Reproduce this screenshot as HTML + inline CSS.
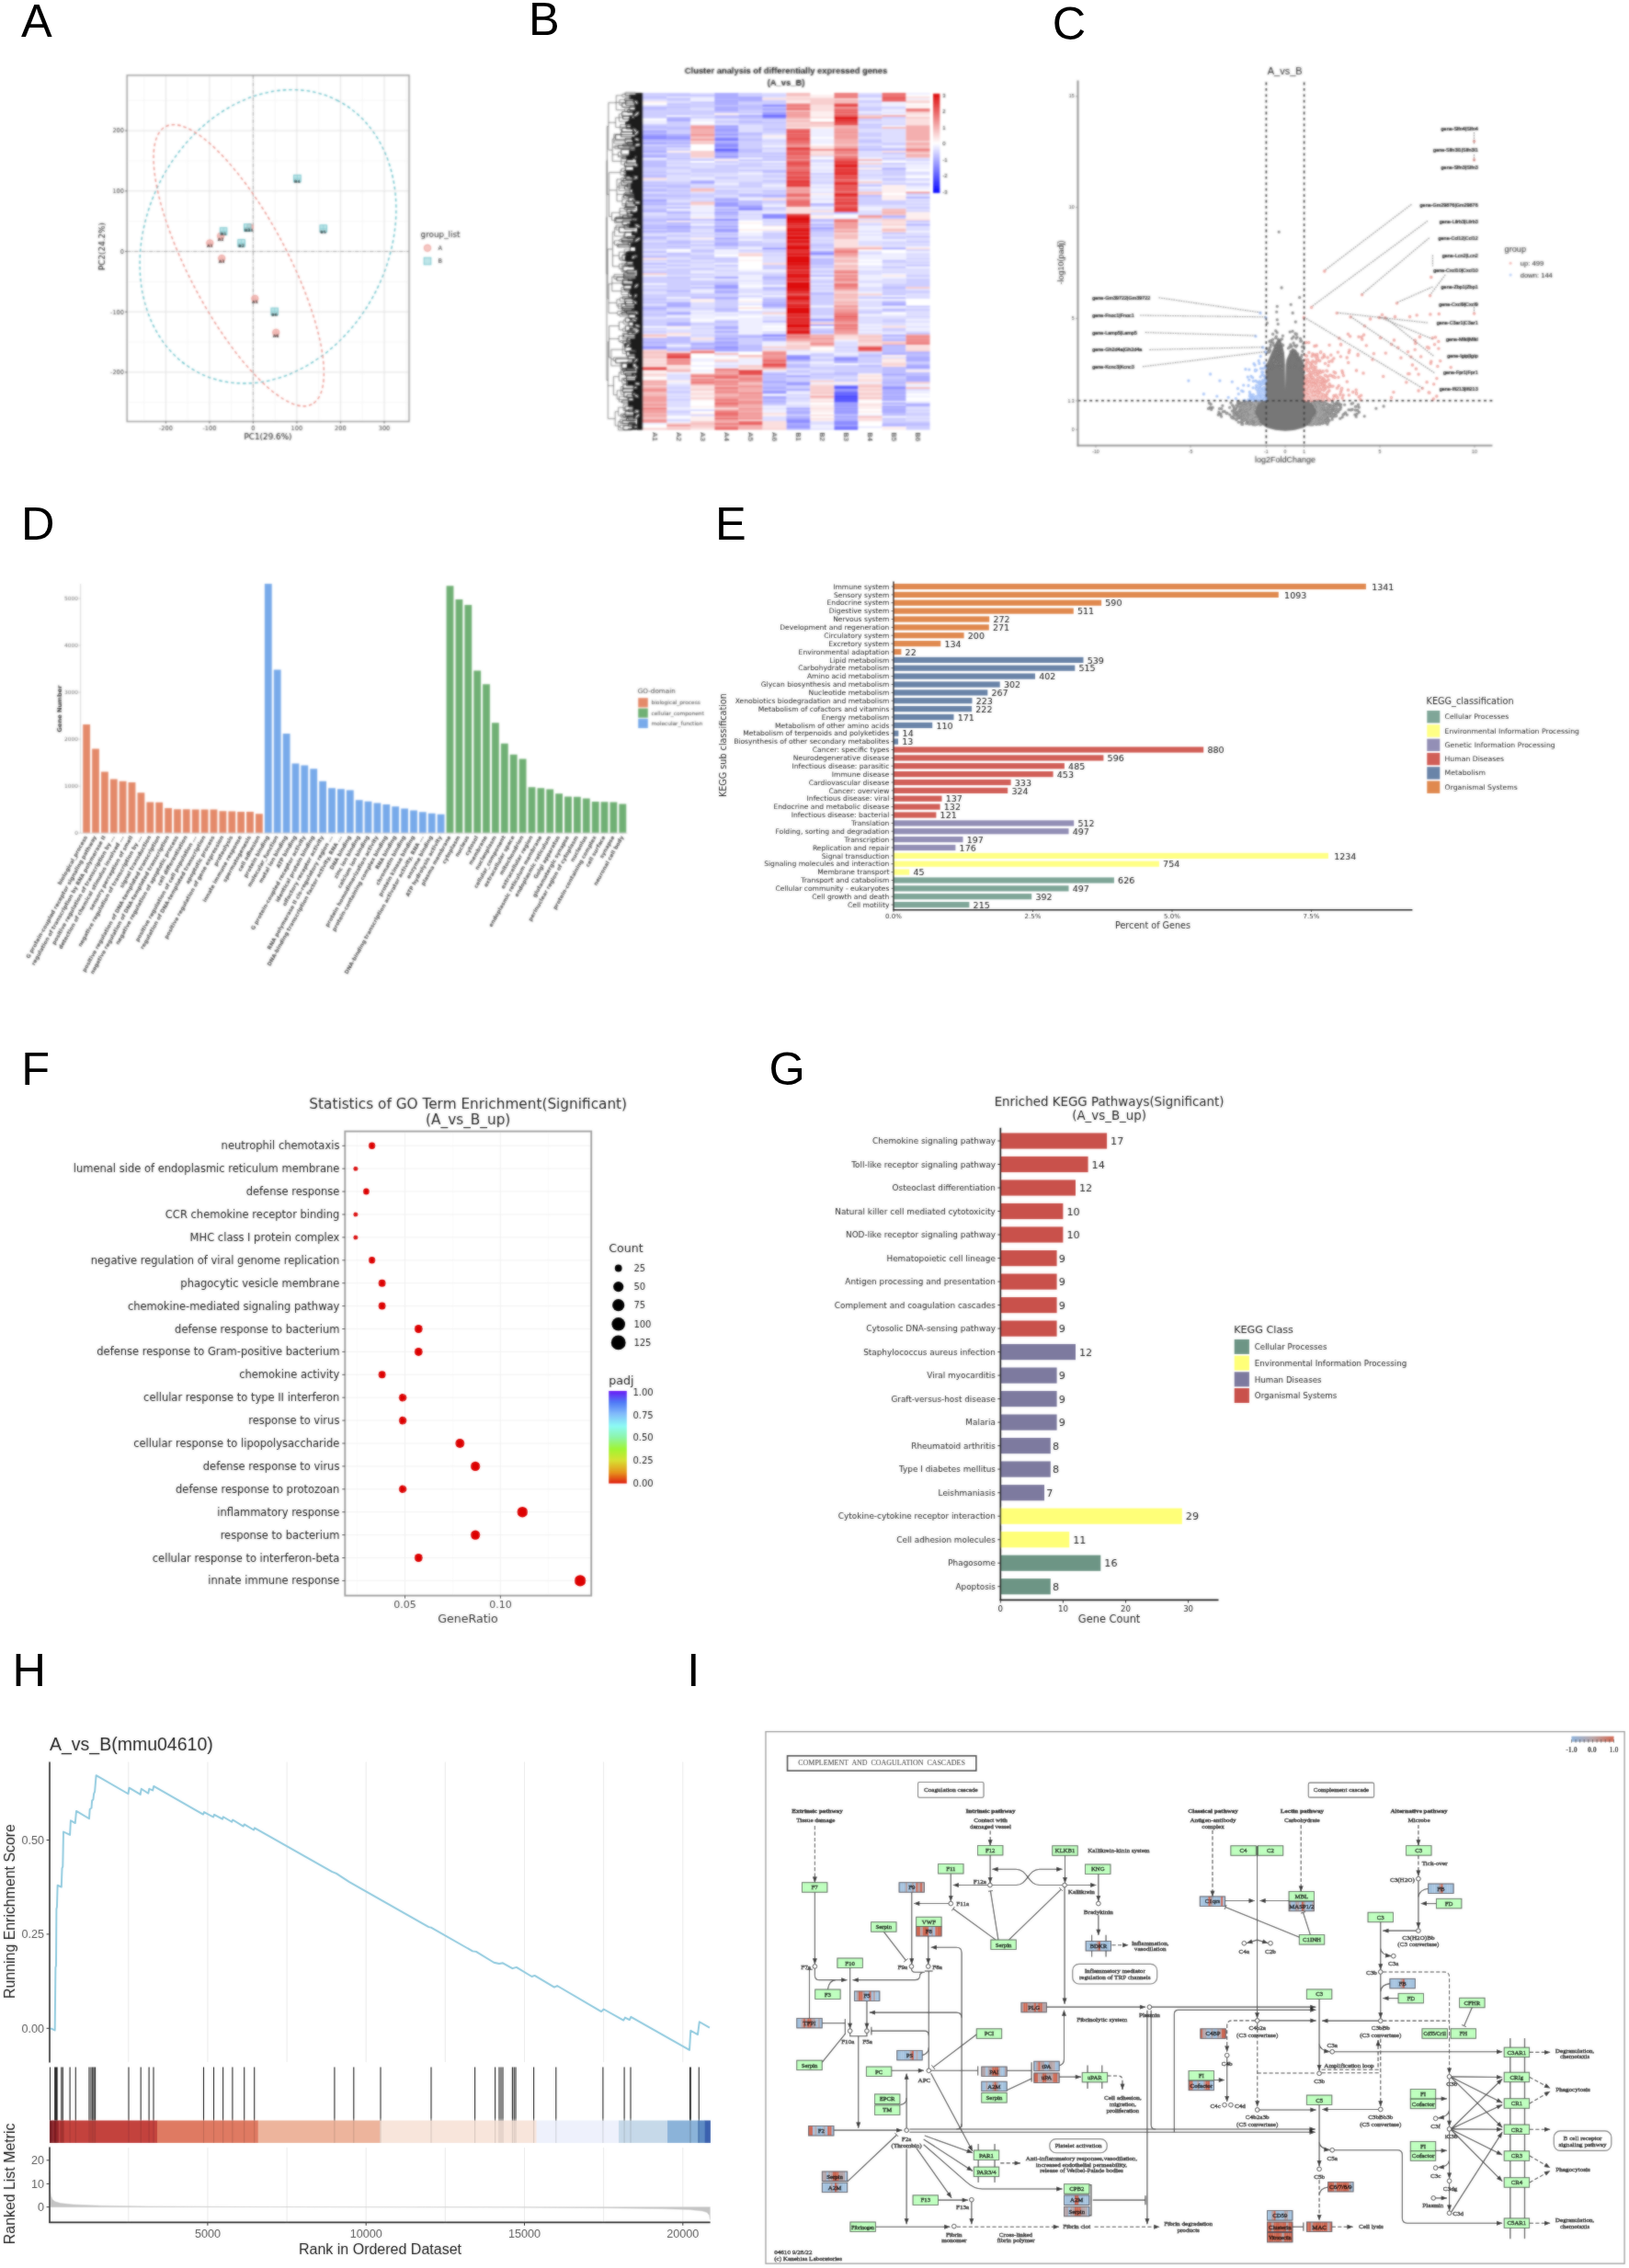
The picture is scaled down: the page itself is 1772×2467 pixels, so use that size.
<!DOCTYPE html><html><head><meta charset="utf-8"><title>Figure</title>
<style>html,body{margin:0;padding:0;background:#fff}svg{display:block}text{white-space:pre}</style></head><body>
<svg width="1772" height="2467" viewBox="0 0 1772 2467">
<defs><filter id="bla" x="-5%" y="-5%" width="110%" height="110%"><feGaussianBlur stdDeviation="0.85" result="b"/><feComposite in="SourceGraphic" in2="b" operator="arithmetic" k1="0" k2="0.20" k3="0.80" k4="0"/></filter><filter id="blb" x="-5%" y="-5%" width="110%" height="110%"><feGaussianBlur stdDeviation="0.85" result="b"/><feComposite in="SourceGraphic" in2="b" operator="arithmetic" k1="0" k2="0.15" k3="0.85" k4="0"/></filter><filter id="blc" x="-5%" y="-5%" width="110%" height="110%"><feGaussianBlur stdDeviation="0.85" result="b"/><feComposite in="SourceGraphic" in2="b" operator="arithmetic" k1="0" k2="0.20" k3="0.80" k4="0"/></filter><filter id="bld" x="-5%" y="-5%" width="110%" height="110%"><feGaussianBlur stdDeviation="0.85" result="b"/><feComposite in="SourceGraphic" in2="b" operator="arithmetic" k1="0" k2="0.25" k3="0.75" k4="0"/></filter><filter id="ble" x="-5%" y="-5%" width="110%" height="110%"><feGaussianBlur stdDeviation="0.85" result="b"/><feComposite in="SourceGraphic" in2="b" operator="arithmetic" k1="0" k2="0.45" k3="0.55" k4="0"/></filter><filter id="blf" x="-5%" y="-5%" width="110%" height="110%"><feGaussianBlur stdDeviation="0.85" result="b"/><feComposite in="SourceGraphic" in2="b" operator="arithmetic" k1="0" k2="0.50" k3="0.50" k4="0"/></filter><filter id="blg" x="-5%" y="-5%" width="110%" height="110%"><feGaussianBlur stdDeviation="0.85" result="b"/><feComposite in="SourceGraphic" in2="b" operator="arithmetic" k1="0" k2="0.50" k3="0.50" k4="0"/></filter><filter id="blh" x="-5%" y="-5%" width="110%" height="110%"><feGaussianBlur stdDeviation="0.85" result="b"/><feComposite in="SourceGraphic" in2="b" operator="arithmetic" k1="0" k2="0.70" k3="0.30" k4="0"/></filter><filter id="bli" x="-5%" y="-5%" width="110%" height="110%"><feGaussianBlur stdDeviation="0.85" result="b"/><feComposite in="SourceGraphic" in2="b" operator="arithmetic" k1="0" k2="0.55" k3="0.45" k4="0"/></filter></defs>
<rect width="1772" height="2467" fill="#fff"/>
<text x="22.9" y="39.8" font-size="50.5" font-family='"Liberation Sans", sans-serif'>A</text>
<text x="575" y="38.1" font-size="50.5" font-family='"Liberation Sans", sans-serif'>B</text>
<text x="1144.7" y="42.9" font-size="50.5" font-family='"Liberation Sans", sans-serif'>C</text>
<text x="23.1" y="587" font-size="50.5" font-family='"Liberation Sans", sans-serif'>D</text>
<text x="778.1" y="587" font-size="50.5" font-family='"Liberation Sans", sans-serif'>E</text>
<text x="23.3" y="1179.9" font-size="50.5" font-family='"Liberation Sans", sans-serif'>F</text>
<text x="836.4" y="1179.9" font-size="50.5" font-family='"Liberation Sans", sans-serif'>G</text>
<text x="13.5" y="1834.3" font-size="50.5" font-family='"Liberation Sans", sans-serif'>H</text>
<text x="747.2" y="1834.3" font-size="50.5" font-family='"Liberation Sans", sans-serif'>I</text>
<g filter="url(#bla)"><g font-family='"DejaVu Sans", "Liberation Sans", sans-serif'>
<line x1="156.6" y1="81.9" x2="156.6" y2="458.5" stroke="#f0f0f0" stroke-width="0.6"/>
<line x1="204.1" y1="81.9" x2="204.1" y2="458.5" stroke="#f0f0f0" stroke-width="0.6"/>
<line x1="251.6" y1="81.9" x2="251.6" y2="458.5" stroke="#f0f0f0" stroke-width="0.6"/>
<line x1="299.2" y1="81.9" x2="299.2" y2="458.5" stroke="#f0f0f0" stroke-width="0.6"/>
<line x1="346.7" y1="81.9" x2="346.7" y2="458.5" stroke="#f0f0f0" stroke-width="0.6"/>
<line x1="394.2" y1="81.9" x2="394.2" y2="458.5" stroke="#f0f0f0" stroke-width="0.6"/>
<line x1="441.7" y1="81.9" x2="441.7" y2="458.5" stroke="#f0f0f0" stroke-width="0.6"/>
<line x1="138.2" y1="437.8" x2="445" y2="437.8" stroke="#f0f0f0" stroke-width="0.6"/>
<line x1="138.2" y1="372.1" x2="445" y2="372.1" stroke="#f0f0f0" stroke-width="0.6"/>
<line x1="138.2" y1="306.4" x2="445" y2="306.4" stroke="#f0f0f0" stroke-width="0.6"/>
<line x1="138.2" y1="240.7" x2="445" y2="240.7" stroke="#f0f0f0" stroke-width="0.6"/>
<line x1="138.2" y1="174.9" x2="445" y2="174.9" stroke="#f0f0f0" stroke-width="0.6"/>
<line x1="138.2" y1="109.2" x2="445" y2="109.2" stroke="#f0f0f0" stroke-width="0.6"/>
<line x1="180.4" y1="81.9" x2="180.4" y2="458.5" stroke="#e2e2e2" stroke-width="1"/>
<line x1="227.9" y1="81.9" x2="227.9" y2="458.5" stroke="#e2e2e2" stroke-width="1"/>
<line x1="275.4" y1="81.9" x2="275.4" y2="458.5" stroke="#e2e2e2" stroke-width="1"/>
<line x1="322.9" y1="81.9" x2="322.9" y2="458.5" stroke="#e2e2e2" stroke-width="1"/>
<line x1="370.4" y1="81.9" x2="370.4" y2="458.5" stroke="#e2e2e2" stroke-width="1"/>
<line x1="418" y1="81.9" x2="418" y2="458.5" stroke="#e2e2e2" stroke-width="1"/>
<line x1="138.2" y1="404.9" x2="445" y2="404.9" stroke="#e2e2e2" stroke-width="1"/>
<line x1="138.2" y1="339.2" x2="445" y2="339.2" stroke="#e2e2e2" stroke-width="1"/>
<line x1="138.2" y1="273.5" x2="445" y2="273.5" stroke="#e2e2e2" stroke-width="1"/>
<line x1="138.2" y1="207.8" x2="445" y2="207.8" stroke="#e2e2e2" stroke-width="1"/>
<line x1="138.2" y1="142.1" x2="445" y2="142.1" stroke="#e2e2e2" stroke-width="1"/>
<line x1="275.4" y1="81.9" x2="275.4" y2="458.5" stroke="#9a9a9a" stroke-width="0.9" stroke-dasharray="4 1.5 1 1.5"/>
<line x1="138.2" y1="273.5" x2="445" y2="273.5" stroke="#9a9a9a" stroke-width="0.9" stroke-dasharray="4 1.5 1 1.5"/>
<ellipse cx="291.5" cy="257.3" rx="166.2" ry="131.6" transform="rotate(-63.1 291.5 257.3)" fill="none" stroke="#5fbec7" stroke-width="1.35" stroke-dasharray="3.6 2.9"/>
<ellipse cx="259.7" cy="288.7" rx="170.7" ry="53.6" transform="rotate(62.2 259.7 288.7)" fill="none" stroke="#ea8d84" stroke-width="1.35" stroke-dasharray="3.6 2.9"/>
<rect x="138.2" y="81.9" width="306.8" height="376.6" fill="none" stroke="#9a9a9a" stroke-width="1.4"/>
<circle cx="228.3" cy="264.4" r="3.7" fill="#f3b6b0" fill-opacity=".75" stroke="#e8968f" stroke-width=".8"/>
<path d="M224.6 264.4h7.4M228.3 260.7v7.4" stroke="#e8968f" stroke-width=".6" opacity=".8"/>
<text x="228.3" y="269.3" font-size="4.6" text-anchor="middle" font-weight="bold" fill="#111">A1</text>
<circle cx="240.1" cy="256.7" r="3.7" fill="#f3b6b0" fill-opacity=".75" stroke="#e8968f" stroke-width=".8"/>
<path d="M236.4 256.7h7.4M240.1 253v7.4" stroke="#e8968f" stroke-width=".6" opacity=".8"/>
<text x="240.1" y="261.6" font-size="4.6" text-anchor="middle" font-weight="bold" fill="#111">A2</text>
<circle cx="241.2" cy="281" r="3.7" fill="#f3b6b0" fill-opacity=".75" stroke="#e8968f" stroke-width=".8"/>
<path d="M237.5 281h7.4M241.2 277.3v7.4" stroke="#e8968f" stroke-width=".6" opacity=".8"/>
<text x="241.2" y="285.9" font-size="4.6" text-anchor="middle" font-weight="bold" fill="#111">A3</text>
<circle cx="271.9" cy="247.2" r="3.7" fill="#f3b6b0" fill-opacity=".75" stroke="#e8968f" stroke-width=".8"/>
<path d="M268.2 247.2h7.4M271.9 243.5v7.4" stroke="#e8968f" stroke-width=".6" opacity=".8"/>
<text x="271.9" y="252.1" font-size="4.6" text-anchor="middle" font-weight="bold" fill="#111">A4</text>
<circle cx="277.3" cy="324.8" r="3.7" fill="#f3b6b0" fill-opacity=".75" stroke="#e8968f" stroke-width=".8"/>
<path d="M273.6 324.8h7.4M277.3 321.1v7.4" stroke="#e8968f" stroke-width=".6" opacity=".8"/>
<text x="277.3" y="329.7" font-size="4.6" text-anchor="middle" font-weight="bold" fill="#111">A5</text>
<circle cx="300.2" cy="361.7" r="3.7" fill="#f3b6b0" fill-opacity=".75" stroke="#e8968f" stroke-width=".8"/>
<path d="M296.5 361.7h7.4M300.2 358v7.4" stroke="#e8968f" stroke-width=".6" opacity=".8"/>
<text x="300.2" y="366.6" font-size="4.6" text-anchor="middle" font-weight="bold" fill="#111">A6</text>
<rect x="239.3" y="247.7" width="7.6" height="7.6" fill="#a8dde1" fill-opacity=".75" stroke="#62bdc6" stroke-width=".8"/>
<path d="M239.3 251.5h7.6M243.1 247.7v7.6" stroke="#62bdc6" stroke-width=".6" opacity=".8"/>
<text x="243.1" y="256.4" font-size="4.6" text-anchor="middle" font-weight="bold" fill="#111">B1</text>
<rect x="258.8" y="260.6" width="7.6" height="7.6" fill="#a8dde1" fill-opacity=".75" stroke="#62bdc6" stroke-width=".8"/>
<path d="M258.8 264.4h7.6M262.6 260.6v7.6" stroke="#62bdc6" stroke-width=".6" opacity=".8"/>
<text x="262.6" y="269.3" font-size="4.6" text-anchor="middle" font-weight="bold" fill="#111">B2</text>
<rect x="265.4" y="243.7" width="7.6" height="7.6" fill="#a8dde1" fill-opacity=".75" stroke="#62bdc6" stroke-width=".8"/>
<path d="M265.4 247.5h7.6M269.2 243.7v7.6" stroke="#62bdc6" stroke-width=".6" opacity=".8"/>
<text x="269.2" y="252.4" font-size="4.6" text-anchor="middle" font-weight="bold" fill="#111">B3</text>
<rect x="319.6" y="190.3" width="7.6" height="7.6" fill="#a8dde1" fill-opacity=".75" stroke="#62bdc6" stroke-width=".8"/>
<path d="M319.6 194.1h7.6M323.4 190.3v7.6" stroke="#62bdc6" stroke-width=".6" opacity=".8"/>
<text x="323.4" y="199" font-size="4.6" text-anchor="middle" font-weight="bold" fill="#111">B4</text>
<rect x="347.9" y="244.8" width="7.6" height="7.6" fill="#a8dde1" fill-opacity=".75" stroke="#62bdc6" stroke-width=".8"/>
<path d="M347.9 248.6h7.6M351.7 244.8v7.6" stroke="#62bdc6" stroke-width=".6" opacity=".8"/>
<text x="351.7" y="253.5" font-size="4.6" text-anchor="middle" font-weight="bold" fill="#111">B5</text>
<rect x="294.9" y="335" width="7.6" height="7.6" fill="#a8dde1" fill-opacity=".75" stroke="#62bdc6" stroke-width=".8"/>
<path d="M294.9 338.8h7.6M298.7 335v7.6" stroke="#62bdc6" stroke-width=".6" opacity=".8"/>
<text x="298.7" y="343.7" font-size="4.6" text-anchor="middle" font-weight="bold" fill="#111">B6</text>
<line x1="180.4" y1="458.5" x2="180.4" y2="460.5" stroke="#333" stroke-width="0.9"/>
<text x="180.4" y="467.9" font-size="6.6" text-anchor="middle" fill="#333">-200</text>
<line x1="227.9" y1="458.5" x2="227.9" y2="460.5" stroke="#333" stroke-width="0.9"/>
<text x="227.9" y="467.9" font-size="6.6" text-anchor="middle" fill="#333">-100</text>
<line x1="275.4" y1="458.5" x2="275.4" y2="460.5" stroke="#333" stroke-width="0.9"/>
<text x="275.4" y="467.9" font-size="6.6" text-anchor="middle" fill="#333">0</text>
<line x1="322.9" y1="458.5" x2="322.9" y2="460.5" stroke="#333" stroke-width="0.9"/>
<text x="322.9" y="467.9" font-size="6.6" text-anchor="middle" fill="#333">100</text>
<line x1="370.4" y1="458.5" x2="370.4" y2="460.5" stroke="#333" stroke-width="0.9"/>
<text x="370.4" y="467.9" font-size="6.6" text-anchor="middle" fill="#333">200</text>
<line x1="418" y1="458.5" x2="418" y2="460.5" stroke="#333" stroke-width="0.9"/>
<text x="418" y="467.9" font-size="6.6" text-anchor="middle" fill="#333">300</text>
<line x1="136.2" y1="404.9" x2="138.2" y2="404.9" stroke="#333" stroke-width="0.9"/>
<text x="135" y="407.2" font-size="6.6" text-anchor="end" fill="#333">-200</text>
<line x1="136.2" y1="339.2" x2="138.2" y2="339.2" stroke="#333" stroke-width="0.9"/>
<text x="135" y="341.5" font-size="6.6" text-anchor="end" fill="#333">-100</text>
<line x1="136.2" y1="273.5" x2="138.2" y2="273.5" stroke="#333" stroke-width="0.9"/>
<text x="135" y="275.8" font-size="6.6" text-anchor="end" fill="#333">0</text>
<line x1="136.2" y1="207.8" x2="138.2" y2="207.8" stroke="#333" stroke-width="0.9"/>
<text x="135" y="210.1" font-size="6.6" text-anchor="end" fill="#333">100</text>
<line x1="136.2" y1="142.1" x2="138.2" y2="142.1" stroke="#333" stroke-width="0.9"/>
<text x="135" y="144.4" font-size="6.6" text-anchor="end" fill="#333">200</text>
<text x="291.5" y="478" font-size="8.8" text-anchor="middle" fill="#111">PC1(29.6%)</text>
<text x="114" y="268" font-size="8.8" text-anchor="middle" fill="#111" transform="rotate(-90 114 268)">PC2(24.2%)</text>
<text x="457.6" y="258" font-size="8.8" fill="#222">group_list</text>
<circle cx="465" cy="269.8" r="3.7" fill="#f3b6b0" fill-opacity=".75" stroke="#e8968f" stroke-width=".8"/>
<rect x="461.2" y="280.2" width="7.6" height="7.6" fill="#a8dde1" stroke="#62bdc6" stroke-width="0.8" fill-opacity=".75"/>
<text x="476.5" y="272.2" font-size="6.6" fill="#222">A</text>
<text x="476.5" y="286.4" font-size="6.6" fill="#222">B</text>
</g></g>
<g filter="url(#blb)"><g font-family='"Liberation Sans", sans-serif'>
<text x="855" y="79.6" font-size="9.4" text-anchor="middle" font-weight="bold" fill="#111">Cluster analysis of differentially expressed genes</text>
<text x="855" y="93" font-size="9.4" text-anchor="middle" font-weight="bold" fill="#111">(A_vs_B)</text>
<path fill="#ceceff" d="M699.2 101.1h26.1v1.9h-26.1zM699.2 102.9h26.1v1.9h-26.1zM699.2 106.6h26.1v1.9h-26.1zM699.2 119.6h26.1v1.9h-26.1zM699.2 121.4h26.1v1.9h-26.1zM699.2 123.3h26.1v1.9h-26.1zM699.2 125.1h26.1v1.9h-26.1zM699.2 127h26.1v1.9h-26.1zM699.2 134.4h26.1v1.9h-26.1zM699.2 139.9h26.1v1.9h-26.1zM699.2 156.6h26.1v1.9h-26.1zM699.2 165.8h26.1v1.9h-26.1zM699.2 173.2h26.1v1.9h-26.1zM699.2 182.5h26.1v1.9h-26.1zM699.2 184.3h26.1v1.9h-26.1zM699.2 188h26.1v1.9h-26.1zM699.2 199.1h26.1v1.9h-26.1zM699.2 202.8h26.1v1.9h-26.1zM699.2 213.9h26.1v1.9h-26.1zM699.2 223.2h26.1v1.9h-26.1zM699.2 225h26.1v1.9h-26.1zM699.2 234.3h26.1v1.9h-26.1zM699.2 236.1h26.1v1.9h-26.1zM699.2 241.7h26.1v1.9h-26.1zM699.2 249.1h26.1v1.9h-26.1zM699.2 252.8h26.1v1.9h-26.1zM699.2 260.2h26.1v1.9h-26.1zM699.2 265.8h26.1v1.9h-26.1zM699.2 267.6h26.1v1.9h-26.1zM699.2 269.4h26.1v1.9h-26.1zM699.2 276.9h26.1v1.9h-26.1zM699.2 282.4h26.1v1.9h-26.1zM699.2 293.5h26.1v1.9h-26.1zM699.2 300.9h26.1v1.9h-26.1zM699.2 302.8h26.1v1.9h-26.1zM699.2 304.6h26.1v1.9h-26.1zM699.2 306.4h26.1v1.9h-26.1zM699.2 310.1h26.1v1.9h-26.1zM699.2 313.8h26.1v1.9h-26.1zM699.2 315.7h26.1v1.9h-26.1zM699.2 319.4h26.1v1.9h-26.1zM699.2 321.2h26.1v1.9h-26.1zM699.2 323.1h26.1v1.9h-26.1zM699.2 326.8h26.1v1.9h-26.1zM699.2 337.9h26.1v1.9h-26.1zM699.2 339.8h26.1v1.9h-26.1zM699.2 343.4h26.1v1.9h-26.1zM699.2 347.1h26.1v1.9h-26.1zM699.2 349h26.1v1.9h-26.1zM699.2 350.8h26.1v1.9h-26.1zM699.2 356.4h26.1v1.9h-26.1zM699.2 360.1h26.1v1.9h-26.1zM725.2 101.1h26.1v1.9h-26.1zM725.2 108.5h26.1v1.9h-26.1zM725.2 114h26.1v1.9h-26.1zM725.2 117.8h26.1v1.9h-26.1zM725.2 119.6h26.1v1.9h-26.1zM725.2 121.4h26.1v1.9h-26.1zM725.2 132.5h26.1v1.9h-26.1zM725.2 134.4h26.1v1.9h-26.1zM725.2 136.2h26.1v1.9h-26.1zM725.2 141.8h26.1v1.9h-26.1zM725.2 143.6h26.1v1.9h-26.1zM725.2 156.6h26.1v1.9h-26.1zM725.2 162.1h26.1v1.9h-26.1zM725.2 165.8h26.1v1.9h-26.1zM725.2 167.7h26.1v1.9h-26.1zM725.2 169.5h26.1v1.9h-26.1zM725.2 173.2h26.1v1.9h-26.1zM725.2 176.9h26.1v1.9h-26.1zM725.2 180.6h26.1v1.9h-26.1zM725.2 182.5h26.1v1.9h-26.1zM725.2 188h26.1v1.9h-26.1zM725.2 197.3h26.1v1.9h-26.1zM725.2 199.1h26.1v1.9h-26.1zM725.2 204.7h26.1v1.9h-26.1zM725.2 208.4h26.1v1.9h-26.1zM725.2 210.2h26.1v1.9h-26.1zM725.2 213.9h26.1v1.9h-26.1zM725.2 215.8h26.1v1.9h-26.1zM725.2 219.5h26.1v1.9h-26.1zM725.2 228.8h26.1v1.9h-26.1zM725.2 232.4h26.1v1.9h-26.1zM725.2 234.3h26.1v1.9h-26.1zM725.2 236.1h26.1v1.9h-26.1zM725.2 254.6h26.1v1.9h-26.1zM725.2 256.5h26.1v1.9h-26.1zM725.2 260.2h26.1v1.9h-26.1zM725.2 265.8h26.1v1.9h-26.1zM725.2 269.4h26.1v1.9h-26.1zM725.2 276.9h26.1v1.9h-26.1zM725.2 278.7h26.1v1.9h-26.1zM725.2 284.2h26.1v1.9h-26.1zM725.2 291.6h26.1v1.9h-26.1zM725.2 293.5h26.1v1.9h-26.1zM725.2 295.4h26.1v1.9h-26.1zM725.2 297.2h26.1v1.9h-26.1zM725.2 302.8h26.1v1.9h-26.1zM725.2 304.6h26.1v1.9h-26.1zM725.2 306.4h26.1v1.9h-26.1zM725.2 308.3h26.1v1.9h-26.1zM725.2 310.1h26.1v1.9h-26.1zM725.2 312h26.1v1.9h-26.1zM725.2 313.8h26.1v1.9h-26.1zM725.2 317.5h26.1v1.9h-26.1zM725.2 319.4h26.1v1.9h-26.1zM725.2 321.2h26.1v1.9h-26.1zM725.2 324.9h26.1v1.9h-26.1zM725.2 334.2h26.1v1.9h-26.1zM725.2 337.9h26.1v1.9h-26.1zM725.2 341.6h26.1v1.9h-26.1zM725.2 345.3h26.1v1.9h-26.1zM725.2 347.1h26.1v1.9h-26.1zM725.2 349h26.1v1.9h-26.1zM725.2 373h26.1v1.9h-26.1zM725.2 376.8h26.1v1.9h-26.1zM725.2 421.1h26.1v1.9h-26.1zM725.2 424.9h26.1v1.9h-26.1zM725.2 426.7h26.1v1.9h-26.1zM725.2 430.4h26.1v1.9h-26.1zM725.2 434.1h26.1v1.9h-26.1zM725.2 447h26.1v1.9h-26.1zM725.2 456.3h26.1v1.9h-26.1zM751.2 112.2h26.1v1.9h-26.1zM751.2 114h26.1v1.9h-26.1zM751.2 115.9h26.1v1.9h-26.1zM751.2 119.6h26.1v1.9h-26.1zM751.2 121.4h26.1v1.9h-26.1zM751.2 123.3h26.1v1.9h-26.1zM751.2 127h26.1v1.9h-26.1zM751.2 176.9h26.1v1.9h-26.1zM751.2 182.5h26.1v1.9h-26.1zM751.2 184.3h26.1v1.9h-26.1zM751.2 186.2h26.1v1.9h-26.1zM751.2 189.9h26.1v1.9h-26.1zM751.2 199.1h26.1v1.9h-26.1zM751.2 202.8h26.1v1.9h-26.1zM751.2 210.2h26.1v1.9h-26.1zM751.2 212.1h26.1v1.9h-26.1zM751.2 213.9h26.1v1.9h-26.1zM751.2 217.6h26.1v1.9h-26.1zM751.2 241.7h26.1v1.9h-26.1zM751.2 247.2h26.1v1.9h-26.1zM751.2 252.8h26.1v1.9h-26.1zM751.2 256.5h26.1v1.9h-26.1zM751.2 262h26.1v1.9h-26.1zM751.2 273.1h26.1v1.9h-26.1zM751.2 276.9h26.1v1.9h-26.1zM751.2 278.7h26.1v1.9h-26.1zM751.2 284.2h26.1v1.9h-26.1zM751.2 297.2h26.1v1.9h-26.1zM751.2 300.9h26.1v1.9h-26.1zM751.2 304.6h26.1v1.9h-26.1zM751.2 306.4h26.1v1.9h-26.1zM751.2 321.2h26.1v1.9h-26.1zM751.2 334.2h26.1v1.9h-26.1zM751.2 350.8h26.1v1.9h-26.1zM751.2 352.7h26.1v1.9h-26.1zM751.2 356.4h26.1v1.9h-26.1zM751.2 363.8h26.1v1.9h-26.1zM751.2 371.2h26.1v1.9h-26.1zM751.2 445.2h26.1v1.9h-26.1zM751.2 450.8h26.1v1.9h-26.1zM777.2 130.7h26.1v1.9h-26.1zM777.2 132.5h26.1v1.9h-26.1zM777.2 175.1h26.1v1.9h-26.1zM777.2 178.8h26.1v1.9h-26.1zM777.2 180.6h26.1v1.9h-26.1zM777.2 182.5h26.1v1.9h-26.1zM777.2 184.3h26.1v1.9h-26.1zM777.2 186.2h26.1v1.9h-26.1zM777.2 191.8h26.1v1.9h-26.1zM777.2 193.6h26.1v1.9h-26.1zM777.2 202.8h26.1v1.9h-26.1zM777.2 208.4h26.1v1.9h-26.1zM777.2 210.2h26.1v1.9h-26.1zM777.2 213.9h26.1v1.9h-26.1zM777.2 225h26.1v1.9h-26.1zM777.2 236.1h26.1v1.9h-26.1zM777.2 252.8h26.1v1.9h-26.1zM777.2 256.5h26.1v1.9h-26.1zM777.2 267.6h26.1v1.9h-26.1zM777.2 282.4h26.1v1.9h-26.1zM777.2 284.2h26.1v1.9h-26.1zM777.2 293.5h26.1v1.9h-26.1zM777.2 304.6h26.1v1.9h-26.1zM777.2 319.4h26.1v1.9h-26.1zM777.2 321.2h26.1v1.9h-26.1zM777.2 326.8h26.1v1.9h-26.1zM777.2 328.6h26.1v1.9h-26.1zM777.2 330.5h26.1v1.9h-26.1zM777.2 332.3h26.1v1.9h-26.1zM777.2 350.8h26.1v1.9h-26.1zM777.2 352.7h26.1v1.9h-26.1zM777.2 358.2h26.1v1.9h-26.1zM777.2 361.9h26.1v1.9h-26.1zM803.3 101.1h26.1v1.9h-26.1zM803.3 102.9h26.1v1.9h-26.1zM803.3 110.3h26.1v1.9h-26.1zM803.3 112.2h26.1v1.9h-26.1zM803.3 119.6h26.1v1.9h-26.1zM803.3 128.8h26.1v1.9h-26.1zM803.3 134.4h26.1v1.9h-26.1zM803.3 147.3h26.1v1.9h-26.1zM803.3 149.2h26.1v1.9h-26.1zM803.3 152.9h26.1v1.9h-26.1zM803.3 154.8h26.1v1.9h-26.1zM803.3 156.6h26.1v1.9h-26.1zM803.3 158.4h26.1v1.9h-26.1zM803.3 160.3h26.1v1.9h-26.1zM803.3 165.8h26.1v1.9h-26.1zM803.3 167.7h26.1v1.9h-26.1zM803.3 176.9h26.1v1.9h-26.1zM803.3 178.8h26.1v1.9h-26.1zM803.3 180.6h26.1v1.9h-26.1zM803.3 197.3h26.1v1.9h-26.1zM803.3 199.1h26.1v1.9h-26.1zM803.3 201h26.1v1.9h-26.1zM803.3 202.8h26.1v1.9h-26.1zM803.3 206.5h26.1v1.9h-26.1zM803.3 232.4h26.1v1.9h-26.1zM803.3 262h26.1v1.9h-26.1zM803.3 263.9h26.1v1.9h-26.1zM803.3 271.3h26.1v1.9h-26.1zM803.3 321.2h26.1v1.9h-26.1zM803.3 367.5h26.1v1.9h-26.1zM803.3 369.4h26.1v1.9h-26.1zM803.3 371.2h26.1v1.9h-26.1zM803.3 373h26.1v1.9h-26.1zM829.3 102.9h26.1v1.9h-26.1zM829.3 108.5h26.1v1.9h-26.1zM829.3 110.3h26.1v1.9h-26.1zM829.3 128.8h26.1v1.9h-26.1zM829.3 130.7h26.1v1.9h-26.1zM829.3 134.4h26.1v1.9h-26.1zM829.3 136.2h26.1v1.9h-26.1zM829.3 138.1h26.1v1.9h-26.1zM829.3 141.8h26.1v1.9h-26.1zM829.3 143.6h26.1v1.9h-26.1zM829.3 152.9h26.1v1.9h-26.1zM829.3 160.3h26.1v1.9h-26.1zM829.3 167.7h26.1v1.9h-26.1zM829.3 171.4h26.1v1.9h-26.1zM829.3 176.9h26.1v1.9h-26.1zM829.3 180.6h26.1v1.9h-26.1zM829.3 189.9h26.1v1.9h-26.1zM829.3 191.8h26.1v1.9h-26.1zM829.3 197.3h26.1v1.9h-26.1zM829.3 208.4h26.1v1.9h-26.1zM829.3 210.2h26.1v1.9h-26.1zM829.3 213.9h26.1v1.9h-26.1zM829.3 217.6h26.1v1.9h-26.1zM829.3 219.5h26.1v1.9h-26.1zM829.3 225h26.1v1.9h-26.1zM829.3 226.9h26.1v1.9h-26.1zM829.3 239.8h26.1v1.9h-26.1zM829.3 243.5h26.1v1.9h-26.1zM829.3 252.8h26.1v1.9h-26.1zM829.3 254.6h26.1v1.9h-26.1zM829.3 256.5h26.1v1.9h-26.1zM829.3 258.4h26.1v1.9h-26.1zM829.3 263.9h26.1v1.9h-26.1zM829.3 265.8h26.1v1.9h-26.1zM829.3 267.6h26.1v1.9h-26.1zM829.3 271.3h26.1v1.9h-26.1zM829.3 273.1h26.1v1.9h-26.1zM829.3 276.9h26.1v1.9h-26.1zM829.3 287.9h26.1v1.9h-26.1zM829.3 289.8h26.1v1.9h-26.1zM829.3 291.6h26.1v1.9h-26.1zM829.3 297.2h26.1v1.9h-26.1zM829.3 299h26.1v1.9h-26.1zM829.3 304.6h26.1v1.9h-26.1zM829.3 306.4h26.1v1.9h-26.1zM829.3 308.3h26.1v1.9h-26.1zM829.3 315.7h26.1v1.9h-26.1zM829.3 319.4h26.1v1.9h-26.1zM829.3 323.1h26.1v1.9h-26.1zM829.3 334.2h26.1v1.9h-26.1zM829.3 439.6h26.1v1.9h-26.1zM855.3 404.5h26.1v1.9h-26.1zM855.3 410h26.1v1.9h-26.1zM855.3 411.9h26.1v1.9h-26.1zM855.3 413.8h26.1v1.9h-26.1zM855.3 419.3h26.1v1.9h-26.1zM855.3 421.1h26.1v1.9h-26.1zM855.3 428.5h26.1v1.9h-26.1zM855.3 432.2h26.1v1.9h-26.1zM855.3 450.8h26.1v1.9h-26.1zM881.3 173.2h26.1v1.9h-26.1zM881.3 188h26.1v1.9h-26.1zM881.3 191.8h26.1v1.9h-26.1zM881.3 197.3h26.1v1.9h-26.1zM881.3 223.2h26.1v1.9h-26.1zM881.3 245.4h26.1v1.9h-26.1zM881.3 252.8h26.1v1.9h-26.1zM881.3 254.6h26.1v1.9h-26.1zM881.3 256.5h26.1v1.9h-26.1zM881.3 260.2h26.1v1.9h-26.1zM881.3 263.9h26.1v1.9h-26.1zM881.3 267.6h26.1v1.9h-26.1zM881.3 269.4h26.1v1.9h-26.1zM881.3 287.9h26.1v1.9h-26.1zM881.3 293.5h26.1v1.9h-26.1zM881.3 295.4h26.1v1.9h-26.1zM881.3 304.6h26.1v1.9h-26.1zM881.3 306.4h26.1v1.9h-26.1zM881.3 310.1h26.1v1.9h-26.1zM881.3 313.8h26.1v1.9h-26.1zM881.3 321.2h26.1v1.9h-26.1zM881.3 323.1h26.1v1.9h-26.1zM881.3 324.9h26.1v1.9h-26.1zM881.3 326.8h26.1v1.9h-26.1zM881.3 328.6h26.1v1.9h-26.1zM881.3 330.5h26.1v1.9h-26.1zM881.3 334.2h26.1v1.9h-26.1zM881.3 336h26.1v1.9h-26.1zM881.3 337.9h26.1v1.9h-26.1zM881.3 339.8h26.1v1.9h-26.1zM881.3 341.6h26.1v1.9h-26.1zM881.3 345.3h26.1v1.9h-26.1zM881.3 349h26.1v1.9h-26.1zM881.3 356.4h26.1v1.9h-26.1zM881.3 358.2h26.1v1.9h-26.1zM881.3 361.9h26.1v1.9h-26.1zM881.3 384.1h26.1v1.9h-26.1zM881.3 386h26.1v1.9h-26.1zM881.3 389.7h26.1v1.9h-26.1zM881.3 391.5h26.1v1.9h-26.1zM881.3 398.9h26.1v1.9h-26.1zM881.3 400.8h26.1v1.9h-26.1zM881.3 404.5h26.1v1.9h-26.1zM881.3 408.2h26.1v1.9h-26.1zM881.3 410h26.1v1.9h-26.1zM907.3 376.8h26.1v1.9h-26.1zM907.3 380.4h26.1v1.9h-26.1zM907.3 397.1h26.1v1.9h-26.1zM907.3 398.9h26.1v1.9h-26.1zM907.3 400.8h26.1v1.9h-26.1zM907.3 402.6h26.1v1.9h-26.1zM907.3 408.2h26.1v1.9h-26.1zM907.3 411.9h26.1v1.9h-26.1zM907.3 413.8h26.1v1.9h-26.1zM933.4 102.9h26.1v1.9h-26.1zM933.4 104.8h26.1v1.9h-26.1zM933.4 108.5h26.1v1.9h-26.1zM933.4 110.3h26.1v1.9h-26.1zM933.4 115.9h26.1v1.9h-26.1zM933.4 117.8h26.1v1.9h-26.1zM933.4 119.6h26.1v1.9h-26.1zM933.4 123.3h26.1v1.9h-26.1zM933.4 128.8h26.1v1.9h-26.1zM933.4 130.7h26.1v1.9h-26.1zM933.4 136.2h26.1v1.9h-26.1zM933.4 138.1h26.1v1.9h-26.1zM933.4 143.6h26.1v1.9h-26.1zM933.4 145.5h26.1v1.9h-26.1zM933.4 147.3h26.1v1.9h-26.1zM933.4 151h26.1v1.9h-26.1zM933.4 154.8h26.1v1.9h-26.1zM933.4 160.3h26.1v1.9h-26.1zM933.4 180.6h26.1v1.9h-26.1zM933.4 184.3h26.1v1.9h-26.1zM933.4 189.9h26.1v1.9h-26.1zM933.4 213.9h26.1v1.9h-26.1zM933.4 215.8h26.1v1.9h-26.1zM933.4 217.6h26.1v1.9h-26.1zM933.4 219.5h26.1v1.9h-26.1zM933.4 221.3h26.1v1.9h-26.1zM933.4 232.4h26.1v1.9h-26.1zM933.4 243.5h26.1v1.9h-26.1zM933.4 323.1h26.1v1.9h-26.1zM933.4 337.9h26.1v1.9h-26.1zM933.4 339.8h26.1v1.9h-26.1zM933.4 384.1h26.1v1.9h-26.1zM933.4 387.9h26.1v1.9h-26.1zM933.4 389.7h26.1v1.9h-26.1zM933.4 391.5h26.1v1.9h-26.1zM933.4 393.4h26.1v1.9h-26.1zM933.4 398.9h26.1v1.9h-26.1zM933.4 400.8h26.1v1.9h-26.1zM933.4 402.6h26.1v1.9h-26.1zM933.4 404.5h26.1v1.9h-26.1zM959.4 115.9h26.1v1.9h-26.1zM959.4 127h26.1v1.9h-26.1zM959.4 134.4h26.1v1.9h-26.1zM959.4 154.8h26.1v1.9h-26.1zM959.4 156.6h26.1v1.9h-26.1zM959.4 160.3h26.1v1.9h-26.1zM959.4 184.3h26.1v1.9h-26.1zM959.4 186.2h26.1v1.9h-26.1zM959.4 188h26.1v1.9h-26.1zM959.4 189.9h26.1v1.9h-26.1zM959.4 195.4h26.1v1.9h-26.1zM959.4 199.1h26.1v1.9h-26.1zM959.4 217.6h26.1v1.9h-26.1zM959.4 219.5h26.1v1.9h-26.1zM959.4 221.3h26.1v1.9h-26.1zM959.4 236.1h26.1v1.9h-26.1zM959.4 256.5h26.1v1.9h-26.1zM959.4 258.4h26.1v1.9h-26.1zM959.4 263.9h26.1v1.9h-26.1zM959.4 284.2h26.1v1.9h-26.1zM959.4 295.4h26.1v1.9h-26.1zM959.4 308.3h26.1v1.9h-26.1zM959.4 310.1h26.1v1.9h-26.1zM959.4 313.8h26.1v1.9h-26.1zM959.4 315.7h26.1v1.9h-26.1zM959.4 317.5h26.1v1.9h-26.1zM959.4 326.8h26.1v1.9h-26.1zM959.4 337.9h26.1v1.9h-26.1zM959.4 347.1h26.1v1.9h-26.1zM959.4 349h26.1v1.9h-26.1zM959.4 356.4h26.1v1.9h-26.1zM959.4 358.2h26.1v1.9h-26.1zM959.4 365.6h26.1v1.9h-26.1zM959.4 410h26.1v1.9h-26.1zM959.4 439.6h26.1v1.9h-26.1zM959.4 456.3h26.1v1.9h-26.1zM959.4 458.1h26.1v1.9h-26.1zM985.4 173.2h26.1v1.9h-26.1zM985.4 193.6h26.1v1.9h-26.1zM985.4 199.1h26.1v1.9h-26.1zM985.4 210.2h26.1v1.9h-26.1zM985.4 217.6h26.1v1.9h-26.1zM985.4 221.3h26.1v1.9h-26.1zM985.4 225h26.1v1.9h-26.1zM985.4 228.8h26.1v1.9h-26.1zM985.4 262h26.1v1.9h-26.1zM985.4 265.8h26.1v1.9h-26.1zM985.4 271.3h26.1v1.9h-26.1zM985.4 280.5h26.1v1.9h-26.1zM985.4 284.2h26.1v1.9h-26.1zM985.4 299h26.1v1.9h-26.1zM985.4 302.8h26.1v1.9h-26.1zM985.4 304.6h26.1v1.9h-26.1zM985.4 306.4h26.1v1.9h-26.1zM985.4 308.3h26.1v1.9h-26.1zM985.4 310.1h26.1v1.9h-26.1zM985.4 315.7h26.1v1.9h-26.1zM985.4 317.5h26.1v1.9h-26.1zM985.4 336h26.1v1.9h-26.1zM985.4 343.4h26.1v1.9h-26.1zM985.4 393.4h26.1v1.9h-26.1zM985.4 400.8h26.1v1.9h-26.1zM985.4 437.8h26.1v1.9h-26.1zM985.4 441.5h26.1v1.9h-26.1zM985.4 445.2h26.1v1.9h-26.1zM985.4 448.9h26.1v1.9h-26.1zM985.4 450.8h26.1v1.9h-26.1zM985.4 454.4h26.1v1.9h-26.1zM985.4 458.1h26.1v1.9h-26.1zM985.4 463.7h26.1v1.9h-26.1zM985.4 465.5h26.1v1.9h-26.1z"/>
<path fill="#bebeff" d="M699.2 104.8h26.1v1.9h-26.1zM699.2 115.9h26.1v1.9h-26.1zM699.2 117.8h26.1v1.9h-26.1zM699.2 136.2h26.1v1.9h-26.1zM699.2 138.1h26.1v1.9h-26.1zM699.2 152.9h26.1v1.9h-26.1zM699.2 158.4h26.1v1.9h-26.1zM699.2 160.3h26.1v1.9h-26.1zM699.2 162.1h26.1v1.9h-26.1zM699.2 175.1h26.1v1.9h-26.1zM699.2 176.9h26.1v1.9h-26.1zM699.2 178.8h26.1v1.9h-26.1zM699.2 180.6h26.1v1.9h-26.1zM699.2 186.2h26.1v1.9h-26.1zM699.2 189.9h26.1v1.9h-26.1zM699.2 191.8h26.1v1.9h-26.1zM699.2 197.3h26.1v1.9h-26.1zM699.2 201h26.1v1.9h-26.1zM699.2 204.7h26.1v1.9h-26.1zM699.2 210.2h26.1v1.9h-26.1zM699.2 212.1h26.1v1.9h-26.1zM699.2 215.8h26.1v1.9h-26.1zM699.2 219.5h26.1v1.9h-26.1zM699.2 226.9h26.1v1.9h-26.1zM699.2 238h26.1v1.9h-26.1zM699.2 239.8h26.1v1.9h-26.1zM699.2 243.5h26.1v1.9h-26.1zM699.2 245.4h26.1v1.9h-26.1zM699.2 256.5h26.1v1.9h-26.1zM699.2 258.4h26.1v1.9h-26.1zM699.2 263.9h26.1v1.9h-26.1zM699.2 273.1h26.1v1.9h-26.1zM699.2 286.1h26.1v1.9h-26.1zM699.2 289.8h26.1v1.9h-26.1zM699.2 295.4h26.1v1.9h-26.1zM699.2 324.9h26.1v1.9h-26.1zM699.2 328.6h26.1v1.9h-26.1zM699.2 332.3h26.1v1.9h-26.1zM699.2 336h26.1v1.9h-26.1zM699.2 341.6h26.1v1.9h-26.1zM699.2 352.7h26.1v1.9h-26.1zM699.2 369.4h26.1v1.9h-26.1zM699.2 373h26.1v1.9h-26.1zM699.2 374.9h26.1v1.9h-26.1zM725.2 102.9h26.1v1.9h-26.1zM725.2 106.6h26.1v1.9h-26.1zM725.2 112.2h26.1v1.9h-26.1zM725.2 115.9h26.1v1.9h-26.1zM725.2 123.3h26.1v1.9h-26.1zM725.2 127h26.1v1.9h-26.1zM725.2 138.1h26.1v1.9h-26.1zM725.2 139.9h26.1v1.9h-26.1zM725.2 152.9h26.1v1.9h-26.1zM725.2 171.4h26.1v1.9h-26.1zM725.2 201h26.1v1.9h-26.1zM725.2 202.8h26.1v1.9h-26.1zM725.2 206.5h26.1v1.9h-26.1zM725.2 212.1h26.1v1.9h-26.1zM725.2 221.3h26.1v1.9h-26.1zM725.2 225h26.1v1.9h-26.1zM725.2 243.5h26.1v1.9h-26.1zM725.2 249.1h26.1v1.9h-26.1zM725.2 262h26.1v1.9h-26.1zM725.2 263.9h26.1v1.9h-26.1zM725.2 267.6h26.1v1.9h-26.1zM725.2 275h26.1v1.9h-26.1zM725.2 282.4h26.1v1.9h-26.1zM725.2 287.9h26.1v1.9h-26.1zM725.2 300.9h26.1v1.9h-26.1zM725.2 365.6h26.1v1.9h-26.1zM725.2 367.5h26.1v1.9h-26.1zM725.2 369.4h26.1v1.9h-26.1zM725.2 371.2h26.1v1.9h-26.1zM725.2 378.6h26.1v1.9h-26.1zM725.2 380.4h26.1v1.9h-26.1zM751.2 102.9h26.1v1.9h-26.1zM751.2 110.3h26.1v1.9h-26.1zM751.2 173.2h26.1v1.9h-26.1zM751.2 195.4h26.1v1.9h-26.1zM751.2 238h26.1v1.9h-26.1zM751.2 245.4h26.1v1.9h-26.1zM751.2 265.8h26.1v1.9h-26.1zM751.2 271.3h26.1v1.9h-26.1zM751.2 280.5h26.1v1.9h-26.1zM751.2 291.6h26.1v1.9h-26.1zM751.2 308.3h26.1v1.9h-26.1zM751.2 312h26.1v1.9h-26.1zM751.2 319.4h26.1v1.9h-26.1zM751.2 323.1h26.1v1.9h-26.1zM751.2 374.9h26.1v1.9h-26.1zM751.2 376.8h26.1v1.9h-26.1zM777.2 114h26.1v1.9h-26.1zM777.2 121.4h26.1v1.9h-26.1zM777.2 125.1h26.1v1.9h-26.1zM777.2 127h26.1v1.9h-26.1zM777.2 147.3h26.1v1.9h-26.1zM777.2 171.4h26.1v1.9h-26.1zM777.2 206.5h26.1v1.9h-26.1zM777.2 228.8h26.1v1.9h-26.1zM777.2 234.3h26.1v1.9h-26.1zM777.2 239.8h26.1v1.9h-26.1zM777.2 243.5h26.1v1.9h-26.1zM777.2 247.2h26.1v1.9h-26.1zM777.2 254.6h26.1v1.9h-26.1zM777.2 260.2h26.1v1.9h-26.1zM777.2 262h26.1v1.9h-26.1zM777.2 269.4h26.1v1.9h-26.1zM777.2 280.5h26.1v1.9h-26.1zM777.2 287.9h26.1v1.9h-26.1zM777.2 306.4h26.1v1.9h-26.1zM777.2 308.3h26.1v1.9h-26.1zM777.2 313.8h26.1v1.9h-26.1zM777.2 324.9h26.1v1.9h-26.1zM777.2 334.2h26.1v1.9h-26.1zM777.2 336h26.1v1.9h-26.1zM777.2 337.9h26.1v1.9h-26.1zM777.2 349h26.1v1.9h-26.1zM777.2 363.8h26.1v1.9h-26.1zM777.2 365.6h26.1v1.9h-26.1zM777.2 369.4h26.1v1.9h-26.1zM803.3 114h26.1v1.9h-26.1zM803.3 115.9h26.1v1.9h-26.1zM803.3 117.8h26.1v1.9h-26.1zM803.3 121.4h26.1v1.9h-26.1zM803.3 127h26.1v1.9h-26.1zM803.3 130.7h26.1v1.9h-26.1zM803.3 132.5h26.1v1.9h-26.1zM803.3 143.6h26.1v1.9h-26.1zM803.3 145.5h26.1v1.9h-26.1zM803.3 151h26.1v1.9h-26.1zM803.3 162.1h26.1v1.9h-26.1zM803.3 164h26.1v1.9h-26.1zM803.3 169.5h26.1v1.9h-26.1zM803.3 173.2h26.1v1.9h-26.1zM803.3 184.3h26.1v1.9h-26.1zM803.3 210.2h26.1v1.9h-26.1zM803.3 212.1h26.1v1.9h-26.1zM803.3 217.6h26.1v1.9h-26.1zM803.3 219.5h26.1v1.9h-26.1zM803.3 221.3h26.1v1.9h-26.1zM803.3 265.8h26.1v1.9h-26.1zM803.3 363.8h26.1v1.9h-26.1zM803.3 374.9h26.1v1.9h-26.1zM803.3 376.8h26.1v1.9h-26.1zM803.3 378.6h26.1v1.9h-26.1zM829.3 112.2h26.1v1.9h-26.1zM829.3 115.9h26.1v1.9h-26.1zM829.3 119.6h26.1v1.9h-26.1zM829.3 132.5h26.1v1.9h-26.1zM829.3 139.9h26.1v1.9h-26.1zM829.3 165.8h26.1v1.9h-26.1zM829.3 169.5h26.1v1.9h-26.1zM829.3 173.2h26.1v1.9h-26.1zM829.3 184.3h26.1v1.9h-26.1zM829.3 186.2h26.1v1.9h-26.1zM829.3 195.4h26.1v1.9h-26.1zM829.3 206.5h26.1v1.9h-26.1zM829.3 302.8h26.1v1.9h-26.1zM829.3 312h26.1v1.9h-26.1zM829.3 313.8h26.1v1.9h-26.1zM829.3 324.9h26.1v1.9h-26.1zM829.3 326.8h26.1v1.9h-26.1zM829.3 349h26.1v1.9h-26.1zM829.3 365.6h26.1v1.9h-26.1zM829.3 404.5h26.1v1.9h-26.1zM829.3 408.2h26.1v1.9h-26.1zM829.3 410h26.1v1.9h-26.1zM829.3 411.9h26.1v1.9h-26.1zM829.3 417.4h26.1v1.9h-26.1zM829.3 419.3h26.1v1.9h-26.1zM829.3 423h26.1v1.9h-26.1zM829.3 434.1h26.1v1.9h-26.1zM829.3 437.8h26.1v1.9h-26.1zM855.3 395.2h26.1v1.9h-26.1zM855.3 397.1h26.1v1.9h-26.1zM855.3 398.9h26.1v1.9h-26.1zM855.3 402.6h26.1v1.9h-26.1zM855.3 445.2h26.1v1.9h-26.1zM881.3 238h26.1v1.9h-26.1zM881.3 239.8h26.1v1.9h-26.1zM881.3 249.1h26.1v1.9h-26.1zM881.3 250.9h26.1v1.9h-26.1zM881.3 265.8h26.1v1.9h-26.1zM881.3 276.9h26.1v1.9h-26.1zM881.3 280.5h26.1v1.9h-26.1zM881.3 282.4h26.1v1.9h-26.1zM881.3 284.2h26.1v1.9h-26.1zM881.3 286.1h26.1v1.9h-26.1zM881.3 289.8h26.1v1.9h-26.1zM881.3 299h26.1v1.9h-26.1zM881.3 317.5h26.1v1.9h-26.1zM881.3 319.4h26.1v1.9h-26.1zM881.3 360.1h26.1v1.9h-26.1zM881.3 406.4h26.1v1.9h-26.1zM907.3 404.5h26.1v1.9h-26.1zM907.3 406.4h26.1v1.9h-26.1zM907.3 450.8h26.1v1.9h-26.1zM933.4 134.4h26.1v1.9h-26.1zM933.4 152.9h26.1v1.9h-26.1zM933.4 158.4h26.1v1.9h-26.1zM933.4 162.1h26.1v1.9h-26.1zM933.4 201h26.1v1.9h-26.1zM933.4 212.1h26.1v1.9h-26.1zM933.4 386h26.1v1.9h-26.1zM933.4 397.1h26.1v1.9h-26.1zM959.4 162.1h26.1v1.9h-26.1zM959.4 165.8h26.1v1.9h-26.1zM959.4 171.4h26.1v1.9h-26.1zM959.4 176.9h26.1v1.9h-26.1zM959.4 193.6h26.1v1.9h-26.1zM959.4 252.8h26.1v1.9h-26.1zM959.4 282.4h26.1v1.9h-26.1zM959.4 289.8h26.1v1.9h-26.1zM959.4 312h26.1v1.9h-26.1zM959.4 319.4h26.1v1.9h-26.1zM959.4 323.1h26.1v1.9h-26.1zM959.4 336h26.1v1.9h-26.1zM959.4 367.5h26.1v1.9h-26.1zM959.4 376.8h26.1v1.9h-26.1zM959.4 378.6h26.1v1.9h-26.1zM959.4 380.4h26.1v1.9h-26.1zM959.4 382.3h26.1v1.9h-26.1zM959.4 398.9h26.1v1.9h-26.1zM959.4 400.8h26.1v1.9h-26.1zM959.4 402.6h26.1v1.9h-26.1zM959.4 404.5h26.1v1.9h-26.1zM959.4 408.2h26.1v1.9h-26.1zM959.4 411.9h26.1v1.9h-26.1zM959.4 413.8h26.1v1.9h-26.1zM959.4 417.4h26.1v1.9h-26.1zM959.4 448.9h26.1v1.9h-26.1zM959.4 450.8h26.1v1.9h-26.1zM959.4 454.4h26.1v1.9h-26.1zM959.4 460h26.1v1.9h-26.1zM985.4 239.8h26.1v1.9h-26.1zM985.4 256.5h26.1v1.9h-26.1zM985.4 287.9h26.1v1.9h-26.1zM985.4 332.3h26.1v1.9h-26.1zM985.4 361.9h26.1v1.9h-26.1zM985.4 384.1h26.1v1.9h-26.1zM985.4 386h26.1v1.9h-26.1zM985.4 395.2h26.1v1.9h-26.1zM985.4 404.5h26.1v1.9h-26.1zM985.4 406.4h26.1v1.9h-26.1zM985.4 460h26.1v1.9h-26.1zM985.4 461.9h26.1v1.9h-26.1z"/>
<path fill="#dedeff" d="M699.2 108.5h26.1v1.9h-26.1zM699.2 114h26.1v1.9h-26.1zM699.2 195.4h26.1v1.9h-26.1zM699.2 208.4h26.1v1.9h-26.1zM699.2 230.6h26.1v1.9h-26.1zM699.2 232.4h26.1v1.9h-26.1zM699.2 254.6h26.1v1.9h-26.1zM699.2 262h26.1v1.9h-26.1zM699.2 271.3h26.1v1.9h-26.1zM699.2 275h26.1v1.9h-26.1zM699.2 284.2h26.1v1.9h-26.1zM699.2 287.9h26.1v1.9h-26.1zM699.2 291.6h26.1v1.9h-26.1zM699.2 312h26.1v1.9h-26.1zM699.2 317.5h26.1v1.9h-26.1zM699.2 330.5h26.1v1.9h-26.1zM699.2 345.3h26.1v1.9h-26.1zM699.2 358.2h26.1v1.9h-26.1zM699.2 361.9h26.1v1.9h-26.1zM725.2 104.8h26.1v1.9h-26.1zM725.2 110.3h26.1v1.9h-26.1zM725.2 160.3h26.1v1.9h-26.1zM725.2 175.1h26.1v1.9h-26.1zM725.2 178.8h26.1v1.9h-26.1zM725.2 184.3h26.1v1.9h-26.1zM725.2 186.2h26.1v1.9h-26.1zM725.2 189.9h26.1v1.9h-26.1zM725.2 191.8h26.1v1.9h-26.1zM725.2 193.6h26.1v1.9h-26.1zM725.2 195.4h26.1v1.9h-26.1zM725.2 217.6h26.1v1.9h-26.1zM725.2 223.2h26.1v1.9h-26.1zM725.2 252.8h26.1v1.9h-26.1zM725.2 258.4h26.1v1.9h-26.1zM725.2 280.5h26.1v1.9h-26.1zM725.2 286.1h26.1v1.9h-26.1zM725.2 289.8h26.1v1.9h-26.1zM725.2 299h26.1v1.9h-26.1zM725.2 326.8h26.1v1.9h-26.1zM725.2 336h26.1v1.9h-26.1zM725.2 358.2h26.1v1.9h-26.1zM725.2 360.1h26.1v1.9h-26.1zM725.2 406.4h26.1v1.9h-26.1zM725.2 408.2h26.1v1.9h-26.1zM725.2 410h26.1v1.9h-26.1zM725.2 411.9h26.1v1.9h-26.1zM725.2 417.4h26.1v1.9h-26.1zM725.2 419.3h26.1v1.9h-26.1zM725.2 423h26.1v1.9h-26.1zM725.2 428.5h26.1v1.9h-26.1zM725.2 432.2h26.1v1.9h-26.1zM725.2 435.9h26.1v1.9h-26.1zM725.2 437.8h26.1v1.9h-26.1zM725.2 439.6h26.1v1.9h-26.1zM725.2 441.5h26.1v1.9h-26.1zM725.2 445.2h26.1v1.9h-26.1zM725.2 448.9h26.1v1.9h-26.1zM725.2 450.8h26.1v1.9h-26.1zM751.2 101.1h26.1v1.9h-26.1zM751.2 104.8h26.1v1.9h-26.1zM751.2 117.8h26.1v1.9h-26.1zM751.2 125.1h26.1v1.9h-26.1zM751.2 171.4h26.1v1.9h-26.1zM751.2 178.8h26.1v1.9h-26.1zM751.2 180.6h26.1v1.9h-26.1zM751.2 188h26.1v1.9h-26.1zM751.2 191.8h26.1v1.9h-26.1zM751.2 201h26.1v1.9h-26.1zM751.2 208.4h26.1v1.9h-26.1zM751.2 215.8h26.1v1.9h-26.1zM751.2 230.6h26.1v1.9h-26.1zM751.2 239.8h26.1v1.9h-26.1zM751.2 249.1h26.1v1.9h-26.1zM751.2 250.9h26.1v1.9h-26.1zM751.2 254.6h26.1v1.9h-26.1zM751.2 260.2h26.1v1.9h-26.1zM751.2 263.9h26.1v1.9h-26.1zM751.2 267.6h26.1v1.9h-26.1zM751.2 269.4h26.1v1.9h-26.1zM751.2 275h26.1v1.9h-26.1zM751.2 282.4h26.1v1.9h-26.1zM751.2 286.1h26.1v1.9h-26.1zM751.2 287.9h26.1v1.9h-26.1zM751.2 289.8h26.1v1.9h-26.1zM751.2 293.5h26.1v1.9h-26.1zM751.2 299h26.1v1.9h-26.1zM751.2 310.1h26.1v1.9h-26.1zM751.2 313.8h26.1v1.9h-26.1zM751.2 317.5h26.1v1.9h-26.1zM751.2 328.6h26.1v1.9h-26.1zM751.2 330.5h26.1v1.9h-26.1zM751.2 332.3h26.1v1.9h-26.1zM751.2 336h26.1v1.9h-26.1zM751.2 339.8h26.1v1.9h-26.1zM751.2 354.5h26.1v1.9h-26.1zM751.2 358.2h26.1v1.9h-26.1zM751.2 360.1h26.1v1.9h-26.1zM751.2 361.9h26.1v1.9h-26.1zM751.2 365.6h26.1v1.9h-26.1zM751.2 369.4h26.1v1.9h-26.1zM777.2 128.8h26.1v1.9h-26.1zM777.2 134.4h26.1v1.9h-26.1zM777.2 176.9h26.1v1.9h-26.1zM777.2 188h26.1v1.9h-26.1zM777.2 189.9h26.1v1.9h-26.1zM777.2 195.4h26.1v1.9h-26.1zM777.2 197.3h26.1v1.9h-26.1zM777.2 201h26.1v1.9h-26.1zM777.2 204.7h26.1v1.9h-26.1zM777.2 212.1h26.1v1.9h-26.1zM777.2 278.7h26.1v1.9h-26.1zM777.2 289.8h26.1v1.9h-26.1zM777.2 291.6h26.1v1.9h-26.1zM777.2 295.4h26.1v1.9h-26.1zM777.2 297.2h26.1v1.9h-26.1zM777.2 299h26.1v1.9h-26.1zM777.2 302.8h26.1v1.9h-26.1zM777.2 341.6h26.1v1.9h-26.1zM777.2 347.1h26.1v1.9h-26.1zM777.2 393.4h26.1v1.9h-26.1zM777.2 397.1h26.1v1.9h-26.1zM803.3 123.3h26.1v1.9h-26.1zM803.3 136.2h26.1v1.9h-26.1zM803.3 138.1h26.1v1.9h-26.1zM803.3 139.9h26.1v1.9h-26.1zM803.3 141.8h26.1v1.9h-26.1zM803.3 175.1h26.1v1.9h-26.1zM803.3 182.5h26.1v1.9h-26.1zM803.3 186.2h26.1v1.9h-26.1zM803.3 189.9h26.1v1.9h-26.1zM803.3 191.8h26.1v1.9h-26.1zM803.3 193.6h26.1v1.9h-26.1zM803.3 195.4h26.1v1.9h-26.1zM803.3 204.7h26.1v1.9h-26.1zM803.3 208.4h26.1v1.9h-26.1zM803.3 213.9h26.1v1.9h-26.1zM803.3 228.8h26.1v1.9h-26.1zM803.3 230.6h26.1v1.9h-26.1zM803.3 234.3h26.1v1.9h-26.1zM803.3 236.1h26.1v1.9h-26.1zM803.3 238h26.1v1.9h-26.1zM803.3 256.5h26.1v1.9h-26.1zM803.3 258.4h26.1v1.9h-26.1zM803.3 267.6h26.1v1.9h-26.1zM803.3 273.1h26.1v1.9h-26.1zM803.3 295.4h26.1v1.9h-26.1zM803.3 297.2h26.1v1.9h-26.1zM803.3 304.6h26.1v1.9h-26.1zM803.3 313.8h26.1v1.9h-26.1zM803.3 315.7h26.1v1.9h-26.1zM803.3 317.5h26.1v1.9h-26.1zM803.3 330.5h26.1v1.9h-26.1zM803.3 337.9h26.1v1.9h-26.1zM803.3 339.8h26.1v1.9h-26.1zM829.3 101.1h26.1v1.9h-26.1zM829.3 104.8h26.1v1.9h-26.1zM829.3 145.5h26.1v1.9h-26.1zM829.3 151h26.1v1.9h-26.1zM829.3 154.8h26.1v1.9h-26.1zM829.3 156.6h26.1v1.9h-26.1zM829.3 162.1h26.1v1.9h-26.1zM829.3 164h26.1v1.9h-26.1zM829.3 178.8h26.1v1.9h-26.1zM829.3 182.5h26.1v1.9h-26.1zM829.3 188h26.1v1.9h-26.1zM829.3 193.6h26.1v1.9h-26.1zM829.3 199.1h26.1v1.9h-26.1zM829.3 202.8h26.1v1.9h-26.1zM829.3 204.7h26.1v1.9h-26.1zM829.3 221.3h26.1v1.9h-26.1zM829.3 228.8h26.1v1.9h-26.1zM829.3 238h26.1v1.9h-26.1zM829.3 241.7h26.1v1.9h-26.1zM829.3 250.9h26.1v1.9h-26.1zM829.3 260.2h26.1v1.9h-26.1zM829.3 262h26.1v1.9h-26.1zM829.3 275h26.1v1.9h-26.1zM829.3 278.7h26.1v1.9h-26.1zM829.3 280.5h26.1v1.9h-26.1zM829.3 282.4h26.1v1.9h-26.1zM829.3 284.2h26.1v1.9h-26.1zM829.3 295.4h26.1v1.9h-26.1zM829.3 317.5h26.1v1.9h-26.1zM829.3 337.9h26.1v1.9h-26.1zM829.3 343.4h26.1v1.9h-26.1zM829.3 345.3h26.1v1.9h-26.1zM829.3 347.1h26.1v1.9h-26.1zM829.3 360.1h26.1v1.9h-26.1zM829.3 361.9h26.1v1.9h-26.1zM829.3 378.6h26.1v1.9h-26.1zM829.3 443.4h26.1v1.9h-26.1zM829.3 452.6h26.1v1.9h-26.1zM829.3 454.4h26.1v1.9h-26.1zM829.3 456.3h26.1v1.9h-26.1zM855.3 380.4h26.1v1.9h-26.1zM855.3 393.4h26.1v1.9h-26.1zM855.3 400.8h26.1v1.9h-26.1zM855.3 406.4h26.1v1.9h-26.1zM855.3 424.9h26.1v1.9h-26.1zM855.3 430.4h26.1v1.9h-26.1zM855.3 434.1h26.1v1.9h-26.1zM855.3 435.9h26.1v1.9h-26.1zM855.3 439.6h26.1v1.9h-26.1zM855.3 441.5h26.1v1.9h-26.1zM881.3 169.5h26.1v1.9h-26.1zM881.3 175.1h26.1v1.9h-26.1zM881.3 178.8h26.1v1.9h-26.1zM881.3 184.3h26.1v1.9h-26.1zM881.3 189.9h26.1v1.9h-26.1zM881.3 193.6h26.1v1.9h-26.1zM881.3 195.4h26.1v1.9h-26.1zM881.3 199.1h26.1v1.9h-26.1zM881.3 202.8h26.1v1.9h-26.1zM881.3 208.4h26.1v1.9h-26.1zM881.3 215.8h26.1v1.9h-26.1zM881.3 226.9h26.1v1.9h-26.1zM881.3 230.6h26.1v1.9h-26.1zM881.3 232.4h26.1v1.9h-26.1zM881.3 241.7h26.1v1.9h-26.1zM881.3 258.4h26.1v1.9h-26.1zM881.3 262h26.1v1.9h-26.1zM881.3 271.3h26.1v1.9h-26.1zM881.3 278.7h26.1v1.9h-26.1zM881.3 291.6h26.1v1.9h-26.1zM881.3 297.2h26.1v1.9h-26.1zM881.3 302.8h26.1v1.9h-26.1zM881.3 308.3h26.1v1.9h-26.1zM881.3 312h26.1v1.9h-26.1zM881.3 315.7h26.1v1.9h-26.1zM881.3 343.4h26.1v1.9h-26.1zM881.3 387.9h26.1v1.9h-26.1zM881.3 395.2h26.1v1.9h-26.1zM881.3 397.1h26.1v1.9h-26.1zM881.3 402.6h26.1v1.9h-26.1zM881.3 411.9h26.1v1.9h-26.1zM881.3 458.1h26.1v1.9h-26.1zM881.3 460h26.1v1.9h-26.1zM881.3 465.5h26.1v1.9h-26.1zM907.3 371.2h26.1v1.9h-26.1zM907.3 373h26.1v1.9h-26.1zM907.3 374.9h26.1v1.9h-26.1zM907.3 378.6h26.1v1.9h-26.1zM907.3 382.3h26.1v1.9h-26.1zM907.3 386h26.1v1.9h-26.1zM907.3 410h26.1v1.9h-26.1zM907.3 417.4h26.1v1.9h-26.1zM933.4 101.1h26.1v1.9h-26.1zM933.4 112.2h26.1v1.9h-26.1zM933.4 114h26.1v1.9h-26.1zM933.4 132.5h26.1v1.9h-26.1zM933.4 139.9h26.1v1.9h-26.1zM933.4 141.8h26.1v1.9h-26.1zM933.4 149.2h26.1v1.9h-26.1zM933.4 156.6h26.1v1.9h-26.1zM933.4 164h26.1v1.9h-26.1zM933.4 165.8h26.1v1.9h-26.1zM933.4 167.7h26.1v1.9h-26.1zM933.4 169.5h26.1v1.9h-26.1zM933.4 178.8h26.1v1.9h-26.1zM933.4 186.2h26.1v1.9h-26.1zM933.4 188h26.1v1.9h-26.1zM933.4 191.8h26.1v1.9h-26.1zM933.4 193.6h26.1v1.9h-26.1zM933.4 199.1h26.1v1.9h-26.1zM933.4 204.7h26.1v1.9h-26.1zM933.4 206.5h26.1v1.9h-26.1zM933.4 223.2h26.1v1.9h-26.1zM933.4 228.8h26.1v1.9h-26.1zM933.4 230.6h26.1v1.9h-26.1zM933.4 238h26.1v1.9h-26.1zM933.4 241.7h26.1v1.9h-26.1zM933.4 250.9h26.1v1.9h-26.1zM933.4 254.6h26.1v1.9h-26.1zM933.4 262h26.1v1.9h-26.1zM933.4 263.9h26.1v1.9h-26.1zM933.4 265.8h26.1v1.9h-26.1zM933.4 273.1h26.1v1.9h-26.1zM933.4 275h26.1v1.9h-26.1zM933.4 289.8h26.1v1.9h-26.1zM933.4 293.5h26.1v1.9h-26.1zM933.4 295.4h26.1v1.9h-26.1zM933.4 297.2h26.1v1.9h-26.1zM933.4 304.6h26.1v1.9h-26.1zM933.4 306.4h26.1v1.9h-26.1zM933.4 312h26.1v1.9h-26.1zM933.4 313.8h26.1v1.9h-26.1zM933.4 315.7h26.1v1.9h-26.1zM933.4 321.2h26.1v1.9h-26.1zM933.4 326.8h26.1v1.9h-26.1zM933.4 328.6h26.1v1.9h-26.1zM933.4 330.5h26.1v1.9h-26.1zM933.4 332.3h26.1v1.9h-26.1zM933.4 336h26.1v1.9h-26.1zM933.4 343.4h26.1v1.9h-26.1zM933.4 345.3h26.1v1.9h-26.1zM933.4 347.1h26.1v1.9h-26.1zM933.4 349h26.1v1.9h-26.1zM933.4 350.8h26.1v1.9h-26.1zM933.4 354.5h26.1v1.9h-26.1zM933.4 358.2h26.1v1.9h-26.1zM933.4 361.9h26.1v1.9h-26.1zM933.4 382.3h26.1v1.9h-26.1zM933.4 395.2h26.1v1.9h-26.1zM933.4 463.7h26.1v1.9h-26.1zM959.4 117.8h26.1v1.9h-26.1zM959.4 121.4h26.1v1.9h-26.1zM959.4 128.8h26.1v1.9h-26.1zM959.4 130.7h26.1v1.9h-26.1zM959.4 132.5h26.1v1.9h-26.1zM959.4 139.9h26.1v1.9h-26.1zM959.4 141.8h26.1v1.9h-26.1zM959.4 143.6h26.1v1.9h-26.1zM959.4 145.5h26.1v1.9h-26.1zM959.4 147.3h26.1v1.9h-26.1zM959.4 149.2h26.1v1.9h-26.1zM959.4 151h26.1v1.9h-26.1zM959.4 152.9h26.1v1.9h-26.1zM959.4 167.7h26.1v1.9h-26.1zM959.4 169.5h26.1v1.9h-26.1zM959.4 173.2h26.1v1.9h-26.1zM959.4 178.8h26.1v1.9h-26.1zM959.4 180.6h26.1v1.9h-26.1zM959.4 191.8h26.1v1.9h-26.1zM959.4 197.3h26.1v1.9h-26.1zM959.4 223.2h26.1v1.9h-26.1zM959.4 225h26.1v1.9h-26.1zM959.4 254.6h26.1v1.9h-26.1zM959.4 262h26.1v1.9h-26.1zM959.4 265.8h26.1v1.9h-26.1zM959.4 267.6h26.1v1.9h-26.1zM959.4 286.1h26.1v1.9h-26.1zM959.4 287.9h26.1v1.9h-26.1zM959.4 291.6h26.1v1.9h-26.1zM959.4 293.5h26.1v1.9h-26.1zM959.4 302.8h26.1v1.9h-26.1zM959.4 304.6h26.1v1.9h-26.1zM959.4 306.4h26.1v1.9h-26.1zM959.4 334.2h26.1v1.9h-26.1zM959.4 343.4h26.1v1.9h-26.1zM959.4 345.3h26.1v1.9h-26.1zM959.4 350.8h26.1v1.9h-26.1zM959.4 352.7h26.1v1.9h-26.1zM959.4 360.1h26.1v1.9h-26.1zM959.4 387.9h26.1v1.9h-26.1zM959.4 435.9h26.1v1.9h-26.1zM985.4 171.4h26.1v1.9h-26.1zM985.4 176.9h26.1v1.9h-26.1zM985.4 186.2h26.1v1.9h-26.1zM985.4 188h26.1v1.9h-26.1zM985.4 195.4h26.1v1.9h-26.1zM985.4 201h26.1v1.9h-26.1zM985.4 212.1h26.1v1.9h-26.1zM985.4 215.8h26.1v1.9h-26.1zM985.4 219.5h26.1v1.9h-26.1zM985.4 223.2h26.1v1.9h-26.1zM985.4 226.9h26.1v1.9h-26.1zM985.4 241.7h26.1v1.9h-26.1zM985.4 245.4h26.1v1.9h-26.1zM985.4 247.2h26.1v1.9h-26.1zM985.4 249.1h26.1v1.9h-26.1zM985.4 252.8h26.1v1.9h-26.1zM985.4 254.6h26.1v1.9h-26.1zM985.4 258.4h26.1v1.9h-26.1zM985.4 260.2h26.1v1.9h-26.1zM985.4 263.9h26.1v1.9h-26.1zM985.4 275h26.1v1.9h-26.1zM985.4 276.9h26.1v1.9h-26.1zM985.4 278.7h26.1v1.9h-26.1zM985.4 282.4h26.1v1.9h-26.1zM985.4 286.1h26.1v1.9h-26.1zM985.4 291.6h26.1v1.9h-26.1zM985.4 293.5h26.1v1.9h-26.1zM985.4 295.4h26.1v1.9h-26.1zM985.4 297.2h26.1v1.9h-26.1zM985.4 300.9h26.1v1.9h-26.1zM985.4 313.8h26.1v1.9h-26.1zM985.4 319.4h26.1v1.9h-26.1zM985.4 321.2h26.1v1.9h-26.1zM985.4 323.1h26.1v1.9h-26.1zM985.4 334.2h26.1v1.9h-26.1zM985.4 337.9h26.1v1.9h-26.1zM985.4 339.8h26.1v1.9h-26.1zM985.4 341.6h26.1v1.9h-26.1zM985.4 345.3h26.1v1.9h-26.1zM985.4 349h26.1v1.9h-26.1zM985.4 354.5h26.1v1.9h-26.1zM985.4 360.1h26.1v1.9h-26.1zM985.4 423h26.1v1.9h-26.1zM985.4 443.4h26.1v1.9h-26.1zM985.4 447h26.1v1.9h-26.1zM985.4 452.6h26.1v1.9h-26.1zM985.4 456.3h26.1v1.9h-26.1z"/>
<path fill="#fdefef" d="M699.2 110.3h26.1v1.9h-26.1zM699.2 402.6h26.1v1.9h-26.1zM699.2 404.5h26.1v1.9h-26.1zM699.2 411.9h26.1v1.9h-26.1zM725.2 164h26.1v1.9h-26.1zM725.2 239.8h26.1v1.9h-26.1zM725.2 354.5h26.1v1.9h-26.1zM725.2 363.8h26.1v1.9h-26.1zM725.2 413.8h26.1v1.9h-26.1zM751.2 236.1h26.1v1.9h-26.1zM751.2 258.4h26.1v1.9h-26.1zM751.2 324.9h26.1v1.9h-26.1zM751.2 326.8h26.1v1.9h-26.1zM751.2 424.9h26.1v1.9h-26.1zM751.2 430.4h26.1v1.9h-26.1zM751.2 434.1h26.1v1.9h-26.1zM751.2 441.5h26.1v1.9h-26.1zM751.2 448.9h26.1v1.9h-26.1zM751.2 452.6h26.1v1.9h-26.1zM751.2 454.4h26.1v1.9h-26.1zM751.2 456.3h26.1v1.9h-26.1zM777.2 123.3h26.1v1.9h-26.1zM777.2 173.2h26.1v1.9h-26.1zM777.2 389.7h26.1v1.9h-26.1zM803.3 241.7h26.1v1.9h-26.1zM803.3 249.1h26.1v1.9h-26.1zM803.3 282.4h26.1v1.9h-26.1zM803.3 326.8h26.1v1.9h-26.1zM829.3 147.3h26.1v1.9h-26.1zM829.3 245.4h26.1v1.9h-26.1zM829.3 249.1h26.1v1.9h-26.1zM829.3 450.8h26.1v1.9h-26.1zM855.3 110.3h26.1v1.9h-26.1zM881.3 102.9h26.1v1.9h-26.1zM881.3 104.8h26.1v1.9h-26.1zM881.3 121.4h26.1v1.9h-26.1zM881.3 123.3h26.1v1.9h-26.1zM881.3 125.1h26.1v1.9h-26.1zM881.3 138.1h26.1v1.9h-26.1zM881.3 210.2h26.1v1.9h-26.1zM881.3 234.3h26.1v1.9h-26.1zM881.3 236.1h26.1v1.9h-26.1zM881.3 376.8h26.1v1.9h-26.1zM881.3 380.4h26.1v1.9h-26.1zM881.3 434.1h26.1v1.9h-26.1zM881.3 439.6h26.1v1.9h-26.1zM881.3 441.5h26.1v1.9h-26.1zM881.3 445.2h26.1v1.9h-26.1zM881.3 447h26.1v1.9h-26.1zM881.3 456.3h26.1v1.9h-26.1zM907.3 415.6h26.1v1.9h-26.1zM933.4 182.5h26.1v1.9h-26.1zM933.4 406.4h26.1v1.9h-26.1zM933.4 410h26.1v1.9h-26.1zM933.4 434.1h26.1v1.9h-26.1zM933.4 437.8h26.1v1.9h-26.1zM933.4 441.5h26.1v1.9h-26.1zM933.4 443.4h26.1v1.9h-26.1zM933.4 447h26.1v1.9h-26.1zM959.4 201h26.1v1.9h-26.1zM959.4 202.8h26.1v1.9h-26.1zM959.4 204.7h26.1v1.9h-26.1zM959.4 206.5h26.1v1.9h-26.1zM959.4 208.4h26.1v1.9h-26.1zM959.4 212.1h26.1v1.9h-26.1zM959.4 213.9h26.1v1.9h-26.1zM959.4 215.8h26.1v1.9h-26.1zM959.4 245.4h26.1v1.9h-26.1zM959.4 299h26.1v1.9h-26.1zM959.4 386h26.1v1.9h-26.1zM959.4 391.5h26.1v1.9h-26.1zM959.4 463.7h26.1v1.9h-26.1zM959.4 465.5h26.1v1.9h-26.1zM985.4 114h26.1v1.9h-26.1zM985.4 125.1h26.1v1.9h-26.1zM985.4 230.6h26.1v1.9h-26.1zM985.4 232.4h26.1v1.9h-26.1zM985.4 234.3h26.1v1.9h-26.1zM985.4 236.1h26.1v1.9h-26.1zM985.4 402.6h26.1v1.9h-26.1z"/>
<path fill="#ffffff" d="M699.2 112.2h26.1v1.9h-26.1zM699.2 128.8h26.1v1.9h-26.1zM699.2 410h26.1v1.9h-26.1zM699.2 461.9h26.1v1.9h-26.1zM699.2 463.7h26.1v1.9h-26.1zM725.2 271.3h26.1v1.9h-26.1zM725.2 452.6h26.1v1.9h-26.1zM751.2 132.5h26.1v1.9h-26.1zM751.2 156.6h26.1v1.9h-26.1zM751.2 158.4h26.1v1.9h-26.1zM751.2 160.3h26.1v1.9h-26.1zM751.2 162.1h26.1v1.9h-26.1zM751.2 175.1h26.1v1.9h-26.1zM751.2 347.1h26.1v1.9h-26.1zM751.2 384.1h26.1v1.9h-26.1zM751.2 386h26.1v1.9h-26.1zM751.2 387.9h26.1v1.9h-26.1zM751.2 393.4h26.1v1.9h-26.1zM751.2 395.2h26.1v1.9h-26.1zM751.2 398.9h26.1v1.9h-26.1zM751.2 400.8h26.1v1.9h-26.1zM751.2 404.5h26.1v1.9h-26.1zM751.2 435.9h26.1v1.9h-26.1zM751.2 437.8h26.1v1.9h-26.1zM751.2 439.6h26.1v1.9h-26.1zM751.2 443.4h26.1v1.9h-26.1zM751.2 447h26.1v1.9h-26.1zM777.2 276.9h26.1v1.9h-26.1zM777.2 345.3h26.1v1.9h-26.1zM777.2 387.9h26.1v1.9h-26.1zM803.3 239.8h26.1v1.9h-26.1zM803.3 243.5h26.1v1.9h-26.1zM803.3 245.4h26.1v1.9h-26.1zM803.3 247.2h26.1v1.9h-26.1zM803.3 250.9h26.1v1.9h-26.1zM803.3 278.7h26.1v1.9h-26.1zM803.3 280.5h26.1v1.9h-26.1zM803.3 284.2h26.1v1.9h-26.1zM803.3 286.1h26.1v1.9h-26.1zM803.3 287.9h26.1v1.9h-26.1zM803.3 289.8h26.1v1.9h-26.1zM803.3 291.6h26.1v1.9h-26.1zM803.3 310.1h26.1v1.9h-26.1zM803.3 324.9h26.1v1.9h-26.1zM803.3 332.3h26.1v1.9h-26.1zM803.3 336h26.1v1.9h-26.1zM803.3 343.4h26.1v1.9h-26.1zM803.3 382.3h26.1v1.9h-26.1zM803.3 384.1h26.1v1.9h-26.1zM829.3 247.2h26.1v1.9h-26.1zM829.3 354.5h26.1v1.9h-26.1zM829.3 358.2h26.1v1.9h-26.1zM829.3 428.5h26.1v1.9h-26.1zM881.3 101.1h26.1v1.9h-26.1zM881.3 128.8h26.1v1.9h-26.1zM881.3 130.7h26.1v1.9h-26.1zM881.3 149.2h26.1v1.9h-26.1zM881.3 156.6h26.1v1.9h-26.1zM881.3 171.4h26.1v1.9h-26.1zM881.3 354.5h26.1v1.9h-26.1zM881.3 378.6h26.1v1.9h-26.1zM881.3 437.8h26.1v1.9h-26.1zM881.3 448.9h26.1v1.9h-26.1zM881.3 452.6h26.1v1.9h-26.1zM907.3 234.3h26.1v1.9h-26.1zM907.3 395.2h26.1v1.9h-26.1zM933.4 271.3h26.1v1.9h-26.1zM933.4 282.4h26.1v1.9h-26.1zM933.4 286.1h26.1v1.9h-26.1zM933.4 435.9h26.1v1.9h-26.1zM933.4 445.2h26.1v1.9h-26.1zM933.4 448.9h26.1v1.9h-26.1zM933.4 458.1h26.1v1.9h-26.1zM933.4 460h26.1v1.9h-26.1zM933.4 461.9h26.1v1.9h-26.1zM933.4 465.5h26.1v1.9h-26.1zM959.4 175.1h26.1v1.9h-26.1zM959.4 210.2h26.1v1.9h-26.1zM959.4 271.3h26.1v1.9h-26.1zM959.4 273.1h26.1v1.9h-26.1zM959.4 339.8h26.1v1.9h-26.1zM985.4 102.9h26.1v1.9h-26.1zM985.4 112.2h26.1v1.9h-26.1zM985.4 115.9h26.1v1.9h-26.1zM985.4 184.3h26.1v1.9h-26.1zM985.4 191.8h26.1v1.9h-26.1zM985.4 206.5h26.1v1.9h-26.1zM985.4 324.9h26.1v1.9h-26.1zM985.4 326.8h26.1v1.9h-26.1zM985.4 328.6h26.1v1.9h-26.1zM985.4 330.5h26.1v1.9h-26.1zM985.4 428.5h26.1v1.9h-26.1zM985.4 432.2h26.1v1.9h-26.1zM985.4 434.1h26.1v1.9h-26.1z"/>
<path fill="#efefff" d="M699.2 130.7h26.1v1.9h-26.1zM699.2 132.5h26.1v1.9h-26.1zM699.2 171.4h26.1v1.9h-26.1zM699.2 299h26.1v1.9h-26.1zM699.2 308.3h26.1v1.9h-26.1zM699.2 354.5h26.1v1.9h-26.1zM699.2 460h26.1v1.9h-26.1zM725.2 125.1h26.1v1.9h-26.1zM725.2 226.9h26.1v1.9h-26.1zM725.2 273.1h26.1v1.9h-26.1zM725.2 323.1h26.1v1.9h-26.1zM725.2 343.4h26.1v1.9h-26.1zM725.2 356.4h26.1v1.9h-26.1zM725.2 374.9h26.1v1.9h-26.1zM725.2 404.5h26.1v1.9h-26.1zM725.2 415.6h26.1v1.9h-26.1zM725.2 443.4h26.1v1.9h-26.1zM725.2 454.4h26.1v1.9h-26.1zM725.2 458.1h26.1v1.9h-26.1zM751.2 106.6h26.1v1.9h-26.1zM751.2 108.5h26.1v1.9h-26.1zM751.2 128.8h26.1v1.9h-26.1zM751.2 130.7h26.1v1.9h-26.1zM751.2 134.4h26.1v1.9h-26.1zM751.2 193.6h26.1v1.9h-26.1zM751.2 223.2h26.1v1.9h-26.1zM751.2 225h26.1v1.9h-26.1zM751.2 226.9h26.1v1.9h-26.1zM751.2 228.8h26.1v1.9h-26.1zM751.2 232.4h26.1v1.9h-26.1zM751.2 234.3h26.1v1.9h-26.1zM751.2 243.5h26.1v1.9h-26.1zM751.2 295.4h26.1v1.9h-26.1zM751.2 302.8h26.1v1.9h-26.1zM751.2 315.7h26.1v1.9h-26.1zM751.2 337.9h26.1v1.9h-26.1zM751.2 341.6h26.1v1.9h-26.1zM751.2 343.4h26.1v1.9h-26.1zM751.2 345.3h26.1v1.9h-26.1zM751.2 349h26.1v1.9h-26.1zM751.2 389.7h26.1v1.9h-26.1zM751.2 391.5h26.1v1.9h-26.1zM751.2 397.1h26.1v1.9h-26.1zM751.2 402.6h26.1v1.9h-26.1zM777.2 199.1h26.1v1.9h-26.1zM777.2 271.3h26.1v1.9h-26.1zM777.2 273.1h26.1v1.9h-26.1zM777.2 275h26.1v1.9h-26.1zM777.2 286.1h26.1v1.9h-26.1zM777.2 339.8h26.1v1.9h-26.1zM777.2 343.4h26.1v1.9h-26.1zM777.2 382.3h26.1v1.9h-26.1zM777.2 386h26.1v1.9h-26.1zM777.2 395.2h26.1v1.9h-26.1zM777.2 398.9h26.1v1.9h-26.1zM803.3 171.4h26.1v1.9h-26.1zM803.3 188h26.1v1.9h-26.1zM803.3 215.8h26.1v1.9h-26.1zM803.3 252.8h26.1v1.9h-26.1zM803.3 254.6h26.1v1.9h-26.1zM803.3 260.2h26.1v1.9h-26.1zM803.3 269.4h26.1v1.9h-26.1zM803.3 293.5h26.1v1.9h-26.1zM803.3 299h26.1v1.9h-26.1zM803.3 300.9h26.1v1.9h-26.1zM803.3 302.8h26.1v1.9h-26.1zM803.3 306.4h26.1v1.9h-26.1zM803.3 308.3h26.1v1.9h-26.1zM803.3 312h26.1v1.9h-26.1zM803.3 319.4h26.1v1.9h-26.1zM803.3 323.1h26.1v1.9h-26.1zM803.3 328.6h26.1v1.9h-26.1zM803.3 341.6h26.1v1.9h-26.1zM803.3 345.3h26.1v1.9h-26.1zM803.3 347.1h26.1v1.9h-26.1zM803.3 349h26.1v1.9h-26.1zM803.3 350.8h26.1v1.9h-26.1zM803.3 352.7h26.1v1.9h-26.1zM803.3 354.5h26.1v1.9h-26.1zM803.3 356.4h26.1v1.9h-26.1zM803.3 358.2h26.1v1.9h-26.1zM803.3 360.1h26.1v1.9h-26.1zM803.3 361.9h26.1v1.9h-26.1zM803.3 389.7h26.1v1.9h-26.1zM803.3 391.5h26.1v1.9h-26.1zM803.3 393.4h26.1v1.9h-26.1zM803.3 395.2h26.1v1.9h-26.1zM829.3 149.2h26.1v1.9h-26.1zM829.3 158.4h26.1v1.9h-26.1zM829.3 175.1h26.1v1.9h-26.1zM829.3 201h26.1v1.9h-26.1zM829.3 223.2h26.1v1.9h-26.1zM829.3 230.6h26.1v1.9h-26.1zM829.3 293.5h26.1v1.9h-26.1zM829.3 310.1h26.1v1.9h-26.1zM829.3 321.2h26.1v1.9h-26.1zM829.3 336h26.1v1.9h-26.1zM829.3 341.6h26.1v1.9h-26.1zM829.3 350.8h26.1v1.9h-26.1zM829.3 352.7h26.1v1.9h-26.1zM829.3 356.4h26.1v1.9h-26.1zM829.3 371.2h26.1v1.9h-26.1zM829.3 373h26.1v1.9h-26.1zM829.3 374.9h26.1v1.9h-26.1zM829.3 402.6h26.1v1.9h-26.1zM829.3 441.5h26.1v1.9h-26.1zM829.3 445.2h26.1v1.9h-26.1zM829.3 447h26.1v1.9h-26.1zM855.3 382.3h26.1v1.9h-26.1zM855.3 384.1h26.1v1.9h-26.1zM855.3 426.7h26.1v1.9h-26.1zM855.3 437.8h26.1v1.9h-26.1zM881.3 139.9h26.1v1.9h-26.1zM881.3 141.8h26.1v1.9h-26.1zM881.3 143.6h26.1v1.9h-26.1zM881.3 145.5h26.1v1.9h-26.1zM881.3 147.3h26.1v1.9h-26.1zM881.3 151h26.1v1.9h-26.1zM881.3 152.9h26.1v1.9h-26.1zM881.3 154.8h26.1v1.9h-26.1zM881.3 176.9h26.1v1.9h-26.1zM881.3 180.6h26.1v1.9h-26.1zM881.3 182.5h26.1v1.9h-26.1zM881.3 186.2h26.1v1.9h-26.1zM881.3 201h26.1v1.9h-26.1zM881.3 204.7h26.1v1.9h-26.1zM881.3 206.5h26.1v1.9h-26.1zM881.3 212.1h26.1v1.9h-26.1zM881.3 213.9h26.1v1.9h-26.1zM881.3 217.6h26.1v1.9h-26.1zM881.3 219.5h26.1v1.9h-26.1zM881.3 225h26.1v1.9h-26.1zM881.3 300.9h26.1v1.9h-26.1zM881.3 332.3h26.1v1.9h-26.1zM881.3 382.3h26.1v1.9h-26.1zM881.3 393.4h26.1v1.9h-26.1zM881.3 415.6h26.1v1.9h-26.1zM881.3 461.9h26.1v1.9h-26.1zM881.3 463.7h26.1v1.9h-26.1zM907.3 232.4h26.1v1.9h-26.1zM907.3 236.1h26.1v1.9h-26.1zM907.3 369.4h26.1v1.9h-26.1zM907.3 384.1h26.1v1.9h-26.1zM933.4 106.6h26.1v1.9h-26.1zM933.4 121.4h26.1v1.9h-26.1zM933.4 171.4h26.1v1.9h-26.1zM933.4 175.1h26.1v1.9h-26.1zM933.4 195.4h26.1v1.9h-26.1zM933.4 202.8h26.1v1.9h-26.1zM933.4 225h26.1v1.9h-26.1zM933.4 226.9h26.1v1.9h-26.1zM933.4 245.4h26.1v1.9h-26.1zM933.4 247.2h26.1v1.9h-26.1zM933.4 249.1h26.1v1.9h-26.1zM933.4 252.8h26.1v1.9h-26.1zM933.4 256.5h26.1v1.9h-26.1zM933.4 258.4h26.1v1.9h-26.1zM933.4 260.2h26.1v1.9h-26.1zM933.4 276.9h26.1v1.9h-26.1zM933.4 278.7h26.1v1.9h-26.1zM933.4 280.5h26.1v1.9h-26.1zM933.4 284.2h26.1v1.9h-26.1zM933.4 287.9h26.1v1.9h-26.1zM933.4 291.6h26.1v1.9h-26.1zM933.4 299h26.1v1.9h-26.1zM933.4 300.9h26.1v1.9h-26.1zM933.4 302.8h26.1v1.9h-26.1zM933.4 308.3h26.1v1.9h-26.1zM933.4 310.1h26.1v1.9h-26.1zM933.4 317.5h26.1v1.9h-26.1zM933.4 324.9h26.1v1.9h-26.1zM933.4 334.2h26.1v1.9h-26.1zM933.4 341.6h26.1v1.9h-26.1zM933.4 352.7h26.1v1.9h-26.1zM933.4 356.4h26.1v1.9h-26.1zM933.4 360.1h26.1v1.9h-26.1zM933.4 415.6h26.1v1.9h-26.1zM933.4 450.8h26.1v1.9h-26.1zM959.4 110.3h26.1v1.9h-26.1zM959.4 112.2h26.1v1.9h-26.1zM959.4 114h26.1v1.9h-26.1zM959.4 119.6h26.1v1.9h-26.1zM959.4 123.3h26.1v1.9h-26.1zM959.4 136.2h26.1v1.9h-26.1zM959.4 158.4h26.1v1.9h-26.1zM959.4 260.2h26.1v1.9h-26.1zM959.4 275h26.1v1.9h-26.1zM959.4 276.9h26.1v1.9h-26.1zM959.4 278.7h26.1v1.9h-26.1zM959.4 280.5h26.1v1.9h-26.1zM959.4 297.2h26.1v1.9h-26.1zM959.4 300.9h26.1v1.9h-26.1zM959.4 321.2h26.1v1.9h-26.1zM959.4 324.9h26.1v1.9h-26.1zM959.4 332.3h26.1v1.9h-26.1zM959.4 341.6h26.1v1.9h-26.1zM959.4 361.9h26.1v1.9h-26.1zM959.4 452.6h26.1v1.9h-26.1zM985.4 101.1h26.1v1.9h-26.1zM985.4 106.6h26.1v1.9h-26.1zM985.4 175.1h26.1v1.9h-26.1zM985.4 178.8h26.1v1.9h-26.1zM985.4 180.6h26.1v1.9h-26.1zM985.4 182.5h26.1v1.9h-26.1zM985.4 189.9h26.1v1.9h-26.1zM985.4 197.3h26.1v1.9h-26.1zM985.4 202.8h26.1v1.9h-26.1zM985.4 204.7h26.1v1.9h-26.1zM985.4 250.9h26.1v1.9h-26.1zM985.4 267.6h26.1v1.9h-26.1zM985.4 273.1h26.1v1.9h-26.1zM985.4 289.8h26.1v1.9h-26.1zM985.4 347.1h26.1v1.9h-26.1zM985.4 350.8h26.1v1.9h-26.1zM985.4 352.7h26.1v1.9h-26.1zM985.4 356.4h26.1v1.9h-26.1zM985.4 358.2h26.1v1.9h-26.1zM985.4 417.4h26.1v1.9h-26.1zM985.4 419.3h26.1v1.9h-26.1zM985.4 424.9h26.1v1.9h-26.1zM985.4 426.7h26.1v1.9h-26.1zM985.4 430.4h26.1v1.9h-26.1zM985.4 435.9h26.1v1.9h-26.1z"/>
<path fill="#9d9dff" d="M699.2 141.8h26.1v1.9h-26.1zM699.2 145.5h26.1v1.9h-26.1zM699.2 154.8h26.1v1.9h-26.1zM699.2 169.5h26.1v1.9h-26.1zM699.2 217.6h26.1v1.9h-26.1zM725.2 147.3h26.1v1.9h-26.1zM725.2 245.4h26.1v1.9h-26.1zM725.2 339.8h26.1v1.9h-26.1zM725.2 352.7h26.1v1.9h-26.1zM751.2 197.3h26.1v1.9h-26.1zM751.2 378.6h26.1v1.9h-26.1zM777.2 108.5h26.1v1.9h-26.1zM777.2 136.2h26.1v1.9h-26.1zM777.2 139.9h26.1v1.9h-26.1zM777.2 141.8h26.1v1.9h-26.1zM777.2 154.8h26.1v1.9h-26.1zM777.2 160.3h26.1v1.9h-26.1zM777.2 215.8h26.1v1.9h-26.1zM777.2 219.5h26.1v1.9h-26.1zM777.2 221.3h26.1v1.9h-26.1zM777.2 223.2h26.1v1.9h-26.1zM777.2 230.6h26.1v1.9h-26.1zM777.2 245.4h26.1v1.9h-26.1zM777.2 249.1h26.1v1.9h-26.1zM777.2 250.9h26.1v1.9h-26.1zM777.2 258.4h26.1v1.9h-26.1zM777.2 300.9h26.1v1.9h-26.1zM777.2 310.1h26.1v1.9h-26.1zM777.2 312h26.1v1.9h-26.1zM777.2 367.5h26.1v1.9h-26.1zM777.2 371.2h26.1v1.9h-26.1zM777.2 378.6h26.1v1.9h-26.1zM803.3 223.2h26.1v1.9h-26.1zM803.3 225h26.1v1.9h-26.1zM829.3 117.8h26.1v1.9h-26.1zM829.3 121.4h26.1v1.9h-26.1zM829.3 123.3h26.1v1.9h-26.1zM829.3 330.5h26.1v1.9h-26.1zM829.3 367.5h26.1v1.9h-26.1zM829.3 424.9h26.1v1.9h-26.1zM829.3 426.7h26.1v1.9h-26.1zM855.3 386h26.1v1.9h-26.1zM855.3 408.2h26.1v1.9h-26.1zM855.3 415.6h26.1v1.9h-26.1zM855.3 417.4h26.1v1.9h-26.1zM855.3 443.4h26.1v1.9h-26.1zM855.3 454.4h26.1v1.9h-26.1zM855.3 461.9h26.1v1.9h-26.1zM881.3 247.2h26.1v1.9h-26.1zM881.3 347.1h26.1v1.9h-26.1zM907.3 387.9h26.1v1.9h-26.1zM907.3 391.5h26.1v1.9h-26.1zM907.3 423h26.1v1.9h-26.1zM907.3 437.8h26.1v1.9h-26.1zM907.3 439.6h26.1v1.9h-26.1zM907.3 441.5h26.1v1.9h-26.1zM907.3 445.2h26.1v1.9h-26.1zM907.3 447h26.1v1.9h-26.1zM907.3 448.9h26.1v1.9h-26.1zM907.3 452.6h26.1v1.9h-26.1zM907.3 461.9h26.1v1.9h-26.1zM959.4 269.4h26.1v1.9h-26.1zM959.4 330.5h26.1v1.9h-26.1zM959.4 406.4h26.1v1.9h-26.1zM959.4 426.7h26.1v1.9h-26.1zM959.4 430.4h26.1v1.9h-26.1zM959.4 441.5h26.1v1.9h-26.1zM985.4 398.9h26.1v1.9h-26.1zM985.4 439.6h26.1v1.9h-26.1z"/>
<path fill="#adadff" d="M699.2 143.6h26.1v1.9h-26.1zM699.2 151h26.1v1.9h-26.1zM699.2 164h26.1v1.9h-26.1zM699.2 167.7h26.1v1.9h-26.1zM699.2 206.5h26.1v1.9h-26.1zM699.2 221.3h26.1v1.9h-26.1zM699.2 228.8h26.1v1.9h-26.1zM699.2 247.2h26.1v1.9h-26.1zM699.2 250.9h26.1v1.9h-26.1zM699.2 278.7h26.1v1.9h-26.1zM699.2 334.2h26.1v1.9h-26.1zM699.2 367.5h26.1v1.9h-26.1zM699.2 371.2h26.1v1.9h-26.1zM699.2 378.6h26.1v1.9h-26.1zM725.2 128.8h26.1v1.9h-26.1zM725.2 130.7h26.1v1.9h-26.1zM725.2 145.5h26.1v1.9h-26.1zM725.2 151h26.1v1.9h-26.1zM725.2 154.8h26.1v1.9h-26.1zM725.2 158.4h26.1v1.9h-26.1zM725.2 230.6h26.1v1.9h-26.1zM725.2 238h26.1v1.9h-26.1zM725.2 241.7h26.1v1.9h-26.1zM725.2 247.2h26.1v1.9h-26.1zM725.2 250.9h26.1v1.9h-26.1zM725.2 315.7h26.1v1.9h-26.1zM725.2 328.6h26.1v1.9h-26.1zM725.2 330.5h26.1v1.9h-26.1zM725.2 332.3h26.1v1.9h-26.1zM725.2 350.8h26.1v1.9h-26.1zM751.2 373h26.1v1.9h-26.1zM777.2 101.1h26.1v1.9h-26.1zM777.2 102.9h26.1v1.9h-26.1zM777.2 104.8h26.1v1.9h-26.1zM777.2 106.6h26.1v1.9h-26.1zM777.2 110.3h26.1v1.9h-26.1zM777.2 112.2h26.1v1.9h-26.1zM777.2 115.9h26.1v1.9h-26.1zM777.2 117.8h26.1v1.9h-26.1zM777.2 119.6h26.1v1.9h-26.1zM777.2 138.1h26.1v1.9h-26.1zM777.2 143.6h26.1v1.9h-26.1zM777.2 152.9h26.1v1.9h-26.1zM777.2 165.8h26.1v1.9h-26.1zM777.2 167.7h26.1v1.9h-26.1zM777.2 217.6h26.1v1.9h-26.1zM777.2 226.9h26.1v1.9h-26.1zM777.2 232.4h26.1v1.9h-26.1zM777.2 241.7h26.1v1.9h-26.1zM777.2 263.9h26.1v1.9h-26.1zM777.2 265.8h26.1v1.9h-26.1zM777.2 315.7h26.1v1.9h-26.1zM777.2 317.5h26.1v1.9h-26.1zM777.2 323.1h26.1v1.9h-26.1zM777.2 354.5h26.1v1.9h-26.1zM777.2 356.4h26.1v1.9h-26.1zM777.2 360.1h26.1v1.9h-26.1zM777.2 373h26.1v1.9h-26.1zM777.2 374.9h26.1v1.9h-26.1zM803.3 104.8h26.1v1.9h-26.1zM803.3 106.6h26.1v1.9h-26.1zM803.3 108.5h26.1v1.9h-26.1zM803.3 125.1h26.1v1.9h-26.1zM803.3 365.6h26.1v1.9h-26.1zM803.3 380.4h26.1v1.9h-26.1zM829.3 212.1h26.1v1.9h-26.1zM829.3 300.9h26.1v1.9h-26.1zM829.3 328.6h26.1v1.9h-26.1zM829.3 332.3h26.1v1.9h-26.1zM829.3 369.4h26.1v1.9h-26.1zM829.3 406.4h26.1v1.9h-26.1zM829.3 413.8h26.1v1.9h-26.1zM829.3 415.6h26.1v1.9h-26.1zM829.3 421.1h26.1v1.9h-26.1zM829.3 430.4h26.1v1.9h-26.1zM829.3 432.2h26.1v1.9h-26.1zM829.3 435.9h26.1v1.9h-26.1zM855.3 391.5h26.1v1.9h-26.1zM855.3 423h26.1v1.9h-26.1zM855.3 447h26.1v1.9h-26.1zM855.3 448.9h26.1v1.9h-26.1zM855.3 452.6h26.1v1.9h-26.1zM855.3 460h26.1v1.9h-26.1zM855.3 465.5h26.1v1.9h-26.1zM881.3 221.3h26.1v1.9h-26.1zM881.3 243.5h26.1v1.9h-26.1zM881.3 273.1h26.1v1.9h-26.1zM907.3 230.6h26.1v1.9h-26.1zM907.3 393.4h26.1v1.9h-26.1zM907.3 454.4h26.1v1.9h-26.1zM907.3 456.3h26.1v1.9h-26.1zM959.4 182.5h26.1v1.9h-26.1zM959.4 234.3h26.1v1.9h-26.1zM959.4 328.6h26.1v1.9h-26.1zM959.4 363.8h26.1v1.9h-26.1zM959.4 369.4h26.1v1.9h-26.1zM959.4 374.9h26.1v1.9h-26.1zM959.4 384.1h26.1v1.9h-26.1zM959.4 415.6h26.1v1.9h-26.1zM959.4 419.3h26.1v1.9h-26.1zM959.4 423h26.1v1.9h-26.1zM959.4 424.9h26.1v1.9h-26.1zM959.4 428.5h26.1v1.9h-26.1zM959.4 432.2h26.1v1.9h-26.1zM959.4 434.1h26.1v1.9h-26.1zM959.4 437.8h26.1v1.9h-26.1zM959.4 443.4h26.1v1.9h-26.1zM959.4 445.2h26.1v1.9h-26.1zM959.4 447h26.1v1.9h-26.1zM959.4 461.9h26.1v1.9h-26.1zM985.4 213.9h26.1v1.9h-26.1zM985.4 243.5h26.1v1.9h-26.1zM985.4 382.3h26.1v1.9h-26.1zM985.4 387.9h26.1v1.9h-26.1zM985.4 389.7h26.1v1.9h-26.1zM985.4 391.5h26.1v1.9h-26.1zM985.4 397.1h26.1v1.9h-26.1zM985.4 408.2h26.1v1.9h-26.1zM985.4 410h26.1v1.9h-26.1zM985.4 411.9h26.1v1.9h-26.1zM985.4 413.8h26.1v1.9h-26.1z"/>
<path fill="#8d8dff" d="M699.2 147.3h26.1v1.9h-26.1zM699.2 376.8h26.1v1.9h-26.1zM725.2 149.2h26.1v1.9h-26.1zM777.2 145.5h26.1v1.9h-26.1zM777.2 149.2h26.1v1.9h-26.1zM777.2 156.6h26.1v1.9h-26.1zM777.2 158.4h26.1v1.9h-26.1zM777.2 164h26.1v1.9h-26.1zM777.2 169.5h26.1v1.9h-26.1zM777.2 238h26.1v1.9h-26.1zM777.2 376.8h26.1v1.9h-26.1zM777.2 380.4h26.1v1.9h-26.1zM829.3 114h26.1v1.9h-26.1zM829.3 127h26.1v1.9h-26.1zM829.3 232.4h26.1v1.9h-26.1zM829.3 234.3h26.1v1.9h-26.1zM829.3 236.1h26.1v1.9h-26.1zM829.3 269.4h26.1v1.9h-26.1zM855.3 387.9h26.1v1.9h-26.1zM855.3 389.7h26.1v1.9h-26.1zM855.3 456.3h26.1v1.9h-26.1zM855.3 458.1h26.1v1.9h-26.1zM855.3 463.7h26.1v1.9h-26.1zM881.3 275h26.1v1.9h-26.1zM881.3 352.7h26.1v1.9h-26.1zM907.3 443.4h26.1v1.9h-26.1zM907.3 458.1h26.1v1.9h-26.1zM907.3 460h26.1v1.9h-26.1zM959.4 421.1h26.1v1.9h-26.1z"/>
<path fill="#7c7cff" d="M699.2 149.2h26.1v1.9h-26.1zM777.2 151h26.1v1.9h-26.1zM803.3 226.9h26.1v1.9h-26.1zM829.3 363.8h26.1v1.9h-26.1zM907.3 389.7h26.1v1.9h-26.1zM907.3 424.9h26.1v1.9h-26.1z"/>
<path fill="#fbdfdf" d="M699.2 193.6h26.1v1.9h-26.1zM699.2 280.5h26.1v1.9h-26.1zM699.2 365.6h26.1v1.9h-26.1zM699.2 389.7h26.1v1.9h-26.1zM699.2 393.4h26.1v1.9h-26.1zM699.2 397.1h26.1v1.9h-26.1zM699.2 408.2h26.1v1.9h-26.1zM725.2 361.9h26.1v1.9h-26.1zM725.2 397.1h26.1v1.9h-26.1zM725.2 398.9h26.1v1.9h-26.1zM751.2 367.5h26.1v1.9h-26.1zM751.2 419.3h26.1v1.9h-26.1zM751.2 421.1h26.1v1.9h-26.1zM751.2 426.7h26.1v1.9h-26.1zM751.2 428.5h26.1v1.9h-26.1zM751.2 465.5h26.1v1.9h-26.1zM777.2 443.4h26.1v1.9h-26.1zM803.3 275h26.1v1.9h-26.1zM803.3 334.2h26.1v1.9h-26.1zM803.3 387.9h26.1v1.9h-26.1zM803.3 400.8h26.1v1.9h-26.1zM829.3 106.6h26.1v1.9h-26.1zM829.3 215.8h26.1v1.9h-26.1zM829.3 286.1h26.1v1.9h-26.1zM829.3 448.9h26.1v1.9h-26.1zM829.3 458.1h26.1v1.9h-26.1zM829.3 460h26.1v1.9h-26.1zM829.3 461.9h26.1v1.9h-26.1zM829.3 463.7h26.1v1.9h-26.1zM855.3 104.8h26.1v1.9h-26.1zM855.3 108.5h26.1v1.9h-26.1zM855.3 138.1h26.1v1.9h-26.1zM855.3 225h26.1v1.9h-26.1zM855.3 226.9h26.1v1.9h-26.1zM855.3 228.8h26.1v1.9h-26.1zM855.3 230.6h26.1v1.9h-26.1zM855.3 373h26.1v1.9h-26.1zM881.3 114h26.1v1.9h-26.1zM881.3 115.9h26.1v1.9h-26.1zM881.3 117.8h26.1v1.9h-26.1zM881.3 119.6h26.1v1.9h-26.1zM881.3 127h26.1v1.9h-26.1zM881.3 158.4h26.1v1.9h-26.1zM881.3 160.3h26.1v1.9h-26.1zM881.3 164h26.1v1.9h-26.1zM881.3 165.8h26.1v1.9h-26.1zM881.3 228.8h26.1v1.9h-26.1zM881.3 417.4h26.1v1.9h-26.1zM881.3 428.5h26.1v1.9h-26.1zM881.3 435.9h26.1v1.9h-26.1zM881.3 443.4h26.1v1.9h-26.1zM881.3 450.8h26.1v1.9h-26.1zM881.3 454.4h26.1v1.9h-26.1zM907.3 260.2h26.1v1.9h-26.1zM907.3 262h26.1v1.9h-26.1zM907.3 263.9h26.1v1.9h-26.1zM907.3 265.8h26.1v1.9h-26.1zM907.3 267.6h26.1v1.9h-26.1zM907.3 286.1h26.1v1.9h-26.1zM907.3 365.6h26.1v1.9h-26.1zM907.3 367.5h26.1v1.9h-26.1zM933.4 239.8h26.1v1.9h-26.1zM933.4 267.6h26.1v1.9h-26.1zM933.4 373h26.1v1.9h-26.1zM933.4 408.2h26.1v1.9h-26.1zM933.4 411.9h26.1v1.9h-26.1zM933.4 413.8h26.1v1.9h-26.1zM933.4 421.1h26.1v1.9h-26.1zM933.4 424.9h26.1v1.9h-26.1zM933.4 430.4h26.1v1.9h-26.1zM933.4 439.6h26.1v1.9h-26.1zM933.4 454.4h26.1v1.9h-26.1zM933.4 456.3h26.1v1.9h-26.1zM959.4 164h26.1v1.9h-26.1zM959.4 239.8h26.1v1.9h-26.1zM959.4 241.7h26.1v1.9h-26.1zM959.4 247.2h26.1v1.9h-26.1zM959.4 354.5h26.1v1.9h-26.1zM959.4 389.7h26.1v1.9h-26.1zM959.4 393.4h26.1v1.9h-26.1zM959.4 397.1h26.1v1.9h-26.1zM985.4 104.8h26.1v1.9h-26.1zM985.4 108.5h26.1v1.9h-26.1zM985.4 123.3h26.1v1.9h-26.1zM985.4 128.8h26.1v1.9h-26.1zM985.4 130.7h26.1v1.9h-26.1zM985.4 132.5h26.1v1.9h-26.1zM985.4 134.4h26.1v1.9h-26.1zM985.4 238h26.1v1.9h-26.1zM985.4 269.4h26.1v1.9h-26.1zM985.4 374.9h26.1v1.9h-26.1zM985.4 376.8h26.1v1.9h-26.1zM985.4 378.6h26.1v1.9h-26.1z"/>
<path fill="#f8cfcf" d="M699.2 297.2h26.1v1.9h-26.1zM699.2 380.4h26.1v1.9h-26.1zM699.2 384.1h26.1v1.9h-26.1zM699.2 386h26.1v1.9h-26.1zM699.2 391.5h26.1v1.9h-26.1zM699.2 395.2h26.1v1.9h-26.1zM699.2 406.4h26.1v1.9h-26.1zM699.2 419.3h26.1v1.9h-26.1zM699.2 465.5h26.1v1.9h-26.1zM725.2 382.3h26.1v1.9h-26.1zM725.2 400.8h26.1v1.9h-26.1zM725.2 460h26.1v1.9h-26.1zM725.2 463.7h26.1v1.9h-26.1zM751.2 152.9h26.1v1.9h-26.1zM751.2 164h26.1v1.9h-26.1zM751.2 165.8h26.1v1.9h-26.1zM751.2 167.7h26.1v1.9h-26.1zM751.2 169.5h26.1v1.9h-26.1zM751.2 221.3h26.1v1.9h-26.1zM751.2 423h26.1v1.9h-26.1zM751.2 432.2h26.1v1.9h-26.1zM751.2 458.1h26.1v1.9h-26.1zM751.2 461.9h26.1v1.9h-26.1zM751.2 463.7h26.1v1.9h-26.1zM777.2 391.5h26.1v1.9h-26.1zM803.3 276.9h26.1v1.9h-26.1zM803.3 397.1h26.1v1.9h-26.1zM803.3 398.9h26.1v1.9h-26.1zM803.3 456.3h26.1v1.9h-26.1zM829.3 339.8h26.1v1.9h-26.1zM829.3 376.8h26.1v1.9h-26.1zM829.3 380.4h26.1v1.9h-26.1zM829.3 400.8h26.1v1.9h-26.1zM829.3 465.5h26.1v1.9h-26.1zM855.3 106.6h26.1v1.9h-26.1zM855.3 128.8h26.1v1.9h-26.1zM855.3 132.5h26.1v1.9h-26.1zM855.3 134.4h26.1v1.9h-26.1zM855.3 371.2h26.1v1.9h-26.1zM855.3 374.9h26.1v1.9h-26.1zM855.3 376.8h26.1v1.9h-26.1zM855.3 378.6h26.1v1.9h-26.1zM881.3 106.6h26.1v1.9h-26.1zM881.3 108.5h26.1v1.9h-26.1zM881.3 110.3h26.1v1.9h-26.1zM881.3 112.2h26.1v1.9h-26.1zM881.3 134.4h26.1v1.9h-26.1zM881.3 136.2h26.1v1.9h-26.1zM881.3 167.7h26.1v1.9h-26.1zM881.3 350.8h26.1v1.9h-26.1zM881.3 413.8h26.1v1.9h-26.1zM881.3 419.3h26.1v1.9h-26.1zM881.3 421.1h26.1v1.9h-26.1zM881.3 423h26.1v1.9h-26.1zM881.3 424.9h26.1v1.9h-26.1zM881.3 432.2h26.1v1.9h-26.1zM907.3 106.6h26.1v1.9h-26.1zM907.3 252.8h26.1v1.9h-26.1zM907.3 280.5h26.1v1.9h-26.1zM907.3 291.6h26.1v1.9h-26.1zM907.3 317.5h26.1v1.9h-26.1zM907.3 324.9h26.1v1.9h-26.1zM907.3 363.8h26.1v1.9h-26.1zM933.4 125.1h26.1v1.9h-26.1zM933.4 176.9h26.1v1.9h-26.1zM933.4 197.3h26.1v1.9h-26.1zM933.4 210.2h26.1v1.9h-26.1zM933.4 319.4h26.1v1.9h-26.1zM933.4 363.8h26.1v1.9h-26.1zM933.4 367.5h26.1v1.9h-26.1zM933.4 371.2h26.1v1.9h-26.1zM933.4 374.9h26.1v1.9h-26.1zM933.4 417.4h26.1v1.9h-26.1zM933.4 423h26.1v1.9h-26.1zM933.4 426.7h26.1v1.9h-26.1zM933.4 428.5h26.1v1.9h-26.1zM959.4 238h26.1v1.9h-26.1zM959.4 243.5h26.1v1.9h-26.1zM959.4 250.9h26.1v1.9h-26.1zM959.4 371.2h26.1v1.9h-26.1zM959.4 395.2h26.1v1.9h-26.1zM985.4 110.3h26.1v1.9h-26.1zM985.4 121.4h26.1v1.9h-26.1zM985.4 127h26.1v1.9h-26.1zM985.4 152.9h26.1v1.9h-26.1zM985.4 165.8h26.1v1.9h-26.1zM985.4 312h26.1v1.9h-26.1zM985.4 380.4h26.1v1.9h-26.1zM985.4 415.6h26.1v1.9h-26.1z"/>
<path fill="#f6bfbf" d="M699.2 363.8h26.1v1.9h-26.1zM699.2 382.3h26.1v1.9h-26.1zM699.2 387.9h26.1v1.9h-26.1zM699.2 426.7h26.1v1.9h-26.1zM699.2 454.4h26.1v1.9h-26.1zM725.2 465.5h26.1v1.9h-26.1zM751.2 149.2h26.1v1.9h-26.1zM751.2 154.8h26.1v1.9h-26.1zM751.2 204.7h26.1v1.9h-26.1zM751.2 206.5h26.1v1.9h-26.1zM751.2 219.5h26.1v1.9h-26.1zM751.2 460h26.1v1.9h-26.1zM777.2 384.1h26.1v1.9h-26.1zM803.3 386h26.1v1.9h-26.1zM803.3 415.6h26.1v1.9h-26.1zM855.3 101.1h26.1v1.9h-26.1zM855.3 102.9h26.1v1.9h-26.1zM855.3 119.6h26.1v1.9h-26.1zM855.3 136.2h26.1v1.9h-26.1zM881.3 426.7h26.1v1.9h-26.1zM907.3 110.3h26.1v1.9h-26.1zM907.3 156.6h26.1v1.9h-26.1zM907.3 249.1h26.1v1.9h-26.1zM907.3 254.6h26.1v1.9h-26.1zM907.3 256.5h26.1v1.9h-26.1zM907.3 258.4h26.1v1.9h-26.1zM907.3 284.2h26.1v1.9h-26.1zM907.3 287.9h26.1v1.9h-26.1zM907.3 289.8h26.1v1.9h-26.1zM907.3 315.7h26.1v1.9h-26.1zM907.3 321.2h26.1v1.9h-26.1zM907.3 323.1h26.1v1.9h-26.1zM907.3 326.8h26.1v1.9h-26.1zM907.3 330.5h26.1v1.9h-26.1zM933.4 208.4h26.1v1.9h-26.1zM933.4 236.1h26.1v1.9h-26.1zM933.4 365.6h26.1v1.9h-26.1zM933.4 369.4h26.1v1.9h-26.1zM933.4 419.3h26.1v1.9h-26.1zM933.4 432.2h26.1v1.9h-26.1zM933.4 452.6h26.1v1.9h-26.1zM959.4 138.1h26.1v1.9h-26.1zM959.4 226.9h26.1v1.9h-26.1zM959.4 228.8h26.1v1.9h-26.1zM959.4 232.4h26.1v1.9h-26.1zM959.4 249.1h26.1v1.9h-26.1zM959.4 373h26.1v1.9h-26.1zM985.4 158.4h26.1v1.9h-26.1zM985.4 421.1h26.1v1.9h-26.1z"/>
<path fill="#e74e4e" d="M699.2 398.9h26.1v1.9h-26.1zM751.2 382.3h26.1v1.9h-26.1zM777.2 454.4h26.1v1.9h-26.1zM777.2 465.5h26.1v1.9h-26.1zM803.3 404.5h26.1v1.9h-26.1zM803.3 406.4h26.1v1.9h-26.1zM829.3 391.5h26.1v1.9h-26.1zM855.3 139.9h26.1v1.9h-26.1zM855.3 145.5h26.1v1.9h-26.1zM855.3 149.2h26.1v1.9h-26.1zM855.3 178.8h26.1v1.9h-26.1zM855.3 193.6h26.1v1.9h-26.1zM855.3 199.1h26.1v1.9h-26.1zM855.3 319.4h26.1v1.9h-26.1zM907.3 121.4h26.1v1.9h-26.1zM907.3 189.9h26.1v1.9h-26.1zM907.3 193.6h26.1v1.9h-26.1zM907.3 202.8h26.1v1.9h-26.1zM907.3 206.5h26.1v1.9h-26.1zM907.3 217.6h26.1v1.9h-26.1zM907.3 225h26.1v1.9h-26.1zM907.3 343.4h26.1v1.9h-26.1zM933.4 376.8h26.1v1.9h-26.1zM933.4 380.4h26.1v1.9h-26.1z"/>
<path fill="#e53e3e" d="M699.2 400.8h26.1v1.9h-26.1zM829.3 395.2h26.1v1.9h-26.1zM855.3 176.9h26.1v1.9h-26.1zM855.3 186.2h26.1v1.9h-26.1zM855.3 191.8h26.1v1.9h-26.1zM855.3 195.4h26.1v1.9h-26.1zM855.3 197.3h26.1v1.9h-26.1zM855.3 273.1h26.1v1.9h-26.1zM855.3 328.6h26.1v1.9h-26.1zM907.3 114h26.1v1.9h-26.1zM907.3 132.5h26.1v1.9h-26.1zM907.3 175.1h26.1v1.9h-26.1zM907.3 176.9h26.1v1.9h-26.1zM907.3 182.5h26.1v1.9h-26.1zM907.3 184.3h26.1v1.9h-26.1zM907.3 186.2h26.1v1.9h-26.1zM907.3 191.8h26.1v1.9h-26.1zM907.3 197.3h26.1v1.9h-26.1zM907.3 204.7h26.1v1.9h-26.1zM907.3 212.1h26.1v1.9h-26.1zM907.3 215.8h26.1v1.9h-26.1zM907.3 221.3h26.1v1.9h-26.1zM907.3 226.9h26.1v1.9h-26.1zM907.3 228.8h26.1v1.9h-26.1zM933.4 378.6h26.1v1.9h-26.1zM959.4 108.5h26.1v1.9h-26.1z"/>
<path fill="#f29f9f" d="M699.2 413.8h26.1v1.9h-26.1zM699.2 417.4h26.1v1.9h-26.1zM699.2 424.9h26.1v1.9h-26.1zM699.2 430.4h26.1v1.9h-26.1zM699.2 432.2h26.1v1.9h-26.1zM699.2 434.1h26.1v1.9h-26.1zM699.2 435.9h26.1v1.9h-26.1zM699.2 445.2h26.1v1.9h-26.1zM699.2 447h26.1v1.9h-26.1zM699.2 450.8h26.1v1.9h-26.1zM699.2 458.1h26.1v1.9h-26.1zM751.2 136.2h26.1v1.9h-26.1zM751.2 138.1h26.1v1.9h-26.1zM751.2 151h26.1v1.9h-26.1zM751.2 406.4h26.1v1.9h-26.1zM777.2 402.6h26.1v1.9h-26.1zM777.2 404.5h26.1v1.9h-26.1zM777.2 423h26.1v1.9h-26.1zM777.2 430.4h26.1v1.9h-26.1zM777.2 432.2h26.1v1.9h-26.1zM777.2 445.2h26.1v1.9h-26.1zM777.2 456.3h26.1v1.9h-26.1zM777.2 461.9h26.1v1.9h-26.1zM803.3 408.2h26.1v1.9h-26.1zM803.3 428.5h26.1v1.9h-26.1zM803.3 430.4h26.1v1.9h-26.1zM803.3 432.2h26.1v1.9h-26.1zM803.3 445.2h26.1v1.9h-26.1zM803.3 450.8h26.1v1.9h-26.1zM803.3 452.6h26.1v1.9h-26.1zM803.3 461.9h26.1v1.9h-26.1zM829.3 386h26.1v1.9h-26.1zM855.3 123.3h26.1v1.9h-26.1zM855.3 125.1h26.1v1.9h-26.1zM855.3 204.7h26.1v1.9h-26.1zM855.3 208.4h26.1v1.9h-26.1zM855.3 213.9h26.1v1.9h-26.1zM855.3 369.4h26.1v1.9h-26.1zM881.3 430.4h26.1v1.9h-26.1zM907.3 139.9h26.1v1.9h-26.1zM907.3 141.8h26.1v1.9h-26.1zM907.3 145.5h26.1v1.9h-26.1zM907.3 147.3h26.1v1.9h-26.1zM907.3 149.2h26.1v1.9h-26.1zM907.3 158.4h26.1v1.9h-26.1zM907.3 167.7h26.1v1.9h-26.1zM907.3 241.7h26.1v1.9h-26.1zM907.3 243.5h26.1v1.9h-26.1zM907.3 245.4h26.1v1.9h-26.1zM907.3 247.2h26.1v1.9h-26.1zM907.3 250.9h26.1v1.9h-26.1zM907.3 269.4h26.1v1.9h-26.1zM907.3 275h26.1v1.9h-26.1zM907.3 276.9h26.1v1.9h-26.1zM907.3 300.9h26.1v1.9h-26.1zM907.3 313.8h26.1v1.9h-26.1zM907.3 336h26.1v1.9h-26.1zM907.3 350.8h26.1v1.9h-26.1zM907.3 360.1h26.1v1.9h-26.1zM907.3 361.9h26.1v1.9h-26.1zM933.4 269.4h26.1v1.9h-26.1zM985.4 167.7h26.1v1.9h-26.1zM985.4 363.8h26.1v1.9h-26.1z"/>
<path fill="#f4afaf" d="M699.2 415.6h26.1v1.9h-26.1zM699.2 421.1h26.1v1.9h-26.1zM699.2 428.5h26.1v1.9h-26.1zM699.2 437.8h26.1v1.9h-26.1zM699.2 441.5h26.1v1.9h-26.1zM699.2 448.9h26.1v1.9h-26.1zM699.2 452.6h26.1v1.9h-26.1zM725.2 402.6h26.1v1.9h-26.1zM751.2 139.9h26.1v1.9h-26.1zM751.2 141.8h26.1v1.9h-26.1zM751.2 143.6h26.1v1.9h-26.1zM751.2 147.3h26.1v1.9h-26.1zM751.2 380.4h26.1v1.9h-26.1zM751.2 410h26.1v1.9h-26.1zM751.2 417.4h26.1v1.9h-26.1zM777.2 411.9h26.1v1.9h-26.1zM777.2 419.3h26.1v1.9h-26.1zM777.2 428.5h26.1v1.9h-26.1zM777.2 458.1h26.1v1.9h-26.1zM803.3 417.4h26.1v1.9h-26.1zM803.3 421.1h26.1v1.9h-26.1zM803.3 423h26.1v1.9h-26.1zM803.3 424.9h26.1v1.9h-26.1zM803.3 434.1h26.1v1.9h-26.1zM803.3 439.6h26.1v1.9h-26.1zM803.3 441.5h26.1v1.9h-26.1zM803.3 447h26.1v1.9h-26.1zM803.3 463.7h26.1v1.9h-26.1zM803.3 465.5h26.1v1.9h-26.1zM855.3 127h26.1v1.9h-26.1zM855.3 130.7h26.1v1.9h-26.1zM881.3 132.5h26.1v1.9h-26.1zM881.3 363.8h26.1v1.9h-26.1zM881.3 365.6h26.1v1.9h-26.1zM881.3 369.4h26.1v1.9h-26.1zM881.3 371.2h26.1v1.9h-26.1zM881.3 374.9h26.1v1.9h-26.1zM907.3 108.5h26.1v1.9h-26.1zM907.3 136.2h26.1v1.9h-26.1zM907.3 138.1h26.1v1.9h-26.1zM907.3 151h26.1v1.9h-26.1zM907.3 152.9h26.1v1.9h-26.1zM907.3 154.8h26.1v1.9h-26.1zM907.3 278.7h26.1v1.9h-26.1zM907.3 282.4h26.1v1.9h-26.1zM907.3 297.2h26.1v1.9h-26.1zM907.3 306.4h26.1v1.9h-26.1zM907.3 319.4h26.1v1.9h-26.1zM907.3 328.6h26.1v1.9h-26.1zM907.3 334.2h26.1v1.9h-26.1zM933.4 127h26.1v1.9h-26.1zM933.4 173.2h26.1v1.9h-26.1zM959.4 125.1h26.1v1.9h-26.1zM959.4 230.6h26.1v1.9h-26.1zM985.4 136.2h26.1v1.9h-26.1zM985.4 138.1h26.1v1.9h-26.1zM985.4 139.9h26.1v1.9h-26.1zM985.4 141.8h26.1v1.9h-26.1zM985.4 143.6h26.1v1.9h-26.1zM985.4 145.5h26.1v1.9h-26.1zM985.4 147.3h26.1v1.9h-26.1zM985.4 149.2h26.1v1.9h-26.1zM985.4 151h26.1v1.9h-26.1zM985.4 154.8h26.1v1.9h-26.1zM985.4 156.6h26.1v1.9h-26.1zM985.4 160.3h26.1v1.9h-26.1zM985.4 164h26.1v1.9h-26.1zM985.4 169.5h26.1v1.9h-26.1z"/>
<path fill="#f08f8f" d="M699.2 423h26.1v1.9h-26.1zM699.2 439.6h26.1v1.9h-26.1zM699.2 456.3h26.1v1.9h-26.1zM725.2 389.7h26.1v1.9h-26.1zM725.2 393.4h26.1v1.9h-26.1zM725.2 395.2h26.1v1.9h-26.1zM725.2 461.9h26.1v1.9h-26.1zM751.2 145.5h26.1v1.9h-26.1zM751.2 413.8h26.1v1.9h-26.1zM777.2 406.4h26.1v1.9h-26.1zM777.2 415.6h26.1v1.9h-26.1zM777.2 424.9h26.1v1.9h-26.1zM777.2 426.7h26.1v1.9h-26.1zM777.2 435.9h26.1v1.9h-26.1zM777.2 441.5h26.1v1.9h-26.1zM777.2 452.6h26.1v1.9h-26.1zM803.3 410h26.1v1.9h-26.1zM803.3 413.8h26.1v1.9h-26.1zM803.3 419.3h26.1v1.9h-26.1zM803.3 435.9h26.1v1.9h-26.1zM803.3 437.8h26.1v1.9h-26.1zM803.3 443.4h26.1v1.9h-26.1zM803.3 448.9h26.1v1.9h-26.1zM829.3 382.3h26.1v1.9h-26.1zM829.3 384.1h26.1v1.9h-26.1zM829.3 387.9h26.1v1.9h-26.1zM829.3 398.9h26.1v1.9h-26.1zM855.3 112.2h26.1v1.9h-26.1zM855.3 115.9h26.1v1.9h-26.1zM855.3 121.4h26.1v1.9h-26.1zM855.3 158.4h26.1v1.9h-26.1zM855.3 202.8h26.1v1.9h-26.1zM855.3 206.5h26.1v1.9h-26.1zM855.3 215.8h26.1v1.9h-26.1zM855.3 363.8h26.1v1.9h-26.1zM855.3 367.5h26.1v1.9h-26.1zM881.3 162.1h26.1v1.9h-26.1zM881.3 367.5h26.1v1.9h-26.1zM881.3 373h26.1v1.9h-26.1zM907.3 115.9h26.1v1.9h-26.1zM907.3 143.6h26.1v1.9h-26.1zM907.3 160.3h26.1v1.9h-26.1zM907.3 164h26.1v1.9h-26.1zM907.3 238h26.1v1.9h-26.1zM907.3 271.3h26.1v1.9h-26.1zM907.3 293.5h26.1v1.9h-26.1zM907.3 299h26.1v1.9h-26.1zM907.3 304.6h26.1v1.9h-26.1zM907.3 312h26.1v1.9h-26.1zM907.3 332.3h26.1v1.9h-26.1zM907.3 337.9h26.1v1.9h-26.1zM907.3 349h26.1v1.9h-26.1zM907.3 358.2h26.1v1.9h-26.1zM933.4 234.3h26.1v1.9h-26.1zM985.4 208.4h26.1v1.9h-26.1zM985.4 367.5h26.1v1.9h-26.1zM985.4 369.4h26.1v1.9h-26.1zM985.4 371.2h26.1v1.9h-26.1z"/>
<path fill="#eb6e6e" d="M699.2 443.4h26.1v1.9h-26.1zM751.2 408.2h26.1v1.9h-26.1zM751.2 415.6h26.1v1.9h-26.1zM777.2 400.8h26.1v1.9h-26.1zM777.2 408.2h26.1v1.9h-26.1zM777.2 410h26.1v1.9h-26.1zM777.2 448.9h26.1v1.9h-26.1zM777.2 450.8h26.1v1.9h-26.1zM777.2 463.7h26.1v1.9h-26.1zM803.3 458.1h26.1v1.9h-26.1zM855.3 152.9h26.1v1.9h-26.1zM855.3 154.8h26.1v1.9h-26.1zM855.3 164h26.1v1.9h-26.1zM855.3 169.5h26.1v1.9h-26.1zM855.3 171.4h26.1v1.9h-26.1zM855.3 182.5h26.1v1.9h-26.1zM855.3 184.3h26.1v1.9h-26.1zM855.3 210.2h26.1v1.9h-26.1zM855.3 212.1h26.1v1.9h-26.1zM855.3 217.6h26.1v1.9h-26.1zM855.3 219.5h26.1v1.9h-26.1zM855.3 221.3h26.1v1.9h-26.1zM855.3 365.6h26.1v1.9h-26.1zM907.3 104.8h26.1v1.9h-26.1zM907.3 117.8h26.1v1.9h-26.1zM907.3 123.3h26.1v1.9h-26.1zM907.3 169.5h26.1v1.9h-26.1zM907.3 239.8h26.1v1.9h-26.1zM907.3 295.4h26.1v1.9h-26.1zM907.3 308.3h26.1v1.9h-26.1zM907.3 341.6h26.1v1.9h-26.1zM907.3 345.3h26.1v1.9h-26.1zM907.3 356.4h26.1v1.9h-26.1zM959.4 101.1h26.1v1.9h-26.1zM959.4 102.9h26.1v1.9h-26.1z"/>
<path fill="#e95e5e" d="M725.2 384.1h26.1v1.9h-26.1zM725.2 386h26.1v1.9h-26.1zM777.2 437.8h26.1v1.9h-26.1zM803.3 460h26.1v1.9h-26.1zM829.3 397.1h26.1v1.9h-26.1zM855.3 117.8h26.1v1.9h-26.1zM855.3 141.8h26.1v1.9h-26.1zM855.3 143.6h26.1v1.9h-26.1zM855.3 147.3h26.1v1.9h-26.1zM855.3 151h26.1v1.9h-26.1zM855.3 162.1h26.1v1.9h-26.1zM855.3 165.8h26.1v1.9h-26.1zM855.3 167.7h26.1v1.9h-26.1zM855.3 175.1h26.1v1.9h-26.1zM855.3 180.6h26.1v1.9h-26.1zM855.3 188h26.1v1.9h-26.1zM855.3 189.9h26.1v1.9h-26.1zM855.3 223.2h26.1v1.9h-26.1zM907.3 112.2h26.1v1.9h-26.1zM907.3 119.6h26.1v1.9h-26.1zM907.3 125.1h26.1v1.9h-26.1zM907.3 162.1h26.1v1.9h-26.1zM907.3 171.4h26.1v1.9h-26.1zM907.3 173.2h26.1v1.9h-26.1zM907.3 195.4h26.1v1.9h-26.1zM907.3 201h26.1v1.9h-26.1zM907.3 208.4h26.1v1.9h-26.1zM907.3 213.9h26.1v1.9h-26.1zM907.3 223.2h26.1v1.9h-26.1zM907.3 352.7h26.1v1.9h-26.1zM959.4 104.8h26.1v1.9h-26.1zM959.4 106.6h26.1v1.9h-26.1z"/>
<path fill="#e01e1e" d="M725.2 387.9h26.1v1.9h-26.1zM855.3 232.4h26.1v1.9h-26.1zM855.3 239.8h26.1v1.9h-26.1zM855.3 241.7h26.1v1.9h-26.1zM855.3 247.2h26.1v1.9h-26.1zM855.3 249.1h26.1v1.9h-26.1zM855.3 252.8h26.1v1.9h-26.1zM855.3 254.6h26.1v1.9h-26.1zM855.3 260.2h26.1v1.9h-26.1zM855.3 262h26.1v1.9h-26.1zM855.3 265.8h26.1v1.9h-26.1zM855.3 271.3h26.1v1.9h-26.1zM855.3 275h26.1v1.9h-26.1zM855.3 276.9h26.1v1.9h-26.1zM855.3 286.1h26.1v1.9h-26.1zM855.3 289.8h26.1v1.9h-26.1zM855.3 299h26.1v1.9h-26.1zM855.3 313.8h26.1v1.9h-26.1zM855.3 315.7h26.1v1.9h-26.1zM855.3 321.2h26.1v1.9h-26.1zM855.3 323.1h26.1v1.9h-26.1zM855.3 332.3h26.1v1.9h-26.1zM855.3 345.3h26.1v1.9h-26.1zM855.3 350.8h26.1v1.9h-26.1zM855.3 356.4h26.1v1.9h-26.1zM855.3 360.1h26.1v1.9h-26.1zM907.3 180.6h26.1v1.9h-26.1z"/>
<path fill="#ed7e7e" d="M725.2 391.5h26.1v1.9h-26.1zM751.2 411.9h26.1v1.9h-26.1zM777.2 413.8h26.1v1.9h-26.1zM777.2 417.4h26.1v1.9h-26.1zM777.2 421.1h26.1v1.9h-26.1zM777.2 434.1h26.1v1.9h-26.1zM777.2 439.6h26.1v1.9h-26.1zM777.2 447h26.1v1.9h-26.1zM777.2 460h26.1v1.9h-26.1zM803.3 411.9h26.1v1.9h-26.1zM803.3 426.7h26.1v1.9h-26.1zM803.3 454.4h26.1v1.9h-26.1zM829.3 389.7h26.1v1.9h-26.1zM829.3 393.4h26.1v1.9h-26.1zM855.3 114h26.1v1.9h-26.1zM855.3 156.6h26.1v1.9h-26.1zM855.3 173.2h26.1v1.9h-26.1zM907.3 101.1h26.1v1.9h-26.1zM907.3 102.9h26.1v1.9h-26.1zM907.3 165.8h26.1v1.9h-26.1zM907.3 273.1h26.1v1.9h-26.1zM907.3 302.8h26.1v1.9h-26.1zM907.3 310.1h26.1v1.9h-26.1zM907.3 339.8h26.1v1.9h-26.1zM907.3 347.1h26.1v1.9h-26.1zM907.3 354.5h26.1v1.9h-26.1zM985.4 117.8h26.1v1.9h-26.1zM985.4 119.6h26.1v1.9h-26.1zM985.4 162.1h26.1v1.9h-26.1zM985.4 365.6h26.1v1.9h-26.1zM985.4 373h26.1v1.9h-26.1z"/>
<path fill="#5c5cff" d="M777.2 162.1h26.1v1.9h-26.1zM907.3 421.1h26.1v1.9h-26.1zM907.3 428.5h26.1v1.9h-26.1zM907.3 434.1h26.1v1.9h-26.1zM907.3 435.9h26.1v1.9h-26.1zM907.3 465.5h26.1v1.9h-26.1z"/>
<path fill="#de0e0e" d="M803.3 402.6h26.1v1.9h-26.1zM855.3 236.1h26.1v1.9h-26.1zM855.3 238h26.1v1.9h-26.1zM855.3 243.5h26.1v1.9h-26.1zM855.3 250.9h26.1v1.9h-26.1zM855.3 256.5h26.1v1.9h-26.1zM855.3 258.4h26.1v1.9h-26.1zM855.3 267.6h26.1v1.9h-26.1zM855.3 269.4h26.1v1.9h-26.1zM855.3 278.7h26.1v1.9h-26.1zM855.3 280.5h26.1v1.9h-26.1zM855.3 282.4h26.1v1.9h-26.1zM855.3 284.2h26.1v1.9h-26.1zM855.3 287.9h26.1v1.9h-26.1zM855.3 291.6h26.1v1.9h-26.1zM855.3 297.2h26.1v1.9h-26.1zM855.3 300.9h26.1v1.9h-26.1zM855.3 306.4h26.1v1.9h-26.1zM855.3 308.3h26.1v1.9h-26.1zM855.3 310.1h26.1v1.9h-26.1zM855.3 312h26.1v1.9h-26.1zM855.3 317.5h26.1v1.9h-26.1zM855.3 324.9h26.1v1.9h-26.1zM855.3 330.5h26.1v1.9h-26.1zM855.3 334.2h26.1v1.9h-26.1zM855.3 336h26.1v1.9h-26.1zM855.3 337.9h26.1v1.9h-26.1zM855.3 339.8h26.1v1.9h-26.1zM855.3 352.7h26.1v1.9h-26.1zM855.3 354.5h26.1v1.9h-26.1zM855.3 361.9h26.1v1.9h-26.1zM907.3 127h26.1v1.9h-26.1zM907.3 130.7h26.1v1.9h-26.1zM907.3 178.8h26.1v1.9h-26.1zM907.3 210.2h26.1v1.9h-26.1z"/>
<path fill="#6c6cff" d="M829.3 125.1h26.1v1.9h-26.1zM907.3 419.3h26.1v1.9h-26.1zM907.3 463.7h26.1v1.9h-26.1z"/>
<path fill="#e22e2e" d="M855.3 160.3h26.1v1.9h-26.1zM855.3 201h26.1v1.9h-26.1zM855.3 234.3h26.1v1.9h-26.1zM855.3 245.4h26.1v1.9h-26.1zM855.3 263.9h26.1v1.9h-26.1zM855.3 293.5h26.1v1.9h-26.1zM855.3 295.4h26.1v1.9h-26.1zM855.3 302.8h26.1v1.9h-26.1zM855.3 304.6h26.1v1.9h-26.1zM855.3 326.8h26.1v1.9h-26.1zM855.3 341.6h26.1v1.9h-26.1zM855.3 343.4h26.1v1.9h-26.1zM855.3 347.1h26.1v1.9h-26.1zM855.3 349h26.1v1.9h-26.1zM855.3 358.2h26.1v1.9h-26.1zM907.3 128.8h26.1v1.9h-26.1zM907.3 134.4h26.1v1.9h-26.1zM907.3 188h26.1v1.9h-26.1zM907.3 199.1h26.1v1.9h-26.1zM907.3 219.5h26.1v1.9h-26.1z"/>
<path fill="#4b4bff" d="M907.3 426.7h26.1v1.9h-26.1zM907.3 432.2h26.1v1.9h-26.1z"/>
<path fill="#3b3bff" d="M907.3 430.4h26.1v1.9h-26.1z"/>
<rect x="693" y="101.1" width="6.2" height="366.3" fill="#1a1a1a"/>
<path d="M699.2 101.1H691.3V103.5H685.4V107.5H688.8V111.6H689.9V114.3H690.6V120.8H688.2V125.4H684.6V131H683.1V132.8H680.2V135.4H685.8V140.8H688V146.7H690.2V148.8H686.9V152.8H688.1V155.3H688.4V158.6H690.5V163.5H684.3V169.8H682V174.3H691.8V179.9H688.7V185.6H680.8V191.6H685.2V193.3H687.6V199.2H686.1V204.6H686.3V206.3H687.8V210.8H689.6V216.8H687.5V218.9H688.9V222.1H690.6V223.9H693.2V229.3H685.6V233.1H688.3V235H686.9V238H687.2V240.1H685.3V244.4H684.2V247.8H693.1V251.6H687.1V256.3H690.7V259.1H688.8V264.3H685.9V268.2H690.9V273.7H681.1V278.5H679.7V284.2H688.4V288.5H689.6V293.7H692.6V300H691.2V303.2H682.8V306.1H687.9V310.7H686.5V314.5H685.3V320.8H687.2V325.9H688.3V330.2H689.9V335.8H686.9V338.3H689.7V340H690.9V346H685.3V348.5H688.4V351.5H688.6V356.4H684.6V358.8H692.6V360.7H687V362.5H690.5V368.3H685.5V373.2H679.8V377.4H686.6V380.8H684.6V385.5H690.6V390.9H687.8V394.3H686.7V396H681.9V400.2H692.4V405.5H687.3V409.2H691V413.7H682.5V418.9H688.8V425.3H687.4V431H688.7V436.3H683.3V441.8H688.4V447.7H689V450.8H689V455.6H693.1V461.5H687.5V466.6H685.7V467.4H699.2Z" fill="#1c1c1c"/>
<path d="M691 109.9l1.7 2.1M691.4 125.2l2.6 -2.4M688.4 127.3l3 -2.2M689.4 139.8l2.1 3M690.7 146.7l2.7 -3.3M690.9 151.2l3.2 0.9M691.5 158l3.8 -0.9M689.5 173.8l2 -3M690.8 180.8l1.7 -1.1M689.2 191.3l3.1 1.6M689.1 195.1l3.1 -1.6M688.9 218.2l1.9 0.3M691.4 220.1l3.6 0.4M688.1 230.3l3.6 -1.3M688.3 238.6l3.6 0.2M691.2 244.7l3.9 1.8M690.3 252.6l1.6 -0.5M690.8 262.4l4.4 -2.9M689.3 278.1l2.7 0.8M688.3 280.3l2.7 -2.5M685 303.7l3.5 -2.1M691 312.1l2.3 -2.2M689.6 324.4l2.2 -3.4M689.6 327.5l1.9 2M688.6 337.9l4.3 2.7M688.4 347.2l3.9 -1.1M689.7 348.7l1.7 0.1M691.6 353.9l3.5 1.1M689.2 358l3.7 0.2M691.1 362l3 -2.4M681.5 377.2l3.9 -3.4M686.3 381.8l4.5 0.4M690.1 393.7l2.6 -2.6M689 394.7l1.8 3M689.6 397.8l3.4 1.9M689.9 407.2l1.6 2.3M691.7 417.1l3.2 0.5M690.2 422l1.7 -0.9M689.6 428.7l3.6 2.6M691.4 446.7l2.3 1.3M690.5 448.4l3.6 -1.2M691.6 454.1l2.7 -2.6M688.7 463.4l3.4 1M689.4 468.4l2.2 2" stroke="#fff" stroke-width="1.3" stroke-linecap="round" fill="none" opacity=".92"/>
<path d="M691.5 101.1H680.1V103.7H691.5M691.5 103.2H684.8V107.5H691.5M691.5 107.1H679.8V109.8H691.5M691.5 109.1H680.7V114.4H691.5M691.5 112.1H676.8V116.5H691.5M691.5 115.9H684.9V120.4H691.5M691.5 119.5H682.7V122.4H691.5M691.5 121.6H676.7V126.3H691.5M691.5 126.2H677.5V129.4H691.5M691.5 129.3H684.5V134.8H691.5M691.5 132.6H681.1V138.5H691.5M691.5 136.4H681.6V140.2H691.5M691.5 139.4H676.5V143.6H691.5M691.5 143.4H675.6V148.8H691.5M691.5 146.5H669.6V151.9H691.5M691.5 150.8H680.1V155.5H691.5M691.5 154.5H682.2V157.2H691.5M691.5 157.2H677.5V159.1H691.5M691.5 158.3H672.3V161.1H691.5M691.5 159.8H685.1V164.1H691.5M691.5 162.6H675.7V168.1H691.5M691.5 168.1H684.7V171H691.5M691.5 169.6H681.4V172H691.5M691.5 171H676.8V172.7H691.5M691.5 172.6H681.7V178.2H691.5M691.5 176.8H679.5V181.2H691.5M691.5 180.4H680.4V186.1H691.5M691.5 185.3H678.9V187.9H691.5M691.5 187.3H685.4V191.2H691.5M691.5 190.4H679.3V192H691.5M691.5 191.3H680.8V195.6H691.5M691.5 194.2H678.1V198.9H691.5M691.5 196.7H675.9V201.2H691.5M691.5 200H682.3V204.1H691.5M691.5 202.7H679.5V205.9H691.5M691.5 204.9H685.2V209.9H691.5M691.5 209.2H680V212.1H691.5M691.5 211H681.1V213.3H691.5M691.5 212.3H678.4V215.2H691.5M691.5 214.4H683.8V219.8H691.5M691.5 218.8H681V224.3H691.5M691.5 221.9H680.4V225.8H691.5M691.5 225.5H679.2V227.8H691.5M691.5 227.4H682V232.5H691.5M691.5 230.7H682.8V235.8H691.5M691.5 234.3H677.4V237.7H691.5M691.5 236.2H669.9V237.8H691.5M691.5 237.7H669.8V241.2H691.5M691.5 239.9H677.1V244.7H691.5M691.5 243.5H682.1V246.3H691.5M691.5 245H679.1V249.2H691.5M691.5 247.2H673.4V252.8H691.5M691.5 252.5H679.7V258H691.5M691.5 257.3H682.5V259.6H691.5M691.5 259.1H676.1V262.4H691.5M691.5 261.3H676.9V264H691.5M691.5 263.7H683.5V266.8H691.5M691.5 266.5H672V268.7H691.5M691.5 268.5H685.4V273.7H691.5M691.5 273.4H682.8V275.1H691.5M691.5 274.7H680.8V278.1H691.5M691.5 276.4H684.2V278.1H691.5M691.5 277.3H677V283.2H691.5M691.5 281.7H682.4V284.7H691.5M691.5 284.1H681.9V288.3H691.5M691.5 286.9H679.9V289H691.5M691.5 288.3H683.7V290.2H691.5M691.5 289.8H677.8V294.8H691.5M691.5 293.9H681.8V297.3H691.5M691.5 296.8H678.6V300.2H691.5M691.5 298.9H678.5V302.8H691.5M691.5 301.7H670.8V305.1H691.5M691.5 304.1H677.6V309.6H691.5M691.5 308.1H677.4V310.2H691.5M691.5 310.1H678.8V315.1H691.5M691.5 314H679.6V316H691.5M691.5 315.1H685.1V320.1H691.5M691.5 317.9H683.7V323.3H691.5M691.5 322.9H677.1V325H691.5M691.5 324.8H679.7V330.6H691.5M691.5 327.8H680.4V332.7H691.5M691.5 330.5H676.2V335.4H691.5M691.5 333.8H677.2V337.8H691.5M691.5 336.1H679.3V338.8H691.5M691.5 338H681.5V341.1H691.5M691.5 340.2H676.1V342.1H691.5M691.5 341.5H683.9V346.4H691.5M691.5 345.8H680.3V350.3H691.5M691.5 349.5H684V355.1H691.5M691.5 354.4H680.3V360H691.5M691.5 359.2H682.8V361.5H691.5M691.5 361H683.2V364H691.5M691.5 363.9H678.4V366.7H691.5M691.5 366.5H682.8V370.6H691.5M691.5 368.6H681.7V372.3H691.5M691.5 371.1H677.8V374.1H691.5M691.5 374.1H679.5V377.7H691.5M691.5 377.4H679.9V382.6H691.5M691.5 381.9H681.5V387.2H691.5M691.5 387.1H683.2V390.7H691.5M691.5 390.2H669.7V394.8H691.5M691.5 393H682.9V395.4H691.5M691.5 395.1H676.5V400.4H691.5M691.5 400.1H681.3V403H691.5M691.5 401.6H677.2V403.5H691.5M691.5 402.9H678.7V407H691.5M691.5 405.7H680.6V409.1H691.5M691.5 408.4H681.6V414.2H691.5M691.5 411.7H678.8V414.4H691.5M691.5 414.2H681.7V419.8H691.5M691.5 418.1H677.9V423.1H691.5M691.5 422.3H677.4V426.7H691.5M691.5 426.2H678.8V432H691.5M691.5 429.4H682V433.1H691.5M691.5 432.5H683.7V436.6H691.5M691.5 435.8H676.6V438.1H691.5M691.5 437.1H684.1V442.8H691.5M691.5 442H680V446.2H691.5M691.5 445.1H683.7V448H691.5M691.5 447.6H680.1V452.5H691.5M691.5 450.9H677.7V453.6H691.5M691.5 452.3H683V456.1H691.5M691.5 454.8H681.5V457.8H691.5M691.5 457.5H677V460.6H691.5M691.5 459.5H684.4V461.4H691.5M691.5 461.1H683.6V463.5H691.5M691.5 463.2H678V467.4H691.5M691.5 466.1H683.6V467.4H691.5" fill="none" stroke="#222" stroke-width=".8"/>
<path d="M680.1 102.4H676.9M684.8 105.3H676.9M676.9 102.4V105.3M679.8 108.5H673.9M680.7 111.7H673.9M676.8 114.3H673.9M673.9 108.5V114.3M684.9 118.2H679.6M682.7 120.9H679.6M679.6 118.2V120.9M676.7 124H673.5M677.5 127.8H673.5M684.5 132.1H673.5M673.5 124V132.1M681.1 135.6H674.7M681.6 138.3H674.7M676.5 141.5H674.7M674.7 135.6V141.5M675.6 146.1H667.8M669.6 149.2H667.8M680.1 153.1H667.8M682.2 155.9H667.8M667.8 146.1V155.9M677.5 158.2H668.9M672.3 159.7H668.9M685.1 161.9H668.9M668.9 158.2V161.9M675.7 165.4H672.5M684.7 169.5H672.5M681.4 170.8H672.5M672.5 165.4V170.8M676.8 171.8H675.7M681.7 175.4H675.7M679.5 179H675.7M675.7 171.8V179M680.4 183.3H676.1M678.9 186.6H676.1M676.1 183.3V186.6M685.4 189.3H678.1M679.3 191.2H678.1M678.1 189.3V191.2M680.8 193.4H675.9M678.1 196.5H675.9M675.9 193.4V196.5M675.9 198.9H673.3M682.3 202.1H673.3M679.5 204.3H673.3M685.2 207.4H673.3M673.3 198.9V207.4M680 210.6H678.5M681.1 212.2H678.5M678.5 210.6V212.2M678.4 213.8H676.9M683.8 217.1H676.9M681 221.6H676.9M680.4 223.8H676.9M676.9 213.8V223.8M679.2 226.6H674.1M682 229.9H674.1M682.8 233.2H674.1M677.4 236H674.1M674.1 226.6V236M669.9 237H668.5M669.8 239.5H668.5M677.1 242.3H668.5M668.5 237V242.3M682.1 244.9H670M679.1 247.1H670M673.4 250H670M670 244.9V250M679.7 255.3H678.4M682.5 258.5H678.4M678.4 255.3V258.5M676.1 260.7H673.6M676.9 262.6H673.6M673.6 260.7V262.6M683.5 265.2H671M672 267.6H671M671 265.2V267.6M685.4 271.1H679.2M682.8 274.2H679.2M680.8 276.4H679.2M684.2 277.3H679.2M679.2 271.1V277.3M677 280.3H674.7M682.4 283.2H674.7M674.7 280.3V283.2M681.9 286.2H676.6M679.9 287.9H676.6M676.6 286.2V287.9M683.7 289.2H676M677.8 292.3H676M681.8 295.6H676M676 289.2V295.6M678.6 298.5H668M678.5 300.9H668M670.8 303.4H668M668 298.5V303.4M677.6 306.8H676.2M677.4 309.1H676.2M676.2 306.8V309.1M678.8 312.6H675.9M679.6 315H675.9M685.1 317.6H675.9M683.7 320.6H675.9M675.9 312.6V320.6M677.1 323.9H674.3M679.7 327.7H674.3M674.3 323.9V327.7M680.4 330.3H672.7M676.2 333H672.7M677.2 335.8H672.7M672.7 330.3V335.8M679.3 337.4H676M681.5 339.5H676M676 337.4V339.5M676.1 341.1H674M683.9 344H674M674 341.1V344M680.3 348.1H678.1M684 352.3H678.1M678.1 348.1V352.3M680.3 357.2H677.4M682.8 360.4H677.4M677.4 357.2V360.4M683.2 362.5H677.3M678.4 365.3H677.3M682.8 368.6H677.3M677.3 362.5V368.6M681.7 370.5H675M677.8 372.6H675M675 370.5V372.6M679.5 375.9H677.3M679.9 380H677.3M681.5 384.6H677.3M677.3 375.9V384.6M683.2 388.9H667.3M669.7 392.5H667.3M667.3 388.9V392.5M682.9 394.2H675M676.5 397.7H675M681.3 401.5H675M675 394.2V401.5M677.2 402.6H675.4M678.7 405H675.4M680.6 407.4H675.4M675.4 402.6V407.4M681.6 411.3H676.7M678.8 413H676.7M681.7 417H676.7M676.7 411.3V417M677.9 420.6H675.3M677.4 424.5H675.3M678.8 429.1H675.3M675.3 420.6V429.1M682 431.3H673.4M683.7 434.5H673.4M676.6 437H673.4M673.4 431.3V437M684.1 440H678M680 444.1H678M683.7 446.5H678M678 440V446.5M680.1 450H675.6M677.7 452.2H675.6M683 454.2H675.6M675.6 450V454.2M681.5 456.3H674.5M677 459H674.5M684.4 460.4H674.5M674.5 456.3V460.4M683.6 462.3H674.6M678 465.8H674.6M674.6 462.3V465.8M676.9 103.9H670.3M673.9 111.4H670.3M679.6 119.6H670.3M670.3 103.9V119.6M673.5 128H669.7M674.7 138.5H669.7M669.7 128V138.5M667.8 151H666.2M668.9 160.1H666.2M672.5 168.1H666.2M675.7 175.4H666.2M666.2 151V175.4M676.1 184.9H675M678.1 190.2H675M675 184.9V190.2M675.9 195H671M673.3 203.2H671M678.5 211.4H671M676.9 218.8H671M671 195V218.8M674.1 231.3H665.4M668.5 239.6H665.4M665.4 231.3V239.6M670 247.5H668.6M678.4 256.9H668.6M668.6 247.5V256.9M673.6 261.7H668.5M671 266.4H668.5M668.5 261.7V266.4M679.2 274.2H673.5M674.7 281.7H673.5M673.5 274.2V281.7M676.6 287.1H673.6M676 292.4H673.6M673.6 287.1V292.4M668 301H665.7M676.2 308H665.7M675.9 316.6H665.7M665.7 301V316.6M674.3 325.8H670.9M672.7 333H670.9M670.9 325.8V333M676 338.5H671.7M674 342.5H671.7M671.7 338.5V342.5M678.1 350.2H673.4M677.4 358.8H673.4M673.4 350.2V358.8M677.3 365.5H673.2M675 371.5H673.2M673.2 365.5V371.5M677.3 380.2H664.8M667.3 390.7H664.8M675 397.9H664.8M664.8 380.2V397.9M675.4 405H673.3M676.7 414.2H673.3M673.3 405V414.2M675.3 424.8H671.2M673.4 434.1H671.2M671.2 424.8V434.1M678 443.2H672.7M675.6 452.1H672.7M672.7 443.2V452.1M674.5 458.4H672.6M674.6 464H672.6M683.6 467.8H672.6M672.6 458.4V467.8M670.3 111.7H661.9M669.7 133.3H661.9M666.2 163.2H661.9M661.9 111.7V163.2M675 187.6H662.4M671 206.9H662.4M665.4 235.5H662.4M662.4 187.6V235.5M668.6 252.2H666.4M668.5 264H666.4M673.5 278H666.4M673.6 289.8H666.4M666.4 252.2V289.8M665.7 308.8H662.1M670.9 329.4H662.1M671.7 340.5H662.1M662.1 308.8V340.5M673.4 354.5H662.5M673.2 368.5H662.5M664.8 389H662.5M662.5 354.5V389M673.3 409.6H667.4M671.2 429.5H667.4M667.4 409.6V429.5M672.7 447.7H669.2M672.6 463.1H669.2M669.2 447.7V463.1M661.9 137.5H660.4M662.4 211.5H660.4M660.4 137.5V211.5M666.4 271H661M662.1 324.7H661M661 271V324.7M662.5 371.8H661.3M667.4 419.5H661.3M669.2 455.4H661.3M661.3 371.8V455.4M660.4 174.5H660M661 297.8H660M660 174.5V297.8M660 236.1H660M661.3 413.6H660M660 236.1V413.6" fill="none" stroke="#333" stroke-width=".55"/>
<text x="710.2" y="470.2" font-size="8" fill="#111" transform="rotate(90 710.2 470.2)">A1</text>
<text x="736.2" y="470.2" font-size="8" fill="#111" transform="rotate(90 736.2 470.2)">A2</text>
<text x="762.2" y="470.2" font-size="8" fill="#111" transform="rotate(90 762.2 470.2)">A3</text>
<text x="788.3" y="470.2" font-size="8" fill="#111" transform="rotate(90 788.3 470.2)">A4</text>
<text x="814.3" y="470.2" font-size="8" fill="#111" transform="rotate(90 814.3 470.2)">A5</text>
<text x="840.3" y="470.2" font-size="8" fill="#111" transform="rotate(90 840.3 470.2)">A6</text>
<text x="866.3" y="470.2" font-size="8" fill="#111" transform="rotate(90 866.3 470.2)">B1</text>
<text x="892.3" y="470.2" font-size="8" fill="#111" transform="rotate(90 892.3 470.2)">B2</text>
<text x="918.3" y="470.2" font-size="8" fill="#111" transform="rotate(90 918.3 470.2)">B3</text>
<text x="944.4" y="470.2" font-size="8" fill="#111" transform="rotate(90 944.4 470.2)">B4</text>
<text x="970.4" y="470.2" font-size="8" fill="#111" transform="rotate(90 970.4 470.2)">B5</text>
<text x="996.4" y="470.2" font-size="8" fill="#111" transform="rotate(90 996.4 470.2)">B6</text>
<defs><linearGradient id="hb" x1="0" y1="0" x2="0" y2="1"><stop offset="0" stop-color="#de0e0e"/><stop offset=".5" stop-color="#fff"/><stop offset="1" stop-color="#0a0aff"/></linearGradient></defs>
<rect x="1015" y="101.9" width="7.4" height="108" fill="url(#hb)"/>
<text x="1025.3" y="105.7" font-size="6" fill="#111">3</text>
<text x="1025.3" y="123.2" font-size="6" fill="#111">2</text>
<text x="1025.3" y="140.6" font-size="6" fill="#111">1</text>
<text x="1025.3" y="158.1" font-size="6" fill="#111">0</text>
<text x="1025.3" y="175.6" font-size="6" fill="#111">-1</text>
<text x="1025.3" y="193" font-size="6" fill="#111">-2</text>
<text x="1025.3" y="210.5" font-size="6" fill="#111">-3</text>
</g></g>
<g filter="url(#blc)"><g font-family='"Liberation Sans", sans-serif'>
<path d="M1398 467.8L1387.7 466.8L1378.4 464.4L1372.2 460L1368.1 454L1366.1 446.8L1369.2 440.7L1373.3 437.1L1377.4 435.9L1377.8 400.8L1379.5 394.8L1382.5 387.5L1386.1 379.1L1389.3 371.8L1391.8 370.1L1393.9 375.5L1395.9 383.9L1396.6 392.4L1396.9 419L1397.4 445.5L1398 456.4L1398.6 445.5L1399.1 419L1399.6 397.2L1400.5 391.2L1403.2 385.1L1406.2 379.8L1409.3 381.5L1412.4 387.5L1416.1 394.8L1418.2 400.8L1418.6 435.9L1422.7 437.1L1427.9 440.7L1431 446.8L1428.9 454L1424.8 460L1417.6 464.4L1408.3 466.8Z" fill="#777" stroke="#777" stroke-width="2" stroke-linejoin="round"/>
<path d="M1451 450.5h0M1432.5 457.2h0M1356.5 446h0M1366.3 459.7h0M1448 446.9h0M1360.6 446.4h0M1357.5 446.2h0M1366.7 455.8h0M1449.6 442.2h0M1438.7 448.8h0M1356.7 449.3h0M1367.5 436.7h0M1431.1 444h0M1359 461.2h0M1450.6 451.8h0M1349 440.5h0M1361.1 451.9h0M1362.9 447.6h0M1433.2 459.8h0M1423.5 461.6h0M1363.6 455.7h0M1425.2 461.7h0M1438.2 447.8h0M1355.6 449.1h0M1361.7 452h0M1425.3 462h0M1370.2 457.2h0M1370.4 460.9h0M1437.9 442.4h0M1433 440.9h0M1362.1 447.2h0M1431.9 461.6h0M1435.6 437.6h0M1362.7 440.9h0M1365.3 458.1h0M1366.2 441.2h0M1357.9 446h0M1442.1 444.5h0M1356.3 451.3h0M1425.9 459.2h0M1444.5 455.5h0M1340.5 454.5h0M1438.3 458.8h0M1359.8 447.8h0M1345.1 456.8h0M1427.8 460.2h0M1427 457.5h0M1359.9 448.5h0M1433.1 450.6h0M1343.2 445.3h0M1443.9 449.9h0M1349.6 444.2h0M1432.4 449.7h0M1355.5 453.9h0M1359.6 443.3h0M1439.4 441.9h0M1441.3 439.1h0M1359.5 438h0M1442.8 446.1h0M1363.7 452.4h0M1434.3 445.8h0M1441.9 439.7h0M1443.6 447.2h0M1352.5 450.2h0M1366.8 454.1h0M1360.4 449.8h0M1430.8 442.2h0M1364.9 455.5h0M1359.5 446.5h0M1436.2 442.9h0M1438 439.4h0M1432.9 451.7h0M1355.7 441.5h0M1432.6 439.6h0M1344.8 456.7h0M1358.9 449.4h0M1341.9 455h0M1425.9 459.1h0M1437 451.5h0M1440 444.9h0M1349.6 454.9h0M1439.6 444.8h0M1362.7 441.9h0M1433.8 445.7h0M1366.7 440.9h0M1361.1 442.2h0M1425.2 459.2h0M1365.4 437.7h0M1358.1 457.4h0M1362.4 442.8h0M1359.7 453.2h0M1344.6 452h0M1352.1 443.6h0M1348.7 450.5h0M1446.3 452.4h0M1347.6 450.2h0M1353.7 441.7h0M1434.9 448.4h0M1366.3 455.3h0M1433.4 450.8h0M1436.4 442.5h0M1431.8 440h0M1350.1 441.7h0M1430.8 438.7h0M1437.7 458.2h0M1364.8 437.9h0M1438.9 442.7h0M1364.4 443.5h0M1435 448.7h0M1357.4 440.5h0M1354.9 454.3h0M1361.7 447.4h0M1351.4 451.5h0M1372.3 461.3h0M1463.6 448.9h0M1361.8 458.9h0M1354 444.4h0M1432.5 438.6h0M1437.3 455.2h0M1427.9 439.1h0M1359.5 448.7h0M1354.2 438.5h0M1359.1 444.2h0M1424.6 461.7h0M1428.3 453.8h0M1352.2 449.3h0M1431.8 440.4h0M1350.9 439.7h0M1435.8 452.4h0M1351 448.3h0M1363 448.5h0M1348.7 441.4h0M1433.5 454h0M1362 442.2h0M1363.7 439.5h0M1428.2 459.7h0M1441.5 459.5h0M1365.2 456.9h0M1440.5 459.1h0M1361.2 449.2h0M1435.7 461.4h0M1365.6 458.3h0M1430 458h0M1363.6 438.5h0M1362.3 444.7h0M1438.8 442.6h0M1360.1 453h0M1361.8 446.7h0M1428.4 456.9h0M1436 450.5h0M1366.3 457.8h0M1362.5 453.8h0M1444.9 440.1h0M1332.2 447.5h0M1429.8 441.6h0M1368.1 454.9h0M1448.4 441.3h0M1437.7 458.6h0M1354.6 442.5h0M1357.6 451.7h0M1361.5 450.1h0M1365.3 439.4h0M1458.1 445.1h0M1438.9 456.5h0M1434.8 452.1h0M1362.3 445.7h0M1442.5 443.2h0M1434.2 442.7h0M1423.3 461.7h0M1455.9 448h0M1356.2 437.4h0M1356.1 460h0M1344.6 452.2h0M1348.1 440.3h0M1441.6 451.1h0M1438.6 446.8h0M1439.1 448.5h0M1439.3 454.8h0M1358.8 461.3h0M1437.4 451.6h0M1423.8 460.6h0M1429.8 436.9h0M1360.2 460.1h0M1364.1 437.3h0M1355.6 460.8h0M1359 450.1h0M1352.9 446.7h0M1367.6 459h0M1359 452.9h0M1439.6 445h0M1444.3 446.7h0M1353.1 441.3h0M1368.9 437.8h0M1433.2 439.3h0M1356.2 455h0M1356.1 457.2h0M1363.1 449.2h0M1426.1 460.4h0M1365.3 455.4h0M1361.2 448.2h0M1351.1 442.8h0M1433.6 452.5h0M1438.7 453h0M1352 440.7h0M1434.7 441.6h0M1351.8 442.5h0M1434.7 450.7h0M1429.4 458.1h0M1358.9 454.6h0M1429.2 459.5h0M1358.5 460h0M1434.8 441.3h0M1361.6 454.4h0M1361.3 445.2h0M1433.3 444.3h0M1351.5 454.8h0M1430.1 456.4h0M1434.6 444h0M1437.3 450.9h0M1367.4 437.4h0M1441.1 459.8h0M1361.7 447.1h0M1434 443.2h0M1354 440.8h0M1432.4 457.5h0M1366.4 461.4h0M1447.2 448.2h0M1363.6 441.6h0M1432.8 447.2h0M1367.2 459.9h0M1352.2 439.2h0M1427.1 459.5h0M1344.6 455.8h0M1429.8 453.4h0M1432.5 452h0M1434.6 458.5h0M1358.4 448.3h0M1453.4 451.6h0M1440.1 440.3h0M1348.8 437.7h0M1361.3 448.7h0M1355.5 451.3h0M1358.3 455.7h0M1369.9 457.7h0M1432.4 452.1h0M1342.6 450h0M1367.3 454.3h0M1431 460.4h0M1425.9 461.5h0M1369.7 459.2h0M1357.3 452.9h0M1438.1 449.1h0M1446.1 457.3h0M1441.3 438.2h0M1447.3 440.3h0M1351.6 453.3h0M1359.4 449.7h0M1429.7 458.6h0M1427.3 437.2h0M1365.1 438.5h0M1436 439.8h0M1364.1 451.3h0M1444.4 451.4h0M1347.6 441.4h0M1435.2 445.8h0M1364.1 447.5h0M1370.9 461.9h0M1364.7 455.1h0M1444 439.4h0M1440.5 448.2h0M1350.8 461.5h0M1437 459.7h0M1432.7 456.7h0M1429.6 440.9h0M1436.3 454h0M1361.5 450.1h0M1358.7 452.9h0M1359.1 450.3h0M1353.1 445.4h0M1443.6 449.9h0M1434.5 447.7h0M1345.6 440.6h0M1365.8 439.1h0M1441.7 448.3h0M1431.2 437.8h0M1427.5 457.2h0M1433.3 443.4h0M1438.5 450.1h0M1434.9 450.6h0M1368.2 459.6h0M1438 457.4h0M1362.7 444.1h0M1357.6 456.2h0M1430.4 442.4h0M1432.7 438.6h0M1367.2 456.8h0M1454.1 441.1h0M1434.4 446.2h0M1451.7 446.4h0M1362.6 445.2h0M1360.1 455.4h0M1438.3 459.3h0M1431.1 456.8h0M1343.6 446.5h0M1436.9 455.5h0M1362.3 449.3h0M1350.8 447.4h0M1364.6 443.8h0M1359.2 447.6h0M1366.4 459.9h0M1433.5 449.9h0M1436.6 438.4h0M1351.5 455.2h0M1364 455.9h0M1440.6 447.8h0M1443.9 439.2h0M1363.1 446.7h0M1431.1 444.6h0M1430.1 455.9h0M1358.4 448.1h0M1444 450.5h0M1338.9 438.1h0M1439.8 454.2h0M1355.7 442.6h0M1439.6 456.9h0M1427.6 459h0M1369.1 457.6h0M1353.4 453.6h0M1354.9 443.7h0M1432.1 459.4h0M1429.3 451.5h0M1439.1 436.7h0M1344.9 441h0M1440.8 448.6h0M1365.1 451.3h0M1433.5 443.6h0M1430.1 443.4h0M1354.4 446.9h0M1427.8 455.8h0M1449.4 437.3h0M1349.5 444.3h0M1364.5 438.1h0M1433.9 436.6h0M1358.3 441.5h0M1453.6 445.5h0M1361.5 459.5h0M1433.3 458.8h0M1427.5 454.4h0M1442 457.6h0M1441.7 451.9h0M1362.7 444.4h0M1428.3 439.2h0M1339.6 453.8h0M1353.3 450h0M1362.7 456.8h0M1448.7 453h0M1364.6 461.6h0M1367.5 437.9h0M1432.7 445.5h0M1437.2 439.1h0M1351.2 443.9h0M1453.8 442.2h0M1368.1 460h0M1435 444.4h0M1360.8 457.4h0M1368.8 455h0M1340.3 447h0M1366.8 457.4h0M1364.5 455h0M1367.7 438.7h0M1350 448.5h0M1431.7 448.3h0M1349.8 441.6h0M1359.4 454.9h0M1347.6 436.9h0M1455.5 446.2h0M1371.7 460.5h0M1436.9 447.9h0M1435.2 461.2h0M1349.3 449.2h0M1435.5 459.1h0M1434.9 456h0M1363.2 443.8h0M1359.8 455.4h0M1356.8 455.4h0M1343.4 446.8h0M1360.2 457.4h0M1436.5 446.5h0M1353.3 443.6h0M1359 460.1h0M1360.9 441.9h0M1363.1 446.2h0M1430.8 454h0M1447.4 442.6h0M1436.7 457.6h0M1434.5 455.7h0M1346.9 442h0M1432.9 454h0M1363.6 437.4h0M1363.4 458.7h0M1356.3 443.1h0M1427.9 461.9h0M1432.9 452h0M1349.1 450h0M1362.7 443.8h0M1360.6 454.5h0M1363.4 450.3h0M1452.7 452.7h0M1361.2 456.4h0M1365.8 451.8h0M1354.1 438.8h0M1437.1 450.2h0M1364.2 452.4h0M1426.7 456.5h0M1449 441.6h0M1354 456.8h0M1440.7 450h0M1364.9 436.8h0M1361.4 452.3h0M1429.6 460.8h0M1365.8 461.5h0M1444.8 443.2h0M1363 456.5h0M1364.9 452.8h0M1351.5 458.5h0M1356 443.6h0M1366 452.2h0M1437 440.3h0M1347.9 448.8h0M1361.2 454.3h0M1364.8 448.9h0M1434.4 461.2h0M1437.5 444.4h0M1430.9 454h0M1431.6 456.8h0M1440.3 448.4h0M1361.7 440h0M1429 459.4h0M1365.9 460.9h0M1448.7 443h0M1434.7 437.2h0M1358 445.2h0M1361.5 444.5h0M1428.2 437.7h0M1440.3 459.7h0M1435.2 458.9h0M1432 453.7h0M1359.3 444.1h0M1356.2 449.9h0M1349.2 453.1h0M1366.2 439h0M1434.5 449.8h0M1351.8 444.2h0M1365.9 439.1h0M1363.9 451.7h0M1438.5 452.4h0M1367.3 455.6h0M1434.9 461.1h0M1359.9 455.3h0M1452.5 445.7h0M1348.9 452.8h0M1358.1 442.4h0M1437.3 451.4h0M1432.1 460.2h0M1361 438.9h0M1432.8 441.6h0M1359.7 437.2h0M1434.2 446.6h0M1352.5 456h0M1441.4 438.5h0M1367.4 440.4h0M1432.1 446.1h0M1367.4 461.5h0M1344.8 444.3h0M1430.1 457.9h0M1435.3 441.6h0M1436.6 443h0M1358 456h0M1355.3 438.7h0M1358.4 439.7h0M1449.1 454.1h0M1446 449h0M1433.1 451.5h0M1438.7 460.6h0M1441.8 444.4h0M1441.8 443.8h0M1357.6 457.3h0M1356.9 440.6h0M1435.3 444h0M1362.2 441.6h0M1353.6 454.6h0M1449.5 437.3h0M1355.8 437.4h0M1441 455.2h0M1359.3 451.9h0M1367.1 460.7h0M1362.3 452.9h0M1355.9 451.7h0M1351.1 457.6h0M1430.6 454.1h0M1349 451.6h0M1429.9 437.1h0M1361.7 454.8h0M1343.7 450.8h0M1436.1 439.6h0M1431.5 458.9h0M1437.5 447.5h0M1433.7 446.1h0M1430.2 456.9h0M1342.6 447.8h0M1358.9 454.1h0M1430.1 456.9h0M1438.9 449.7h0M1353 447.8h0M1435.8 448h0M1454.4 440h0M1363.3 447.5h0M1368.1 457.7h0M1442.9 444.9h0M1442.3 454.1h0M1362.9 461.7h0M1433.7 442.5h0M1445.3 441.4h0M1355.3 441h0M1441.4 438.2h0M1359 455.6h0M1371.3 461.7h0M1439.7 452.6h0M1437.5 441.4h0M1359.5 454.1h0M1434.8 439h0M1364.8 456.6h0M1353.4 456.6h0M1365.4 457.5h0M1432.4 458h0M1363.1 461.7h0M1449.7 451.7h0M1359.8 442.7h0M1441.6 439.6h0M1437.8 447.3h0M1346.8 451.1h0M1427.8 439.5h0M1433.5 460.2h0M1429 457.3h0M1355.5 448.7h0M1354.4 452.4h0M1443.2 456.6h0M1350 446h0M1436.5 458.9h0M1362.6 440.8h0M1364.5 452.5h0M1431.9 446.1h0M1347 454.8h0M1440 458.1h0M1428.7 453.7h0M1439.7 443.3h0M1371.8 460.7h0M1347.2 459.2h0M1357.9 440.7h0M1448.5 449h0M1370 460.3h0M1437.2 441.5h0M1364.9 456.7h0M1363.2 454.9h0M1427.1 460.1h0M1439.4 455.8h0M1365.9 440.3h0M1361.3 452.7h0M1435.7 453.5h0M1429.5 454.7h0M1442.5 457.4h0M1433.3 450.2h0M1362.2 460.2h0M1367.4 437.7h0M1446.4 447.8h0M1444.9 444.2h0M1362.5 445.3h0M1431.7 458.7h0M1443.7 460.9h0M1449.8 446.5h0M1351 454.2h0M1430.5 443.3h0M1429.3 439.9h0M1431.1 455.2h0M1429.8 441.2h0M1365.2 458.8h0M1429.6 453.2h0M1442.1 454.8h0M1363.7 437.8h0M1438.2 438.3h0M1435.9 456.9h0M1431.3 460.4h0M1432.9 453.5h0M1357.4 445.2h0M1354.2 444.9h0M1432.9 446.9h0M1440.2 452.1h0M1350.1 440.4h0M1357.4 448.1h0M1364.6 441.9h0M1449.4 452.5h0M1366.8 439.8h0M1436.5 450.1h0M1354 449.8h0M1358.2 437.4h0M1366.9 441h0M1353.4 436.7h0M1366.8 441.9h0M1343.9 448.8h0M1364.9 448.9h0M1337.6 443.2h0M1431.2 444.3h0M1432 445.1h0M1360.3 450.1h0M1451.2 452.6h0M1431.6 461.4h0M1366 451.5h0M1365 436.6h0M1368.6 460.3h0M1434.2 449h0M1367.5 453h0M1360.5 460.6h0M1352.4 447h0M1363.3 440.4h0M1358.1 441.4h0M1358.9 457.6h0M1364.1 451.5h0M1444.7 459.2h0M1359.7 458h0M1361.3 438.8h0M1436.6 452.1h0M1428.8 459.1h0M1438.2 453.6h0M1330.3 447.8h0M1357 447.6h0M1435.8 443.2h0M1358.1 456.4h0M1433.9 452.9h0M1347.5 453.5h0M1430.5 460.4h0M1438.3 448.1h0M1350.3 443.9h0M1440.8 454h0M1360.9 448.6h0M1352.2 452.5h0M1427.3 437.6h0M1430.7 437.5h0M1359.9 442.6h0M1441.8 454h0M1354.9 453.2h0M1435.8 456.6h0M1456.7 445.6h0M1433.6 451.8h0M1364.8 451.9h0M1434.8 440.9h0M1426.6 458h0M1351.5 445.7h0M1367.1 452h0M1432.8 448h0M1367.2 438.3h0M1358.5 447.3h0M1356.4 453.5h0M1352.8 457.6h0M1435.6 452.4h0M1342.4 444.8h0M1357.7 443.5h0M1433.8 437.7h0M1359 459.1h0M1360.2 451.9h0M1363.1 451.5h0M1362.5 440.7h0M1436.6 451.6h0M1357.1 438.4h0M1453.5 449.5h0M1445.4 449h0M1437 457.8h0M1433.3 456.9h0M1443.4 452.4h0M1439.2 450.5h0M1441.9 449.8h0M1428.8 453.7h0M1357.2 443.4h0M1366.3 455.5h0M1361.1 455.8h0M1337.8 451h0M1438.6 438.9h0M1365 452.2h0M1443.4 459.4h0M1348.4 449.3h0M1435.3 447.6h0M1339.6 453.5h0M1438.2 452.9h0M1370 459.5h0M1438.4 448.4h0M1350.1 458.9h0M1439.2 438.5h0M1445.1 452.7h0M1356.3 437.1h0M1358.1 455.7h0M1452 445h0M1368.9 455.6h0M1427.9 461.2h0M1364.5 438h0M1363.1 440.2h0M1347.9 446.5h0M1430.8 438.7h0M1437.5 454.2h0M1362.6 442h0M1434.7 449.8h0M1437.9 445.7h0M1434.9 447.6h0M1361.8 448h0M1356.7 454.3h0M1433.5 458.9h0M1352.8 454.1h0M1365.7 460.3h0M1349.7 451.5h0M1366 440.3h0M1351.5 450.9h0M1355.2 446.4h0M1356.9 439.7h0M1430.7 460h0M1366.2 461.2h0M1435.2 453.5h0M1352.4 438.2h0M1443.9 461.5h0M1433.5 441.8h0M1363.3 448.8h0M1444 459.2h0M1351.8 461.4h0M1365.6 458.2h0M1351.6 447.3h0M1365.3 462h0M1365 451.9h0M1431.3 451.6h0M1357.4 439.2h0M1437 455.3h0M1432.5 444.9h0M1434.1 445.4h0M1432.6 455.6h0M1433.1 456.4h0M1447.5 446.5h0M1361.1 447.4h0M1435.1 454.3h0M1356.9 443.2h0M1347.1 448.3h0M1362.1 444.6h0M1363.4 447.8h0M1432.6 452.6h0M1365.7 440.8h0M1356.2 451.3h0M1445.7 452.4h0M1343.9 447.7h0M1426.4 461.6h0M1366.6 461.1h0M1369 460.3h0M1358.8 439.7h0M1364.6 438.4h0M1435.9 441.6h0M1368.5 458.5h0M1440 439.6h0M1355.3 438.5h0M1351 438.2h0M1363.3 444.8h0M1360.5 454.2h0M1435.3 448.7h0M1434 442.6h0M1368.1 456.3h0M1363.4 438.6h0M1440.1 447.6h0M1453.3 449.7h0M1334.1 449.6h0M1428.4 457.1h0M1429.9 442.6h0M1434.8 448.2h0M1360.1 443.3h0M1365.6 437.6h0M1345.6 449.3h0M1362.3 450.2h0M1432.1 437.3h0M1430.2 455.4h0M1358.2 443.1h0M1442 452.9h0M1433.3 455.5h0M1355.2 456.1h0M1365.9 438.6h0M1428.4 438.3h0M1440.3 458h0M1368.1 454.8h0M1365.1 449.8h0M1437 449.4h0M1444.4 451.8h0M1440.9 447.4h0M1361.1 445.8h0M1362.3 445.7h0M1359.7 459.8h0M1429.1 456h0M1360.2 439.1h0M1354.2 451.2h0M1434.6 449.7h0M1442.4 454h0M1437.9 444.5h0M1359 441.6h0M1448.9 443.9h0M1357.5 441.6h0M1357 443.9h0M1352.8 438.6h0M1434.6 450h0M1362.4 438.3h0M1427.9 455.4h0M1428.3 439.9h0M1444.9 442.3h0M1369.7 437h0M1446.4 450.9h0M1341.9 442.5h0M1442.8 445.8h0M1449.2 456.3h0M1359.8 449.3h0M1364.9 456.1h0M1440.6 454h0M1355 444.4h0M1440.7 438.1h0M1360.1 453.6h0M1431.7 437.8h0M1364.9 437.6h0M1438.8 448.7h0M1362.9 460.3h0M1355.2 450h0M1427.9 454.7h0M1361.9 460.2h0M1453.9 437.7h0M1436 445.8h0M1363.5 456.5h0M1430.6 451h0M1445.7 445.7h0M1445.7 447.1h0M1369.9 457.2h0M1355.7 446.4h0M1433.1 443.7h0M1365.6 455.2h0M1354.5 451h0M1346.5 437.8h0M1365.5 460.6h0M1427.2 461.9h0M1436.3 458.7h0M1352.1 449.3h0M1440.2 444.7h0M1371.9 460.8h0M1443.8 451.8h0M1426 460.1h0M1354.3 456.7h0M1451.2 440.4h0M1367 438.5h0M1363.8 453.5h0M1452.9 449.1h0M1365.2 443.2h0M1450.4 444h0M1429.5 456.7h0M1358.2 456.6h0M1432.7 451.5h0M1433.4 443.3h0M1434.5 445.3h0M1366.7 456.2h0M1445.3 443.6h0M1363.1 456.2h0M1441.5 448.3h0M1432.8 440.7h0M1438.8 442.5h0M1434 440.1h0M1369.7 436.8h0M1353.5 449.3h0M1457.2 441.1h0M1443 443.9h0M1430 443h0M1346.9 447.7h0M1369.5 436.9h0M1352.1 441.4h0M1440.2 455h0M1427.9 457.7h0M1455.7 445.1h0M1348.7 444.8h0M1446 446.6h0M1363.1 450.8h0M1430.1 437.8h0M1371.3 461.8h0M1358.7 444.5h0M1361.4 452.9h0M1434.6 448.3h0M1363 454.1h0M1366.4 456.7h0M1363.7 441.8h0M1441 455.3h0M1436.3 445.1h0M1458.5 443h0M1462.7 440.2h0M1316.6 443h0M1329.9 441.2h0M1471.6 438.5h0M1326.4 444.5h0M1456.5 438.9h0M1477.5 440.1h0M1317.2 439.6h0M1328.8 444.5h0M1458.7 440.1h0M1328.6 453.1h0M1475.2 453.3h0M1319.2 443.3h0M1341.3 453.3h0M1476.7 446.3h0M1453.6 452.4h0M1314.5 444.4h0M1453 451.6h0M1453.3 441.8h0M1325.9 448.4h0M1451.7 439.5h0M1460.2 453.8h0M1465.3 451.3h0M1340.7 440.7h0M1473.9 451h0M1474.4 446.1h0M1478.5 448.3h0M1467 445.7h0M1335 449.4h0M1452.6 441.5h0M1461 451h0M1474.4 442.3h0M1454.5 446.1h0M1315.4 438.4h0M1342 450.1h0M1469.5 445.9h0M1452.8 449.5h0M1484.2 452.8h0M1344 451.7h0M1475.1 442.2h0M1470.1 439.2h0M1471.1 445.4h0M1325.2 451.3h0M1476.1 450.2h0M1404 382.3h0M1418 374h0M1395.7 375.6h0M1385 392.9h0M1406.1 360.3h0M1378.2 402.3h0M1381.2 378.3h0M1394.9 401.3h0M1381.6 381.3h0M1379.9 382.7h0M1414.7 371.2h0M1390.1 393.2h0M1379 406.9h0M1407 366.2h0M1407.1 373h0M1409 362.7h0M1385.2 391.5h0M1383.7 401h0M1383.3 389.3h0M1378.2 383.5h0M1417 396.2h0M1394.9 383.6h0M1402.3 391.6h0M1395.4 365.2h0M1410.2 386.3h0M1392.2 399.4h0M1387.8 380.5h0M1394.5 368.8h0M1393.6 386.4h0M1380.6 382.9h0M1382.1 377.3h0M1389.6 394.8h0M1403 399.2h0M1391.6 374.1h0M1394.4 400.3h0M1411 366.8h0M1385.2 393.1h0M1392.5 395.7h0M1394.6 382.1h0M1392.9 379.8h0M1407.5 383.9h0M1388.9 379.8h0M1378 408.5h0M1417 392.2h0M1405.3 387.1h0M1393 369.7h0M1416.8 404.2h0M1391.2 387.2h0M1382.3 374.7h0M1384.6 369.2h0M1413.9 401h0M1382.5 371.4h0M1410.8 375.8h0M1418.2 377.3h0M1417.5 403.5h0M1409.1 396.7h0M1388.1 376.6h0M1390.1 374.1h0M1391.1 372.8h0M1391.2 384.6h0M1386.1 390.9h0M1410.2 388.2h0M1393.9 374.9h0M1411.7 384.8h0M1394.8 374.8h0M1381.4 399.1h0M1415.6 370.9h0M1404.9 376.9h0M1390.3 369.1h0M1409.8 377.1h0M1393.7 378.2h0M1388.3 366.1h0M1385.6 375.6h0M1389.2 361.7h0M1387.6 367.6h0M1410 368.1h0M1417.1 406.5h0M1387.3 395.9h0M1380.5 400.8h0M1402.4 377.9h0M1416.7 393.8h0M1416.1 386.2h0M1380.3 381h0M1405.3 368.3h0M1408.6 399.2h0M1415.5 388.4h0M1386.7 398.2h0M1389.4 383.4h0M1378 379h0M1401.4 378.8h0M1414.6 390.8h0M1416.9 382.1h0M1401.5 397.6h0M1409.7 363.7h0M1387.9 377.2h0M1385 372.7h0M1411.8 391.1h0M1416.2 399.4h0M1395.9 397.1h0M1393.5 395.9h0M1385.7 395.5h0M1408.1 375.8h0M1390.8 396.5h0M1388.2 395.9h0M1378.3 396.5h0M1416.4 377.3h0M1380.9 371.3h0M1387.4 388h0M1403.8 374.9h0M1388.3 392.6h0M1394.1 312.9h0M1413.7 323.5h0M1404.2 331.2h0M1389.3 333.2h0M1388.7 339.2h0M1406.2 340.4h0M1389.3 347.7h0M1409.3 350.1h0M1378.4 351.3h0M1390.2 352.5h0M1391.2 252.2h0M1384.6 363.4h0M1387.7 359.7h0M1403.2 361h0M1410.4 363.4h0M1414.5 368.2h0M1382.5 370.6h0M1505.1 441.9h0M1496.9 444.3h0M1478.3 443.1h0M1461.9 450.4h0M1457.7 455.2h0M1317.7 445.5h0M1328 450.4h0" stroke="#6a6a6a" stroke-width="3.1" stroke-linecap="round" fill="none" opacity=".85"/>
<path d="M1451 450.5h0M1432.5 457.2h0M1356.5 446h0M1366.3 459.7h0M1448 446.9h0M1360.6 446.4h0M1357.5 446.2h0M1366.7 455.8h0M1449.6 442.2h0M1438.7 448.8h0M1356.7 449.3h0M1367.5 436.7h0M1431.1 444h0M1359 461.2h0M1450.6 451.8h0M1349 440.5h0M1361.1 451.9h0M1362.9 447.6h0M1433.2 459.8h0M1423.5 461.6h0M1363.6 455.7h0M1425.2 461.7h0M1438.2 447.8h0M1355.6 449.1h0M1361.7 452h0M1425.3 462h0M1370.2 457.2h0M1370.4 460.9h0M1437.9 442.4h0M1433 440.9h0M1362.1 447.2h0M1431.9 461.6h0M1435.6 437.6h0M1362.7 440.9h0M1365.3 458.1h0M1366.2 441.2h0M1357.9 446h0M1442.1 444.5h0M1356.3 451.3h0M1425.9 459.2h0M1444.5 455.5h0M1340.5 454.5h0M1438.3 458.8h0M1359.8 447.8h0M1345.1 456.8h0M1427.8 460.2h0M1427 457.5h0M1359.9 448.5h0M1433.1 450.6h0M1343.2 445.3h0M1443.9 449.9h0M1349.6 444.2h0M1432.4 449.7h0M1355.5 453.9h0M1359.6 443.3h0M1439.4 441.9h0M1441.3 439.1h0M1359.5 438h0M1442.8 446.1h0M1363.7 452.4h0M1434.3 445.8h0M1441.9 439.7h0M1443.6 447.2h0M1352.5 450.2h0M1366.8 454.1h0M1360.4 449.8h0M1430.8 442.2h0M1364.9 455.5h0M1359.5 446.5h0M1436.2 442.9h0M1438 439.4h0M1432.9 451.7h0M1355.7 441.5h0M1432.6 439.6h0M1344.8 456.7h0M1358.9 449.4h0M1341.9 455h0M1425.9 459.1h0M1437 451.5h0M1440 444.9h0M1349.6 454.9h0M1439.6 444.8h0M1362.7 441.9h0M1433.8 445.7h0M1366.7 440.9h0M1361.1 442.2h0M1425.2 459.2h0M1365.4 437.7h0M1358.1 457.4h0M1362.4 442.8h0M1359.7 453.2h0M1344.6 452h0M1352.1 443.6h0M1348.7 450.5h0M1446.3 452.4h0M1347.6 450.2h0M1353.7 441.7h0M1434.9 448.4h0M1366.3 455.3h0M1433.4 450.8h0M1436.4 442.5h0M1431.8 440h0M1350.1 441.7h0M1430.8 438.7h0M1437.7 458.2h0M1364.8 437.9h0M1438.9 442.7h0M1364.4 443.5h0M1435 448.7h0M1357.4 440.5h0M1354.9 454.3h0M1361.7 447.4h0M1351.4 451.5h0M1372.3 461.3h0M1463.6 448.9h0M1361.8 458.9h0M1354 444.4h0M1432.5 438.6h0M1437.3 455.2h0M1427.9 439.1h0M1359.5 448.7h0M1354.2 438.5h0M1359.1 444.2h0M1424.6 461.7h0M1428.3 453.8h0M1352.2 449.3h0M1431.8 440.4h0M1350.9 439.7h0M1435.8 452.4h0M1351 448.3h0M1363 448.5h0M1348.7 441.4h0M1433.5 454h0M1362 442.2h0M1363.7 439.5h0M1428.2 459.7h0M1441.5 459.5h0M1365.2 456.9h0M1440.5 459.1h0M1361.2 449.2h0M1435.7 461.4h0M1365.6 458.3h0M1430 458h0M1363.6 438.5h0M1362.3 444.7h0M1438.8 442.6h0M1360.1 453h0M1361.8 446.7h0M1428.4 456.9h0M1436 450.5h0M1366.3 457.8h0M1362.5 453.8h0M1444.9 440.1h0M1332.2 447.5h0M1429.8 441.6h0M1368.1 454.9h0M1448.4 441.3h0M1437.7 458.6h0M1354.6 442.5h0M1357.6 451.7h0M1361.5 450.1h0M1365.3 439.4h0M1458.1 445.1h0M1438.9 456.5h0M1434.8 452.1h0M1362.3 445.7h0M1442.5 443.2h0M1434.2 442.7h0M1423.3 461.7h0M1455.9 448h0M1356.2 437.4h0M1356.1 460h0M1344.6 452.2h0M1348.1 440.3h0M1441.6 451.1h0M1438.6 446.8h0M1439.1 448.5h0M1439.3 454.8h0M1358.8 461.3h0M1437.4 451.6h0M1423.8 460.6h0M1429.8 436.9h0M1360.2 460.1h0M1364.1 437.3h0M1355.6 460.8h0M1359 450.1h0M1352.9 446.7h0M1367.6 459h0M1359 452.9h0M1439.6 445h0M1444.3 446.7h0M1353.1 441.3h0M1368.9 437.8h0M1433.2 439.3h0M1356.2 455h0M1356.1 457.2h0M1363.1 449.2h0M1426.1 460.4h0M1365.3 455.4h0M1361.2 448.2h0M1351.1 442.8h0M1433.6 452.5h0M1438.7 453h0M1352 440.7h0M1434.7 441.6h0M1351.8 442.5h0M1434.7 450.7h0M1429.4 458.1h0M1358.9 454.6h0M1429.2 459.5h0M1358.5 460h0M1434.8 441.3h0M1361.6 454.4h0M1361.3 445.2h0M1433.3 444.3h0M1351.5 454.8h0M1430.1 456.4h0M1434.6 444h0M1437.3 450.9h0M1367.4 437.4h0M1441.1 459.8h0M1361.7 447.1h0M1434 443.2h0M1354 440.8h0M1432.4 457.5h0M1366.4 461.4h0M1447.2 448.2h0M1363.6 441.6h0M1432.8 447.2h0M1367.2 459.9h0M1352.2 439.2h0M1427.1 459.5h0M1344.6 455.8h0M1429.8 453.4h0M1432.5 452h0M1434.6 458.5h0M1358.4 448.3h0M1453.4 451.6h0M1440.1 440.3h0M1348.8 437.7h0M1361.3 448.7h0M1355.5 451.3h0M1358.3 455.7h0M1369.9 457.7h0M1432.4 452.1h0M1342.6 450h0M1367.3 454.3h0M1431 460.4h0M1425.9 461.5h0M1369.7 459.2h0M1357.3 452.9h0M1438.1 449.1h0M1446.1 457.3h0M1441.3 438.2h0M1447.3 440.3h0M1351.6 453.3h0M1359.4 449.7h0M1429.7 458.6h0M1427.3 437.2h0M1365.1 438.5h0M1436 439.8h0M1364.1 451.3h0M1444.4 451.4h0M1347.6 441.4h0M1435.2 445.8h0M1364.1 447.5h0M1370.9 461.9h0M1364.7 455.1h0M1444 439.4h0M1440.5 448.2h0M1350.8 461.5h0M1437 459.7h0M1432.7 456.7h0M1429.6 440.9h0M1436.3 454h0M1361.5 450.1h0M1358.7 452.9h0M1359.1 450.3h0M1353.1 445.4h0M1443.6 449.9h0M1434.5 447.7h0M1345.6 440.6h0M1365.8 439.1h0M1441.7 448.3h0M1431.2 437.8h0M1427.5 457.2h0M1433.3 443.4h0M1438.5 450.1h0M1434.9 450.6h0M1368.2 459.6h0M1438 457.4h0M1362.7 444.1h0M1357.6 456.2h0M1430.4 442.4h0M1432.7 438.6h0M1367.2 456.8h0M1454.1 441.1h0M1434.4 446.2h0M1451.7 446.4h0M1362.6 445.2h0M1360.1 455.4h0M1438.3 459.3h0M1431.1 456.8h0M1343.6 446.5h0M1436.9 455.5h0M1362.3 449.3h0M1350.8 447.4h0M1364.6 443.8h0M1359.2 447.6h0M1366.4 459.9h0M1433.5 449.9h0M1436.6 438.4h0M1351.5 455.2h0M1364 455.9h0M1440.6 447.8h0M1443.9 439.2h0M1363.1 446.7h0M1431.1 444.6h0M1430.1 455.9h0M1358.4 448.1h0M1444 450.5h0M1338.9 438.1h0M1439.8 454.2h0M1355.7 442.6h0M1439.6 456.9h0M1427.6 459h0M1369.1 457.6h0M1353.4 453.6h0M1354.9 443.7h0M1432.1 459.4h0M1429.3 451.5h0M1439.1 436.7h0M1344.9 441h0M1440.8 448.6h0M1365.1 451.3h0M1433.5 443.6h0M1430.1 443.4h0M1354.4 446.9h0M1427.8 455.8h0M1449.4 437.3h0M1349.5 444.3h0M1364.5 438.1h0M1433.9 436.6h0M1358.3 441.5h0M1453.6 445.5h0M1361.5 459.5h0M1433.3 458.8h0M1427.5 454.4h0M1442 457.6h0M1441.7 451.9h0M1362.7 444.4h0M1428.3 439.2h0M1339.6 453.8h0M1353.3 450h0M1362.7 456.8h0M1448.7 453h0M1364.6 461.6h0M1367.5 437.9h0M1432.7 445.5h0M1437.2 439.1h0M1351.2 443.9h0M1453.8 442.2h0M1368.1 460h0M1435 444.4h0M1360.8 457.4h0M1368.8 455h0M1340.3 447h0M1366.8 457.4h0M1364.5 455h0M1367.7 438.7h0M1350 448.5h0M1431.7 448.3h0M1349.8 441.6h0M1359.4 454.9h0M1347.6 436.9h0M1455.5 446.2h0M1371.7 460.5h0M1436.9 447.9h0M1435.2 461.2h0M1349.3 449.2h0M1435.5 459.1h0M1434.9 456h0M1363.2 443.8h0M1359.8 455.4h0M1356.8 455.4h0M1343.4 446.8h0M1360.2 457.4h0M1436.5 446.5h0M1353.3 443.6h0M1359 460.1h0M1360.9 441.9h0M1363.1 446.2h0M1430.8 454h0M1447.4 442.6h0M1436.7 457.6h0M1434.5 455.7h0M1346.9 442h0M1432.9 454h0M1363.6 437.4h0M1363.4 458.7h0M1356.3 443.1h0M1427.9 461.9h0M1432.9 452h0M1349.1 450h0M1362.7 443.8h0M1360.6 454.5h0M1363.4 450.3h0M1452.7 452.7h0M1361.2 456.4h0M1365.8 451.8h0M1354.1 438.8h0M1437.1 450.2h0M1364.2 452.4h0M1426.7 456.5h0M1449 441.6h0M1354 456.8h0M1440.7 450h0M1364.9 436.8h0M1361.4 452.3h0M1429.6 460.8h0M1365.8 461.5h0M1444.8 443.2h0M1363 456.5h0M1364.9 452.8h0M1351.5 458.5h0M1356 443.6h0M1366 452.2h0M1437 440.3h0M1347.9 448.8h0M1361.2 454.3h0M1364.8 448.9h0M1434.4 461.2h0M1437.5 444.4h0M1430.9 454h0M1431.6 456.8h0M1440.3 448.4h0M1361.7 440h0M1429 459.4h0M1365.9 460.9h0M1448.7 443h0M1434.7 437.2h0M1358 445.2h0M1361.5 444.5h0M1428.2 437.7h0M1440.3 459.7h0M1435.2 458.9h0M1432 453.7h0M1359.3 444.1h0M1356.2 449.9h0M1349.2 453.1h0M1366.2 439h0M1434.5 449.8h0M1351.8 444.2h0M1365.9 439.1h0M1363.9 451.7h0M1438.5 452.4h0M1367.3 455.6h0M1434.9 461.1h0M1359.9 455.3h0M1452.5 445.7h0M1348.9 452.8h0M1358.1 442.4h0M1437.3 451.4h0M1432.1 460.2h0M1361 438.9h0M1432.8 441.6h0M1359.7 437.2h0M1434.2 446.6h0M1352.5 456h0M1441.4 438.5h0M1367.4 440.4h0M1432.1 446.1h0M1367.4 461.5h0M1344.8 444.3h0M1430.1 457.9h0M1435.3 441.6h0M1436.6 443h0M1358 456h0M1355.3 438.7h0M1358.4 439.7h0M1449.1 454.1h0M1446 449h0M1433.1 451.5h0M1438.7 460.6h0M1441.8 444.4h0M1441.8 443.8h0M1357.6 457.3h0M1356.9 440.6h0M1435.3 444h0M1362.2 441.6h0M1353.6 454.6h0M1449.5 437.3h0M1355.8 437.4h0M1441 455.2h0M1359.3 451.9h0M1367.1 460.7h0M1362.3 452.9h0M1355.9 451.7h0M1351.1 457.6h0M1430.6 454.1h0M1349 451.6h0M1429.9 437.1h0M1361.7 454.8h0M1343.7 450.8h0M1436.1 439.6h0M1431.5 458.9h0M1437.5 447.5h0M1433.7 446.1h0M1430.2 456.9h0M1342.6 447.8h0M1358.9 454.1h0M1430.1 456.9h0M1438.9 449.7h0M1353 447.8h0M1435.8 448h0M1454.4 440h0M1363.3 447.5h0M1368.1 457.7h0M1442.9 444.9h0M1442.3 454.1h0M1362.9 461.7h0M1433.7 442.5h0M1445.3 441.4h0M1355.3 441h0M1441.4 438.2h0M1359 455.6h0M1371.3 461.7h0M1439.7 452.6h0M1437.5 441.4h0M1359.5 454.1h0M1434.8 439h0M1364.8 456.6h0M1353.4 456.6h0M1365.4 457.5h0M1432.4 458h0M1363.1 461.7h0M1449.7 451.7h0M1359.8 442.7h0M1441.6 439.6h0M1437.8 447.3h0M1346.8 451.1h0M1427.8 439.5h0M1433.5 460.2h0M1429 457.3h0M1355.5 448.7h0M1354.4 452.4h0M1443.2 456.6h0M1350 446h0M1436.5 458.9h0M1362.6 440.8h0M1364.5 452.5h0M1431.9 446.1h0M1347 454.8h0M1440 458.1h0M1428.7 453.7h0M1439.7 443.3h0M1371.8 460.7h0M1347.2 459.2h0M1357.9 440.7h0M1448.5 449h0M1370 460.3h0M1437.2 441.5h0M1364.9 456.7h0M1363.2 454.9h0M1427.1 460.1h0M1439.4 455.8h0M1365.9 440.3h0M1361.3 452.7h0M1435.7 453.5h0M1429.5 454.7h0M1442.5 457.4h0M1433.3 450.2h0M1362.2 460.2h0M1367.4 437.7h0M1446.4 447.8h0M1444.9 444.2h0M1362.5 445.3h0M1431.7 458.7h0M1443.7 460.9h0M1449.8 446.5h0M1351 454.2h0M1430.5 443.3h0M1429.3 439.9h0M1431.1 455.2h0M1429.8 441.2h0M1365.2 458.8h0M1429.6 453.2h0M1442.1 454.8h0M1363.7 437.8h0M1438.2 438.3h0M1435.9 456.9h0M1431.3 460.4h0M1432.9 453.5h0M1357.4 445.2h0M1354.2 444.9h0M1432.9 446.9h0M1440.2 452.1h0M1350.1 440.4h0M1357.4 448.1h0M1364.6 441.9h0M1449.4 452.5h0M1366.8 439.8h0M1436.5 450.1h0M1354 449.8h0M1358.2 437.4h0M1366.9 441h0M1353.4 436.7h0M1366.8 441.9h0M1343.9 448.8h0M1364.9 448.9h0M1337.6 443.2h0M1431.2 444.3h0M1432 445.1h0M1360.3 450.1h0M1451.2 452.6h0M1431.6 461.4h0M1366 451.5h0M1365 436.6h0M1368.6 460.3h0M1434.2 449h0M1367.5 453h0M1360.5 460.6h0M1352.4 447h0M1363.3 440.4h0M1358.1 441.4h0M1358.9 457.6h0M1364.1 451.5h0M1444.7 459.2h0M1359.7 458h0M1361.3 438.8h0M1436.6 452.1h0M1428.8 459.1h0M1438.2 453.6h0M1330.3 447.8h0M1357 447.6h0M1435.8 443.2h0M1358.1 456.4h0M1433.9 452.9h0M1347.5 453.5h0M1430.5 460.4h0M1438.3 448.1h0M1350.3 443.9h0M1440.8 454h0M1360.9 448.6h0M1352.2 452.5h0M1427.3 437.6h0M1430.7 437.5h0M1359.9 442.6h0M1441.8 454h0M1354.9 453.2h0M1435.8 456.6h0M1456.7 445.6h0M1433.6 451.8h0M1364.8 451.9h0M1434.8 440.9h0M1426.6 458h0M1351.5 445.7h0M1367.1 452h0M1432.8 448h0M1367.2 438.3h0M1358.5 447.3h0M1356.4 453.5h0M1352.8 457.6h0M1435.6 452.4h0M1342.4 444.8h0M1357.7 443.5h0M1433.8 437.7h0M1359 459.1h0M1360.2 451.9h0M1363.1 451.5h0M1362.5 440.7h0M1436.6 451.6h0M1357.1 438.4h0M1453.5 449.5h0M1445.4 449h0M1437 457.8h0M1433.3 456.9h0M1443.4 452.4h0M1439.2 450.5h0M1441.9 449.8h0M1428.8 453.7h0M1357.2 443.4h0M1366.3 455.5h0M1361.1 455.8h0M1337.8 451h0M1438.6 438.9h0M1365 452.2h0M1443.4 459.4h0M1348.4 449.3h0M1435.3 447.6h0M1339.6 453.5h0M1438.2 452.9h0M1370 459.5h0M1438.4 448.4h0M1350.1 458.9h0M1439.2 438.5h0M1445.1 452.7h0M1356.3 437.1h0M1358.1 455.7h0M1452 445h0M1368.9 455.6h0M1427.9 461.2h0M1364.5 438h0M1363.1 440.2h0M1347.9 446.5h0M1430.8 438.7h0M1437.5 454.2h0M1362.6 442h0M1434.7 449.8h0M1437.9 445.7h0M1434.9 447.6h0M1361.8 448h0M1356.7 454.3h0M1433.5 458.9h0M1352.8 454.1h0M1365.7 460.3h0M1349.7 451.5h0M1366 440.3h0M1351.5 450.9h0M1355.2 446.4h0M1356.9 439.7h0M1430.7 460h0M1366.2 461.2h0M1435.2 453.5h0M1352.4 438.2h0M1443.9 461.5h0M1433.5 441.8h0M1363.3 448.8h0M1444 459.2h0M1351.8 461.4h0M1365.6 458.2h0M1351.6 447.3h0M1365.3 462h0M1365 451.9h0M1431.3 451.6h0M1357.4 439.2h0M1437 455.3h0M1432.5 444.9h0M1434.1 445.4h0M1432.6 455.6h0M1433.1 456.4h0M1447.5 446.5h0M1361.1 447.4h0M1435.1 454.3h0M1356.9 443.2h0M1347.1 448.3h0M1362.1 444.6h0M1363.4 447.8h0M1432.6 452.6h0M1365.7 440.8h0M1356.2 451.3h0M1445.7 452.4h0M1343.9 447.7h0M1426.4 461.6h0M1366.6 461.1h0M1369 460.3h0M1358.8 439.7h0M1364.6 438.4h0M1435.9 441.6h0M1368.5 458.5h0M1440 439.6h0M1355.3 438.5h0M1351 438.2h0M1363.3 444.8h0M1360.5 454.2h0M1435.3 448.7h0M1434 442.6h0M1368.1 456.3h0M1363.4 438.6h0M1440.1 447.6h0M1453.3 449.7h0M1334.1 449.6h0M1428.4 457.1h0M1429.9 442.6h0M1434.8 448.2h0M1360.1 443.3h0M1365.6 437.6h0M1345.6 449.3h0M1362.3 450.2h0M1432.1 437.3h0M1430.2 455.4h0M1358.2 443.1h0M1442 452.9h0M1433.3 455.5h0M1355.2 456.1h0M1365.9 438.6h0M1428.4 438.3h0M1440.3 458h0M1368.1 454.8h0M1365.1 449.8h0M1437 449.4h0M1444.4 451.8h0M1440.9 447.4h0M1361.1 445.8h0M1362.3 445.7h0M1359.7 459.8h0M1429.1 456h0M1360.2 439.1h0M1354.2 451.2h0M1434.6 449.7h0M1442.4 454h0M1437.9 444.5h0M1359 441.6h0M1448.9 443.9h0M1357.5 441.6h0M1357 443.9h0M1352.8 438.6h0M1434.6 450h0M1362.4 438.3h0M1427.9 455.4h0M1428.3 439.9h0M1444.9 442.3h0M1369.7 437h0M1446.4 450.9h0M1341.9 442.5h0M1442.8 445.8h0M1449.2 456.3h0M1359.8 449.3h0M1364.9 456.1h0M1440.6 454h0M1355 444.4h0M1440.7 438.1h0M1360.1 453.6h0M1431.7 437.8h0M1364.9 437.6h0M1438.8 448.7h0M1362.9 460.3h0M1355.2 450h0M1427.9 454.7h0M1361.9 460.2h0M1453.9 437.7h0M1436 445.8h0M1363.5 456.5h0M1430.6 451h0M1445.7 445.7h0M1445.7 447.1h0M1369.9 457.2h0M1355.7 446.4h0M1433.1 443.7h0M1365.6 455.2h0M1354.5 451h0M1346.5 437.8h0M1365.5 460.6h0M1427.2 461.9h0M1436.3 458.7h0M1352.1 449.3h0M1440.2 444.7h0M1371.9 460.8h0M1443.8 451.8h0M1426 460.1h0M1354.3 456.7h0M1451.2 440.4h0M1367 438.5h0M1363.8 453.5h0M1452.9 449.1h0M1365.2 443.2h0M1450.4 444h0M1429.5 456.7h0M1358.2 456.6h0M1432.7 451.5h0M1433.4 443.3h0M1434.5 445.3h0M1366.7 456.2h0M1445.3 443.6h0M1363.1 456.2h0M1441.5 448.3h0M1432.8 440.7h0M1438.8 442.5h0M1434 440.1h0M1369.7 436.8h0M1353.5 449.3h0M1457.2 441.1h0M1443 443.9h0M1430 443h0M1346.9 447.7h0M1369.5 436.9h0M1352.1 441.4h0M1440.2 455h0M1427.9 457.7h0M1455.7 445.1h0M1348.7 444.8h0M1446 446.6h0M1363.1 450.8h0M1430.1 437.8h0M1371.3 461.8h0M1358.7 444.5h0M1361.4 452.9h0M1434.6 448.3h0M1363 454.1h0M1366.4 456.7h0M1363.7 441.8h0M1441 455.3h0M1436.3 445.1h0M1458.5 443h0M1462.7 440.2h0M1316.6 443h0M1329.9 441.2h0M1471.6 438.5h0M1326.4 444.5h0M1456.5 438.9h0M1477.5 440.1h0M1317.2 439.6h0M1328.8 444.5h0M1458.7 440.1h0M1328.6 453.1h0M1475.2 453.3h0M1319.2 443.3h0M1341.3 453.3h0M1476.7 446.3h0M1453.6 452.4h0M1314.5 444.4h0M1453 451.6h0M1453.3 441.8h0M1325.9 448.4h0M1451.7 439.5h0M1460.2 453.8h0M1465.3 451.3h0M1340.7 440.7h0M1473.9 451h0M1474.4 446.1h0M1478.5 448.3h0M1467 445.7h0M1335 449.4h0M1452.6 441.5h0M1461 451h0M1474.4 442.3h0M1454.5 446.1h0M1315.4 438.4h0M1342 450.1h0M1469.5 445.9h0M1452.8 449.5h0M1484.2 452.8h0M1344 451.7h0M1475.1 442.2h0M1470.1 439.2h0M1471.1 445.4h0M1325.2 451.3h0M1476.1 450.2h0M1404 382.3h0M1418 374h0M1395.7 375.6h0M1385 392.9h0M1406.1 360.3h0M1378.2 402.3h0M1381.2 378.3h0M1394.9 401.3h0M1381.6 381.3h0M1379.9 382.7h0M1414.7 371.2h0M1390.1 393.2h0M1379 406.9h0M1407 366.2h0M1407.1 373h0M1409 362.7h0M1385.2 391.5h0M1383.7 401h0M1383.3 389.3h0M1378.2 383.5h0M1417 396.2h0M1394.9 383.6h0M1402.3 391.6h0M1395.4 365.2h0M1410.2 386.3h0M1392.2 399.4h0M1387.8 380.5h0M1394.5 368.8h0M1393.6 386.4h0M1380.6 382.9h0M1382.1 377.3h0M1389.6 394.8h0M1403 399.2h0M1391.6 374.1h0M1394.4 400.3h0M1411 366.8h0M1385.2 393.1h0M1392.5 395.7h0M1394.6 382.1h0M1392.9 379.8h0M1407.5 383.9h0M1388.9 379.8h0M1378 408.5h0M1417 392.2h0M1405.3 387.1h0M1393 369.7h0M1416.8 404.2h0M1391.2 387.2h0M1382.3 374.7h0M1384.6 369.2h0M1413.9 401h0M1382.5 371.4h0M1410.8 375.8h0M1418.2 377.3h0M1417.5 403.5h0M1409.1 396.7h0M1388.1 376.6h0M1390.1 374.1h0M1391.1 372.8h0M1391.2 384.6h0M1386.1 390.9h0M1410.2 388.2h0M1393.9 374.9h0M1411.7 384.8h0M1394.8 374.8h0M1381.4 399.1h0M1415.6 370.9h0M1404.9 376.9h0M1390.3 369.1h0M1409.8 377.1h0M1393.7 378.2h0M1388.3 366.1h0M1385.6 375.6h0M1389.2 361.7h0M1387.6 367.6h0M1410 368.1h0M1417.1 406.5h0M1387.3 395.9h0M1380.5 400.8h0M1402.4 377.9h0M1416.7 393.8h0M1416.1 386.2h0M1380.3 381h0M1405.3 368.3h0M1408.6 399.2h0M1415.5 388.4h0M1386.7 398.2h0M1389.4 383.4h0M1378 379h0M1401.4 378.8h0M1414.6 390.8h0M1416.9 382.1h0M1401.5 397.6h0M1409.7 363.7h0M1387.9 377.2h0M1385 372.7h0M1411.8 391.1h0M1416.2 399.4h0M1395.9 397.1h0M1393.5 395.9h0M1385.7 395.5h0M1408.1 375.8h0M1390.8 396.5h0M1388.2 395.9h0M1378.3 396.5h0M1416.4 377.3h0M1380.9 371.3h0M1387.4 388h0M1403.8 374.9h0M1388.3 392.6h0M1394.1 312.9h0M1413.7 323.5h0M1404.2 331.2h0M1389.3 333.2h0M1388.7 339.2h0M1406.2 340.4h0M1389.3 347.7h0M1409.3 350.1h0M1378.4 351.3h0M1390.2 352.5h0M1391.2 252.2h0M1384.6 363.4h0M1387.7 359.7h0M1403.2 361h0M1410.4 363.4h0M1414.5 368.2h0M1382.5 370.6h0M1505.1 441.9h0M1496.9 444.3h0M1478.3 443.1h0M1461.9 450.4h0M1457.7 455.2h0M1317.7 445.5h0M1328 450.4h0" stroke="#fff" stroke-width="1.1" stroke-linecap="round" fill="none" opacity=".35"/>
<path d="M1428 434.3h0M1421.5 387.1h0M1423.5 401.7h0M1429 421.1h0M1427.5 397.7h0M1434.8 429.9h0M1432.7 385.3h0M1445.6 434.2h0M1420.3 425.5h0M1430 423.3h0M1428.4 418.5h0M1423.9 433.7h0M1459.9 403.3h0M1423.9 407.8h0M1422.6 391.5h0M1460.2 433h0M1437.6 429.7h0M1423.1 432.4h0M1420.9 426.6h0M1435.8 417.1h0M1431.6 408.2h0M1432.3 433.6h0M1430.1 406.2h0M1452.7 405.7h0M1429.1 420.1h0M1420.3 423h0M1424.4 410.4h0M1422 430.4h0M1432 422.2h0M1420 430h0M1437 414.5h0M1436.3 427.8h0M1428.7 422.7h0M1438.4 418h0M1424.1 429.1h0M1430.4 424.4h0M1427.6 433.1h0M1428.5 398.2h0M1420 418.4h0M1450.5 409.1h0M1429.2 399.5h0M1441.3 408.1h0M1424.8 419.9h0M1426 418.3h0M1426.8 423.1h0M1432.3 392.8h0M1431.4 415.5h0M1436.5 431.8h0M1427.9 434.6h0M1431.9 424h0M1434.8 421.3h0M1429.9 376.5h0M1431.1 423.7h0M1435.9 424.9h0M1431.1 419.4h0M1431.5 427.1h0M1424.5 435.3h0M1422.4 392.1h0M1425.2 421.4h0M1423.5 422.6h0M1445 397.6h0M1421.8 421.9h0M1427.1 387.6h0M1436.4 430.8h0M1432.5 433.8h0M1438.6 434.3h0M1436.1 417.9h0M1424.4 424.8h0M1431.4 431.7h0M1428.3 426.8h0M1422.5 433.7h0M1435.5 433.7h0M1423.7 372.6h0M1430.5 427.8h0M1423.9 433.6h0M1435.3 430.8h0M1449.1 393h0M1430.1 433.7h0M1425.8 405.3h0M1428.3 405.6h0M1450.4 433.9h0M1432.2 426h0M1426.7 425h0M1421 429.7h0M1431.6 388.4h0M1430.2 434.6h0M1431 406.5h0M1420.3 409.7h0M1420.3 430.5h0M1439 434.9h0M1432.6 421.5h0M1432.2 402.8h0M1426.3 433.5h0M1420.8 372.6h0M1433.7 407.3h0M1430.7 394.1h0M1454.5 422.2h0M1443.7 403.7h0M1432.3 420.6h0M1425.4 435.3h0M1423.6 394.1h0M1439 433.2h0M1434.2 404.3h0M1433.8 426.8h0M1446.7 408.2h0M1432.9 387.1h0M1427.9 413.5h0M1429.5 432h0M1423 426.7h0M1421.7 420.8h0M1426.2 431.8h0M1437 432.8h0M1420.7 435h0M1430.4 413.1h0M1433.3 391.1h0M1425.3 429.1h0M1439.8 432.9h0M1455.4 383.1h0M1421.2 433.5h0M1445.4 421h0M1433.7 429.5h0M1425.8 427.6h0M1422.8 409.3h0M1437.4 410.8h0M1432.8 430h0M1430.3 433.2h0M1440.8 413.5h0M1426.5 414.7h0M1430.1 385.9h0M1432.8 422.4h0M1424.4 434.5h0M1430.2 431.4h0M1445.9 425h0M1444 426.8h0M1421.4 426h0M1428.4 404.1h0M1432 432.3h0M1443.6 432.7h0M1432.7 404.3h0M1436.9 415.3h0M1439 431.9h0M1421.8 416.9h0M1423.7 424h0M1420.5 434h0M1426.3 408.2h0M1433.8 418.7h0M1426.4 434.2h0M1431.1 428.3h0M1428.8 434.8h0M1419.9 431.1h0M1434.5 420.8h0M1436.4 434.3h0M1421.2 397.6h0M1424 410.7h0M1433.9 427.4h0M1428.7 417.8h0M1430.1 428.3h0M1424.8 425.6h0M1434.5 418.3h0M1443.7 427.4h0M1447.7 408.3h0M1424.4 427.7h0M1432.4 433.6h0M1439.1 403.7h0M1423.5 424.9h0M1427.6 424.9h0M1419.3 433.6h0M1422.2 424.4h0M1442.3 420.4h0M1452.2 410.6h0M1430.4 418.8h0M1427.1 423.5h0M1423 412.2h0M1428.8 403.8h0M1433.3 411.4h0M1440 423h0M1421.5 435.3h0M1425.9 412.4h0M1432.7 433h0M1434 414.3h0M1444.5 433.8h0M1428.3 433.5h0M1435.7 392.5h0M1420.3 428h0M1430.8 433.8h0M1419.3 401.3h0M1432.4 421h0M1426.5 428.8h0M1434 427.4h0M1426 422.3h0M1428.2 400.9h0M1428.3 431.3h0M1436.4 433.3h0M1419.4 423.1h0M1425.1 432h0M1427.4 435.4h0M1439.1 434.5h0M1441 430.4h0M1421.2 429h0M1432.8 433.5h0M1426.1 419.8h0M1421.8 429.8h0M1426.8 424.6h0M1426.8 423.3h0M1439.5 430.8h0M1439.4 422.5h0M1430.7 434.4h0M1433 424.1h0M1429.8 434.2h0M1420.3 420.5h0M1419.8 427.7h0M1435.7 403.1h0M1421.4 429.4h0M1419.7 430h0M1439 419.4h0M1419 426.1h0M1424.9 395.6h0M1425.5 395.9h0M1443 403.1h0M1420.1 431.3h0M1434.4 432.8h0M1423.1 408.8h0M1421.6 408.8h0M1428.4 428.9h0M1450 420.1h0M1421.4 420.7h0M1450 409.8h0M1453.6 431.2h0M1431.7 406.6h0M1431.2 433h0M1429 412.3h0M1439.1 422.5h0M1424.5 433.9h0M1423.4 424.7h0M1433.4 418.1h0M1448.8 420.1h0M1432.6 433.6h0M1420.9 432.7h0M1424.7 427.7h0M1427.7 422.4h0M1422.6 433.6h0M1433.9 426.1h0M1427.1 431.7h0M1421.6 429.9h0M1437.9 410.8h0M1423.5 432h0M1437.2 434.9h0M1442.5 408.7h0M1424.6 430.2h0M1427 394.4h0M1439.6 431.6h0M1439.9 412h0M1419.2 419.6h0M1421.3 433.5h0M1439.4 429.3h0M1426 398.1h0M1424.6 430.4h0M1436.6 429.1h0M1439.2 404.3h0M1431.3 419h0M1442 419.9h0M1446.4 435h0M1440.6 388h0M1438.7 413.9h0M1424.5 403.7h0M1423.9 412.6h0M1426.9 414.5h0M1422.6 432.6h0M1435.4 421.9h0M1420.1 386.7h0M1425.7 429.7h0M1422.3 409.3h0M1431.3 395.2h0M1424.2 422.7h0M1425.6 427.9h0M1425.9 428.5h0M1421.8 400.8h0M1423.8 423.3h0M1465.3 415.2h0M1425.7 399.7h0M1428.6 434.5h0M1422.5 426.4h0M1443.3 429h0M1434.4 431.8h0M1441.3 430.8h0M1428.5 421h0M1432.3 392.2h0M1427.7 400.4h0M1457.7 429.3h0M1451 404.6h0M1446.7 420.3h0M1435.6 414.6h0M1459.7 422.3h0M1428.6 427.7h0M1424.3 424.8h0M1420.7 395.7h0M1432.7 417h0M1427.5 417.9h0M1422.8 413.1h0M1459.1 422.9h0M1436.5 418.4h0M1458.6 426.3h0M1455 432.6h0M1429 432.4h0M1423.3 427.4h0M1448.8 392.2h0M1424 407.2h0M1432 376h0M1429.1 414.5h0M1446.2 418h0M1423.5 430.4h0M1438.6 423.7h0M1423.3 412.3h0M1428.5 432.3h0M1423.7 423.3h0M1438.1 434.4h0M1426.3 426.2h0M1453.3 429.9h0M1421.4 434.8h0M1428.8 417.5h0M1420.1 410.8h0M1423.4 434.6h0M1424.7 394.9h0M1430.2 424.2h0M1426 420.7h0M1421 410.3h0M1428.7 421.7h0M1430.3 433.8h0M1446.1 417.7h0M1433.3 389.5h0M1419.7 414.8h0M1461.2 429.8h0M1421.6 408.6h0M1423.7 402.5h0M1422.1 430.9h0M1422.2 403.4h0M1431.1 419.5h0M1431.9 422.1h0M1420.4 421.3h0M1434.9 423.1h0M1436.3 409.9h0M1424 427.4h0M1422.4 393h0M1433 432.7h0M1439.4 428.9h0M1420.6 432h0M1436.3 423.9h0M1436.5 405.4h0M1421.2 435.1h0M1426.1 430.8h0M1435.6 429.3h0M1434.4 417.1h0M1419.5 423.6h0M1425.8 431.4h0M1431.4 399.3h0M1434.1 419.4h0M1429.2 429.3h0M1428.3 427.5h0M1431.9 432h0M1427.1 424h0M1419.4 434.1h0M1421.5 420.8h0M1420.8 419.5h0M1426.9 429.4h0M1435.1 429.7h0M1424.1 429.4h0M1433.9 416.2h0M1424.7 414.7h0M1423.9 383.3h0M1426.1 416.8h0M1445.7 393.4h0M1444 409.8h0M1431.1 415.6h0M1440.1 424.5h0M1439 416h0M1421 423.6h0M1436.5 383.6h0M1427.1 410.3h0M1428.6 423h0M1429.5 427.8h0M1431.2 432.8h0M1432.2 429.8h0M1419.2 420.9h0M1423.4 410.4h0M1435.3 424.4h0M1432.6 404.2h0M1428.3 414.7h0M1428.4 410.7h0M1424.3 426.1h0M1433.9 433.3h0M1426.6 428.9h0M1427.2 432.3h0M1425.5 429.8h0M1444.2 388.9h0M1432.8 429.7h0M1429.6 424.5h0M1422.4 420.2h0M1419.9 427.3h0M1445.3 435.2h0M1420.9 434.4h0M1431 414.3h0M1424.2 419.8h0M1419.8 400.7h0M1437.2 428.3h0M1420.2 391.6h0M1440.7 417.2h0M1429.3 401.6h0M1440.1 417.5h0M1420.6 413.8h0M1434.4 414.8h0M1438.4 389.2h0M1429.9 421.6h0M1427.6 422.3h0M1432.4 428.7h0M1420.5 431.5h0M1422.7 416.1h0M1435.3 424.4h0M1435.8 429.9h0M1426.7 432.5h0M1427.8 384.8h0M1566.7 392.6h0M1425.1 412.3h0M1531.7 406.6h0M1459.3 423.9h0M1458.4 387.8h0M1461.5 408.6h0M1465.2 389h0M1468 380.8h0M1456.7 367.9h0M1428.1 398.3h0M1545.6 387.9h0M1531.6 382.6h0M1432.5 389.8h0M1477.1 386.6h0M1536.4 397h0M1447.8 386.2h0M1516.5 370h0M1503.5 342.3h0M1561.5 366.8h0M1460.5 405.5h0M1486.3 375.8h0M1467.3 383.5h0M1477.2 385.3h0M1440.2 385.7h0M1515.9 426.6h0M1431 407.9h0M1478 366.3h0M1427.8 398.1h0M1529.8 415.8h0M1428 392.7h0M1458.5 374.3h0M1484.4 354.6h0M1539.7 373.5h0M1468.6 365.8h0M1480.6 430.1h0M1543.1 425h0M1445.1 413.2h0M1483.6 364.2h0M1458.6 375h0M1429 428.2h0M1520.8 378.2h0M1554.2 427h0M1434.7 410.8h0M1560.5 374.7h0M1533.6 344.5h0M1454.2 432h0M1513.5 432.4h0M1441.9 422.8h0M1426.9 405.7h0M1441.5 395.3h0M1564.8 371.4h0M1494.4 384.7h0M1467.4 429.8h0M1513.7 374.7h0M1450.9 389.8h0M1543.1 407.1h0M1533.1 406.6h0M1481.7 369.2h0M1555.9 341.9h0M1539.3 370.2h0M1466.5 424.2h0M1475.5 427.4h0M1478.2 431.7h0M1450.9 430.5h0M1534.9 388.2h0M1523.9 389.2h0M1540.4 401.2h0M1479.8 434.6h0M1471.7 426.5h0M1562.9 411.6h0M1475.5 428.6h0M1475.5 403h0M1544.4 366.5h0M1456 410.3h0M1554.3 378.7h0M1556.8 393.2h0M1446.1 375.3h0M1517.5 344.5h0M1541.2 342.8h0M1552.1 415.7h0M1431.1 387.8h0M1554 378.2h0M1554.9 427.2h0M1539.2 380.3h0M1559.3 433.9h0M1481.2 366.6h0M1504.7 409.4h0M1475.2 424.1h0M1507.3 384.1h0M1490.6 347h0M1483 405.9h0M1431.5 431.2h0M1493 391.1h0M1451.5 410.2h0M1565.3 341.5h0M1442.9 415h0M1466.4 363.3h0M1556.3 395.3h0M1466.7 394.4h0M1501.7 367.4h0M1456.3 419.6h0M1424.9 422.7h0M1436.7 382.7h0M1552.6 377.6h0M1558.3 367.7h0M1603.6 153.6h0M1603.6 173.9h0M1440.8 295h0M1426.6 334.4h0M1481.6 320.6h0M1556.8 301.5h0M1555.6 321.6h0M1519.5 329.8h0M1603.6 341.1h0M1454.2 340.6h0M1500.4 345.5h0M1469.1 344.8h0M1506.8 345.7h0M1418.4 345.5h0M1547.3 422.3h0M1564.9 379.1h0M1563.8 398.4h0M1559.7 417.8h0M1578.2 399.6h0M1562.8 431h0" stroke="#e8827a" stroke-width="3.3" stroke-linecap="round" fill="none" opacity=".8"/>
<path d="M1428 434.3h0M1421.5 387.1h0M1423.5 401.7h0M1429 421.1h0M1427.5 397.7h0M1434.8 429.9h0M1432.7 385.3h0M1445.6 434.2h0M1420.3 425.5h0M1430 423.3h0M1428.4 418.5h0M1423.9 433.7h0M1459.9 403.3h0M1423.9 407.8h0M1422.6 391.5h0M1460.2 433h0M1437.6 429.7h0M1423.1 432.4h0M1420.9 426.6h0M1435.8 417.1h0M1431.6 408.2h0M1432.3 433.6h0M1430.1 406.2h0M1452.7 405.7h0M1429.1 420.1h0M1420.3 423h0M1424.4 410.4h0M1422 430.4h0M1432 422.2h0M1420 430h0M1437 414.5h0M1436.3 427.8h0M1428.7 422.7h0M1438.4 418h0M1424.1 429.1h0M1430.4 424.4h0M1427.6 433.1h0M1428.5 398.2h0M1420 418.4h0M1450.5 409.1h0M1429.2 399.5h0M1441.3 408.1h0M1424.8 419.9h0M1426 418.3h0M1426.8 423.1h0M1432.3 392.8h0M1431.4 415.5h0M1436.5 431.8h0M1427.9 434.6h0M1431.9 424h0M1434.8 421.3h0M1429.9 376.5h0M1431.1 423.7h0M1435.9 424.9h0M1431.1 419.4h0M1431.5 427.1h0M1424.5 435.3h0M1422.4 392.1h0M1425.2 421.4h0M1423.5 422.6h0M1445 397.6h0M1421.8 421.9h0M1427.1 387.6h0M1436.4 430.8h0M1432.5 433.8h0M1438.6 434.3h0M1436.1 417.9h0M1424.4 424.8h0M1431.4 431.7h0M1428.3 426.8h0M1422.5 433.7h0M1435.5 433.7h0M1423.7 372.6h0M1430.5 427.8h0M1423.9 433.6h0M1435.3 430.8h0M1449.1 393h0M1430.1 433.7h0M1425.8 405.3h0M1428.3 405.6h0M1450.4 433.9h0M1432.2 426h0M1426.7 425h0M1421 429.7h0M1431.6 388.4h0M1430.2 434.6h0M1431 406.5h0M1420.3 409.7h0M1420.3 430.5h0M1439 434.9h0M1432.6 421.5h0M1432.2 402.8h0M1426.3 433.5h0M1420.8 372.6h0M1433.7 407.3h0M1430.7 394.1h0M1454.5 422.2h0M1443.7 403.7h0M1432.3 420.6h0M1425.4 435.3h0M1423.6 394.1h0M1439 433.2h0M1434.2 404.3h0M1433.8 426.8h0M1446.7 408.2h0M1432.9 387.1h0M1427.9 413.5h0M1429.5 432h0M1423 426.7h0M1421.7 420.8h0M1426.2 431.8h0M1437 432.8h0M1420.7 435h0M1430.4 413.1h0M1433.3 391.1h0M1425.3 429.1h0M1439.8 432.9h0M1455.4 383.1h0M1421.2 433.5h0M1445.4 421h0M1433.7 429.5h0M1425.8 427.6h0M1422.8 409.3h0M1437.4 410.8h0M1432.8 430h0M1430.3 433.2h0M1440.8 413.5h0M1426.5 414.7h0M1430.1 385.9h0M1432.8 422.4h0M1424.4 434.5h0M1430.2 431.4h0M1445.9 425h0M1444 426.8h0M1421.4 426h0M1428.4 404.1h0M1432 432.3h0M1443.6 432.7h0M1432.7 404.3h0M1436.9 415.3h0M1439 431.9h0M1421.8 416.9h0M1423.7 424h0M1420.5 434h0M1426.3 408.2h0M1433.8 418.7h0M1426.4 434.2h0M1431.1 428.3h0M1428.8 434.8h0M1419.9 431.1h0M1434.5 420.8h0M1436.4 434.3h0M1421.2 397.6h0M1424 410.7h0M1433.9 427.4h0M1428.7 417.8h0M1430.1 428.3h0M1424.8 425.6h0M1434.5 418.3h0M1443.7 427.4h0M1447.7 408.3h0M1424.4 427.7h0M1432.4 433.6h0M1439.1 403.7h0M1423.5 424.9h0M1427.6 424.9h0M1419.3 433.6h0M1422.2 424.4h0M1442.3 420.4h0M1452.2 410.6h0M1430.4 418.8h0M1427.1 423.5h0M1423 412.2h0M1428.8 403.8h0M1433.3 411.4h0M1440 423h0M1421.5 435.3h0M1425.9 412.4h0M1432.7 433h0M1434 414.3h0M1444.5 433.8h0M1428.3 433.5h0M1435.7 392.5h0M1420.3 428h0M1430.8 433.8h0M1419.3 401.3h0M1432.4 421h0M1426.5 428.8h0M1434 427.4h0M1426 422.3h0M1428.2 400.9h0M1428.3 431.3h0M1436.4 433.3h0M1419.4 423.1h0M1425.1 432h0M1427.4 435.4h0M1439.1 434.5h0M1441 430.4h0M1421.2 429h0M1432.8 433.5h0M1426.1 419.8h0M1421.8 429.8h0M1426.8 424.6h0M1426.8 423.3h0M1439.5 430.8h0M1439.4 422.5h0M1430.7 434.4h0M1433 424.1h0M1429.8 434.2h0M1420.3 420.5h0M1419.8 427.7h0M1435.7 403.1h0M1421.4 429.4h0M1419.7 430h0M1439 419.4h0M1419 426.1h0M1424.9 395.6h0M1425.5 395.9h0M1443 403.1h0M1420.1 431.3h0M1434.4 432.8h0M1423.1 408.8h0M1421.6 408.8h0M1428.4 428.9h0M1450 420.1h0M1421.4 420.7h0M1450 409.8h0M1453.6 431.2h0M1431.7 406.6h0M1431.2 433h0M1429 412.3h0M1439.1 422.5h0M1424.5 433.9h0M1423.4 424.7h0M1433.4 418.1h0M1448.8 420.1h0M1432.6 433.6h0M1420.9 432.7h0M1424.7 427.7h0M1427.7 422.4h0M1422.6 433.6h0M1433.9 426.1h0M1427.1 431.7h0M1421.6 429.9h0M1437.9 410.8h0M1423.5 432h0M1437.2 434.9h0M1442.5 408.7h0M1424.6 430.2h0M1427 394.4h0M1439.6 431.6h0M1439.9 412h0M1419.2 419.6h0M1421.3 433.5h0M1439.4 429.3h0M1426 398.1h0M1424.6 430.4h0M1436.6 429.1h0M1439.2 404.3h0M1431.3 419h0M1442 419.9h0M1446.4 435h0M1440.6 388h0M1438.7 413.9h0M1424.5 403.7h0M1423.9 412.6h0M1426.9 414.5h0M1422.6 432.6h0M1435.4 421.9h0M1420.1 386.7h0M1425.7 429.7h0M1422.3 409.3h0M1431.3 395.2h0M1424.2 422.7h0M1425.6 427.9h0M1425.9 428.5h0M1421.8 400.8h0M1423.8 423.3h0M1465.3 415.2h0M1425.7 399.7h0M1428.6 434.5h0M1422.5 426.4h0M1443.3 429h0M1434.4 431.8h0M1441.3 430.8h0M1428.5 421h0M1432.3 392.2h0M1427.7 400.4h0M1457.7 429.3h0M1451 404.6h0M1446.7 420.3h0M1435.6 414.6h0M1459.7 422.3h0M1428.6 427.7h0M1424.3 424.8h0M1420.7 395.7h0M1432.7 417h0M1427.5 417.9h0M1422.8 413.1h0M1459.1 422.9h0M1436.5 418.4h0M1458.6 426.3h0M1455 432.6h0M1429 432.4h0M1423.3 427.4h0M1448.8 392.2h0M1424 407.2h0M1432 376h0M1429.1 414.5h0M1446.2 418h0M1423.5 430.4h0M1438.6 423.7h0M1423.3 412.3h0M1428.5 432.3h0M1423.7 423.3h0M1438.1 434.4h0M1426.3 426.2h0M1453.3 429.9h0M1421.4 434.8h0M1428.8 417.5h0M1420.1 410.8h0M1423.4 434.6h0M1424.7 394.9h0M1430.2 424.2h0M1426 420.7h0M1421 410.3h0M1428.7 421.7h0M1430.3 433.8h0M1446.1 417.7h0M1433.3 389.5h0M1419.7 414.8h0M1461.2 429.8h0M1421.6 408.6h0M1423.7 402.5h0M1422.1 430.9h0M1422.2 403.4h0M1431.1 419.5h0M1431.9 422.1h0M1420.4 421.3h0M1434.9 423.1h0M1436.3 409.9h0M1424 427.4h0M1422.4 393h0M1433 432.7h0M1439.4 428.9h0M1420.6 432h0M1436.3 423.9h0M1436.5 405.4h0M1421.2 435.1h0M1426.1 430.8h0M1435.6 429.3h0M1434.4 417.1h0M1419.5 423.6h0M1425.8 431.4h0M1431.4 399.3h0M1434.1 419.4h0M1429.2 429.3h0M1428.3 427.5h0M1431.9 432h0M1427.1 424h0M1419.4 434.1h0M1421.5 420.8h0M1420.8 419.5h0M1426.9 429.4h0M1435.1 429.7h0M1424.1 429.4h0M1433.9 416.2h0M1424.7 414.7h0M1423.9 383.3h0M1426.1 416.8h0M1445.7 393.4h0M1444 409.8h0M1431.1 415.6h0M1440.1 424.5h0M1439 416h0M1421 423.6h0M1436.5 383.6h0M1427.1 410.3h0M1428.6 423h0M1429.5 427.8h0M1431.2 432.8h0M1432.2 429.8h0M1419.2 420.9h0M1423.4 410.4h0M1435.3 424.4h0M1432.6 404.2h0M1428.3 414.7h0M1428.4 410.7h0M1424.3 426.1h0M1433.9 433.3h0M1426.6 428.9h0M1427.2 432.3h0M1425.5 429.8h0M1444.2 388.9h0M1432.8 429.7h0M1429.6 424.5h0M1422.4 420.2h0M1419.9 427.3h0M1445.3 435.2h0M1420.9 434.4h0M1431 414.3h0M1424.2 419.8h0M1419.8 400.7h0M1437.2 428.3h0M1420.2 391.6h0M1440.7 417.2h0M1429.3 401.6h0M1440.1 417.5h0M1420.6 413.8h0M1434.4 414.8h0M1438.4 389.2h0M1429.9 421.6h0M1427.6 422.3h0M1432.4 428.7h0M1420.5 431.5h0M1422.7 416.1h0M1435.3 424.4h0M1435.8 429.9h0M1426.7 432.5h0M1427.8 384.8h0M1566.7 392.6h0M1425.1 412.3h0M1531.7 406.6h0M1459.3 423.9h0M1458.4 387.8h0M1461.5 408.6h0M1465.2 389h0M1468 380.8h0M1456.7 367.9h0M1428.1 398.3h0M1545.6 387.9h0M1531.6 382.6h0M1432.5 389.8h0M1477.1 386.6h0M1536.4 397h0M1447.8 386.2h0M1516.5 370h0M1503.5 342.3h0M1561.5 366.8h0M1460.5 405.5h0M1486.3 375.8h0M1467.3 383.5h0M1477.2 385.3h0M1440.2 385.7h0M1515.9 426.6h0M1431 407.9h0M1478 366.3h0M1427.8 398.1h0M1529.8 415.8h0M1428 392.7h0M1458.5 374.3h0M1484.4 354.6h0M1539.7 373.5h0M1468.6 365.8h0M1480.6 430.1h0M1543.1 425h0M1445.1 413.2h0M1483.6 364.2h0M1458.6 375h0M1429 428.2h0M1520.8 378.2h0M1554.2 427h0M1434.7 410.8h0M1560.5 374.7h0M1533.6 344.5h0M1454.2 432h0M1513.5 432.4h0M1441.9 422.8h0M1426.9 405.7h0M1441.5 395.3h0M1564.8 371.4h0M1494.4 384.7h0M1467.4 429.8h0M1513.7 374.7h0M1450.9 389.8h0M1543.1 407.1h0M1533.1 406.6h0M1481.7 369.2h0M1555.9 341.9h0M1539.3 370.2h0M1466.5 424.2h0M1475.5 427.4h0M1478.2 431.7h0M1450.9 430.5h0M1534.9 388.2h0M1523.9 389.2h0M1540.4 401.2h0M1479.8 434.6h0M1471.7 426.5h0M1562.9 411.6h0M1475.5 428.6h0M1475.5 403h0M1544.4 366.5h0M1456 410.3h0M1554.3 378.7h0M1556.8 393.2h0M1446.1 375.3h0M1517.5 344.5h0M1541.2 342.8h0M1552.1 415.7h0M1431.1 387.8h0M1554 378.2h0M1554.9 427.2h0M1539.2 380.3h0M1559.3 433.9h0M1481.2 366.6h0M1504.7 409.4h0M1475.2 424.1h0M1507.3 384.1h0M1490.6 347h0M1483 405.9h0M1431.5 431.2h0M1493 391.1h0M1451.5 410.2h0M1565.3 341.5h0M1442.9 415h0M1466.4 363.3h0M1556.3 395.3h0M1466.7 394.4h0M1501.7 367.4h0M1456.3 419.6h0M1424.9 422.7h0M1436.7 382.7h0M1552.6 377.6h0M1558.3 367.7h0M1603.6 153.6h0M1603.6 173.9h0M1440.8 295h0M1426.6 334.4h0M1481.6 320.6h0M1556.8 301.5h0M1555.6 321.6h0M1519.5 329.8h0M1603.6 341.1h0M1454.2 340.6h0M1500.4 345.5h0M1469.1 344.8h0M1506.8 345.7h0M1418.4 345.5h0M1547.3 422.3h0M1564.9 379.1h0M1563.8 398.4h0M1559.7 417.8h0M1578.2 399.6h0M1562.8 431h0" stroke="#fff" stroke-width="1.2" stroke-linecap="round" fill="none" opacity=".55"/>
<path d="M1359.4 426.4h0M1373.5 429.2h0M1370.1 429h0M1376.6 430.2h0M1368.3 430.5h0M1372.4 424.5h0M1372.7 404.5h0M1359.5 430.7h0M1369.9 395.4h0M1366.4 422.2h0M1369.7 417.7h0M1371.5 422.2h0M1375.8 415.7h0M1372.2 433.7h0M1371 434.4h0M1374.7 408.6h0M1366.7 423.3h0M1369 428.6h0M1372.2 418.4h0M1370 433.8h0M1370.8 434.4h0M1367.4 431.8h0M1375.4 424h0M1375.9 414.8h0M1371.9 424.5h0M1375.6 426.7h0M1376.5 417.3h0M1365.8 434.6h0M1370.4 423.6h0M1368.5 433.3h0M1373.7 417.8h0M1372 428.6h0M1370.7 419.4h0M1367.7 415.5h0M1371.5 428.8h0M1368 423.3h0M1371.2 433.3h0M1357.9 434.9h0M1363.1 421.7h0M1364 395.6h0M1371 421.9h0M1371.7 426.6h0M1365.4 402.3h0M1376.6 424.1h0M1363.9 435.4h0M1372.5 425h0M1365.3 433.5h0M1363.3 414.6h0M1372 426h0M1366.2 431.3h0M1368.2 426.6h0M1373.7 431.5h0M1374.7 421.6h0M1366.8 433.3h0M1375.1 426.1h0M1367 423.6h0M1368.3 432.7h0M1372.5 415.9h0M1371.5 435.3h0M1367.9 422.9h0M1370.7 427h0M1363.3 432.4h0M1366.8 402.6h0M1376.8 429.9h0M1373.1 433.6h0M1373.6 413.5h0M1373.2 430.8h0M1368 435h0M1360.6 434.8h0M1374.7 425.5h0M1370.5 426.9h0M1370.9 435.3h0M1358.8 413.2h0M1374.1 400.8h0M1368.5 425.4h0M1374.6 431.8h0M1365.7 432.1h0M1372.4 429.3h0M1368.9 432.8h0M1376.8 414h0M1362.2 429.7h0M1376.8 399.8h0M1370.6 425h0M1371.7 427.6h0M1374.4 422.3h0M1372.1 431.4h0M1369.4 431.4h0M1357.3 410.1h0M1354.9 401.6h0M1368.2 423.5h0M1374.9 415.4h0M1360.5 433h0M1365.9 432.1h0M1367.4 422.3h0M1367.4 434.5h0M1372.4 435h0M1375.3 426.5h0M1369.1 433.2h0M1376.8 432.9h0M1359.3 430.6h0M1374.6 431.1h0M1361.4 430.6h0M1375.2 394.8h0M1373.9 422.8h0M1363.4 429.3h0M1368.5 427.2h0M1373.6 432.2h0M1375.4 431.2h0M1375.2 434.3h0M1374.9 417.1h0M1373.6 425.3h0M1361.9 433.3h0M1365.5 403.4h0M1366 414.3h0M1376.5 398.5h0M1367.8 434.9h0M1376.4 425.2h0M1369.3 423.3h0M1369.8 419.9h0M1373.1 407.5h0M1371.5 400.7h0M1374.8 424h0M1375.9 434.5h0M1376.4 412.6h0M1352.2 425.8h0M1358 419.4h0M1371.1 409.9h0M1362.7 410.8h0M1369.2 431.9h0M1365.4 432.2h0M1353.6 435.2h0M1375.9 410.6h0M1371.1 424h0M1369.3 433.8h0M1375.6 433.9h0M1366.6 419.4h0M1347.3 428.5h0M1375.4 434.3h0M1373.9 404.8h0M1376.4 425.5h0M1359.9 428.6h0M1371.1 416.4h0M1370.1 414.8h0M1376.9 434.8h0M1368.5 426.6h0M1375.4 421.8h0M1292.9 414.1h0M1309.4 428.6h0M1316.6 406.9h0M1326.9 414.1h0M1323.8 431h0M1340.3 415.3h0M1336.2 432.3h0M1344.4 433.5h0M1346.5 422.6h0M1350.6 425h0M1352.7 419h0M1358.9 402h0M1360.9 409.3h0M1365 397.2h0M1369.2 392.4h0M1371.2 387.5h0M1371 340.4h0M1376.8 345.2h0M1365.9 365.8h0M1373.7 377.9h0M1376.4 382.7h0" stroke="#86aef5" stroke-width="3.1" stroke-linecap="round" fill="none" opacity=".8"/>
<path d="M1359.4 426.4h0M1373.5 429.2h0M1370.1 429h0M1376.6 430.2h0M1368.3 430.5h0M1372.4 424.5h0M1372.7 404.5h0M1359.5 430.7h0M1369.9 395.4h0M1366.4 422.2h0M1369.7 417.7h0M1371.5 422.2h0M1375.8 415.7h0M1372.2 433.7h0M1371 434.4h0M1374.7 408.6h0M1366.7 423.3h0M1369 428.6h0M1372.2 418.4h0M1370 433.8h0M1370.8 434.4h0M1367.4 431.8h0M1375.4 424h0M1375.9 414.8h0M1371.9 424.5h0M1375.6 426.7h0M1376.5 417.3h0M1365.8 434.6h0M1370.4 423.6h0M1368.5 433.3h0M1373.7 417.8h0M1372 428.6h0M1370.7 419.4h0M1367.7 415.5h0M1371.5 428.8h0M1368 423.3h0M1371.2 433.3h0M1357.9 434.9h0M1363.1 421.7h0M1364 395.6h0M1371 421.9h0M1371.7 426.6h0M1365.4 402.3h0M1376.6 424.1h0M1363.9 435.4h0M1372.5 425h0M1365.3 433.5h0M1363.3 414.6h0M1372 426h0M1366.2 431.3h0M1368.2 426.6h0M1373.7 431.5h0M1374.7 421.6h0M1366.8 433.3h0M1375.1 426.1h0M1367 423.6h0M1368.3 432.7h0M1372.5 415.9h0M1371.5 435.3h0M1367.9 422.9h0M1370.7 427h0M1363.3 432.4h0M1366.8 402.6h0M1376.8 429.9h0M1373.1 433.6h0M1373.6 413.5h0M1373.2 430.8h0M1368 435h0M1360.6 434.8h0M1374.7 425.5h0M1370.5 426.9h0M1370.9 435.3h0M1358.8 413.2h0M1374.1 400.8h0M1368.5 425.4h0M1374.6 431.8h0M1365.7 432.1h0M1372.4 429.3h0M1368.9 432.8h0M1376.8 414h0M1362.2 429.7h0M1376.8 399.8h0M1370.6 425h0M1371.7 427.6h0M1374.4 422.3h0M1372.1 431.4h0M1369.4 431.4h0M1357.3 410.1h0M1354.9 401.6h0M1368.2 423.5h0M1374.9 415.4h0M1360.5 433h0M1365.9 432.1h0M1367.4 422.3h0M1367.4 434.5h0M1372.4 435h0M1375.3 426.5h0M1369.1 433.2h0M1376.8 432.9h0M1359.3 430.6h0M1374.6 431.1h0M1361.4 430.6h0M1375.2 394.8h0M1373.9 422.8h0M1363.4 429.3h0M1368.5 427.2h0M1373.6 432.2h0M1375.4 431.2h0M1375.2 434.3h0M1374.9 417.1h0M1373.6 425.3h0M1361.9 433.3h0M1365.5 403.4h0M1366 414.3h0M1376.5 398.5h0M1367.8 434.9h0M1376.4 425.2h0M1369.3 423.3h0M1369.8 419.9h0M1373.1 407.5h0M1371.5 400.7h0M1374.8 424h0M1375.9 434.5h0M1376.4 412.6h0M1352.2 425.8h0M1358 419.4h0M1371.1 409.9h0M1362.7 410.8h0M1369.2 431.9h0M1365.4 432.2h0M1353.6 435.2h0M1375.9 410.6h0M1371.1 424h0M1369.3 433.8h0M1375.6 433.9h0M1366.6 419.4h0M1347.3 428.5h0M1375.4 434.3h0M1373.9 404.8h0M1376.4 425.5h0M1359.9 428.6h0M1371.1 416.4h0M1370.1 414.8h0M1376.9 434.8h0M1368.5 426.6h0M1375.4 421.8h0M1292.9 414.1h0M1309.4 428.6h0M1316.6 406.9h0M1326.9 414.1h0M1323.8 431h0M1340.3 415.3h0M1336.2 432.3h0M1344.4 433.5h0M1346.5 422.6h0M1350.6 425h0M1352.7 419h0M1358.9 402h0M1360.9 409.3h0M1365 397.2h0M1369.2 392.4h0M1371.2 387.5h0M1371 340.4h0M1376.8 345.2h0M1365.9 365.8h0M1373.7 377.9h0M1376.4 382.7h0" stroke="#fff" stroke-width="1.1" stroke-linecap="round" fill="none" opacity=".4"/>
<line x1="1377.4" y1="89.6" x2="1377.4" y2="484.5" stroke="#262626" stroke-width="1.5" stroke-dasharray="2.8 3.6"/>
<line x1="1418.6" y1="89.6" x2="1418.6" y2="484.5" stroke="#262626" stroke-width="1.5" stroke-dasharray="2.8 3.6"/>
<line x1="1172.5" y1="435.7" x2="1623.4" y2="435.7" stroke="#262626" stroke-width="1.5" stroke-dasharray="2.8 3.6"/>
<line x1="1172.5" y1="87.5" x2="1172.5" y2="485.4" stroke="#8a8a8a" stroke-width="1.8"/>
<line x1="1171.6" y1="484.6" x2="1623.4" y2="484.6" stroke="#8a8a8a" stroke-width="1.8"/>
<line x1="1192" y1="484.6" x2="1192" y2="487" stroke="#8a8a8a" stroke-width="0.8"/>
<text x="1192" y="492.8" font-size="5.2" text-anchor="middle" fill="#333">-10</text>
<line x1="1295" y1="484.6" x2="1295" y2="487" stroke="#8a8a8a" stroke-width="0.8"/>
<text x="1295" y="492.8" font-size="5.2" text-anchor="middle" fill="#333">-5</text>
<line x1="1377.4" y1="484.6" x2="1377.4" y2="487" stroke="#8a8a8a" stroke-width="0.8"/>
<text x="1377.4" y="492.8" font-size="5.2" text-anchor="middle" fill="#333">-1</text>
<line x1="1398" y1="484.6" x2="1398" y2="487" stroke="#8a8a8a" stroke-width="0.8"/>
<text x="1398" y="492.8" font-size="5.2" text-anchor="middle" fill="#333">0</text>
<line x1="1418.6" y1="484.6" x2="1418.6" y2="487" stroke="#8a8a8a" stroke-width="0.8"/>
<text x="1418.6" y="492.8" font-size="5.2" text-anchor="middle" fill="#333">1</text>
<line x1="1501" y1="484.6" x2="1501" y2="487" stroke="#8a8a8a" stroke-width="0.8"/>
<text x="1501" y="492.8" font-size="5.2" text-anchor="middle" fill="#333">5</text>
<line x1="1604" y1="484.6" x2="1604" y2="487" stroke="#8a8a8a" stroke-width="0.8"/>
<text x="1604" y="492.8" font-size="5.2" text-anchor="middle" fill="#333">10</text>
<line x1="1170" y1="104.8" x2="1172.5" y2="104.8" stroke="#8a8a8a" stroke-width="0.8"/>
<text x="1168.6" y="106.3" font-size="5.2" text-anchor="end" fill="#333">15</text>
<line x1="1170" y1="225.6" x2="1172.5" y2="225.6" stroke="#8a8a8a" stroke-width="0.8"/>
<text x="1168.6" y="227.2" font-size="5.2" text-anchor="end" fill="#333">10</text>
<line x1="1170" y1="346.4" x2="1172.5" y2="346.4" stroke="#8a8a8a" stroke-width="0.8"/>
<text x="1168.6" y="348.1" font-size="5.2" text-anchor="end" fill="#333">5</text>
<line x1="1170" y1="435.9" x2="1172.5" y2="435.9" stroke="#8a8a8a" stroke-width="0.8"/>
<text x="1168.6" y="437.5" font-size="5.2" text-anchor="end" fill="#333">1.3</text>
<line x1="1170" y1="467.3" x2="1172.5" y2="467.3" stroke="#8a8a8a" stroke-width="0.8"/>
<text x="1168.6" y="468.9" font-size="5.2" text-anchor="end" fill="#333">0</text>
<text x="1397.7" y="81.3" font-size="11" text-anchor="middle" fill="#222">A_vs_B</text>
<text x="1398" y="502.6" font-size="9" text-anchor="middle" fill="#222">log2FoldChange</text>
<text x="1156.8" y="285.6" font-size="9" text-anchor="middle" fill="#222" transform="rotate(-90 1156.8 285.6)">-log10(padj)</text>
<text x="1188.3" y="326.1" font-size="5.45" stroke="#000" stroke-width=".22">gene-Gm39722|Gm39722</text>
<line x1="1260.5" y1="323.8" x2="1371" y2="339.9" stroke="#707070" stroke-width="1.05" stroke-dasharray="1.5 1.2"/>
<text x="1188.3" y="344.9" font-size="5.45" stroke="#000" stroke-width=".22">gene-Fnoc1|Fnoc1</text>
<line x1="1240.2" y1="343" x2="1376.9" y2="344.8" stroke="#707070" stroke-width="1.05" stroke-dasharray="1.5 1.2"/>
<text x="1188.3" y="363.5" font-size="5.45" stroke="#000" stroke-width=".22">gene-Lamp5|Lamp5</text>
<line x1="1245.8" y1="361.6" x2="1365.8" y2="365.1" stroke="#707070" stroke-width="1.05" stroke-dasharray="1.5 1.2"/>
<text x="1188.3" y="382.3" font-size="5.45" stroke="#000" stroke-width=".22">gene-Gh2d4a|Gh2d4a</text>
<line x1="1250.4" y1="380.4" x2="1373.8" y2="377.6" stroke="#707070" stroke-width="1.05" stroke-dasharray="1.5 1.2"/>
<text x="1188.3" y="400.7" font-size="5.45" stroke="#000" stroke-width=".22">gene-Kcnc3|Kcnc3</text>
<line x1="1243" y1="398.8" x2="1376.5" y2="382.6" stroke="#707070" stroke-width="1.05" stroke-dasharray="1.5 1.2"/>
<text x="1607.7" y="141.9" font-size="5.45" text-anchor="end" stroke="#000" stroke-width=".22">gene-Slfn4|Slfn4</text>
<text x="1607.7" y="164.8" font-size="5.45" text-anchor="end" stroke="#000" stroke-width=".22">gene-Slfn3l1|Slfn3l1</text>
<text x="1607.7" y="184.1" font-size="5.45" text-anchor="end" stroke="#000" stroke-width=".22">gene-Slfn3|Slfn3</text>
<text x="1607.7" y="224.6" font-size="5.45" text-anchor="end" stroke="#000" stroke-width=".22">gene-Gm29876|Gm29876</text>
<text x="1607.7" y="243" font-size="5.45" text-anchor="end" stroke="#000" stroke-width=".22">gene-Lilrb3|Lilrb3</text>
<text x="1607.7" y="261.1" font-size="5.45" text-anchor="end" stroke="#000" stroke-width=".22">gene-Ccl12|Ccl12</text>
<text x="1607.7" y="279.5" font-size="5.45" text-anchor="end" stroke="#000" stroke-width=".22">gene-Lcn2|Lcn2</text>
<text x="1607.7" y="296.4" font-size="5.45" text-anchor="end" stroke="#000" stroke-width=".22">gene-Cxcl10|Cxcl10</text>
<text x="1607.7" y="313.9" font-size="5.45" text-anchor="end" stroke="#000" stroke-width=".22">gene-Zbp1|Zbp1</text>
<text x="1607.7" y="332.8" font-size="5.45" text-anchor="end" stroke="#000" stroke-width=".22">gene-Cxcl9|Cxcl9</text>
<text x="1607.7" y="353" font-size="5.45" text-anchor="end" stroke="#000" stroke-width=".22">gene-C3ar1|C3ar1</text>
<text x="1607.7" y="370.7" font-size="5.45" text-anchor="end" stroke="#000" stroke-width=".22">gene-Mlkl|Mlkl</text>
<text x="1607.7" y="389.1" font-size="5.45" text-anchor="end" stroke="#000" stroke-width=".22">gene-Igtp|Igtp</text>
<text x="1607.7" y="407.4" font-size="5.45" text-anchor="end" stroke="#000" stroke-width=".22">gene-Fpr1|Fpr1</text>
<text x="1607.7" y="425" font-size="5.45" text-anchor="end" stroke="#000" stroke-width=".22">gene-Ifi213|Ifi213</text>
<line x1="1603.5" y1="144" x2="1603.5" y2="157" stroke="#707070" stroke-width="1.05" stroke-dasharray="1.5 1.2"/>
<line x1="1603.5" y1="168" x2="1603.5" y2="176" stroke="#707070" stroke-width="1.05" stroke-dasharray="1.5 1.2"/>
<line x1="1535.4" y1="222.3" x2="1440.9" y2="294.2" stroke="#707070" stroke-width="1.05" stroke-dasharray="1.5 1.2"/>
<line x1="1552.9" y1="240.4" x2="1426.7" y2="333.6" stroke="#707070" stroke-width="1.05" stroke-dasharray="1.5 1.2"/>
<line x1="1554.7" y1="258.8" x2="1481.6" y2="320" stroke="#707070" stroke-width="1.05" stroke-dasharray="1.5 1.2"/>
<line x1="1558.4" y1="277.6" x2="1558.4" y2="289.6" stroke="#707070" stroke-width="1.05" stroke-dasharray="1.5 1.2"/>
<line x1="1572.2" y1="298.8" x2="1555.6" y2="320.9" stroke="#707070" stroke-width="1.05" stroke-dasharray="1.5 1.2"/>
<line x1="1558.4" y1="312" x2="1519.7" y2="329.1" stroke="#707070" stroke-width="1.05" stroke-dasharray="1.5 1.2"/>
<line x1="1603.5" y1="334" x2="1603.5" y2="340" stroke="#707070" stroke-width="1.05" stroke-dasharray="1.5 1.2"/>
<line x1="1552.9" y1="351.1" x2="1454.3" y2="340.1" stroke="#707070" stroke-width="1.05" stroke-dasharray="1.5 1.2"/>
<line x1="1558.4" y1="368.8" x2="1500.4" y2="344.9" stroke="#707070" stroke-width="1.05" stroke-dasharray="1.5 1.2"/>
<line x1="1559.3" y1="387.2" x2="1506.8" y2="345.2" stroke="#707070" stroke-width="1.05" stroke-dasharray="1.5 1.2"/>
<line x1="1560.2" y1="405.5" x2="1469.1" y2="344.3" stroke="#707070" stroke-width="1.05" stroke-dasharray="1.5 1.2"/>
<line x1="1547.3" y1="422.2" x2="1418.4" y2="344.9" stroke="#707070" stroke-width="1.05" stroke-dasharray="1.5 1.2"/>
<text x="1636.6" y="274.3" font-size="9.2" fill="#222">group</text>
<circle cx="1643.1" cy="286.2" r="1.5" fill="#f1aca6" opacity=".8"/>
<circle cx="1643.1" cy="299.1" r="1.5" fill="#a9c6f8" opacity=".8"/>
<text x="1653.8" y="288.6" font-size="7.6" fill="#111">up: 499</text>
<text x="1653.8" y="301.5" font-size="7.6" fill="#111">down: 144</text>
</g></g>
<g filter="url(#bld)"><g font-family='"DejaVu Sans", "Liberation Sans", sans-serif'>
<path d="M90.2 906.2H98V788H90.2ZM100.1 906.2H107.9V814.5H100.1ZM110 906.2H117.8V839.5H110ZM119.9 906.2H127.7V847.6H119.9ZM129.7 906.2H137.5V849.8H129.7ZM139.6 906.2H147.4V851H139.6ZM149.5 906.2H157.3V862.2H149.5ZM159.4 906.2H167.2V872.6H159.4ZM169.3 906.2H177.1V872.8H169.3ZM179.2 906.2H187V879H179.2ZM189.1 906.2H196.9V880.2H189.1ZM198.9 906.2H206.7V880.3H198.9ZM208.8 906.2H216.6V880.4H208.8ZM218.7 906.2H226.5V880.4H218.7ZM228.6 906.2H236.4V880.5H228.6ZM238.5 906.2H246.3V882.2H238.5ZM248.4 906.2H256.2V882.4H248.4ZM258.2 906.2H266V882.9H258.2ZM268.1 906.2H275.9V883.1H268.1ZM278 906.2H285.8V885.2H278Z" fill="#e48a6b"/>
<path d="M287.9 906.2H295.7V635H287.9ZM297.8 906.2H305.6V728.5H297.8ZM307.7 906.2H315.5V798H307.7ZM317.6 906.2H325.4V830.6H317.6ZM327.4 906.2H335.2V832.5H327.4ZM337.3 906.2H345.1V836.2H337.3ZM347.2 906.2H355V849.8H347.2ZM357.1 906.2H364.9V857.2H357.1ZM367 906.2H374.8V858.2H367ZM376.9 906.2H384.7V859.6H376.9ZM386.8 906.2H394.6V870.3H386.8ZM396.6 906.2H404.4V871.7H396.6ZM406.5 906.2H414.3V873.5H406.5ZM416.4 906.2H424.2V875H416.4ZM426.3 906.2H434.1V877.3H426.3ZM436.2 906.2H444V879.6H436.2ZM446.1 906.2H453.9V881.5H446.1ZM455.9 906.2H463.7V883.3H455.9ZM465.8 906.2H473.6V884.7H465.8ZM475.7 906.2H483.5V885.7H475.7Z" fill="#78aaea"/>
<path d="M485.6 906.2H493.4V637.2H485.6ZM495.5 906.2H503.3V652H495.5ZM505.4 906.2H513.2V658H505.4ZM515.3 906.2H523.1V729.4H515.3ZM525.1 906.2H532.9V744.3H525.1ZM535 906.2H542.8V786.3H535ZM544.9 906.2H552.7V808.7H544.9ZM554.8 906.2H562.6V820.8H554.8ZM564.7 906.2H572.5V825.5H564.7ZM574.6 906.2H582.4V856.3H574.6ZM584.5 906.2H592.2V857.2H584.5ZM594.3 906.2H602.1V858.6H594.3ZM604.2 906.2H612V863.3H604.2ZM614.1 906.2H621.9V866.6H614.1ZM624 906.2H631.8V866.7H624ZM633.9 906.2H641.7V868.4H633.9ZM643.8 906.2H651.6V872.1H643.8ZM653.6 906.2H661.4V872.2H653.6ZM663.5 906.2H671.3V872.6H663.5ZM673.4 906.2H681.2V874.5H673.4Z" fill="#70b074"/>
<line x1="94.1" y1="906.2" x2="94.1" y2="907.8" stroke="#bbb" stroke-width="0.5"/>
<text x="95.3" y="910.4" font-size="5.85" text-anchor="end" font-weight="bold" fill="#454545" transform="rotate(-61 95.3 910.4)">biological_process</text>
<line x1="104" y1="906.2" x2="104" y2="907.8" stroke="#bbb" stroke-width="0.5"/>
<text x="105.2" y="910.4" font-size="5.85" text-anchor="end" font-weight="bold" fill="#454545" transform="rotate(-61 105.2 910.4)">G protein-coupled receptor signaling pathway</text>
<line x1="113.9" y1="906.2" x2="113.9" y2="907.8" stroke="#bbb" stroke-width="0.5"/>
<text x="115.1" y="910.4" font-size="5.85" text-anchor="end" font-weight="bold" fill="#454545" transform="rotate(-61 115.1 910.4)">regulation of transcription by RNA polymerase II</text>
<line x1="123.8" y1="906.2" x2="123.8" y2="907.8" stroke="#bbb" stroke-width="0.5"/>
<text x="125" y="910.4" font-size="5.85" text-anchor="end" font-weight="bold" fill="#454545" transform="rotate(-61 125 910.4)">positive regulation of transcription by ...</text>
<line x1="133.6" y1="906.2" x2="133.6" y2="907.8" stroke="#bbb" stroke-width="0.5"/>
<text x="134.8" y="910.4" font-size="5.85" text-anchor="end" font-weight="bold" fill="#454545" transform="rotate(-61 134.8 910.4)">detection of chemical stimulus involved ...</text>
<line x1="143.5" y1="906.2" x2="143.5" y2="907.8" stroke="#bbb" stroke-width="0.5"/>
<text x="144.7" y="910.4" font-size="5.85" text-anchor="end" font-weight="bold" fill="#454545" transform="rotate(-61 144.7 910.4)">sensory perception of smell</text>
<line x1="153.4" y1="906.2" x2="153.4" y2="907.8" stroke="#bbb" stroke-width="0.5"/>
<text x="154.6" y="910.4" font-size="5.85" text-anchor="end" font-weight="bold" fill="#454545" transform="rotate(-61 154.6 910.4)">negative regulation of transcription by ...</text>
<line x1="163.3" y1="906.2" x2="163.3" y2="907.8" stroke="#bbb" stroke-width="0.5"/>
<text x="164.5" y="910.4" font-size="5.85" text-anchor="end" font-weight="bold" fill="#454545" transform="rotate(-61 164.5 910.4)">signal transduction</text>
<line x1="173.2" y1="906.2" x2="173.2" y2="907.8" stroke="#bbb" stroke-width="0.5"/>
<text x="174.4" y="910.4" font-size="5.85" text-anchor="end" font-weight="bold" fill="#454545" transform="rotate(-61 174.4 910.4)">positive regulation of DNA-templated transcription</text>
<line x1="183.1" y1="906.2" x2="183.1" y2="907.8" stroke="#bbb" stroke-width="0.5"/>
<text x="184.3" y="910.4" font-size="5.85" text-anchor="end" font-weight="bold" fill="#454545" transform="rotate(-61 184.3 910.4)">negative regulation of DNA-templated transcription</text>
<line x1="193" y1="906.2" x2="193" y2="907.8" stroke="#bbb" stroke-width="0.5"/>
<text x="194.2" y="910.4" font-size="5.85" text-anchor="end" font-weight="bold" fill="#454545" transform="rotate(-61 194.2 910.4)">negative regulation of apoptotic process</text>
<line x1="202.8" y1="906.2" x2="202.8" y2="907.8" stroke="#bbb" stroke-width="0.5"/>
<text x="204" y="910.4" font-size="5.85" text-anchor="end" font-weight="bold" fill="#454545" transform="rotate(-61 204 910.4)">cell differentiation</text>
<line x1="212.7" y1="906.2" x2="212.7" y2="907.8" stroke="#bbb" stroke-width="0.5"/>
<text x="213.9" y="910.4" font-size="5.85" text-anchor="end" font-weight="bold" fill="#454545" transform="rotate(-61 213.9 910.4)">positive regulation of cell population ...</text>
<line x1="222.6" y1="906.2" x2="222.6" y2="907.8" stroke="#bbb" stroke-width="0.5"/>
<text x="223.8" y="910.4" font-size="5.85" text-anchor="end" font-weight="bold" fill="#454545" transform="rotate(-61 223.8 910.4)">regulation of DNA-templated transcription</text>
<line x1="232.5" y1="906.2" x2="232.5" y2="907.8" stroke="#bbb" stroke-width="0.5"/>
<text x="233.7" y="910.4" font-size="5.85" text-anchor="end" font-weight="bold" fill="#454545" transform="rotate(-61 233.7 910.4)">apoptotic process</text>
<line x1="242.4" y1="906.2" x2="242.4" y2="907.8" stroke="#bbb" stroke-width="0.5"/>
<text x="243.6" y="910.4" font-size="5.85" text-anchor="end" font-weight="bold" fill="#454545" transform="rotate(-61 243.6 910.4)">positive regulation of gene expression</text>
<line x1="252.3" y1="906.2" x2="252.3" y2="907.8" stroke="#bbb" stroke-width="0.5"/>
<text x="253.5" y="910.4" font-size="5.85" text-anchor="end" font-weight="bold" fill="#454545" transform="rotate(-61 253.5 910.4)">proteolysis</text>
<line x1="262.1" y1="906.2" x2="262.1" y2="907.8" stroke="#bbb" stroke-width="0.5"/>
<text x="263.3" y="910.4" font-size="5.85" text-anchor="end" font-weight="bold" fill="#454545" transform="rotate(-61 263.3 910.4)">innate immune response</text>
<line x1="272" y1="906.2" x2="272" y2="907.8" stroke="#bbb" stroke-width="0.5"/>
<text x="273.2" y="910.4" font-size="5.85" text-anchor="end" font-weight="bold" fill="#454545" transform="rotate(-61 273.2 910.4)">spermatogenesis</text>
<line x1="281.9" y1="906.2" x2="281.9" y2="907.8" stroke="#bbb" stroke-width="0.5"/>
<text x="283.1" y="910.4" font-size="5.85" text-anchor="end" font-weight="bold" fill="#454545" transform="rotate(-61 283.1 910.4)">cell adhesion</text>
<line x1="291.8" y1="906.2" x2="291.8" y2="907.8" stroke="#bbb" stroke-width="0.5"/>
<text x="293" y="910.4" font-size="5.85" text-anchor="end" font-weight="bold" fill="#454545" transform="rotate(-61 293 910.4)">protein binding</text>
<line x1="301.7" y1="906.2" x2="301.7" y2="907.8" stroke="#bbb" stroke-width="0.5"/>
<text x="302.9" y="910.4" font-size="5.85" text-anchor="end" font-weight="bold" fill="#454545" transform="rotate(-61 302.9 910.4)">molecular_function</text>
<line x1="311.6" y1="906.2" x2="311.6" y2="907.8" stroke="#bbb" stroke-width="0.5"/>
<text x="312.8" y="910.4" font-size="5.85" text-anchor="end" font-weight="bold" fill="#454545" transform="rotate(-61 312.8 910.4)">metal ion binding</text>
<line x1="321.5" y1="906.2" x2="321.5" y2="907.8" stroke="#bbb" stroke-width="0.5"/>
<text x="322.7" y="910.4" font-size="5.85" text-anchor="end" font-weight="bold" fill="#454545" transform="rotate(-61 322.7 910.4)">ATP binding</text>
<line x1="331.3" y1="906.2" x2="331.3" y2="907.8" stroke="#bbb" stroke-width="0.5"/>
<text x="332.5" y="910.4" font-size="5.85" text-anchor="end" font-weight="bold" fill="#454545" transform="rotate(-61 332.5 910.4)">G protein-coupled receptor activity</text>
<line x1="341.2" y1="906.2" x2="341.2" y2="907.8" stroke="#bbb" stroke-width="0.5"/>
<text x="342.4" y="910.4" font-size="5.85" text-anchor="end" font-weight="bold" fill="#454545" transform="rotate(-61 342.4 910.4)">identical protein binding</text>
<line x1="351.1" y1="906.2" x2="351.1" y2="907.8" stroke="#bbb" stroke-width="0.5"/>
<text x="352.3" y="910.4" font-size="5.85" text-anchor="end" font-weight="bold" fill="#454545" transform="rotate(-61 352.3 910.4)">olfactory receptor activity</text>
<line x1="361" y1="906.2" x2="361" y2="907.8" stroke="#bbb" stroke-width="0.5"/>
<text x="362.2" y="910.4" font-size="5.85" text-anchor="end" font-weight="bold" fill="#454545" transform="rotate(-61 362.2 910.4)">RNA polymerase II cis-regulatory region ...</text>
<line x1="370.9" y1="906.2" x2="370.9" y2="907.8" stroke="#bbb" stroke-width="0.5"/>
<text x="372.1" y="910.4" font-size="5.85" text-anchor="end" font-weight="bold" fill="#454545" transform="rotate(-61 372.1 910.4)">DNA-binding transcription factor activity, RNA ...</text>
<line x1="380.8" y1="906.2" x2="380.8" y2="907.8" stroke="#bbb" stroke-width="0.5"/>
<text x="382" y="910.4" font-size="5.85" text-anchor="end" font-weight="bold" fill="#454545" transform="rotate(-61 382 910.4)">DNA binding</text>
<line x1="390.6" y1="906.2" x2="390.6" y2="907.8" stroke="#bbb" stroke-width="0.5"/>
<text x="391.8" y="910.4" font-size="5.85" text-anchor="end" font-weight="bold" fill="#454545" transform="rotate(-61 391.8 910.4)">zinc ion binding</text>
<line x1="400.5" y1="906.2" x2="400.5" y2="907.8" stroke="#bbb" stroke-width="0.5"/>
<text x="401.7" y="910.4" font-size="5.85" text-anchor="end" font-weight="bold" fill="#454545" transform="rotate(-61 401.7 910.4)">calcium ion binding</text>
<line x1="410.4" y1="906.2" x2="410.4" y2="907.8" stroke="#bbb" stroke-width="0.5"/>
<text x="411.6" y="910.4" font-size="5.85" text-anchor="end" font-weight="bold" fill="#454545" transform="rotate(-61 411.6 910.4)">protein homodimerization activity</text>
<line x1="420.3" y1="906.2" x2="420.3" y2="907.8" stroke="#bbb" stroke-width="0.5"/>
<text x="421.5" y="910.4" font-size="5.85" text-anchor="end" font-weight="bold" fill="#454545" transform="rotate(-61 421.5 910.4)">protein-containing complex binding</text>
<line x1="430.2" y1="906.2" x2="430.2" y2="907.8" stroke="#bbb" stroke-width="0.5"/>
<text x="431.4" y="910.4" font-size="5.85" text-anchor="end" font-weight="bold" fill="#454545" transform="rotate(-61 431.4 910.4)">RNA binding</text>
<line x1="440.1" y1="906.2" x2="440.1" y2="907.8" stroke="#bbb" stroke-width="0.5"/>
<text x="441.3" y="910.4" font-size="5.85" text-anchor="end" font-weight="bold" fill="#454545" transform="rotate(-61 441.3 910.4)">chromatin binding</text>
<line x1="450" y1="906.2" x2="450" y2="907.8" stroke="#bbb" stroke-width="0.5"/>
<text x="451.2" y="910.4" font-size="5.85" text-anchor="end" font-weight="bold" fill="#454545" transform="rotate(-61 451.2 910.4)">protein kinase binding</text>
<line x1="459.8" y1="906.2" x2="459.8" y2="907.8" stroke="#bbb" stroke-width="0.5"/>
<text x="461" y="910.4" font-size="5.85" text-anchor="end" font-weight="bold" fill="#454545" transform="rotate(-61 461 910.4)">DNA-binding transcription activator activity, RNA ...</text>
<line x1="469.7" y1="906.2" x2="469.7" y2="907.8" stroke="#bbb" stroke-width="0.5"/>
<text x="470.9" y="910.4" font-size="5.85" text-anchor="end" font-weight="bold" fill="#454545" transform="rotate(-61 470.9 910.4)">enzyme binding</text>
<line x1="479.6" y1="906.2" x2="479.6" y2="907.8" stroke="#bbb" stroke-width="0.5"/>
<text x="480.8" y="910.4" font-size="5.85" text-anchor="end" font-weight="bold" fill="#454545" transform="rotate(-61 480.8 910.4)">ATP hydrolysis activity</text>
<line x1="489.5" y1="906.2" x2="489.5" y2="907.8" stroke="#bbb" stroke-width="0.5"/>
<text x="490.7" y="910.4" font-size="5.85" text-anchor="end" font-weight="bold" fill="#454545" transform="rotate(-61 490.7 910.4)">plasma membrane</text>
<line x1="499.4" y1="906.2" x2="499.4" y2="907.8" stroke="#bbb" stroke-width="0.5"/>
<text x="500.6" y="910.4" font-size="5.85" text-anchor="end" font-weight="bold" fill="#454545" transform="rotate(-61 500.6 910.4)">cytoplasm</text>
<line x1="509.3" y1="906.2" x2="509.3" y2="907.8" stroke="#bbb" stroke-width="0.5"/>
<text x="510.5" y="910.4" font-size="5.85" text-anchor="end" font-weight="bold" fill="#454545" transform="rotate(-61 510.5 910.4)">nucleus</text>
<line x1="519.2" y1="906.2" x2="519.2" y2="907.8" stroke="#bbb" stroke-width="0.5"/>
<text x="520.4" y="910.4" font-size="5.85" text-anchor="end" font-weight="bold" fill="#454545" transform="rotate(-61 520.4 910.4)">cytosol</text>
<line x1="529" y1="906.2" x2="529" y2="907.8" stroke="#bbb" stroke-width="0.5"/>
<text x="530.2" y="910.4" font-size="5.85" text-anchor="end" font-weight="bold" fill="#454545" transform="rotate(-61 530.2 910.4)">membrane</text>
<line x1="538.9" y1="906.2" x2="538.9" y2="907.8" stroke="#bbb" stroke-width="0.5"/>
<text x="540.1" y="910.4" font-size="5.85" text-anchor="end" font-weight="bold" fill="#454545" transform="rotate(-61 540.1 910.4)">nucleoplasm</text>
<line x1="548.8" y1="906.2" x2="548.8" y2="907.8" stroke="#bbb" stroke-width="0.5"/>
<text x="550" y="910.4" font-size="5.85" text-anchor="end" font-weight="bold" fill="#454545" transform="rotate(-61 550 910.4)">cellular_component</text>
<line x1="558.7" y1="906.2" x2="558.7" y2="907.8" stroke="#bbb" stroke-width="0.5"/>
<text x="559.9" y="910.4" font-size="5.85" text-anchor="end" font-weight="bold" fill="#454545" transform="rotate(-61 559.9 910.4)">extracellular space</text>
<line x1="568.6" y1="906.2" x2="568.6" y2="907.8" stroke="#bbb" stroke-width="0.5"/>
<text x="569.8" y="910.4" font-size="5.85" text-anchor="end" font-weight="bold" fill="#454545" transform="rotate(-61 569.8 910.4)">mitochondrion</text>
<line x1="578.5" y1="906.2" x2="578.5" y2="907.8" stroke="#bbb" stroke-width="0.5"/>
<text x="579.7" y="910.4" font-size="5.85" text-anchor="end" font-weight="bold" fill="#454545" transform="rotate(-61 579.7 910.4)">extracellular region</text>
<line x1="588.4" y1="906.2" x2="588.4" y2="907.8" stroke="#bbb" stroke-width="0.5"/>
<text x="589.6" y="910.4" font-size="5.85" text-anchor="end" font-weight="bold" fill="#454545" transform="rotate(-61 589.6 910.4)">endoplasmic reticulum membrane</text>
<line x1="598.2" y1="906.2" x2="598.2" y2="907.8" stroke="#bbb" stroke-width="0.5"/>
<text x="599.4" y="910.4" font-size="5.85" text-anchor="end" font-weight="bold" fill="#454545" transform="rotate(-61 599.4 910.4)">endoplasmic reticulum</text>
<line x1="608.1" y1="906.2" x2="608.1" y2="907.8" stroke="#bbb" stroke-width="0.5"/>
<text x="609.3" y="910.4" font-size="5.85" text-anchor="end" font-weight="bold" fill="#454545" transform="rotate(-61 609.3 910.4)">Golgi apparatus</text>
<line x1="618" y1="906.2" x2="618" y2="907.8" stroke="#bbb" stroke-width="0.5"/>
<text x="619.2" y="910.4" font-size="5.85" text-anchor="end" font-weight="bold" fill="#454545" transform="rotate(-61 619.2 910.4)">glutamatergic synapse</text>
<line x1="627.9" y1="906.2" x2="627.9" y2="907.8" stroke="#bbb" stroke-width="0.5"/>
<text x="629.1" y="910.4" font-size="5.85" text-anchor="end" font-weight="bold" fill="#454545" transform="rotate(-61 629.1 910.4)">perinuclear region of cytoplasm</text>
<line x1="637.8" y1="906.2" x2="637.8" y2="907.8" stroke="#bbb" stroke-width="0.5"/>
<text x="639" y="910.4" font-size="5.85" text-anchor="end" font-weight="bold" fill="#454545" transform="rotate(-61 639 910.4)">nucleolus</text>
<line x1="647.7" y1="906.2" x2="647.7" y2="907.8" stroke="#bbb" stroke-width="0.5"/>
<text x="648.9" y="910.4" font-size="5.85" text-anchor="end" font-weight="bold" fill="#454545" transform="rotate(-61 648.9 910.4)">protein-containing complex</text>
<line x1="657.5" y1="906.2" x2="657.5" y2="907.8" stroke="#bbb" stroke-width="0.5"/>
<text x="658.7" y="910.4" font-size="5.85" text-anchor="end" font-weight="bold" fill="#454545" transform="rotate(-61 658.7 910.4)">cell surface</text>
<line x1="667.4" y1="906.2" x2="667.4" y2="907.8" stroke="#bbb" stroke-width="0.5"/>
<text x="668.6" y="910.4" font-size="5.85" text-anchor="end" font-weight="bold" fill="#454545" transform="rotate(-61 668.6 910.4)">synapse</text>
<line x1="677.3" y1="906.2" x2="677.3" y2="907.8" stroke="#bbb" stroke-width="0.5"/>
<text x="678.5" y="910.4" font-size="5.85" text-anchor="end" font-weight="bold" fill="#454545" transform="rotate(-61 678.5 910.4)">neuronal cell body</text>
<line x1="87.6" y1="635" x2="87.6" y2="906.2" stroke="#d6d6d6" stroke-width="1"/>
<line x1="87.6" y1="906.2" x2="682.5" y2="906.2" stroke="#d6d6d6" stroke-width="1"/>
<line x1="85.6" y1="906.2" x2="87.6" y2="906.2" stroke="#aaa" stroke-width="0.6"/>
<text x="84.9" y="908.3" font-size="5.9" text-anchor="end" fill="#6a6a6a">0</text>
<line x1="85.6" y1="855.2" x2="87.6" y2="855.2" stroke="#aaa" stroke-width="0.6"/>
<text x="84.9" y="857.3" font-size="5.9" text-anchor="end" fill="#6a6a6a">1000</text>
<line x1="85.6" y1="804.1" x2="87.6" y2="804.1" stroke="#aaa" stroke-width="0.6"/>
<text x="84.9" y="806.2" font-size="5.9" text-anchor="end" fill="#6a6a6a">2000</text>
<line x1="85.6" y1="753.1" x2="87.6" y2="753.1" stroke="#aaa" stroke-width="0.6"/>
<text x="84.9" y="755.2" font-size="5.9" text-anchor="end" fill="#6a6a6a">3000</text>
<line x1="85.6" y1="702" x2="87.6" y2="702" stroke="#aaa" stroke-width="0.6"/>
<text x="84.9" y="704.1" font-size="5.9" text-anchor="end" fill="#6a6a6a">4000</text>
<line x1="85.6" y1="651" x2="87.6" y2="651" stroke="#aaa" stroke-width="0.6"/>
<text x="84.9" y="653.1" font-size="5.9" text-anchor="end" fill="#6a6a6a">5000</text>
<text x="66.6" y="771" font-size="6.6" text-anchor="middle" font-weight="bold" fill="#333" transform="rotate(-90 66.6 771)">Gene Number</text>
<text x="693.8" y="754" font-size="7.2" fill="#333">GO-domain</text>
<rect x="694.2" y="759.2" width="10.6" height="10.2" fill="#e48a6b"/>
<text x="708.5" y="766.3" font-size="5.85" fill="#333">biological_process</text>
<rect x="694.2" y="770.5" width="10.6" height="10.2" fill="#70b074"/>
<text x="708.5" y="777.6" font-size="5.85" fill="#333">cellular_component</text>
<rect x="694.2" y="781.8" width="10.6" height="10.2" fill="#78aaea"/>
<text x="708.5" y="788.9" font-size="5.85" fill="#333">molecular_function</text>
</g></g>
<g filter="url(#ble)"><g font-family='"DejaVu Sans", "Liberation Sans", sans-serif'>
<rect x="972" y="634.9" width="513.9" height="6.2" fill="#e0894f"/>
<text x="1492.2" y="641.7" font-size="9.5" fill="#111">1341</text>
<text x="967.4" y="640.7" font-size="7.6" text-anchor="end" fill="#222">Immune system</text>
<line x1="969.6" y1="638" x2="972" y2="638" stroke="#262626" stroke-width="0.7"/>
<rect x="972" y="643.8" width="418.8" height="6.2" fill="#e0894f"/>
<text x="1397.1" y="650.6" font-size="9.5" fill="#111">1093</text>
<text x="967.4" y="649.6" font-size="7.6" text-anchor="end" fill="#222">Sensory system</text>
<line x1="969.6" y1="646.9" x2="972" y2="646.9" stroke="#262626" stroke-width="0.7"/>
<rect x="972" y="652.6" width="226.1" height="6.2" fill="#e0894f"/>
<text x="1202.3" y="659.4" font-size="9.5" fill="#111">590</text>
<text x="967.4" y="658.4" font-size="7.6" text-anchor="end" fill="#222">Endocrine system</text>
<line x1="969.6" y1="655.7" x2="972" y2="655.7" stroke="#262626" stroke-width="0.7"/>
<rect x="972" y="661.5" width="195.8" height="6.2" fill="#e0894f"/>
<text x="1172" y="668.3" font-size="9.5" fill="#111">511</text>
<text x="967.4" y="667.3" font-size="7.6" text-anchor="end" fill="#222">Digestive system</text>
<line x1="969.6" y1="664.6" x2="972" y2="664.6" stroke="#262626" stroke-width="0.7"/>
<rect x="972" y="670.4" width="104.2" height="6.2" fill="#e0894f"/>
<text x="1080.4" y="677.2" font-size="9.5" fill="#111">272</text>
<text x="967.4" y="676.2" font-size="7.6" text-anchor="end" fill="#222">Nervous system</text>
<line x1="969.6" y1="673.5" x2="972" y2="673.5" stroke="#262626" stroke-width="0.7"/>
<rect x="972" y="679.3" width="103.8" height="6.2" fill="#e0894f"/>
<text x="1080" y="686.1" font-size="9.5" fill="#111">271</text>
<text x="967.4" y="685.1" font-size="7.6" text-anchor="end" fill="#222">Development and regeneration</text>
<line x1="969.6" y1="682.4" x2="972" y2="682.4" stroke="#262626" stroke-width="0.7"/>
<rect x="972" y="688.1" width="76.6" height="6.2" fill="#e0894f"/>
<text x="1052.8" y="694.9" font-size="9.5" fill="#111">200</text>
<text x="967.4" y="693.9" font-size="7.6" text-anchor="end" fill="#222">Circulatory system</text>
<line x1="969.6" y1="691.2" x2="972" y2="691.2" stroke="#262626" stroke-width="0.7"/>
<rect x="972" y="697" width="51.3" height="6.2" fill="#e0894f"/>
<text x="1027.5" y="703.8" font-size="9.5" fill="#111">134</text>
<text x="967.4" y="702.8" font-size="7.6" text-anchor="end" fill="#222">Excretory system</text>
<line x1="969.6" y1="700.1" x2="972" y2="700.1" stroke="#262626" stroke-width="0.7"/>
<rect x="972" y="705.9" width="8.4" height="6.2" fill="#e0894f"/>
<text x="984.6" y="712.7" font-size="9.5" fill="#111">22</text>
<text x="967.4" y="711.7" font-size="7.6" text-anchor="end" fill="#222">Environmental adaptation</text>
<line x1="969.6" y1="709" x2="972" y2="709" stroke="#262626" stroke-width="0.7"/>
<rect x="972" y="714.8" width="206.5" height="6.2" fill="#6a84a8"/>
<text x="1182.7" y="721.6" font-size="9.5" fill="#111">539</text>
<text x="967.4" y="720.6" font-size="7.6" text-anchor="end" fill="#222">Lipid metabolism</text>
<line x1="969.6" y1="717.9" x2="972" y2="717.9" stroke="#262626" stroke-width="0.7"/>
<rect x="972" y="723.6" width="197.3" height="6.2" fill="#6a84a8"/>
<text x="1173.5" y="730.4" font-size="9.5" fill="#111">515</text>
<text x="967.4" y="729.4" font-size="7.6" text-anchor="end" fill="#222">Carbohydrate metabolism</text>
<line x1="969.6" y1="726.7" x2="972" y2="726.7" stroke="#262626" stroke-width="0.7"/>
<rect x="972" y="732.5" width="154" height="6.2" fill="#6a84a8"/>
<text x="1130.2" y="739.3" font-size="9.5" fill="#111">402</text>
<text x="967.4" y="738.3" font-size="7.6" text-anchor="end" fill="#222">Amino acid metabolism</text>
<line x1="969.6" y1="735.6" x2="972" y2="735.6" stroke="#262626" stroke-width="0.7"/>
<rect x="972" y="741.4" width="115.7" height="6.2" fill="#6a84a8"/>
<text x="1091.9" y="748.2" font-size="9.5" fill="#111">302</text>
<text x="967.4" y="747.2" font-size="7.6" text-anchor="end" fill="#222">Glycan biosynthesis and metabolism</text>
<line x1="969.6" y1="744.5" x2="972" y2="744.5" stroke="#262626" stroke-width="0.7"/>
<rect x="972" y="750.3" width="102.3" height="6.2" fill="#6a84a8"/>
<text x="1078.5" y="757.1" font-size="9.5" fill="#111">267</text>
<text x="967.4" y="756.1" font-size="7.6" text-anchor="end" fill="#222">Nucleotide metabolism</text>
<line x1="969.6" y1="753.4" x2="972" y2="753.4" stroke="#262626" stroke-width="0.7"/>
<rect x="972" y="759.1" width="85.5" height="6.2" fill="#6a84a8"/>
<text x="1061.7" y="765.9" font-size="9.5" fill="#111">223</text>
<text x="967.4" y="764.9" font-size="7.6" text-anchor="end" fill="#222">Xenobiotics biodegradation and metabolism</text>
<line x1="969.6" y1="762.2" x2="972" y2="762.2" stroke="#262626" stroke-width="0.7"/>
<rect x="972" y="768" width="85.1" height="6.2" fill="#6a84a8"/>
<text x="1061.3" y="774.8" font-size="9.5" fill="#111">222</text>
<text x="967.4" y="773.8" font-size="7.6" text-anchor="end" fill="#222">Metabolism of cofactors and vitamins</text>
<line x1="969.6" y1="771.1" x2="972" y2="771.1" stroke="#262626" stroke-width="0.7"/>
<rect x="972" y="776.9" width="65.5" height="6.2" fill="#6a84a8"/>
<text x="1041.7" y="783.7" font-size="9.5" fill="#111">171</text>
<text x="967.4" y="782.7" font-size="7.6" text-anchor="end" fill="#222">Energy metabolism</text>
<line x1="969.6" y1="780" x2="972" y2="780" stroke="#262626" stroke-width="0.7"/>
<rect x="972" y="785.8" width="42.2" height="6.2" fill="#6a84a8"/>
<text x="1018.4" y="792.6" font-size="9.5" fill="#111">110</text>
<text x="967.4" y="791.6" font-size="7.6" text-anchor="end" fill="#222">Metabolism of other amino acids</text>
<line x1="969.6" y1="788.9" x2="972" y2="788.9" stroke="#262626" stroke-width="0.7"/>
<rect x="972" y="794.6" width="5.4" height="6.2" fill="#6a84a8"/>
<text x="981.6" y="801.4" font-size="9.5" fill="#111">14</text>
<text x="967.4" y="800.4" font-size="7.6" text-anchor="end" fill="#222">Metabolism of terpenoids and polyketides</text>
<line x1="969.6" y1="797.7" x2="972" y2="797.7" stroke="#262626" stroke-width="0.7"/>
<rect x="972" y="803.5" width="5" height="6.2" fill="#6a84a8"/>
<text x="981.2" y="810.3" font-size="9.5" fill="#111">13</text>
<text x="967.4" y="809.3" font-size="7.6" text-anchor="end" fill="#222">Biosynthesis of other secondary metabolites</text>
<line x1="969.6" y1="806.6" x2="972" y2="806.6" stroke="#262626" stroke-width="0.7"/>
<rect x="972" y="812.4" width="337.2" height="6.2" fill="#d15f58"/>
<text x="1313.4" y="819.2" font-size="9.5" fill="#111">880</text>
<text x="967.4" y="818.2" font-size="7.6" text-anchor="end" fill="#222">Cancer: specific types</text>
<line x1="969.6" y1="815.5" x2="972" y2="815.5" stroke="#262626" stroke-width="0.7"/>
<rect x="972" y="821.3" width="228.4" height="6.2" fill="#d15f58"/>
<text x="1204.6" y="828.1" font-size="9.5" fill="#111">596</text>
<text x="967.4" y="827.1" font-size="7.6" text-anchor="end" fill="#222">Neurodegenerative disease</text>
<line x1="969.6" y1="824.4" x2="972" y2="824.4" stroke="#262626" stroke-width="0.7"/>
<rect x="972" y="830.1" width="185.9" height="6.2" fill="#d15f58"/>
<text x="1162.1" y="836.9" font-size="9.5" fill="#111">485</text>
<text x="967.4" y="835.9" font-size="7.6" text-anchor="end" fill="#222">Infectious disease: parasitic</text>
<line x1="969.6" y1="833.2" x2="972" y2="833.2" stroke="#262626" stroke-width="0.7"/>
<rect x="972" y="839" width="173.6" height="6.2" fill="#d15f58"/>
<text x="1149.8" y="845.8" font-size="9.5" fill="#111">453</text>
<text x="967.4" y="844.8" font-size="7.6" text-anchor="end" fill="#222">Immune disease</text>
<line x1="969.6" y1="842.1" x2="972" y2="842.1" stroke="#262626" stroke-width="0.7"/>
<rect x="972" y="847.9" width="127.6" height="6.2" fill="#d15f58"/>
<text x="1103.8" y="854.7" font-size="9.5" fill="#111">333</text>
<text x="967.4" y="853.7" font-size="7.6" text-anchor="end" fill="#222">Cardiovascular disease</text>
<line x1="969.6" y1="851" x2="972" y2="851" stroke="#262626" stroke-width="0.7"/>
<rect x="972" y="856.8" width="124.2" height="6.2" fill="#d15f58"/>
<text x="1100.4" y="863.6" font-size="9.5" fill="#111">324</text>
<text x="967.4" y="862.6" font-size="7.6" text-anchor="end" fill="#222">Cancer: overview</text>
<line x1="969.6" y1="859.9" x2="972" y2="859.9" stroke="#262626" stroke-width="0.7"/>
<rect x="972" y="865.6" width="52.5" height="6.2" fill="#d15f58"/>
<text x="1028.7" y="872.4" font-size="9.5" fill="#111">137</text>
<text x="967.4" y="871.4" font-size="7.6" text-anchor="end" fill="#222">Infectious disease: viral</text>
<line x1="969.6" y1="868.7" x2="972" y2="868.7" stroke="#262626" stroke-width="0.7"/>
<rect x="972" y="874.5" width="50.6" height="6.2" fill="#d15f58"/>
<text x="1026.8" y="881.3" font-size="9.5" fill="#111">132</text>
<text x="967.4" y="880.3" font-size="7.6" text-anchor="end" fill="#222">Endocrine and metabolic disease</text>
<line x1="969.6" y1="877.6" x2="972" y2="877.6" stroke="#262626" stroke-width="0.7"/>
<rect x="972" y="883.4" width="46.4" height="6.2" fill="#d15f58"/>
<text x="1022.6" y="890.2" font-size="9.5" fill="#111">121</text>
<text x="967.4" y="889.2" font-size="7.6" text-anchor="end" fill="#222">Infectious disease: bacterial</text>
<line x1="969.6" y1="886.5" x2="972" y2="886.5" stroke="#262626" stroke-width="0.7"/>
<rect x="972" y="892.3" width="196.2" height="6.2" fill="#938fb6"/>
<text x="1172.4" y="899.1" font-size="9.5" fill="#111">512</text>
<text x="967.4" y="898.1" font-size="7.6" text-anchor="end" fill="#222">Translation</text>
<line x1="969.6" y1="895.4" x2="972" y2="895.4" stroke="#262626" stroke-width="0.7"/>
<rect x="972" y="901.1" width="190.5" height="6.2" fill="#938fb6"/>
<text x="1166.7" y="907.9" font-size="9.5" fill="#111">497</text>
<text x="967.4" y="906.9" font-size="7.6" text-anchor="end" fill="#222">Folding, sorting and degradation</text>
<line x1="969.6" y1="904.2" x2="972" y2="904.2" stroke="#262626" stroke-width="0.7"/>
<rect x="972" y="910" width="75.5" height="6.2" fill="#938fb6"/>
<text x="1051.7" y="916.8" font-size="9.5" fill="#111">197</text>
<text x="967.4" y="915.8" font-size="7.6" text-anchor="end" fill="#222">Transcription</text>
<line x1="969.6" y1="913.1" x2="972" y2="913.1" stroke="#262626" stroke-width="0.7"/>
<rect x="972" y="918.9" width="67.4" height="6.2" fill="#938fb6"/>
<text x="1043.6" y="925.7" font-size="9.5" fill="#111">176</text>
<text x="967.4" y="924.7" font-size="7.6" text-anchor="end" fill="#222">Replication and repair</text>
<line x1="969.6" y1="922" x2="972" y2="922" stroke="#262626" stroke-width="0.7"/>
<rect x="972" y="927.8" width="472.9" height="6.2" fill="#ffff85"/>
<text x="1451.2" y="934.6" font-size="9.5" fill="#111">1234</text>
<text x="967.4" y="933.6" font-size="7.6" text-anchor="end" fill="#222">Signal transduction</text>
<line x1="969.6" y1="930.9" x2="972" y2="930.9" stroke="#262626" stroke-width="0.7"/>
<rect x="972" y="936.6" width="288.9" height="6.2" fill="#ffff85"/>
<text x="1265.1" y="943.4" font-size="9.5" fill="#111">754</text>
<text x="967.4" y="942.4" font-size="7.6" text-anchor="end" fill="#222">Signaling molecules and interaction</text>
<line x1="969.6" y1="939.7" x2="972" y2="939.7" stroke="#262626" stroke-width="0.7"/>
<rect x="972" y="945.5" width="17.2" height="6.2" fill="#ffff85"/>
<text x="993.4" y="952.3" font-size="9.5" fill="#111">45</text>
<text x="967.4" y="951.3" font-size="7.6" text-anchor="end" fill="#222">Membrane transport</text>
<line x1="969.6" y1="948.6" x2="972" y2="948.6" stroke="#262626" stroke-width="0.7"/>
<rect x="972" y="954.4" width="239.9" height="6.2" fill="#7fa698"/>
<text x="1216.1" y="961.2" font-size="9.5" fill="#111">626</text>
<text x="967.4" y="960.2" font-size="7.6" text-anchor="end" fill="#222">Transport and catabolism</text>
<line x1="969.6" y1="957.5" x2="972" y2="957.5" stroke="#262626" stroke-width="0.7"/>
<rect x="972" y="963.3" width="190.5" height="6.2" fill="#7fa698"/>
<text x="1166.7" y="970.1" font-size="9.5" fill="#111">497</text>
<text x="967.4" y="969.1" font-size="7.6" text-anchor="end" fill="#222">Cellular community - eukaryotes</text>
<line x1="969.6" y1="966.4" x2="972" y2="966.4" stroke="#262626" stroke-width="0.7"/>
<rect x="972" y="972.1" width="150.2" height="6.2" fill="#7fa698"/>
<text x="1126.4" y="978.9" font-size="9.5" fill="#111">392</text>
<text x="967.4" y="977.9" font-size="7.6" text-anchor="end" fill="#222">Cell growth and death</text>
<line x1="969.6" y1="975.2" x2="972" y2="975.2" stroke="#262626" stroke-width="0.7"/>
<rect x="972" y="981" width="82.4" height="6.2" fill="#7fa698"/>
<text x="1058.6" y="987.8" font-size="9.5" fill="#111">215</text>
<text x="967.4" y="986.8" font-size="7.6" text-anchor="end" fill="#222">Cell motility</text>
<line x1="969.6" y1="984.1" x2="972" y2="984.1" stroke="#262626" stroke-width="0.7"/>
<line x1="972" y1="632.5" x2="972" y2="990.2" stroke="#222" stroke-width="1.4"/>
<line x1="971.5" y1="989.7" x2="1536.4" y2="989.7" stroke="#222" stroke-width="1.4"/>
<line x1="972" y1="989.7" x2="972" y2="992" stroke="#262626" stroke-width="0.7"/>
<text x="972" y="999.4" font-size="7" text-anchor="middle" fill="#262626">0.0%</text>
<line x1="1123.5" y1="989.7" x2="1123.5" y2="992" stroke="#262626" stroke-width="0.7"/>
<text x="1123.5" y="999.4" font-size="7" text-anchor="middle" fill="#262626">2.5%</text>
<line x1="1275" y1="989.7" x2="1275" y2="992" stroke="#262626" stroke-width="0.7"/>
<text x="1275" y="999.4" font-size="7" text-anchor="middle" fill="#262626">5.0%</text>
<line x1="1426.5" y1="989.7" x2="1426.5" y2="992" stroke="#262626" stroke-width="0.7"/>
<text x="1426.5" y="999.4" font-size="7" text-anchor="middle" fill="#262626">7.5%</text>
<text x="1254" y="1010.4" font-size="9.65" text-anchor="middle" fill="#262626">Percent of Genes</text>
<text x="790.4" y="810.6" font-size="9.65" text-anchor="middle" fill="#222" transform="rotate(-90 790.4 810.6)">KEGG sub classification</text>
<text x="1551.6" y="766.4" font-size="9.7" fill="#222">KEGG_classification</text>
<rect x="1552.3" y="773" width="14" height="13.4" fill="#7fa698"/>
<text x="1571.6" y="782.2" font-size="7.7" fill="#222">Cellular Processes</text>
<rect x="1552.3" y="788.3" width="14" height="13.4" fill="#ffff85"/>
<text x="1571.6" y="797.5" font-size="7.7" fill="#222">Environmental Information Processing</text>
<rect x="1552.3" y="803.6" width="14" height="13.4" fill="#938fb6"/>
<text x="1571.6" y="812.8" font-size="7.7" fill="#222">Genetic Information Processing</text>
<rect x="1552.3" y="818.9" width="14" height="13.4" fill="#d15f58"/>
<text x="1571.6" y="828.1" font-size="7.7" fill="#222">Human Diseases</text>
<rect x="1552.3" y="834.2" width="14" height="13.4" fill="#6a84a8"/>
<text x="1571.6" y="843.4" font-size="7.7" fill="#222">Metabolism</text>
<rect x="1552.3" y="849.5" width="14" height="13.4" fill="#e0894f"/>
<text x="1571.6" y="858.7" font-size="7.7" fill="#222">Organismal Systems</text>
</g></g>
<g filter="url(#blf)"><g font-family='"DejaVu Sans", "Liberation Sans", sans-serif'>
<line x1="388.6" y1="1230.6" x2="388.6" y2="1735.6" stroke="#f6f6f6" stroke-width="0.6"/>
<line x1="492.4" y1="1230.6" x2="492.4" y2="1735.6" stroke="#f6f6f6" stroke-width="0.6"/>
<line x1="596.3" y1="1230.6" x2="596.3" y2="1735.6" stroke="#f6f6f6" stroke-width="0.6"/>
<line x1="440.5" y1="1230.6" x2="440.5" y2="1735.6" stroke="#efefef" stroke-width="0.9"/>
<line x1="544.4" y1="1230.6" x2="544.4" y2="1735.6" stroke="#efefef" stroke-width="0.9"/>
<line x1="375.3" y1="1246.3" x2="643.2" y2="1246.3" stroke="#f0f0f0" stroke-width="0.9"/>
<line x1="375.3" y1="1271.2" x2="643.2" y2="1271.2" stroke="#f0f0f0" stroke-width="0.9"/>
<line x1="375.3" y1="1296.1" x2="643.2" y2="1296.1" stroke="#f0f0f0" stroke-width="0.9"/>
<line x1="375.3" y1="1321" x2="643.2" y2="1321" stroke="#f0f0f0" stroke-width="0.9"/>
<line x1="375.3" y1="1345.9" x2="643.2" y2="1345.9" stroke="#f0f0f0" stroke-width="0.9"/>
<line x1="375.3" y1="1370.8" x2="643.2" y2="1370.8" stroke="#f0f0f0" stroke-width="0.9"/>
<line x1="375.3" y1="1395.7" x2="643.2" y2="1395.7" stroke="#f0f0f0" stroke-width="0.9"/>
<line x1="375.3" y1="1420.6" x2="643.2" y2="1420.6" stroke="#f0f0f0" stroke-width="0.9"/>
<line x1="375.3" y1="1445.5" x2="643.2" y2="1445.5" stroke="#f0f0f0" stroke-width="0.9"/>
<line x1="375.3" y1="1470.4" x2="643.2" y2="1470.4" stroke="#f0f0f0" stroke-width="0.9"/>
<line x1="375.3" y1="1495.3" x2="643.2" y2="1495.3" stroke="#f0f0f0" stroke-width="0.9"/>
<line x1="375.3" y1="1520.2" x2="643.2" y2="1520.2" stroke="#f0f0f0" stroke-width="0.9"/>
<line x1="375.3" y1="1545.1" x2="643.2" y2="1545.1" stroke="#f0f0f0" stroke-width="0.9"/>
<line x1="375.3" y1="1570" x2="643.2" y2="1570" stroke="#f0f0f0" stroke-width="0.9"/>
<line x1="375.3" y1="1594.9" x2="643.2" y2="1594.9" stroke="#f0f0f0" stroke-width="0.9"/>
<line x1="375.3" y1="1619.8" x2="643.2" y2="1619.8" stroke="#f0f0f0" stroke-width="0.9"/>
<line x1="375.3" y1="1644.7" x2="643.2" y2="1644.7" stroke="#f0f0f0" stroke-width="0.9"/>
<line x1="375.3" y1="1669.6" x2="643.2" y2="1669.6" stroke="#f0f0f0" stroke-width="0.9"/>
<line x1="375.3" y1="1694.5" x2="643.2" y2="1694.5" stroke="#f0f0f0" stroke-width="0.9"/>
<line x1="375.3" y1="1719.4" x2="643.2" y2="1719.4" stroke="#f0f0f0" stroke-width="0.9"/>
<rect x="375.3" y="1230.6" width="267.9" height="505" fill="none" stroke="#a2a2a2" stroke-width="1.9"/>
<circle cx="404.6" cy="1246.3" r="3.7" fill="#dd0303"/>
<line x1="372.3" y1="1246.3" x2="375.3" y2="1246.3" stroke="#333" stroke-width="0.9"/>
<text x="369.4" y="1250.3" font-size="11.5" text-anchor="end" fill="#202020">neutrophil chemotaxis</text>
<circle cx="386.9" cy="1271.2" r="2.5" fill="#dd0303"/>
<line x1="372.3" y1="1271.2" x2="375.3" y2="1271.2" stroke="#333" stroke-width="0.9"/>
<text x="369.4" y="1275.2" font-size="11.5" text-anchor="end" fill="#202020">lumenal side of endoplasmic reticulum membrane</text>
<circle cx="398.4" cy="1296.1" r="3.5" fill="#dd0303"/>
<line x1="372.3" y1="1296.1" x2="375.3" y2="1296.1" stroke="#333" stroke-width="0.9"/>
<text x="369.4" y="1300.1" font-size="11.5" text-anchor="end" fill="#202020">defense response</text>
<circle cx="386.9" cy="1321" r="2.5" fill="#dd0303"/>
<line x1="372.3" y1="1321" x2="375.3" y2="1321" stroke="#333" stroke-width="0.9"/>
<text x="369.4" y="1325" font-size="11.5" text-anchor="end" fill="#202020">CCR chemokine receptor binding</text>
<circle cx="386.9" cy="1345.9" r="2.5" fill="#dd0303"/>
<line x1="372.3" y1="1345.9" x2="375.3" y2="1345.9" stroke="#333" stroke-width="0.9"/>
<text x="369.4" y="1349.9" font-size="11.5" text-anchor="end" fill="#202020">MHC class I protein complex</text>
<circle cx="404.6" cy="1370.8" r="3.7" fill="#dd0303"/>
<line x1="372.3" y1="1370.8" x2="375.3" y2="1370.8" stroke="#333" stroke-width="0.9"/>
<text x="369.4" y="1374.8" font-size="11.5" text-anchor="end" fill="#202020">negative regulation of viral genome replication</text>
<circle cx="415.6" cy="1395.7" r="4" fill="#dd0303"/>
<line x1="372.3" y1="1395.7" x2="375.3" y2="1395.7" stroke="#333" stroke-width="0.9"/>
<text x="369.4" y="1399.7" font-size="11.5" text-anchor="end" fill="#202020">phagocytic vesicle membrane</text>
<circle cx="415.6" cy="1420.6" r="4" fill="#dd0303"/>
<line x1="372.3" y1="1420.6" x2="375.3" y2="1420.6" stroke="#333" stroke-width="0.9"/>
<text x="369.4" y="1424.6" font-size="11.5" text-anchor="end" fill="#202020">chemokine-mediated signaling pathway</text>
<circle cx="455.3" cy="1445.5" r="4.5" fill="#dd0303"/>
<line x1="372.3" y1="1445.5" x2="375.3" y2="1445.5" stroke="#333" stroke-width="0.9"/>
<text x="369.4" y="1449.5" font-size="11.5" text-anchor="end" fill="#202020">defense response to bacterium</text>
<circle cx="455.3" cy="1470.4" r="4.5" fill="#dd0303"/>
<line x1="372.3" y1="1470.4" x2="375.3" y2="1470.4" stroke="#333" stroke-width="0.9"/>
<text x="369.4" y="1474.4" font-size="11.5" text-anchor="end" fill="#202020">defense response to Gram-positive bacterium</text>
<circle cx="415.6" cy="1495.3" r="4" fill="#dd0303"/>
<line x1="372.3" y1="1495.3" x2="375.3" y2="1495.3" stroke="#333" stroke-width="0.9"/>
<text x="369.4" y="1499.3" font-size="11.5" text-anchor="end" fill="#202020">chemokine activity</text>
<circle cx="438.1" cy="1520.2" r="4.3" fill="#dd0303"/>
<line x1="372.3" y1="1520.2" x2="375.3" y2="1520.2" stroke="#333" stroke-width="0.9"/>
<text x="369.4" y="1524.2" font-size="11.5" text-anchor="end" fill="#202020">cellular response to type II interferon</text>
<circle cx="438.1" cy="1545.1" r="4.3" fill="#dd0303"/>
<line x1="372.3" y1="1545.1" x2="375.3" y2="1545.1" stroke="#333" stroke-width="0.9"/>
<text x="369.4" y="1549.1" font-size="11.5" text-anchor="end" fill="#202020">response to virus</text>
<circle cx="500.3" cy="1570" r="5" fill="#dd0303"/>
<line x1="372.3" y1="1570" x2="375.3" y2="1570" stroke="#333" stroke-width="0.9"/>
<text x="369.4" y="1574" font-size="11.5" text-anchor="end" fill="#202020">cellular response to lipopolysaccharide</text>
<circle cx="517.1" cy="1594.9" r="5.2" fill="#dd0303"/>
<line x1="372.3" y1="1594.9" x2="375.3" y2="1594.9" stroke="#333" stroke-width="0.9"/>
<text x="369.4" y="1598.9" font-size="11.5" text-anchor="end" fill="#202020">defense response to virus</text>
<circle cx="438.1" cy="1619.8" r="4.3" fill="#dd0303"/>
<line x1="372.3" y1="1619.8" x2="375.3" y2="1619.8" stroke="#333" stroke-width="0.9"/>
<text x="369.4" y="1623.8" font-size="11.5" text-anchor="end" fill="#202020">defense response to protozoan</text>
<circle cx="568.3" cy="1644.7" r="5.8" fill="#dd0303"/>
<line x1="372.3" y1="1644.7" x2="375.3" y2="1644.7" stroke="#333" stroke-width="0.9"/>
<text x="369.4" y="1648.7" font-size="11.5" text-anchor="end" fill="#202020">inflammatory response</text>
<circle cx="517.1" cy="1669.6" r="5.2" fill="#dd0303"/>
<line x1="372.3" y1="1669.6" x2="375.3" y2="1669.6" stroke="#333" stroke-width="0.9"/>
<text x="369.4" y="1673.6" font-size="11.5" text-anchor="end" fill="#202020">response to bacterium</text>
<circle cx="455.3" cy="1694.5" r="4.5" fill="#dd0303"/>
<line x1="372.3" y1="1694.5" x2="375.3" y2="1694.5" stroke="#333" stroke-width="0.9"/>
<text x="369.4" y="1698.5" font-size="11.5" text-anchor="end" fill="#202020">cellular response to interferon-beta</text>
<circle cx="631.1" cy="1719.4" r="6.2" fill="#dd0303"/>
<line x1="372.3" y1="1719.4" x2="375.3" y2="1719.4" stroke="#333" stroke-width="0.9"/>
<text x="369.4" y="1723.4" font-size="11.5" text-anchor="end" fill="#202020">innate immune response</text>
<line x1="440.5" y1="1735.6" x2="440.5" y2="1738.6" stroke="#333" stroke-width="0.9"/>
<text x="440.5" y="1749" font-size="11" text-anchor="middle" fill="#444">0.05</text>
<line x1="544.4" y1="1735.6" x2="544.4" y2="1738.6" stroke="#333" stroke-width="0.9"/>
<text x="544.4" y="1749" font-size="11" text-anchor="middle" fill="#444">0.10</text>
<text x="509" y="1764.6" font-size="12.6" text-anchor="middle" fill="#333">GeneRatio</text>
<text x="509.2" y="1206" font-size="15.3" text-anchor="middle" fill="#262626">Statistics of GO Term Enrichment(Significant)</text>
<text x="509.2" y="1222.6" font-size="15.3" text-anchor="middle" fill="#262626">(A_vs_B_up)</text>
<text x="662.2" y="1362" font-size="12.6" fill="#222">Count</text>
<circle cx="672.7" cy="1379.5" r="3.9" fill="#000"/>
<text x="689.4" y="1383.1" font-size="10" fill="#222">25</text>
<circle cx="672.7" cy="1399.6" r="5.6" fill="#000"/>
<text x="689.4" y="1403.2" font-size="10" fill="#222">50</text>
<circle cx="672.7" cy="1419.7" r="6.6" fill="#000"/>
<text x="689.4" y="1423.3" font-size="10" fill="#222">75</text>
<circle cx="672.7" cy="1440.3" r="7.3" fill="#000"/>
<text x="689.4" y="1443.9" font-size="10" fill="#222">100</text>
<circle cx="672.7" cy="1460.4" r="7.9" fill="#000"/>
<text x="689.4" y="1464" font-size="10" fill="#222">125</text>
<text x="662.2" y="1506" font-size="12.6" fill="#222">padj</text>
<defs><linearGradient id="pj" x1="0" y1="0" x2="0" y2="1"><stop offset="0" stop-color="#6a1cf5"/><stop offset=".12" stop-color="#4f78f6"/><stop offset=".25" stop-color="#82bcfa"/><stop offset=".38" stop-color="#8cfaf4"/><stop offset=".5" stop-color="#8cf5aa"/><stop offset=".63" stop-color="#a0f532"/><stop offset=".75" stop-color="#d7e132"/><stop offset=".88" stop-color="#e6961e"/><stop offset="1" stop-color="#e01e0f"/></linearGradient></defs>
<rect x="662.2" y="1513" width="19.6" height="100.6" fill="url(#pj)"/>
<text x="688.4" y="1517.6" font-size="10" fill="#222">1.00</text>
<text x="688.4" y="1542.5" font-size="10" fill="#222">0.75</text>
<text x="688.4" y="1567.4" font-size="10" fill="#222">0.50</text>
<text x="688.4" y="1592.3" font-size="10" fill="#222">0.25</text>
<text x="688.4" y="1617.2" font-size="10" fill="#222">0.00</text>
</g></g>
<g filter="url(#blg)"><g font-family='"DejaVu Sans", "Liberation Sans", sans-serif'>
<rect x="1088.3" y="1232.4" width="115.8" height="17.2" fill="#c9514b"/>
<text x="1208.1" y="1245.2" font-size="11.2" fill="#222">17</text>
<text x="1082.9" y="1244.2" font-size="8.9" text-anchor="end" fill="#262626">Chemokine signaling pathway</text>
<line x1="1085.3" y1="1241" x2="1088.3" y2="1241" stroke="#262626" stroke-width="0.9"/>
<rect x="1088.3" y="1257.9" width="95.3" height="17.2" fill="#c9514b"/>
<text x="1187.6" y="1270.7" font-size="11.2" fill="#222">14</text>
<text x="1082.9" y="1269.7" font-size="8.9" text-anchor="end" fill="#262626">Toll-like receptor signaling pathway</text>
<line x1="1085.3" y1="1266.5" x2="1088.3" y2="1266.5" stroke="#262626" stroke-width="0.9"/>
<rect x="1088.3" y="1283.4" width="81.7" height="17.2" fill="#c9514b"/>
<text x="1174" y="1296.2" font-size="11.2" fill="#222">12</text>
<text x="1082.9" y="1295.2" font-size="8.9" text-anchor="end" fill="#262626">Osteoclast differentiation</text>
<line x1="1085.3" y1="1292" x2="1088.3" y2="1292" stroke="#262626" stroke-width="0.9"/>
<rect x="1088.3" y="1308.9" width="68.1" height="17.2" fill="#c9514b"/>
<text x="1160.4" y="1321.7" font-size="11.2" fill="#222">10</text>
<text x="1082.9" y="1320.7" font-size="8.9" text-anchor="end" fill="#262626">Natural killer cell mediated cytotoxicity</text>
<line x1="1085.3" y1="1317.5" x2="1088.3" y2="1317.5" stroke="#262626" stroke-width="0.9"/>
<rect x="1088.3" y="1334.4" width="68.1" height="17.2" fill="#c9514b"/>
<text x="1160.4" y="1347.2" font-size="11.2" fill="#222">10</text>
<text x="1082.9" y="1346.2" font-size="8.9" text-anchor="end" fill="#262626">NOD-like receptor signaling pathway</text>
<line x1="1085.3" y1="1343" x2="1088.3" y2="1343" stroke="#262626" stroke-width="0.9"/>
<rect x="1088.3" y="1360" width="61.3" height="17.2" fill="#c9514b"/>
<text x="1151.8" y="1372.8" font-size="11.2" fill="#222">9</text>
<text x="1082.9" y="1371.8" font-size="8.9" text-anchor="end" fill="#262626">Hematopoietic cell lineage</text>
<line x1="1085.3" y1="1368.6" x2="1088.3" y2="1368.6" stroke="#262626" stroke-width="0.9"/>
<rect x="1088.3" y="1385.5" width="61.3" height="17.2" fill="#c9514b"/>
<text x="1151.8" y="1398.3" font-size="11.2" fill="#222">9</text>
<text x="1082.9" y="1397.3" font-size="8.9" text-anchor="end" fill="#262626">Antigen processing and presentation</text>
<line x1="1085.3" y1="1394.1" x2="1088.3" y2="1394.1" stroke="#262626" stroke-width="0.9"/>
<rect x="1088.3" y="1411" width="61.3" height="17.2" fill="#c9514b"/>
<text x="1151.8" y="1423.8" font-size="11.2" fill="#222">9</text>
<text x="1082.9" y="1422.8" font-size="8.9" text-anchor="end" fill="#262626">Complement and coagulation cascades</text>
<line x1="1085.3" y1="1419.6" x2="1088.3" y2="1419.6" stroke="#262626" stroke-width="0.9"/>
<rect x="1088.3" y="1436.5" width="61.3" height="17.2" fill="#c9514b"/>
<text x="1151.8" y="1449.3" font-size="11.2" fill="#222">9</text>
<text x="1082.9" y="1448.3" font-size="8.9" text-anchor="end" fill="#262626">Cytosolic DNA-sensing pathway</text>
<line x1="1085.3" y1="1445.1" x2="1088.3" y2="1445.1" stroke="#262626" stroke-width="0.9"/>
<rect x="1088.3" y="1462" width="81.7" height="17.2" fill="#7d7a9f"/>
<text x="1174" y="1474.8" font-size="11.2" fill="#222">12</text>
<text x="1082.9" y="1473.8" font-size="8.9" text-anchor="end" fill="#262626">Staphylococcus aureus infection</text>
<line x1="1085.3" y1="1470.6" x2="1088.3" y2="1470.6" stroke="#262626" stroke-width="0.9"/>
<rect x="1088.3" y="1487.5" width="61.3" height="17.2" fill="#7d7a9f"/>
<text x="1151.8" y="1500.3" font-size="11.2" fill="#222">9</text>
<text x="1082.9" y="1499.3" font-size="8.9" text-anchor="end" fill="#262626">Viral myocarditis</text>
<line x1="1085.3" y1="1496.1" x2="1088.3" y2="1496.1" stroke="#262626" stroke-width="0.9"/>
<rect x="1088.3" y="1513" width="61.3" height="17.2" fill="#7d7a9f"/>
<text x="1151.8" y="1525.8" font-size="11.2" fill="#222">9</text>
<text x="1082.9" y="1524.8" font-size="8.9" text-anchor="end" fill="#262626">Graft-versus-host disease</text>
<line x1="1085.3" y1="1521.6" x2="1088.3" y2="1521.6" stroke="#262626" stroke-width="0.9"/>
<rect x="1088.3" y="1538.5" width="61.3" height="17.2" fill="#7d7a9f"/>
<text x="1151.8" y="1551.3" font-size="11.2" fill="#222">9</text>
<text x="1082.9" y="1550.3" font-size="8.9" text-anchor="end" fill="#262626">Malaria</text>
<line x1="1085.3" y1="1547.1" x2="1088.3" y2="1547.1" stroke="#262626" stroke-width="0.9"/>
<rect x="1088.3" y="1564" width="54.5" height="17.2" fill="#7d7a9f"/>
<text x="1145" y="1576.8" font-size="11.2" fill="#222">8</text>
<text x="1082.9" y="1575.8" font-size="8.9" text-anchor="end" fill="#262626">Rheumatoid arthritis</text>
<line x1="1085.3" y1="1572.6" x2="1088.3" y2="1572.6" stroke="#262626" stroke-width="0.9"/>
<rect x="1088.3" y="1589.5" width="54.5" height="17.2" fill="#7d7a9f"/>
<text x="1145" y="1602.3" font-size="11.2" fill="#222">8</text>
<text x="1082.9" y="1601.3" font-size="8.9" text-anchor="end" fill="#262626">Type I diabetes mellitus</text>
<line x1="1085.3" y1="1598.1" x2="1088.3" y2="1598.1" stroke="#262626" stroke-width="0.9"/>
<rect x="1088.3" y="1615.1" width="47.7" height="17.2" fill="#7d7a9f"/>
<text x="1138.2" y="1627.9" font-size="11.2" fill="#222">7</text>
<text x="1082.9" y="1626.9" font-size="8.9" text-anchor="end" fill="#262626">Leishmaniasis</text>
<line x1="1085.3" y1="1623.7" x2="1088.3" y2="1623.7" stroke="#262626" stroke-width="0.9"/>
<rect x="1088.3" y="1640.6" width="197.5" height="17.2" fill="#ffff78"/>
<text x="1289.8" y="1653.4" font-size="11.2" fill="#222">29</text>
<text x="1082.9" y="1652.4" font-size="8.9" text-anchor="end" fill="#262626">Cytokine-cytokine receptor interaction</text>
<line x1="1085.3" y1="1649.2" x2="1088.3" y2="1649.2" stroke="#262626" stroke-width="0.9"/>
<rect x="1088.3" y="1666.1" width="74.9" height="17.2" fill="#ffff78"/>
<text x="1167.2" y="1678.9" font-size="11.2" fill="#222">11</text>
<text x="1082.9" y="1677.9" font-size="8.9" text-anchor="end" fill="#262626">Cell adhesion molecules</text>
<line x1="1085.3" y1="1674.7" x2="1088.3" y2="1674.7" stroke="#262626" stroke-width="0.9"/>
<rect x="1088.3" y="1691.6" width="109" height="17.2" fill="#6d9585"/>
<text x="1201.3" y="1704.4" font-size="11.2" fill="#222">16</text>
<text x="1082.9" y="1703.4" font-size="8.9" text-anchor="end" fill="#262626">Phagosome</text>
<line x1="1085.3" y1="1700.2" x2="1088.3" y2="1700.2" stroke="#262626" stroke-width="0.9"/>
<rect x="1088.3" y="1717.1" width="54.5" height="17.2" fill="#6d9585"/>
<text x="1145" y="1729.9" font-size="11.2" fill="#222">8</text>
<text x="1082.9" y="1728.9" font-size="8.9" text-anchor="end" fill="#262626">Apoptosis</text>
<line x1="1085.3" y1="1725.7" x2="1088.3" y2="1725.7" stroke="#262626" stroke-width="0.9"/>
<line x1="1088.3" y1="1226.7" x2="1088.3" y2="1741" stroke="#222" stroke-width="1.7"/>
<line x1="1087.7" y1="1740.4" x2="1325.5" y2="1740.4" stroke="#222" stroke-width="1.7"/>
<line x1="1088.3" y1="1740.4" x2="1088.3" y2="1743.6" stroke="#262626" stroke-width="0.9"/>
<text x="1088.3" y="1752.6" font-size="8.6" text-anchor="middle" fill="#262626">0</text>
<line x1="1156.4" y1="1740.4" x2="1156.4" y2="1743.6" stroke="#262626" stroke-width="0.9"/>
<text x="1156.4" y="1752.6" font-size="8.6" text-anchor="middle" fill="#262626">10</text>
<line x1="1224.5" y1="1740.4" x2="1224.5" y2="1743.6" stroke="#262626" stroke-width="0.9"/>
<text x="1224.5" y="1752.6" font-size="8.6" text-anchor="middle" fill="#262626">20</text>
<line x1="1292.6" y1="1740.4" x2="1292.6" y2="1743.6" stroke="#262626" stroke-width="0.9"/>
<text x="1292.6" y="1752.6" font-size="8.6" text-anchor="middle" fill="#262626">30</text>
<text x="1206.6" y="1764.6" font-size="11.4" text-anchor="middle" fill="#262626">Gene Count</text>
<text x="1206.6" y="1203.2" font-size="13.4" text-anchor="middle" fill="#222">Enriched KEGG Pathways(Significant)</text>
<text x="1206.6" y="1218" font-size="13.4" text-anchor="middle" fill="#222">(A_vs_B_up)</text>
<text x="1342.2" y="1450" font-size="11.2" fill="#222">KEGG Class</text>
<rect x="1342.7" y="1456.9" width="16.2" height="16" fill="#6d9585"/>
<text x="1364.8" y="1468.1" font-size="8.7" fill="#222">Cellular Processes</text>
<rect x="1342.7" y="1474.6" width="16.2" height="16" fill="#ffff78"/>
<text x="1364.8" y="1485.8" font-size="8.7" fill="#222">Environmental Information Processing</text>
<rect x="1342.7" y="1492.3" width="16.2" height="16" fill="#7d7a9f"/>
<text x="1364.8" y="1503.5" font-size="8.7" fill="#222">Human Diseases</text>
<rect x="1342.7" y="1510" width="16.2" height="16" fill="#c9514b"/>
<text x="1364.8" y="1521.2" font-size="8.7" fill="#222">Organismal Systems</text>
</g></g>
<g filter="url(#blh)"><g font-family='"Liberation Sans", sans-serif'>
<line x1="139.8" y1="1916.5" x2="139.8" y2="2243.1" stroke="#e6e6e6" stroke-width="0.9"/>
<line x1="139.8" y1="2336" x2="139.8" y2="2417.4" stroke="#e6e6e6" stroke-width="0.9"/>
<line x1="225.9" y1="1916.5" x2="225.9" y2="2243.1" stroke="#e6e6e6" stroke-width="0.9"/>
<line x1="225.9" y1="2336" x2="225.9" y2="2417.4" stroke="#e6e6e6" stroke-width="0.9"/>
<line x1="312.1" y1="1916.5" x2="312.1" y2="2243.1" stroke="#e6e6e6" stroke-width="0.9"/>
<line x1="312.1" y1="2336" x2="312.1" y2="2417.4" stroke="#e6e6e6" stroke-width="0.9"/>
<line x1="398.2" y1="1916.5" x2="398.2" y2="2243.1" stroke="#e6e6e6" stroke-width="0.9"/>
<line x1="398.2" y1="2336" x2="398.2" y2="2417.4" stroke="#e6e6e6" stroke-width="0.9"/>
<line x1="484.3" y1="1916.5" x2="484.3" y2="2243.1" stroke="#e6e6e6" stroke-width="0.9"/>
<line x1="484.3" y1="2336" x2="484.3" y2="2417.4" stroke="#e6e6e6" stroke-width="0.9"/>
<line x1="570.5" y1="1916.5" x2="570.5" y2="2243.1" stroke="#e6e6e6" stroke-width="0.9"/>
<line x1="570.5" y1="2336" x2="570.5" y2="2417.4" stroke="#e6e6e6" stroke-width="0.9"/>
<line x1="656.6" y1="1916.5" x2="656.6" y2="2243.1" stroke="#e6e6e6" stroke-width="0.9"/>
<line x1="656.6" y1="2336" x2="656.6" y2="2417.4" stroke="#e6e6e6" stroke-width="0.9"/>
<line x1="742.8" y1="1916.5" x2="742.8" y2="2243.1" stroke="#e6e6e6" stroke-width="0.9"/>
<line x1="742.8" y1="2336" x2="742.8" y2="2417.4" stroke="#e6e6e6" stroke-width="0.9"/>
<polyline points="54.2,2206.6 56,2206.6 59.7,2208.5 60.4,2140.3 61,2138 61.4,2076.4 62,2074 62.6,2050.7 66.8,2052.6 67.5,2032.2 68.3,2030.5 69,1992.5 76.1,1995.9 76.9,1980.2 81.8,1983.1 83,1969.9 97,1978.2 97.7,1967.9 99.5,1966.6 100.1,1958.6 101.4,1957.5 102.1,1951.2 103.1,1948.8 104.6,1931.1 139.5,1951.2 140.5,1944.6 152.7,1951.9 153.7,1945.8 161.3,1950.7 162.3,1945.8 166.2,1947.5 167.2,1942.9 221,1973.6 222,1971.1 232,1976.5 233,1973.8 241.9,1978.7 242.8,1976.3 252.2,1981.7 253.2,1979.5 264.7,1986.6 265.7,1984.4 276,1990.5 277,1988.3 361,2035.9 365.9,2037.9 380,2047.1 466.4,2096.1 468.9,2096.6 514.1,2122.4 517.9,2122.9 537.3,2134.7 543,2136 547,2135.3 557.4,2141.2 561.8,2139.9 578.5,2150 581.6,2148.9 603,2161.6 606.1,2160 654.1,2188.1 656.7,2185.5 678.3,2197.6 679.9,2194.6 684.8,2197.1 686.3,2193.8 750,2229.9 751.3,2208.7 759,2213.1 760.8,2199.2 771.9,2205.6" fill="none" stroke="#8cc8dd" stroke-width="1.9" stroke-linejoin="round"/>
<line x1="54" y1="1916.5" x2="54" y2="2243.6" stroke="#333" stroke-width="1.7"/>
<line x1="50.6" y1="2001.5" x2="54" y2="2001.5" stroke="#333" stroke-width="1"/>
<text x="48" y="2006" font-size="12.6" text-anchor="end" fill="#555">0.50</text>
<line x1="50.6" y1="2103.9" x2="54" y2="2103.9" stroke="#333" stroke-width="1"/>
<text x="48" y="2108.4" font-size="12.6" text-anchor="end" fill="#555">0.25</text>
<line x1="50.6" y1="2206.3" x2="54" y2="2206.3" stroke="#333" stroke-width="1"/>
<text x="48" y="2210.8" font-size="12.6" text-anchor="end" fill="#555">0.00</text>
<text x="15.6" y="2079" font-size="15.9" text-anchor="middle" fill="#222" transform="rotate(-90 15.6 2079)">Running Enrichment Score</text>
<text x="54" y="1904" font-size="19.5" fill="#222">A_vs_B(mmu04610)</text>
<rect x="54" y="2306.5" width="3.8" height="24.4" fill="#7c1d22"/>
<rect x="57.5" y="2306.5" width="3.8" height="24.4" fill="#8e2227"/>
<rect x="61" y="2306.5" width="3.8" height="24.4" fill="#a12b2d"/>
<rect x="64.5" y="2306.5" width="5.8" height="24.4" fill="#b23634"/>
<rect x="70" y="2306.5" width="101.3" height="24.4" fill="#c3423e"/>
<rect x="171" y="2306.5" width="110" height="24.4" fill="#df7a62"/>
<rect x="280.7" y="2306.5" width="133" height="24.4" fill="#edb49c"/>
<rect x="413.4" y="2306.5" width="170.5" height="24.4" fill="#f8e5db"/>
<rect x="583.6" y="2306.5" width="89.7" height="24.4" fill="#eef1fc"/>
<rect x="673" y="2306.5" width="53.3" height="24.4" fill="#c6d9e9"/>
<rect x="726" y="2306.5" width="33.3" height="24.4" fill="#8bb3d9"/>
<rect x="759" y="2306.5" width="8" height="24.4" fill="#5d8bc4"/>
<rect x="766.7" y="2306.5" width="6.2" height="24.4" fill="#3b61ae"/>
<path d="M54.5 2306.5V2331M59.7 2306.5V2331M60.5 2306.5V2331M61.2 2306.5V2331M62.1 2306.5V2331M66.8 2306.5V2331M68.3 2306.5V2331M76.1 2306.5V2331M82.3 2306.5V2331M97 2306.5V2331M99 2306.5V2331M100.7 2306.5V2331M102.1 2306.5V2331M103.6 2306.5V2331M140 2306.5V2331M153.2 2306.5V2331M162.1 2306.5V2331M167 2306.5V2331M221.5 2306.5V2331M232.5 2306.5V2331M242.6 2306.5V2331M252.9 2306.5V2331M265.7 2306.5V2331M276.7 2306.5V2331M363.9 2306.5V2331M384.8 2306.5V2331M414 2306.5V2331M469 2306.5V2331M516.6 2306.5V2331M538.6 2306.5V2331M543 2306.5V2331M545 2306.5V2331M547 2306.5V2331M557.4 2306.5V2331M559.2 2306.5V2331M561 2306.5V2331M580.6 2306.5V2331M604.8 2306.5V2331M655.9 2306.5V2331M679.1 2306.5V2331M686 2306.5V2331M750.5 2306.5V2331M751.3 2306.5V2331M760.3 2306.5V2331" stroke="#000" stroke-width="1.1" opacity=".13" fill="none"/>
<path d="M54.5 2248.6V2306.5M59.7 2248.6V2306.5M60.5 2248.6V2306.5M61.2 2248.6V2306.5M62.1 2248.6V2306.5M66.8 2248.6V2306.5M68.3 2248.6V2306.5M76.1 2248.6V2306.5M82.3 2248.6V2306.5M97 2248.6V2306.5M99 2248.6V2306.5M100.7 2248.6V2306.5M102.1 2248.6V2306.5M103.6 2248.6V2306.5M140 2248.6V2306.5M153.2 2248.6V2306.5M162.1 2248.6V2306.5M167 2248.6V2306.5M221.5 2248.6V2306.5M232.5 2248.6V2306.5M242.6 2248.6V2306.5M252.9 2248.6V2306.5M265.7 2248.6V2306.5M276.7 2248.6V2306.5M363.9 2248.6V2306.5M384.8 2248.6V2306.5M414 2248.6V2306.5M469 2248.6V2306.5M516.6 2248.6V2306.5M538.6 2248.6V2306.5M543 2248.6V2306.5M545 2248.6V2306.5M547 2248.6V2306.5M557.4 2248.6V2306.5M559.2 2248.6V2306.5M561 2248.6V2306.5M580.6 2248.6V2306.5M604.8 2248.6V2306.5M655.9 2248.6V2306.5M679.1 2248.6V2306.5M686 2248.6V2306.5M750.5 2248.6V2306.5M751.3 2248.6V2306.5M760.3 2248.6V2306.5" stroke="#000" stroke-width="1.1" opacity=".85" fill="none"/>
<polygon points="54,2400.7 54,2362 54.6,2381 55.5,2388.5 57,2392.5 60,2394.8 66,2396.6 80,2398 110,2399.2 160,2399.9 260,2400.4 400,2400.7 560,2401.1 660,2401.7 720,2402.6 750,2403.6 764,2405 769,2406.6 771.5,2409.5 772.4,2414.5 772.4,2400.7" fill="#c4c4c4" stroke="#cfcfcf" stroke-width=".5"/>
<line x1="54" y1="2335.6" x2="54" y2="2418" stroke="#333" stroke-width="1.7"/>
<line x1="53.4" y1="2417.4" x2="772.6" y2="2417.4" stroke="#333" stroke-width="1.7"/>
<line x1="50.6" y1="2349.8" x2="54" y2="2349.8" stroke="#333" stroke-width="1"/>
<text x="48" y="2354.3" font-size="12.6" text-anchor="end" fill="#555">20</text>
<line x1="50.6" y1="2375.4" x2="54" y2="2375.4" stroke="#333" stroke-width="1"/>
<text x="48" y="2379.9" font-size="12.6" text-anchor="end" fill="#555">10</text>
<line x1="50.6" y1="2400.7" x2="54" y2="2400.7" stroke="#333" stroke-width="1"/>
<text x="48" y="2405.2" font-size="12.6" text-anchor="end" fill="#555">0</text>
<line x1="225.9" y1="2417.4" x2="225.9" y2="2420.8" stroke="#333" stroke-width="1"/>
<text x="225.9" y="2434" font-size="12.6" text-anchor="middle" fill="#555">5000</text>
<line x1="398.2" y1="2417.4" x2="398.2" y2="2420.8" stroke="#333" stroke-width="1"/>
<text x="398.2" y="2434" font-size="12.6" text-anchor="middle" fill="#555">10000</text>
<line x1="570.5" y1="2417.4" x2="570.5" y2="2420.8" stroke="#333" stroke-width="1"/>
<text x="570.5" y="2434" font-size="12.6" text-anchor="middle" fill="#555">15000</text>
<line x1="742.8" y1="2417.4" x2="742.8" y2="2420.8" stroke="#333" stroke-width="1"/>
<text x="742.8" y="2434" font-size="12.6" text-anchor="middle" fill="#555">20000</text>
<text x="413.5" y="2451.6" font-size="16" text-anchor="middle" fill="#222">Rank in Ordered Dataset</text>
<text x="15.6" y="2375.4" font-size="15.9" text-anchor="middle" fill="#222" transform="rotate(-90 15.6 2375.4)">Ranked List Metric</text>
</g></g>
<g filter="url(#bli)"><defs><marker id="ar" viewBox="0 0 10 10" refX="9.5" refY="5" markerWidth="12.5" markerHeight="11" markerUnits="userSpaceOnUse" orient="auto-start-reverse"><path d="M0 1.2L10 5L0 8.8Z" fill="#000"/></marker><marker id="tb" viewBox="0 0 10 10" refX="5" refY="5" markerWidth="10" markerHeight="10" markerUnits="userSpaceOnUse" orient="auto"><path d="M5 0V10" stroke="#333" stroke-width="1.4"/></marker><linearGradient id="ck"><stop offset="0" stop-color="#8fb4dc"/><stop offset=".5" stop-color="#b9a6a8"/><stop offset="1" stop-color="#d4674f"/></linearGradient></defs>
<g transform='translate(820 1860) scale(0.5844)' font-family='"Liberation Serif", serif' font-size='12.2' stroke='#000' stroke-width='0'>
<rect x="22.2" y="40.4" width="1598.4" height="990" fill="#fff" stroke="#9a9a9a" stroke-width="2.2"/>
<rect x="62.5" y="85.3" width="351.2" height="27.9" fill="#fff" stroke="#222" stroke-width="2.6"/>
<text x="238" y="103.3" font-size="13.6" text-anchor="middle" fill="#111">COMPLEMENT  AND  COAGULATION  CASCADES</text>
<rect x="305.5" y="134.4" width="122.4" height="28.6" fill="#fff" stroke="#666" stroke-width="1.8" rx="3"/>
<rect x="1032.3" y="135.4" width="122.1" height="27.4" fill="#fff" stroke="#666" stroke-width="1.8" rx="3"/>
<rect x="593.3" y="472.9" width="157.3" height="37" fill="#fff" stroke="#777" stroke-width="2" rx="12"/>
<rect x="550.6" y="798.4" width="106.9" height="25.9" fill="#fff" stroke="#777" stroke-width="2" rx="12"/>
<rect x="1489.2" y="783.6" width="107" height="36.7" fill="#fff" stroke="#777" stroke-width="2" rx="12"/>
<path d="M113.6 215.7L113.6 321" stroke="#3a3a3a" stroke-width="1.9" fill="none" stroke-dasharray="7 4" marker-end="url(#ar)"/>
<path d="M113.6 339.4L113.6 473" stroke="#3a3a3a" stroke-width="1.9" fill="none" marker-end="url(#ar)"/>
<path d="M440.1 225L440.1 252" stroke="#3a3a3a" stroke-width="1.9" fill="none" stroke-dasharray="7 4" marker-end="url(#ar)"/>
<path d="M440 270.5L440 322" stroke="#3a3a3a" stroke-width="1.9" fill="none" marker-end="url(#ar)"/>
<path d="M579.2 270.5L579.2 322" stroke="#3a3a3a" stroke-width="1.9" fill="none" marker-end="url(#ar)"/>
<path d="M578.5 330L578.5 547" stroke="#3a3a3a" stroke-width="1.9" fill="none" marker-end="url(#ar)"/>
<path d="M582.5 326L637 326" stroke="#3a3a3a" stroke-width="1.9" fill="none" marker-end="url(#ar)"/>
<path d="M641.4 305L641.4 356" stroke="#3a3a3a" stroke-width="1.9" fill="none" marker-end="url(#ar)"/>
<path d="M641.4 382L641.4 419" stroke="#3a3a3a" stroke-width="1.9" fill="none" marker-end="url(#ar)"/>
<path d="M629 419L629 459.4" stroke="#3a3a3a" stroke-width="1.9" fill="none"/>
<path d="M655.5 419L655.5 459.4" stroke="#3a3a3a" stroke-width="1.9" fill="none"/>
<path d="M666.6 437.6L696.8 437.6" stroke="#3a3a3a" stroke-width="1.9" fill="none" stroke-dasharray="7 4" marker-end="url(#ar)"/>
<path d="M435.6 326L371 326" stroke="#3a3a3a" stroke-width="1.9" fill="none" marker-end="url(#ar)"/>
<path d="M366.7 304.8L366.7 356" stroke="#3a3a3a" stroke-width="1.9" fill="none" marker-end="url(#ar)"/>
<path d="M362.7 360.3L298 360.3" stroke="#3a3a3a" stroke-width="1.9" fill="none" marker-end="url(#ar)"/>
<path d="M293.9 339.4L293.9 473" stroke="#3a3a3a" stroke-width="1.9" fill="none" marker-end="url(#ar)"/>
<path d="M324.7 420.8L324.7 473" stroke="#3a3a3a" stroke-width="1.9" fill="none" marker-end="url(#ar)"/>
<path d="M242 413L283 466" stroke="#3a3a3a" stroke-width="1.9" fill="none" marker-end="url(#tb)"/>
<path d="M455 427.5L440.5 337" stroke="#3a3a3a" stroke-width="1.9" fill="none" marker-end="url(#tb)"/>
<path d="M450 427.5L371 370" stroke="#3a3a3a" stroke-width="1.9" fill="none" marker-end="url(#tb)"/>
<path d="M475 427.5L572 334" stroke="#3a3a3a" stroke-width="1.9" fill="none" marker-end="url(#tb)"/>
<path d="M103.5 483L103.5 574" stroke="#3a3a3a" stroke-width="1.9" fill="none"/>
<path d="M98 483L109 483" stroke="#3a3a3a" stroke-width="1.9" fill="none"/>
<path d="M127 582.9L170 582.9" stroke="#3a3a3a" stroke-width="1.9" fill="none"/>
<path d="M170 575L170 604" stroke="#3a3a3a" stroke-width="1.9" fill="none"/>
<path d="M127 656L170 603" stroke="#3a3a3a" stroke-width="1.9" fill="none"/>
<path d="M179 480.3L179 593.4" stroke="#3a3a3a" stroke-width="1.9" fill="none" marker-end="url(#ar)"/>
<path d="M210.4 541.8L210.4 593.4" stroke="#3a3a3a" stroke-width="1.9" fill="none" marker-end="url(#ar)"/>
<path d="M179.1 601.4L179.1 607L210.4 607L210.4 601.4" stroke="#3a3a3a" stroke-width="1.9" fill="none"/>
<path d="M194.6 607L194.6 778" stroke="#3a3a3a" stroke-width="1.9" fill="none" marker-end="url(#ar)"/>
<path d="M218.8 590L218.8 605" stroke="#3a3a3a" stroke-width="1.9" fill="none"/>
<path d="M325.7 486L325.7 667.3" stroke="#3a3a3a" stroke-width="1.9" fill="none"/>
<path d="M318 486L333 486" stroke="#3a3a3a" stroke-width="1.9" fill="none"/>
<path d="M256 671.3L316.5 671.3" stroke="#3a3a3a" stroke-width="1.9" fill="none" marker-end="url(#ar)"/>
<path d="M284.3 778L284.3 677" stroke="#3a3a3a" stroke-width="1.9" fill="none" marker-end="url(#ar)"/>
<path d="M414.5 604L334 665" stroke="#3a3a3a" stroke-width="1.9" fill="none" marker-end="url(#tb)"/>
<path d="M330 671.3L417 671.3" stroke="#3a3a3a" stroke-width="1.9" fill="none"/>
<path d="M417 663L417 680" stroke="#3a3a3a" stroke-width="1.9" fill="none"/>
<path d="M470.6 671.3L517 671.3" stroke="#3a3a3a" stroke-width="1.9" fill="none"/>
<path d="M517 656L517 692" stroke="#3a3a3a" stroke-width="1.9" fill="none"/>
<path d="M470.6 708L517 686" stroke="#3a3a3a" stroke-width="1.9" fill="none"/>
<path d="M329.7 676.3L407 821" stroke="#3a3a3a" stroke-width="1.9" fill="none" marker-end="url(#ar)"/>
<path d="M149 782.3L276 782.3" stroke="#3a3a3a" stroke-width="1.9" fill="none" marker-end="url(#ar)"/>
<path d="M174 878L266 791" stroke="#3a3a3a" stroke-width="1.9" fill="none" marker-end="url(#tb)"/>
<path d="M318 792.4L407 824.3" stroke="#3a3a3a" stroke-width="1.9" fill="none" marker-end="url(#ar)"/>
<path d="M316 799L407 858" stroke="#3a3a3a" stroke-width="1.9" fill="none" marker-end="url(#ar)"/>
<path d="M303 816L368 908" stroke="#3a3a3a" stroke-width="1.9" fill="none" marker-end="url(#ar)"/>
<path d="M284.3 817L284.3 957" stroke="#3a3a3a" stroke-width="1.9" fill="none" marker-end="url(#ar)"/>
<path d="M227 962.1L365 962.1" stroke="#3a3a3a" stroke-width="1.9" fill="none" marker-end="url(#ar)"/>
<path d="M343 912.3L398.5 912.3" stroke="#3a3a3a" stroke-width="1.9" fill="none" marker-end="url(#ar)"/>
<path d="M405.3 916L405.3 957" stroke="#3a3a3a" stroke-width="1.9" fill="none" marker-end="url(#ar)"/>
<path d="M378 962L568 962" stroke="#3a3a3a" stroke-width="1.9" fill="none" stroke-dasharray="7 4" marker-end="url(#ar)"/>
<path d="M634 962L755 962" stroke="#3a3a3a" stroke-width="1.9" fill="none" stroke-dasharray="7 4" marker-end="url(#ar)"/>
<path d="M417.8 807.5L417.8 879.7" stroke="#3a3a3a" stroke-width="1.9" fill="none"/>
<path d="M448.4 807.5L448.4 879.7" stroke="#3a3a3a" stroke-width="1.9" fill="none"/>
<path d="M459 843.4L496 843.4" stroke="#3a3a3a" stroke-width="1.9" fill="none" stroke-dasharray="7 4" marker-end="url(#ar)"/>
<path d="M290 780.2L1045 780.2" stroke="#3a3a3a" stroke-width="1.9" fill="none" marker-end="url(#ar)"/>
<path d="M290 785.8L1045 785.8" stroke="#3a3a3a" stroke-width="1.9" fill="none" marker-end="url(#ar)"/>
<path d="M545 553L729 553" stroke="#3a3a3a" stroke-width="1.9" fill="none" marker-end="url(#ar)"/>
<path d="M568.4 683L609 683" stroke="#3a3a3a" stroke-width="1.9" fill="none" marker-end="url(#ar)"/>
<path d="M621.2 661.3L621.2 705" stroke="#3a3a3a" stroke-width="1.9" fill="none"/>
<path d="M648.1 661.3L648.1 705" stroke="#3a3a3a" stroke-width="1.9" fill="none"/>
<path d="M732.2 559L732.2 957" stroke="#3a3a3a" stroke-width="1.9" fill="none" marker-end="url(#ar)"/>
<path d="M740.5 553L1046 553" stroke="#3a3a3a" stroke-width="1.9" fill="none" marker-end="url(#ar)"/>
<path d="M631 912.3L728.8 912.3" stroke="#3a3a3a" stroke-width="1.9" fill="none"/>
<path d="M728.8 904L728.8 921" stroke="#3a3a3a" stroke-width="1.9" fill="none"/>
<path d="M853.8 224L853.8 347" stroke="#3a3a3a" stroke-width="1.9" fill="none" stroke-dasharray="7 4" marker-end="url(#ar)"/>
<path d="M877 355L932 355" stroke="#3a3a3a" stroke-width="1.9" fill="none" marker-end="url(#ar)"/>
<path d="M996 355L942 355" stroke="#3a3a3a" stroke-width="1.9" fill="none" marker-end="url(#ar)"/>
<path d="M936.9 253L936.9 574" stroke="#3a3a3a" stroke-width="1.9" fill="none" marker-end="url(#ar)"/>
<path d="M936.9 428L917.5 434.2" stroke="#3a3a3a" stroke-width="1.9" fill="none" marker-end="url(#ar)"/>
<path d="M936.9 428L957 434.2" stroke="#3a3a3a" stroke-width="1.9" fill="none" marker-end="url(#ar)"/>
<path d="M1018.5 214L1018.5 338" stroke="#3a3a3a" stroke-width="1.9" fill="none" stroke-dasharray="7 4" marker-end="url(#ar)"/>
<path d="M1015.7 423L878 367" stroke="#3a3a3a" stroke-width="1.9" fill="none" marker-end="url(#tb)"/>
<path d="M1036 419L1022.5 377" stroke="#3a3a3a" stroke-width="1.9" fill="none" marker-end="url(#tb)"/>
<path d="M941.2 578.2L1046.4 578.2" stroke="#3a3a3a" stroke-width="1.9" fill="none" marker-end="url(#ar)"/>
<path d="M880.7 647L880.7 729" stroke="#3a3a3a" stroke-width="1.9" fill="none" marker-end="url(#ar)"/>
<path d="M856 688.8L876 688.8" stroke="#3a3a3a" stroke-width="1.9" fill="none" marker-end="url(#ar)"/>
<path d="M937.2 582.5L937.2 738" stroke="#3a3a3a" stroke-width="1.9" fill="none" stroke-dasharray="7 4" marker-end="url(#ar)"/>
<path d="M937.2 676L1047 676" stroke="#3a3a3a" stroke-width="1.9" fill="none" stroke-dasharray="7 4"/>
<path d="M941.2 744.3L1046.4 744.3" stroke="#3a3a3a" stroke-width="1.9" fill="none" marker-end="url(#ar)"/>
<path d="M1052.5 537.5L1052.5 671" stroke="#3a3a3a" stroke-width="1.9" fill="none" marker-end="url(#ar)"/>
<path d="M1052.5 734.5L1052.5 849" stroke="#3a3a3a" stroke-width="1.9" fill="none" marker-end="url(#ar)"/>
<path d="M1052.5 875L1052.5 950" stroke="#3a3a3a" stroke-width="1.9" fill="none" stroke-dasharray="7 4" marker-end="url(#ar)"/>
<path d="M1002.5 962.1L1023 962.1" stroke="#3a3a3a" stroke-width="1.9" fill="none"/>
<path d="M1023 954L1023 970" stroke="#3a3a3a" stroke-width="1.9" fill="none"/>
<path d="M1076 962L1115 962" stroke="#3a3a3a" stroke-width="1.9" fill="none" stroke-dasharray="7 4" marker-end="url(#ar)"/>
<path d="M1081 636.1L1393 636.1" stroke="#3a3a3a" stroke-width="1.9" fill="none" marker-end="url(#ar)"/>
<path d="M1237 213.8L1237 252" stroke="#3a3a3a" stroke-width="1.9" fill="none" stroke-dasharray="7 4" marker-end="url(#ar)"/>
<path d="M1237 270.5L1237 309" stroke="#3a3a3a" stroke-width="1.9" fill="none" stroke-dasharray="7 4" marker-end="url(#ar)"/>
<path d="M1237 318.5L1237 406" stroke="#3a3a3a" stroke-width="1.9" fill="none" marker-end="url(#ar)"/>
<path d="M1270 360.3L1242 360.3" stroke="#3a3a3a" stroke-width="1.9" fill="none" marker-end="url(#ar)"/>
<path d="M1233 410.9L1171 410.9" stroke="#3a3a3a" stroke-width="1.9" fill="none" marker-end="url(#ar)"/>
<path d="M1166.6 394.5L1166.6 483" stroke="#3a3a3a" stroke-width="1.9" fill="none" marker-end="url(#ar)"/>
<path d="M1166.6 492L1166.6 574" stroke="#3a3a3a" stroke-width="1.9" fill="none" marker-end="url(#ar)"/>
<path d="M1200 536.6L1171 536.6" stroke="#3a3a3a" stroke-width="1.9" fill="none" marker-end="url(#ar)"/>
<path d="M1162.5 578.6L1058 578.6" stroke="#3a3a3a" stroke-width="1.9" fill="none" marker-end="url(#ar)"/>
<path d="M1171 578.6L1294.6 578.6" stroke="#3a3a3a" stroke-width="1.9" fill="none" stroke-dasharray="7 4"/>
<path d="M1337 553.5L1322 588" stroke="#3a3a3a" stroke-width="1.9" fill="none" marker-end="url(#tb)"/>
<path d="M1057 669.6L1162 669.6L1162 614.5" stroke="#3a3a3a" stroke-width="1.9" fill="none" stroke-dasharray="7 4" marker-end="url(#ar)"/>
<path d="M1057 675.5L1167.3 675.5" stroke="#3a3a3a" stroke-width="1.9" fill="none" stroke-dasharray="7 4"/>
<path d="M1166.6 612L1166.6 738" stroke="#3a3a3a" stroke-width="1.9" fill="none" stroke-dasharray="7 4" marker-end="url(#ar)"/>
<path d="M1162.5 743.5L1058 743.5" stroke="#3a3a3a" stroke-width="1.9" fill="none" marker-end="url(#ar)"/>
<path d="M1294.6 686.5L1294.6 775" stroke="#3a3a3a" stroke-width="1.9" fill="none" marker-end="url(#ar)"/>
<path d="M1294.6 784L1294.6 872" stroke="#3a3a3a" stroke-width="1.9" fill="none" marker-end="url(#ar)"/>
<path d="M1294.6 881L1294.6 932" stroke="#3a3a3a" stroke-width="1.9" fill="none" marker-end="url(#ar)"/>
<path d="M1269 723.6L1290 723.6" stroke="#3a3a3a" stroke-width="1.9" fill="none" marker-end="url(#ar)"/>
<path d="M1269 820.2L1290 820.2" stroke="#3a3a3a" stroke-width="1.9" fill="none" marker-end="url(#ar)"/>
<path d="M1269 908.5L1290 908.5" stroke="#3a3a3a" stroke-width="1.9" fill="none" marker-end="url(#ar)"/>
<path d="M1298.6 682.5L1393 683.5" stroke="#3a3a3a" stroke-width="1.9" fill="none" marker-end="url(#ar)"/>
<path d="M1298.6 683.5L1393 731" stroke="#3a3a3a" stroke-width="1.9" fill="none" marker-end="url(#ar)"/>
<path d="M1298.6 684.5L1393 777" stroke="#3a3a3a" stroke-width="1.9" fill="none" marker-end="url(#ar)"/>
<path d="M1298.6 779L1393 687" stroke="#3a3a3a" stroke-width="1.9" fill="none" marker-end="url(#ar)"/>
<path d="M1298.6 779.5L1393 735" stroke="#3a3a3a" stroke-width="1.9" fill="none" marker-end="url(#ar)"/>
<path d="M1298.6 780.1L1393 780.8" stroke="#3a3a3a" stroke-width="1.9" fill="none" marker-end="url(#ar)"/>
<path d="M1298.6 781L1393 828" stroke="#3a3a3a" stroke-width="1.9" fill="none" marker-end="url(#ar)"/>
<path d="M1298.6 782L1393 877" stroke="#3a3a3a" stroke-width="1.9" fill="none" marker-end="url(#ar)"/>
<path d="M1298.6 934L1393 786" stroke="#3a3a3a" stroke-width="1.9" fill="none" marker-end="url(#ar)"/>
<path d="M1407.9 611L1407.9 984.2" stroke="#4a4a4a" stroke-width="2.2" fill="none"/>
<path d="M1434.8 611L1434.8 984.2" stroke="#4a4a4a" stroke-width="2.2" fill="none"/>
<path d="M1444 637.2L1482 637.2" stroke="#3a3a3a" stroke-width="1.9" fill="none" stroke-dasharray="7 4" marker-end="url(#ar)"/>
<path d="M1444 683.5L1482 704" stroke="#3a3a3a" stroke-width="1.9" fill="none" stroke-dasharray="7 4" marker-end="url(#ar)"/>
<path d="M1444 732.4L1482 710" stroke="#3a3a3a" stroke-width="1.9" fill="none" stroke-dasharray="7 4" marker-end="url(#ar)"/>
<path d="M1444 780.8L1482 780.8" stroke="#3a3a3a" stroke-width="1.9" fill="none" stroke-dasharray="7 4" marker-end="url(#ar)"/>
<path d="M1444 830L1482 852" stroke="#3a3a3a" stroke-width="1.9" fill="none" stroke-dasharray="7 4" marker-end="url(#ar)"/>
<path d="M1444 879.5L1482 858" stroke="#3a3a3a" stroke-width="1.9" fill="none" stroke-dasharray="7 4" marker-end="url(#ar)"/>
<path d="M1444 955.2L1482 955.2" stroke="#3a3a3a" stroke-width="1.9" fill="none" stroke-dasharray="7 4" marker-end="url(#ar)"/>
<path d="M444 296.4H488C510 296.4 510 326 532 326H574" stroke="#3a3a3a" stroke-width="1.9" fill="none" marker-start="url(#ar)"/>
<path d="M443.6 326H488C510 326 510 296.4 532 296.4H574" stroke="#3a3a3a" stroke-width="1.9" fill="none" marker-end="url(#ar)"/>
<path d="M386.9 776V452Q386.9 441.9 377 441.9H330" stroke="#3a3a3a" stroke-width="1.9" fill="none" marker-end="url(#ar)"/>
<path d="M386.9 573Q386.9 563.1 377 563.1H215.4" stroke="#3a3a3a" stroke-width="1.9" fill="none" marker-end="url(#ar)"/>
<path d="M386.9 770Q386.9 780.2 377 780.2" stroke="#3a3a3a" stroke-width="1.9" fill="none"/>
<path d="M113.6 481.3V494Q113.6 502.5 122 502.5H173.4" stroke="#3a3a3a" stroke-width="1.9" fill="none" marker-end="url(#ar)"/>
<path d="M137.6 520Q140 504 152 502.5" stroke="#3a3a3a" stroke-width="1.9" fill="none"/>
<path d="M293.4 481.3Q293.4 488 300 488H318Q309 488 309 495Q309 502.5 300 502.5H184.2" stroke="#3a3a3a" stroke-width="1.9" fill="none" marker-end="url(#ar)"/>
<path d="M218.8 597.4H317Q325.7 597.4 325.7 606" stroke="#3a3a3a" stroke-width="1.9" fill="none"/>
<path d="M313 642.8Q325.7 640 325.7 628" stroke="#3a3a3a" stroke-width="1.9" fill="none"/>
<path d="M272.6 735Q284.3 733 284.3 722" stroke="#3a3a3a" stroke-width="1.9" fill="none"/>
<path d="M316 809L395 878Q410 891.5 425 891.5H574" stroke="#3a3a3a" stroke-width="1.9" fill="none" marker-end="url(#ar)"/>
<path d="M568.4 662Q577.5 660 577.5 650V559" stroke="#3a3a3a" stroke-width="1.9" fill="none" marker-end="url(#ar)"/>
<path d="M658 681H678Q686.1 681 686.1 689V706.6" stroke="#3a3a3a" stroke-width="1.9" fill="none" stroke-dasharray="7 4" marker-end="url(#ar)"/>
<path d="M739.5 559V772Q739.5 780.2 748 780.2" stroke="#3a3a3a" stroke-width="1.9" fill="none"/>
<path d="M782.6 785.8V566Q782.6 558.4 790 558.4H1046" stroke="#3a3a3a" stroke-width="1.9" fill="none" marker-end="url(#ar)"/>
<path d="M933 578.2H890Q880.7 578.2 880.7 588V636" stroke="#3a3a3a" stroke-width="1.9" fill="none" stroke-dasharray="7 4" marker-end="url(#ar)"/>
<path d="M1052.5 622Q1054 634 1072 636" stroke="#3a3a3a" stroke-width="1.9" fill="none" marker-end="url(#ar)"/>
<path d="M1052.5 805Q1054 817 1072 819" stroke="#3a3a3a" stroke-width="1.9" fill="none" marker-end="url(#ar)"/>
<path d="M1069 888Q1054 890 1052.5 902" stroke="#3a3a3a" stroke-width="1.9" fill="none"/>
<path d="M1081 819.2H1198Q1207 819.2 1207 828V946Q1207 955.2 1216 955.2H1393" stroke="#3a3a3a" stroke-width="1.9" fill="none" marker-end="url(#ar)"/>
<path d="M1256 332.4Q1239 334 1237 348" stroke="#3a3a3a" stroke-width="1.9" fill="none"/>
<path d="M1184 509.2Q1168 511 1166.6 524" stroke="#3a3a3a" stroke-width="1.9" fill="none"/>
<path d="M1166.6 444Q1168 456 1186 458" stroke="#3a3a3a" stroke-width="1.9" fill="none" marker-end="url(#ar)"/>
<path d="M1171 487.6H1285Q1294.6 487.6 1294.6 497V677" stroke="#3a3a3a" stroke-width="1.9" fill="none" stroke-dasharray="7 4" marker-end="url(#ar)"/>
<path d="M1294.6 745Q1293 757 1274 759.5" stroke="#3a3a3a" stroke-width="1.9" fill="none" marker-end="url(#ar)"/>
<path d="M1294.6 838Q1293 850 1274 851.5" stroke="#3a3a3a" stroke-width="1.9" fill="none" marker-end="url(#ar)"/>
<path d="M624 884H628V941H624" stroke="#3a3a3a" stroke-width="1.9" fill="none"/>
<circle cx="439.6" cy="326" r="4" fill="#fff" stroke="#222" stroke-width="1.5"/>
<circle cx="366.7" cy="360.3" r="4" fill="#fff" stroke="#222" stroke-width="1.5"/>
<circle cx="293.4" cy="477.3" r="4" fill="#fff" stroke="#222" stroke-width="1.5"/>
<circle cx="324.7" cy="477.3" r="4" fill="#fff" stroke="#222" stroke-width="1.5"/>
<circle cx="113.6" cy="477.3" r="4" fill="#fff" stroke="#222" stroke-width="1.5"/>
<circle cx="179.1" cy="597.4" r="4" fill="#fff" stroke="#222" stroke-width="1.5"/>
<circle cx="210.4" cy="597.4" r="4" fill="#fff" stroke="#222" stroke-width="1.5"/>
<circle cx="325.7" cy="671.3" r="4" fill="#fff" stroke="#222" stroke-width="1.5"/>
<circle cx="284.3" cy="782.3" r="4" fill="#fff" stroke="#222" stroke-width="1.5"/>
<circle cx="405.3" cy="911.7" r="4" fill="#fff" stroke="#222" stroke-width="1.5"/>
<circle cx="372.7" cy="961.1" r="4" fill="#fff" stroke="#222" stroke-width="1.5"/>
<circle cx="578.5" cy="326" r="4" fill="#fff" stroke="#222" stroke-width="1.5"/>
<circle cx="641.4" cy="360.3" r="4" fill="#fff" stroke="#222" stroke-width="1.5"/>
<circle cx="736.5" cy="553" r="4" fill="#fff" stroke="#222" stroke-width="1.5"/>
<circle cx="912.6" cy="434.2" r="4" fill="#fff" stroke="#222" stroke-width="1.5"/>
<circle cx="961.7" cy="434.2" r="4" fill="#fff" stroke="#222" stroke-width="1.5"/>
<circle cx="937.2" cy="578.2" r="4" fill="#fff" stroke="#222" stroke-width="1.5"/>
<circle cx="880.7" cy="642.8" r="4" fill="#fff" stroke="#222" stroke-width="1.5"/>
<circle cx="876.2" cy="735.2" r="4" fill="#fff" stroke="#222" stroke-width="1.5"/>
<circle cx="887.9" cy="735.2" r="4" fill="#fff" stroke="#222" stroke-width="1.5"/>
<circle cx="937.2" cy="744.3" r="4" fill="#fff" stroke="#222" stroke-width="1.5"/>
<circle cx="1052.5" cy="676.4" r="4" fill="#fff" stroke="#222" stroke-width="1.5"/>
<circle cx="1052.5" cy="854.5" r="4" fill="#fff" stroke="#222" stroke-width="1.5"/>
<circle cx="1076.6" cy="636.1" r="4" fill="#fff" stroke="#222" stroke-width="1.5"/>
<circle cx="1076.6" cy="819.2" r="4" fill="#fff" stroke="#222" stroke-width="1.5"/>
<circle cx="1237" cy="314.3" r="4" fill="#fff" stroke="#222" stroke-width="1.5"/>
<circle cx="1237" cy="410.9" r="4" fill="#fff" stroke="#222" stroke-width="1.5"/>
<circle cx="1190.6" cy="458" r="4" fill="#fff" stroke="#222" stroke-width="1.5"/>
<circle cx="1166.6" cy="487.6" r="4" fill="#fff" stroke="#222" stroke-width="1.5"/>
<circle cx="1166.6" cy="578.6" r="4" fill="#fff" stroke="#222" stroke-width="1.5"/>
<circle cx="1166.6" cy="743.5" r="4" fill="#fff" stroke="#222" stroke-width="1.5"/>
<circle cx="1294.6" cy="682.5" r="4" fill="#fff" stroke="#222" stroke-width="1.5"/>
<circle cx="1294.6" cy="780.1" r="4" fill="#fff" stroke="#222" stroke-width="1.5"/>
<circle cx="1269.1" cy="760.3" r="4" fill="#fff" stroke="#222" stroke-width="1.5"/>
<circle cx="1269.1" cy="852.3" r="4" fill="#fff" stroke="#222" stroke-width="1.5"/>
<circle cx="1294.6" cy="876.7" r="4" fill="#fff" stroke="#222" stroke-width="1.5"/>
<circle cx="1264.9" cy="908.5" r="4" fill="#fff" stroke="#222" stroke-width="1.5"/>
<circle cx="1294.6" cy="936.4" r="4" fill="#fff" stroke="#222" stroke-width="1.5"/>
<rect x="89.7" y="321.2" width="47" height="18" fill="#bfffbf" stroke="#3c4a3c" stroke-width="1.5"/>
<rect x="416.6" y="252.3" width="47" height="18" fill="#bfffbf" stroke="#3c4a3c" stroke-width="1.5"/>
<rect x="343.2" y="286.6" width="47" height="18" fill="#bfffbf" stroke="#3c4a3c" stroke-width="1.5"/>
<rect x="555.7" y="252.8" width="47" height="18" fill="#bfffbf" stroke="#3c4a3c" stroke-width="1.5"/>
<rect x="616.9" y="287.4" width="47" height="18" fill="#bfffbf" stroke="#3c4a3c" stroke-width="1.5"/>
<rect x="302.3" y="385.4" width="47" height="18" fill="#bfffbf" stroke="#3c4a3c" stroke-width="1.5"/>
<rect x="218.3" y="394.8" width="47" height="18" fill="#bfffbf" stroke="#3c4a3c" stroke-width="1.5"/>
<rect x="441.2" y="427.8" width="47" height="18" fill="#bfffbf" stroke="#3c4a3c" stroke-width="1.5"/>
<rect x="155.5" y="462" width="47" height="18" fill="#bfffbf" stroke="#3c4a3c" stroke-width="1.5"/>
<rect x="114.1" y="520.2" width="47" height="18" fill="#bfffbf" stroke="#3c4a3c" stroke-width="1.5"/>
<rect x="80" y="652.2" width="47" height="18" fill="#bfffbf" stroke="#3c4a3c" stroke-width="1.5"/>
<rect x="209.4" y="664" width="47" height="18" fill="#bfffbf" stroke="#3c4a3c" stroke-width="1.5"/>
<rect x="414.5" y="593.4" width="47" height="18" fill="#bfffbf" stroke="#3c4a3c" stroke-width="1.5"/>
<rect x="224.9" y="715.1" width="47" height="18" fill="#bfffbf" stroke="#3c4a3c" stroke-width="1.5"/>
<rect x="224.9" y="735.6" width="47" height="18" fill="#bfffbf" stroke="#3c4a3c" stroke-width="1.5"/>
<rect x="423.9" y="712.8" width="47" height="18" fill="#bfffbf" stroke="#3c4a3c" stroke-width="1.5"/>
<rect x="611.2" y="674.8" width="47" height="18" fill="#bfffbf" stroke="#3c4a3c" stroke-width="1.5"/>
<rect x="409.4" y="819.6" width="47" height="18" fill="#bfffbf" stroke="#3c4a3c" stroke-width="1.5"/>
<rect x="409.4" y="850.6" width="47" height="18" fill="#bfffbf" stroke="#3c4a3c" stroke-width="1.5"/>
<rect x="296.1" y="903.3" width="47" height="18" fill="#bfffbf" stroke="#3c4a3c" stroke-width="1.5"/>
<rect x="179.5" y="953.1" width="47" height="18" fill="#bfffbf" stroke="#3c4a3c" stroke-width="1.5"/>
<rect x="577.5" y="882.5" width="47" height="18" fill="#bfffbf" stroke="#3c4a3c" stroke-width="1.5"/>
<rect x="887.8" y="252.8" width="47" height="18" fill="#bfffbf" stroke="#3c4a3c" stroke-width="1.5"/>
<rect x="938.2" y="252.8" width="47" height="18" fill="#bfffbf" stroke="#3c4a3c" stroke-width="1.5"/>
<rect x="996" y="337.8" width="47" height="18" fill="#bfffbf" stroke="#3c4a3c" stroke-width="1.5"/>
<rect x="1015.2" y="418.5" width="47" height="18" fill="#bfffbf" stroke="#3c4a3c" stroke-width="1.5"/>
<rect x="1214.2" y="252.6" width="47" height="18" fill="#bfffbf" stroke="#3c4a3c" stroke-width="1.5"/>
<rect x="1270.4" y="351.3" width="47" height="18" fill="#bfffbf" stroke="#3c4a3c" stroke-width="1.5"/>
<rect x="1143.1" y="376.8" width="47" height="18" fill="#bfffbf" stroke="#3c4a3c" stroke-width="1.5"/>
<rect x="1199.6" y="527.6" width="47" height="18" fill="#bfffbf" stroke="#3c4a3c" stroke-width="1.5"/>
<rect x="1313.5" y="536" width="47" height="18" fill="#bfffbf" stroke="#3c4a3c" stroke-width="1.5"/>
<rect x="1243.9" y="593.3" width="47" height="18" fill="#bfffbf" stroke="#3c4a3c" stroke-width="1.5"/>
<rect x="1297.2" y="593.3" width="47" height="18" fill="#bfffbf" stroke="#3c4a3c" stroke-width="1.5"/>
<rect x="1029" y="520" width="47" height="18" fill="#bfffbf" stroke="#3c4a3c" stroke-width="1.5"/>
<rect x="1029" y="717" width="47" height="18" fill="#bfffbf" stroke="#3c4a3c" stroke-width="1.5"/>
<rect x="809.5" y="671.7" width="47" height="18" fill="#bfffbf" stroke="#3c4a3c" stroke-width="1.5"/>
<rect x="1222.2" y="705.9" width="47" height="18" fill="#bfffbf" stroke="#3c4a3c" stroke-width="1.5"/>
<rect x="1222.2" y="724.1" width="47" height="18" fill="#bfffbf" stroke="#3c4a3c" stroke-width="1.5"/>
<rect x="1222.2" y="803.2" width="47" height="18" fill="#bfffbf" stroke="#3c4a3c" stroke-width="1.5"/>
<rect x="1222.2" y="821" width="47" height="18" fill="#bfffbf" stroke="#3c4a3c" stroke-width="1.5"/>
<rect x="1396.6" y="628.2" width="47" height="18" fill="#bfffbf" stroke="#3c4a3c" stroke-width="1.5"/>
<rect x="1396.6" y="674.5" width="47" height="18" fill="#bfffbf" stroke="#3c4a3c" stroke-width="1.5"/>
<rect x="1396.6" y="723.4" width="47" height="18" fill="#bfffbf" stroke="#3c4a3c" stroke-width="1.5"/>
<rect x="1396.6" y="771.8" width="47" height="18" fill="#bfffbf" stroke="#3c4a3c" stroke-width="1.5"/>
<rect x="1396.6" y="821" width="47" height="18" fill="#bfffbf" stroke="#3c4a3c" stroke-width="1.5"/>
<rect x="1396.6" y="870.5" width="47" height="18" fill="#bfffbf" stroke="#3c4a3c" stroke-width="1.5"/>
<rect x="1396.6" y="946.2" width="47" height="18" fill="#bfffbf" stroke="#3c4a3c" stroke-width="1.5"/>
<rect x="270.4" y="321.2" width="4.1" height="18" fill="#a3c2df"/>
<rect x="274.3" y="321.2" width="4.1" height="18" fill="#a3c2df"/>
<rect x="278.2" y="321.2" width="4.1" height="18" fill="#a3c2df"/>
<rect x="282.1" y="321.2" width="4.1" height="18" fill="#b4a4a8"/>
<rect x="286.1" y="321.2" width="4.1" height="18" fill="#a3c2df"/>
<rect x="290" y="321.2" width="4.1" height="18" fill="#a3c2df"/>
<rect x="293.9" y="321.2" width="4.1" height="18" fill="#b4a4a8"/>
<rect x="297.8" y="321.2" width="4.1" height="18" fill="#a3c2df"/>
<rect x="301.7" y="321.2" width="4.1" height="18" fill="#cd654e"/>
<rect x="305.6" y="321.2" width="4.1" height="18" fill="#b4a4a8"/>
<rect x="309.6" y="321.2" width="4.1" height="18" fill="#cd654e"/>
<rect x="313.5" y="321.2" width="4.1" height="18" fill="#b4a4a8"/>
<rect x="270.4" y="321.2" width="47" height="18" fill="none" stroke="#3f3f4a" stroke-width="1.5"/>
<rect x="302.3" y="403" width="4.1" height="18" fill="#cd654e"/>
<rect x="306.2" y="403" width="4.1" height="18" fill="#cd654e"/>
<rect x="310.1" y="403" width="4.1" height="18" fill="#b4a4a8"/>
<rect x="314.1" y="403" width="4.1" height="18" fill="#cd654e"/>
<rect x="318" y="403" width="4.1" height="18" fill="#cd654e"/>
<rect x="321.9" y="403" width="4.1" height="18" fill="#cd654e"/>
<rect x="325.8" y="403" width="4.1" height="18" fill="#a3c2df"/>
<rect x="329.7" y="403" width="4.1" height="18" fill="#b4a4a8"/>
<rect x="333.6" y="403" width="4.1" height="18" fill="#a3c2df"/>
<rect x="337.6" y="403" width="4.1" height="18" fill="#cd654e"/>
<rect x="341.5" y="403" width="4.1" height="18" fill="#cd654e"/>
<rect x="345.4" y="403" width="4.1" height="18" fill="#cd654e"/>
<rect x="302.3" y="403" width="47" height="18" fill="none" stroke="#3f3f4a" stroke-width="1.5"/>
<rect x="187.2" y="523.5" width="4.1" height="18" fill="#a3c2df"/>
<rect x="191.1" y="523.5" width="4.1" height="18" fill="#b4a4a8"/>
<rect x="195" y="523.5" width="4.1" height="18" fill="#cd654e"/>
<rect x="198.9" y="523.5" width="4.1" height="18" fill="#cd654e"/>
<rect x="202.9" y="523.5" width="4.1" height="18" fill="#b4a4a8"/>
<rect x="206.8" y="523.5" width="4.1" height="18" fill="#a3c2df"/>
<rect x="210.7" y="523.5" width="4.1" height="18" fill="#a3c2df"/>
<rect x="214.6" y="523.5" width="4.1" height="18" fill="#cd654e"/>
<rect x="218.5" y="523.5" width="4.1" height="18" fill="#a3c2df"/>
<rect x="222.4" y="523.5" width="4.1" height="18" fill="#b4a4a8"/>
<rect x="226.4" y="523.5" width="4.1" height="18" fill="#a3c2df"/>
<rect x="230.3" y="523.5" width="4.1" height="18" fill="#a3c2df"/>
<rect x="187.2" y="523.5" width="47" height="18" fill="none" stroke="#3f3f4a" stroke-width="1.5"/>
<rect x="80" y="573.9" width="4.1" height="18" fill="#a3c2df"/>
<rect x="83.9" y="573.9" width="4.1" height="18" fill="#a3c2df"/>
<rect x="87.8" y="573.9" width="4.1" height="18" fill="#b4a4a8"/>
<rect x="91.8" y="573.9" width="4.1" height="18" fill="#cd654e"/>
<rect x="95.7" y="573.9" width="4.1" height="18" fill="#b4a4a8"/>
<rect x="99.6" y="573.9" width="4.1" height="18" fill="#cd654e"/>
<rect x="103.5" y="573.9" width="4.1" height="18" fill="#cd654e"/>
<rect x="107.4" y="573.9" width="4.1" height="18" fill="#b4a4a8"/>
<rect x="111.3" y="573.9" width="4.1" height="18" fill="#b4a4a8"/>
<rect x="115.2" y="573.9" width="4.1" height="18" fill="#a3c2df"/>
<rect x="119.2" y="573.9" width="4.1" height="18" fill="#b4a4a8"/>
<rect x="123.1" y="573.9" width="4.1" height="18" fill="#a3c2df"/>
<rect x="80" y="573.9" width="47" height="18" fill="none" stroke="#3f3f4a" stroke-width="1.5"/>
<rect x="266.5" y="633.8" width="4.1" height="18" fill="#a3c2df"/>
<rect x="270.4" y="633.8" width="4.1" height="18" fill="#a3c2df"/>
<rect x="274.3" y="633.8" width="4.1" height="18" fill="#a3c2df"/>
<rect x="278.2" y="633.8" width="4.1" height="18" fill="#a3c2df"/>
<rect x="282.2" y="633.8" width="4.1" height="18" fill="#a3c2df"/>
<rect x="286.1" y="633.8" width="4.1" height="18" fill="#a3c2df"/>
<rect x="290" y="633.8" width="4.1" height="18" fill="#b4a4a8"/>
<rect x="293.9" y="633.8" width="4.1" height="18" fill="#cd654e"/>
<rect x="297.8" y="633.8" width="4.1" height="18" fill="#a3c2df"/>
<rect x="301.8" y="633.8" width="4.1" height="18" fill="#b4a4a8"/>
<rect x="305.7" y="633.8" width="4.1" height="18" fill="#a3c2df"/>
<rect x="309.6" y="633.8" width="4.1" height="18" fill="#a3c2df"/>
<rect x="266.5" y="633.8" width="47" height="18" fill="none" stroke="#3f3f4a" stroke-width="1.5"/>
<rect x="101.8" y="774.3" width="4.1" height="18" fill="#cd654e"/>
<rect x="105.7" y="774.3" width="4.1" height="18" fill="#cd654e"/>
<rect x="109.6" y="774.3" width="4.1" height="18" fill="#a3c2df"/>
<rect x="113.5" y="774.3" width="4.1" height="18" fill="#b4a4a8"/>
<rect x="117.5" y="774.3" width="4.1" height="18" fill="#a3c2df"/>
<rect x="121.4" y="774.3" width="4.1" height="18" fill="#a3c2df"/>
<rect x="125.3" y="774.3" width="4.1" height="18" fill="#a3c2df"/>
<rect x="129.2" y="774.3" width="4.1" height="18" fill="#b4a4a8"/>
<rect x="133.1" y="774.3" width="4.1" height="18" fill="#a3c2df"/>
<rect x="137.1" y="774.3" width="4.1" height="18" fill="#cd654e"/>
<rect x="141" y="774.3" width="4.1" height="18" fill="#cd654e"/>
<rect x="144.9" y="774.3" width="4.1" height="18" fill="#a3c2df"/>
<rect x="101.8" y="774.3" width="47" height="18" fill="none" stroke="#3f3f4a" stroke-width="1.5"/>
<rect x="127.1" y="859" width="4.1" height="18" fill="#b4a4a8"/>
<rect x="131" y="859" width="4.1" height="18" fill="#b4a4a8"/>
<rect x="134.9" y="859" width="4.1" height="18" fill="#a3c2df"/>
<rect x="138.8" y="859" width="4.1" height="18" fill="#b4a4a8"/>
<rect x="142.8" y="859" width="4.1" height="18" fill="#b4a4a8"/>
<rect x="146.7" y="859" width="4.1" height="18" fill="#cd654e"/>
<rect x="150.6" y="859" width="4.1" height="18" fill="#cd654e"/>
<rect x="154.5" y="859" width="4.1" height="18" fill="#cd654e"/>
<rect x="158.4" y="859" width="4.1" height="18" fill="#b4a4a8"/>
<rect x="162.3" y="859" width="4.1" height="18" fill="#b4a4a8"/>
<rect x="166.3" y="859" width="4.1" height="18" fill="#b4a4a8"/>
<rect x="170.2" y="859" width="4.1" height="18" fill="#a3c2df"/>
<rect x="127.1" y="859" width="47" height="18" fill="none" stroke="#3f3f4a" stroke-width="1.5"/>
<rect x="127.1" y="879.8" width="4.1" height="18" fill="#a3c2df"/>
<rect x="131" y="879.8" width="4.1" height="18" fill="#a3c2df"/>
<rect x="134.9" y="879.8" width="4.1" height="18" fill="#a3c2df"/>
<rect x="138.8" y="879.8" width="4.1" height="18" fill="#a3c2df"/>
<rect x="142.8" y="879.8" width="4.1" height="18" fill="#b4a4a8"/>
<rect x="146.7" y="879.8" width="4.1" height="18" fill="#a3c2df"/>
<rect x="150.6" y="879.8" width="4.1" height="18" fill="#cd654e"/>
<rect x="154.5" y="879.8" width="4.1" height="18" fill="#b4a4a8"/>
<rect x="158.4" y="879.8" width="4.1" height="18" fill="#a3c2df"/>
<rect x="162.3" y="879.8" width="4.1" height="18" fill="#a3c2df"/>
<rect x="166.3" y="879.8" width="4.1" height="18" fill="#a3c2df"/>
<rect x="170.2" y="879.8" width="4.1" height="18" fill="#a3c2df"/>
<rect x="127.1" y="879.8" width="47" height="18" fill="none" stroke="#3f3f4a" stroke-width="1.5"/>
<rect x="497.8" y="544.7" width="4.1" height="18" fill="#b4a4a8"/>
<rect x="501.7" y="544.7" width="4.1" height="18" fill="#cd654e"/>
<rect x="505.6" y="544.7" width="4.1" height="18" fill="#cd654e"/>
<rect x="509.5" y="544.7" width="4.1" height="18" fill="#b4a4a8"/>
<rect x="513.5" y="544.7" width="4.1" height="18" fill="#b4a4a8"/>
<rect x="517.4" y="544.7" width="4.1" height="18" fill="#b4a4a8"/>
<rect x="521.3" y="544.7" width="4.1" height="18" fill="#cd654e"/>
<rect x="525.2" y="544.7" width="4.1" height="18" fill="#b4a4a8"/>
<rect x="529.1" y="544.7" width="4.1" height="18" fill="#cd654e"/>
<rect x="533" y="544.7" width="4.1" height="18" fill="#cd654e"/>
<rect x="537" y="544.7" width="4.1" height="18" fill="#b4a4a8"/>
<rect x="540.9" y="544.7" width="4.1" height="18" fill="#b4a4a8"/>
<rect x="497.8" y="544.7" width="47" height="18" fill="none" stroke="#3f3f4a" stroke-width="1.5"/>
<rect x="423.9" y="664" width="4.1" height="18" fill="#b4a4a8"/>
<rect x="427.8" y="664" width="4.1" height="18" fill="#b4a4a8"/>
<rect x="431.7" y="664" width="4.1" height="18" fill="#a3c2df"/>
<rect x="435.6" y="664" width="4.1" height="18" fill="#b4a4a8"/>
<rect x="439.6" y="664" width="4.1" height="18" fill="#b4a4a8"/>
<rect x="443.5" y="664" width="4.1" height="18" fill="#cd654e"/>
<rect x="447.4" y="664" width="4.1" height="18" fill="#cd654e"/>
<rect x="451.3" y="664" width="4.1" height="18" fill="#cd654e"/>
<rect x="455.2" y="664" width="4.1" height="18" fill="#b4a4a8"/>
<rect x="459.1" y="664" width="4.1" height="18" fill="#a3c2df"/>
<rect x="463.1" y="664" width="4.1" height="18" fill="#a3c2df"/>
<rect x="467" y="664" width="4.1" height="18" fill="#b4a4a8"/>
<rect x="423.9" y="664" width="47" height="18" fill="none" stroke="#3f3f4a" stroke-width="1.5"/>
<rect x="423.9" y="691.6" width="4.1" height="18" fill="#a3c2df"/>
<rect x="427.8" y="691.6" width="4.1" height="18" fill="#a3c2df"/>
<rect x="431.7" y="691.6" width="4.1" height="18" fill="#b4a4a8"/>
<rect x="435.6" y="691.6" width="4.1" height="18" fill="#a3c2df"/>
<rect x="439.6" y="691.6" width="4.1" height="18" fill="#a3c2df"/>
<rect x="443.5" y="691.6" width="4.1" height="18" fill="#b4a4a8"/>
<rect x="447.4" y="691.6" width="4.1" height="18" fill="#cd654e"/>
<rect x="451.3" y="691.6" width="4.1" height="18" fill="#b4a4a8"/>
<rect x="455.2" y="691.6" width="4.1" height="18" fill="#a3c2df"/>
<rect x="459.1" y="691.6" width="4.1" height="18" fill="#a3c2df"/>
<rect x="463.1" y="691.6" width="4.1" height="18" fill="#a3c2df"/>
<rect x="467" y="691.6" width="4.1" height="18" fill="#a3c2df"/>
<rect x="423.9" y="691.6" width="47" height="18" fill="none" stroke="#3f3f4a" stroke-width="1.5"/>
<rect x="521.5" y="654" width="4.1" height="18" fill="#a3c2df"/>
<rect x="525.4" y="654" width="4.1" height="18" fill="#b4a4a8"/>
<rect x="529.3" y="654" width="4.1" height="18" fill="#cd654e"/>
<rect x="533.2" y="654" width="4.1" height="18" fill="#b4a4a8"/>
<rect x="537.2" y="654" width="4.1" height="18" fill="#b4a4a8"/>
<rect x="541.1" y="654" width="4.1" height="18" fill="#a3c2df"/>
<rect x="545" y="654" width="4.1" height="18" fill="#a3c2df"/>
<rect x="548.9" y="654" width="4.1" height="18" fill="#b4a4a8"/>
<rect x="552.8" y="654" width="4.1" height="18" fill="#b4a4a8"/>
<rect x="556.8" y="654" width="4.1" height="18" fill="#b4a4a8"/>
<rect x="560.7" y="654" width="4.1" height="18" fill="#a3c2df"/>
<rect x="564.6" y="654" width="4.1" height="18" fill="#a3c2df"/>
<rect x="521.5" y="654" width="47" height="18" fill="none" stroke="#3f3f4a" stroke-width="1.5"/>
<rect x="521.5" y="675.8" width="4.1" height="18" fill="#cd654e"/>
<rect x="525.4" y="675.8" width="4.1" height="18" fill="#cd654e"/>
<rect x="529.3" y="675.8" width="4.1" height="18" fill="#b4a4a8"/>
<rect x="533.2" y="675.8" width="4.1" height="18" fill="#b4a4a8"/>
<rect x="537.2" y="675.8" width="4.1" height="18" fill="#cd654e"/>
<rect x="541.1" y="675.8" width="4.1" height="18" fill="#cd654e"/>
<rect x="545" y="675.8" width="4.1" height="18" fill="#b4a4a8"/>
<rect x="548.9" y="675.8" width="4.1" height="18" fill="#b4a4a8"/>
<rect x="552.8" y="675.8" width="4.1" height="18" fill="#b4a4a8"/>
<rect x="556.8" y="675.8" width="4.1" height="18" fill="#cd654e"/>
<rect x="560.7" y="675.8" width="4.1" height="18" fill="#cd654e"/>
<rect x="564.6" y="675.8" width="4.1" height="18" fill="#b4a4a8"/>
<rect x="521.5" y="675.8" width="47" height="18" fill="none" stroke="#3f3f4a" stroke-width="1.5"/>
<rect x="617.9" y="430.3" width="4.1" height="18" fill="#a3c2df"/>
<rect x="621.8" y="430.3" width="4.1" height="18" fill="#a3c2df"/>
<rect x="625.7" y="430.3" width="4.1" height="18" fill="#a3c2df"/>
<rect x="629.6" y="430.3" width="4.1" height="18" fill="#a3c2df"/>
<rect x="633.6" y="430.3" width="4.1" height="18" fill="#a3c2df"/>
<rect x="637.5" y="430.3" width="4.1" height="18" fill="#b4a4a8"/>
<rect x="641.4" y="430.3" width="4.1" height="18" fill="#cd654e"/>
<rect x="645.3" y="430.3" width="4.1" height="18" fill="#a3c2df"/>
<rect x="649.2" y="430.3" width="4.1" height="18" fill="#a3c2df"/>
<rect x="653.1" y="430.3" width="4.1" height="18" fill="#a3c2df"/>
<rect x="657.1" y="430.3" width="4.1" height="18" fill="#a3c2df"/>
<rect x="661" y="430.3" width="4.1" height="18" fill="#a3c2df"/>
<rect x="617.9" y="430.3" width="47" height="18" fill="none" stroke="#3f3f4a" stroke-width="1.5"/>
<rect x="577.5" y="903.3" width="4.1" height="18" fill="#a3c2df"/>
<rect x="581.4" y="903.3" width="4.1" height="18" fill="#a3c2df"/>
<rect x="585.3" y="903.3" width="4.1" height="18" fill="#a3c2df"/>
<rect x="589.2" y="903.3" width="4.1" height="18" fill="#a3c2df"/>
<rect x="593.2" y="903.3" width="4.1" height="18" fill="#a3c2df"/>
<rect x="597.1" y="903.3" width="4.1" height="18" fill="#cd654e"/>
<rect x="601" y="903.3" width="4.1" height="18" fill="#cd654e"/>
<rect x="604.9" y="903.3" width="4.1" height="18" fill="#a3c2df"/>
<rect x="608.8" y="903.3" width="4.1" height="18" fill="#a3c2df"/>
<rect x="612.8" y="903.3" width="4.1" height="18" fill="#a3c2df"/>
<rect x="616.7" y="903.3" width="4.1" height="18" fill="#a3c2df"/>
<rect x="620.6" y="903.3" width="4.1" height="18" fill="#a3c2df"/>
<rect x="577.5" y="903.3" width="47" height="18" fill="none" stroke="#3f3f4a" stroke-width="1.5"/>
<rect x="577.5" y="924.5" width="4.1" height="18" fill="#b4a4a8"/>
<rect x="581.4" y="924.5" width="4.1" height="18" fill="#b4a4a8"/>
<rect x="585.3" y="924.5" width="4.1" height="18" fill="#a3c2df"/>
<rect x="589.2" y="924.5" width="4.1" height="18" fill="#b4a4a8"/>
<rect x="593.2" y="924.5" width="4.1" height="18" fill="#b4a4a8"/>
<rect x="597.1" y="924.5" width="4.1" height="18" fill="#cd654e"/>
<rect x="601" y="924.5" width="4.1" height="18" fill="#cd654e"/>
<rect x="604.9" y="924.5" width="4.1" height="18" fill="#cd654e"/>
<rect x="608.8" y="924.5" width="4.1" height="18" fill="#b4a4a8"/>
<rect x="612.8" y="924.5" width="4.1" height="18" fill="#b4a4a8"/>
<rect x="616.7" y="924.5" width="4.1" height="18" fill="#b4a4a8"/>
<rect x="620.6" y="924.5" width="4.1" height="18" fill="#a3c2df"/>
<rect x="577.5" y="924.5" width="47" height="18" fill="none" stroke="#3f3f4a" stroke-width="1.5"/>
<rect x="830.3" y="347.2" width="4.1" height="18" fill="#a3c2df"/>
<rect x="834.2" y="347.2" width="4.1" height="18" fill="#a3c2df"/>
<rect x="838.1" y="347.2" width="4.1" height="18" fill="#a3c2df"/>
<rect x="842" y="347.2" width="4.1" height="18" fill="#a3c2df"/>
<rect x="846" y="347.2" width="4.1" height="18" fill="#cd654e"/>
<rect x="849.9" y="347.2" width="4.1" height="18" fill="#b4a4a8"/>
<rect x="853.8" y="347.2" width="4.1" height="18" fill="#a3c2df"/>
<rect x="857.7" y="347.2" width="4.1" height="18" fill="#a3c2df"/>
<rect x="861.6" y="347.2" width="4.1" height="18" fill="#a3c2df"/>
<rect x="865.5" y="347.2" width="4.1" height="18" fill="#a3c2df"/>
<rect x="869.5" y="347.2" width="4.1" height="18" fill="#cd654e"/>
<rect x="873.4" y="347.2" width="4.1" height="18" fill="#a3c2df"/>
<rect x="830.3" y="347.2" width="47" height="18" fill="none" stroke="#3f3f4a" stroke-width="1.5"/>
<rect x="996" y="356.3" width="4.1" height="18" fill="#b4a4a8"/>
<rect x="999.9" y="356.3" width="4.1" height="18" fill="#a3c2df"/>
<rect x="1003.8" y="356.3" width="4.1" height="18" fill="#a3c2df"/>
<rect x="1007.8" y="356.3" width="4.1" height="18" fill="#b4a4a8"/>
<rect x="1011.7" y="356.3" width="4.1" height="18" fill="#b4a4a8"/>
<rect x="1015.6" y="356.3" width="4.1" height="18" fill="#a3c2df"/>
<rect x="1019.5" y="356.3" width="4.1" height="18" fill="#cd654e"/>
<rect x="1023.4" y="356.3" width="4.1" height="18" fill="#b4a4a8"/>
<rect x="1027.3" y="356.3" width="4.1" height="18" fill="#a3c2df"/>
<rect x="1031.2" y="356.3" width="4.1" height="18" fill="#a3c2df"/>
<rect x="1035.2" y="356.3" width="4.1" height="18" fill="#a3c2df"/>
<rect x="1039.1" y="356.3" width="4.1" height="18" fill="#b4a4a8"/>
<rect x="996" y="356.3" width="47" height="18" fill="none" stroke="#3f3f4a" stroke-width="1.5"/>
<rect x="831.3" y="593.4" width="4.1" height="18" fill="#cd654e"/>
<rect x="835.2" y="593.4" width="4.1" height="18" fill="#b4a4a8"/>
<rect x="839.1" y="593.4" width="4.1" height="18" fill="#b4a4a8"/>
<rect x="843" y="593.4" width="4.1" height="18" fill="#a3c2df"/>
<rect x="847" y="593.4" width="4.1" height="18" fill="#a3c2df"/>
<rect x="850.9" y="593.4" width="4.1" height="18" fill="#b4a4a8"/>
<rect x="854.8" y="593.4" width="4.1" height="18" fill="#a3c2df"/>
<rect x="858.7" y="593.4" width="4.1" height="18" fill="#a3c2df"/>
<rect x="862.6" y="593.4" width="4.1" height="18" fill="#b4a4a8"/>
<rect x="866.5" y="593.4" width="4.1" height="18" fill="#b4a4a8"/>
<rect x="870.5" y="593.4" width="4.1" height="18" fill="#cd654e"/>
<rect x="874.4" y="593.4" width="4.1" height="18" fill="#cd654e"/>
<rect x="831.3" y="593.4" width="47" height="18" fill="none" stroke="#3f3f4a" stroke-width="1.5"/>
<rect x="809.5" y="689.9" width="4.1" height="18" fill="#cd654e"/>
<rect x="813.4" y="689.9" width="4.1" height="18" fill="#cd654e"/>
<rect x="817.3" y="689.9" width="4.1" height="18" fill="#a3c2df"/>
<rect x="821.2" y="689.9" width="4.1" height="18" fill="#a3c2df"/>
<rect x="825.2" y="689.9" width="4.1" height="18" fill="#b4a4a8"/>
<rect x="829.1" y="689.9" width="4.1" height="18" fill="#a3c2df"/>
<rect x="833" y="689.9" width="4.1" height="18" fill="#a3c2df"/>
<rect x="836.9" y="689.9" width="4.1" height="18" fill="#b4a4a8"/>
<rect x="840.8" y="689.9" width="4.1" height="18" fill="#cd654e"/>
<rect x="844.8" y="689.9" width="4.1" height="18" fill="#cd654e"/>
<rect x="848.7" y="689.9" width="4.1" height="18" fill="#a3c2df"/>
<rect x="852.6" y="689.9" width="4.1" height="18" fill="#a3c2df"/>
<rect x="809.5" y="689.9" width="47" height="18" fill="none" stroke="#3f3f4a" stroke-width="1.5"/>
<rect x="1255.4" y="323.4" width="4.1" height="18" fill="#a3c2df"/>
<rect x="1259.3" y="323.4" width="4.1" height="18" fill="#a3c2df"/>
<rect x="1263.2" y="323.4" width="4.1" height="18" fill="#a3c2df"/>
<rect x="1267.2" y="323.4" width="4.1" height="18" fill="#a3c2df"/>
<rect x="1271.1" y="323.4" width="4.1" height="18" fill="#a3c2df"/>
<rect x="1275" y="323.4" width="4.1" height="18" fill="#b4a4a8"/>
<rect x="1278.9" y="323.4" width="4.1" height="18" fill="#cd654e"/>
<rect x="1282.8" y="323.4" width="4.1" height="18" fill="#a3c2df"/>
<rect x="1286.7" y="323.4" width="4.1" height="18" fill="#a3c2df"/>
<rect x="1290.7" y="323.4" width="4.1" height="18" fill="#a3c2df"/>
<rect x="1294.6" y="323.4" width="4.1" height="18" fill="#a3c2df"/>
<rect x="1298.5" y="323.4" width="4.1" height="18" fill="#a3c2df"/>
<rect x="1255.4" y="323.4" width="47" height="18" fill="none" stroke="#3f3f4a" stroke-width="1.5"/>
<rect x="1183.9" y="500.2" width="4.1" height="18" fill="#a3c2df"/>
<rect x="1187.8" y="500.2" width="4.1" height="18" fill="#a3c2df"/>
<rect x="1191.7" y="500.2" width="4.1" height="18" fill="#a3c2df"/>
<rect x="1195.7" y="500.2" width="4.1" height="18" fill="#a3c2df"/>
<rect x="1199.6" y="500.2" width="4.1" height="18" fill="#a3c2df"/>
<rect x="1203.5" y="500.2" width="4.1" height="18" fill="#b4a4a8"/>
<rect x="1207.4" y="500.2" width="4.1" height="18" fill="#cd654e"/>
<rect x="1211.3" y="500.2" width="4.1" height="18" fill="#a3c2df"/>
<rect x="1215.2" y="500.2" width="4.1" height="18" fill="#a3c2df"/>
<rect x="1219.2" y="500.2" width="4.1" height="18" fill="#a3c2df"/>
<rect x="1223.1" y="500.2" width="4.1" height="18" fill="#a3c2df"/>
<rect x="1227" y="500.2" width="4.1" height="18" fill="#a3c2df"/>
<rect x="1183.9" y="500.2" width="47" height="18" fill="none" stroke="#3f3f4a" stroke-width="1.5"/>
<rect x="955.7" y="931.9" width="4.1" height="18" fill="#a3c2df"/>
<rect x="959.6" y="931.9" width="4.1" height="18" fill="#a3c2df"/>
<rect x="963.5" y="931.9" width="4.1" height="18" fill="#b4a4a8"/>
<rect x="967.5" y="931.9" width="4.1" height="18" fill="#cd654e"/>
<rect x="971.4" y="931.9" width="4.1" height="18" fill="#a3c2df"/>
<rect x="975.3" y="931.9" width="4.1" height="18" fill="#a3c2df"/>
<rect x="979.2" y="931.9" width="4.1" height="18" fill="#a3c2df"/>
<rect x="983.1" y="931.9" width="4.1" height="18" fill="#a3c2df"/>
<rect x="987" y="931.9" width="4.1" height="18" fill="#b4a4a8"/>
<rect x="991" y="931.9" width="4.1" height="18" fill="#b4a4a8"/>
<rect x="994.9" y="931.9" width="4.1" height="18" fill="#a3c2df"/>
<rect x="998.8" y="931.9" width="4.1" height="18" fill="#a3c2df"/>
<rect x="955.7" y="931.9" width="47" height="18" fill="none" stroke="#3f3f4a" stroke-width="1.5"/>
<rect x="955.7" y="953.1" width="4.1" height="18" fill="#cd654e"/>
<rect x="959.6" y="953.1" width="4.1" height="18" fill="#cd654e"/>
<rect x="963.5" y="953.1" width="4.1" height="18" fill="#b4a4a8"/>
<rect x="967.5" y="953.1" width="4.1" height="18" fill="#cd654e"/>
<rect x="971.4" y="953.1" width="4.1" height="18" fill="#cd654e"/>
<rect x="975.3" y="953.1" width="4.1" height="18" fill="#cd654e"/>
<rect x="979.2" y="953.1" width="4.1" height="18" fill="#cd654e"/>
<rect x="983.1" y="953.1" width="4.1" height="18" fill="#cd654e"/>
<rect x="987" y="953.1" width="4.1" height="18" fill="#cd654e"/>
<rect x="991" y="953.1" width="4.1" height="18" fill="#b4a4a8"/>
<rect x="994.9" y="953.1" width="4.1" height="18" fill="#cd654e"/>
<rect x="998.8" y="953.1" width="4.1" height="18" fill="#cd654e"/>
<rect x="955.7" y="953.1" width="47" height="18" fill="none" stroke="#3f3f4a" stroke-width="1.5"/>
<rect x="955.7" y="972.6" width="4.1" height="18" fill="#cd654e"/>
<rect x="959.6" y="972.6" width="4.1" height="18" fill="#cd654e"/>
<rect x="963.5" y="972.6" width="4.1" height="18" fill="#cd654e"/>
<rect x="967.5" y="972.6" width="4.1" height="18" fill="#cd654e"/>
<rect x="971.4" y="972.6" width="4.1" height="18" fill="#cd654e"/>
<rect x="975.3" y="972.6" width="4.1" height="18" fill="#cd654e"/>
<rect x="979.2" y="972.6" width="4.1" height="18" fill="#cd654e"/>
<rect x="983.1" y="972.6" width="4.1" height="18" fill="#b4a4a8"/>
<rect x="987" y="972.6" width="4.1" height="18" fill="#cd654e"/>
<rect x="991" y="972.6" width="4.1" height="18" fill="#cd654e"/>
<rect x="994.9" y="972.6" width="4.1" height="18" fill="#cd654e"/>
<rect x="998.8" y="972.6" width="4.1" height="18" fill="#cd654e"/>
<rect x="955.7" y="972.6" width="47" height="18" fill="none" stroke="#3f3f4a" stroke-width="1.5"/>
<rect x="1029" y="953.1" width="4.1" height="18" fill="#cd654e"/>
<rect x="1032.9" y="953.1" width="4.1" height="18" fill="#cd654e"/>
<rect x="1036.8" y="953.1" width="4.1" height="18" fill="#b4a4a8"/>
<rect x="1040.8" y="953.1" width="4.1" height="18" fill="#cd654e"/>
<rect x="1044.7" y="953.1" width="4.1" height="18" fill="#cd654e"/>
<rect x="1048.6" y="953.1" width="4.1" height="18" fill="#cd654e"/>
<rect x="1052.5" y="953.1" width="4.1" height="18" fill="#cd654e"/>
<rect x="1056.4" y="953.1" width="4.1" height="18" fill="#cd654e"/>
<rect x="1060.3" y="953.1" width="4.1" height="18" fill="#cd654e"/>
<rect x="1064.2" y="953.1" width="4.1" height="18" fill="#cd654e"/>
<rect x="1068.2" y="953.1" width="4.1" height="18" fill="#b4a4a8"/>
<rect x="1072.1" y="953.1" width="4.1" height="18" fill="#cd654e"/>
<rect x="1029" y="953.1" width="47" height="18" fill="none" stroke="#3f3f4a" stroke-width="1.5"/>
<rect x="1068.8" y="878.6" width="4.1" height="18" fill="#cd654e"/>
<rect x="1072.7" y="878.6" width="4.1" height="18" fill="#cd654e"/>
<rect x="1076.6" y="878.6" width="4.1" height="18" fill="#cd654e"/>
<rect x="1080.5" y="878.6" width="4.1" height="18" fill="#b4a4a8"/>
<rect x="1084.5" y="878.6" width="4.1" height="18" fill="#cd654e"/>
<rect x="1088.4" y="878.6" width="4.1" height="18" fill="#cd654e"/>
<rect x="1092.3" y="878.6" width="4.1" height="18" fill="#cd654e"/>
<rect x="1096.2" y="878.6" width="4.1" height="18" fill="#cd654e"/>
<rect x="1100.1" y="878.6" width="4.1" height="18" fill="#cd654e"/>
<rect x="1104" y="878.6" width="4.1" height="18" fill="#cd654e"/>
<rect x="1108" y="878.6" width="4.1" height="18" fill="#b4a4a8"/>
<rect x="1111.9" y="878.6" width="4.1" height="18" fill="#a3c2df"/>
<rect x="1068.8" y="878.6" width="47" height="18" fill="none" stroke="#3f3f4a" stroke-width="1.5"/>
<g stroke="#000" stroke-width=".55">
<text x="113.2" y="334.1" font-size="11.6" text-anchor="middle" fill="#111">F7</text>
<text x="440.1" y="265.2" font-size="11.6" text-anchor="middle" fill="#111">F12</text>
<text x="366.7" y="299.5" font-size="11.6" text-anchor="middle" fill="#111">F11</text>
<text x="579.2" y="265.7" font-size="11.6" text-anchor="middle" fill="#111">KLKB1</text>
<text x="640.4" y="300.3" font-size="11.6" text-anchor="middle" fill="#111">KNG</text>
<text x="325.8" y="398.3" font-size="11.6" text-anchor="middle" fill="#111">VWF</text>
<text x="241.8" y="407.7" font-size="11.6" text-anchor="middle" fill="#111">Serpin</text>
<text x="464.7" y="440.7" font-size="11.6" text-anchor="middle" fill="#111">Serpin</text>
<text x="179" y="474.9" font-size="11.6" text-anchor="middle" fill="#111">F10</text>
<text x="137.6" y="533.1" font-size="11.6" text-anchor="middle" fill="#111">F3</text>
<text x="103.5" y="665.1" font-size="11.6" text-anchor="middle" fill="#111">Serpin</text>
<text x="232.9" y="676.9" font-size="11.6" text-anchor="middle" fill="#111">PC</text>
<text x="438" y="606.3" font-size="11.6" text-anchor="middle" fill="#111">PCI</text>
<text x="248.4" y="728" font-size="11.6" text-anchor="middle" fill="#111">EPCR</text>
<text x="248.4" y="748.5" font-size="11.6" text-anchor="middle" fill="#111">TM</text>
<text x="447.4" y="725.7" font-size="11.6" text-anchor="middle" fill="#111">Serpin</text>
<text x="634.7" y="687.7" font-size="11.6" text-anchor="middle" fill="#111">uPAR</text>
<text x="432.9" y="832.5" font-size="11.6" text-anchor="middle" fill="#111">PAR1</text>
<text x="432.9" y="863.5" font-size="11.6" text-anchor="middle" fill="#111">PAR3/4</text>
<text x="319.6" y="916.2" font-size="11.6" text-anchor="middle" fill="#111">F13</text>
<text x="203" y="966" font-size="11.6" text-anchor="middle" fill="#111" textLength="42" lengthAdjust="spacingAndGlyphs">Fibrinogen</text>
<text x="601" y="895.4" font-size="11.6" text-anchor="middle" fill="#111">CPB2</text>
<text x="911.3" y="265.7" font-size="11.6" text-anchor="middle" fill="#111">C4</text>
<text x="961.7" y="265.7" font-size="11.6" text-anchor="middle" fill="#111">C2</text>
<text x="1019.5" y="350.7" font-size="11.6" text-anchor="middle" fill="#111">MBL</text>
<text x="1038.7" y="431.4" font-size="11.6" text-anchor="middle" fill="#111">C1INH</text>
<text x="1237.7" y="265.5" font-size="11.6" text-anchor="middle" fill="#111">C3</text>
<text x="1293.9" y="364.2" font-size="11.6" text-anchor="middle" fill="#111">FD</text>
<text x="1166.6" y="389.7" font-size="11.6" text-anchor="middle" fill="#111">C3</text>
<text x="1223.1" y="540.5" font-size="11.6" text-anchor="middle" fill="#111">FD</text>
<text x="1337" y="548.9" font-size="11.6" text-anchor="middle" fill="#111">CFHR</text>
<text x="1267.4" y="606.2" font-size="11.6" text-anchor="middle" fill="#111" textLength="42" lengthAdjust="spacingAndGlyphs">Cd55/Cr1l</text>
<text x="1320.7" y="606.2" font-size="11.6" text-anchor="middle" fill="#111">FH</text>
<text x="1052.5" y="532.9" font-size="11.6" text-anchor="middle" fill="#111">C3</text>
<text x="1052.5" y="729.9" font-size="11.6" text-anchor="middle" fill="#111">C5</text>
<text x="833" y="684.6" font-size="11.6" text-anchor="middle" fill="#111">FI</text>
<text x="1245.7" y="718.8" font-size="11.6" text-anchor="middle" fill="#111">FI</text>
<text x="1245.7" y="737" font-size="11.6" text-anchor="middle" fill="#111" textLength="42" lengthAdjust="spacingAndGlyphs">Cofactor</text>
<text x="1245.7" y="816.1" font-size="11.6" text-anchor="middle" fill="#111">FI</text>
<text x="1245.7" y="833.9" font-size="11.6" text-anchor="middle" fill="#111" textLength="42" lengthAdjust="spacingAndGlyphs">Cofactor</text>
<text x="1420.1" y="641.1" font-size="11.6" text-anchor="middle" fill="#111">C3AR1</text>
<text x="1420.1" y="687.4" font-size="11.6" text-anchor="middle" fill="#111">CRIg</text>
<text x="1420.1" y="736.3" font-size="11.6" text-anchor="middle" fill="#111">CR1</text>
<text x="1420.1" y="784.7" font-size="11.6" text-anchor="middle" fill="#111">CR2</text>
<text x="1420.1" y="833.9" font-size="11.6" text-anchor="middle" fill="#111">CR3</text>
<text x="1420.1" y="883.4" font-size="11.6" text-anchor="middle" fill="#111">CR4</text>
<text x="1420.1" y="959.1" font-size="11.6" text-anchor="middle" fill="#111">C5AR1</text>
<text x="293.9" y="334.1" font-size="11.6" text-anchor="middle" fill="#111">F9</text>
<text x="325.8" y="415.9" font-size="11.6" text-anchor="middle" fill="#111">F8</text>
<text x="210.7" y="536.4" font-size="11.6" text-anchor="middle" fill="#111">F5</text>
<text x="103.5" y="586.8" font-size="11.6" text-anchor="middle" fill="#111">TFPI</text>
<text x="290" y="646.7" font-size="11.6" text-anchor="middle" fill="#111">PS</text>
<text x="125.3" y="787.2" font-size="11.6" text-anchor="middle" fill="#111">F2</text>
<text x="150.6" y="871.9" font-size="11.6" text-anchor="middle" fill="#111">Serpin</text>
<text x="150.6" y="892.7" font-size="11.6" text-anchor="middle" fill="#111">A2M</text>
<text x="521.3" y="557.6" font-size="11.6" text-anchor="middle" fill="#111">PLG</text>
<text x="447.4" y="676.9" font-size="11.6" text-anchor="middle" fill="#111">PAI</text>
<text x="447.4" y="704.5" font-size="11.6" text-anchor="middle" fill="#111">A2M</text>
<text x="545" y="666.9" font-size="11.6" text-anchor="middle" fill="#111">tPA</text>
<text x="545" y="688.7" font-size="11.6" text-anchor="middle" fill="#111">uPA</text>
<text x="641.4" y="443.2" font-size="11.6" text-anchor="middle" fill="#111">BDKR</text>
<text x="601" y="916.2" font-size="11.6" text-anchor="middle" fill="#111">A2M</text>
<text x="601" y="937.4" font-size="11.6" text-anchor="middle" fill="#111">Serpin</text>
<text x="853.8" y="360.1" font-size="11.6" text-anchor="middle" fill="#111">C1qrs</text>
<text x="1019.5" y="369.2" font-size="11.6" text-anchor="middle" fill="#111">MASP1/2</text>
<text x="854.8" y="606.3" font-size="11.6" text-anchor="middle" fill="#111">C4BP</text>
<text x="833" y="702.8" font-size="11.6" text-anchor="middle" fill="#111" textLength="42" lengthAdjust="spacingAndGlyphs">Cofactor</text>
<text x="1278.9" y="336.3" font-size="11.6" text-anchor="middle" fill="#111">FB</text>
<text x="1207.4" y="513.1" font-size="11.6" text-anchor="middle" fill="#111">FB</text>
<text x="979.2" y="944.8" font-size="11.6" text-anchor="middle" fill="#111">CD59</text>
<text x="979.2" y="966" font-size="11.6" text-anchor="middle" fill="#111" textLength="42" lengthAdjust="spacingAndGlyphs">Clusterin</text>
<text x="979.2" y="985.5" font-size="11.6" text-anchor="middle" fill="#111" textLength="42" lengthAdjust="spacingAndGlyphs">Vitronectin</text>
<text x="1052.5" y="966" font-size="11.6" text-anchor="middle" fill="#111">MAC</text>
<text x="1092.3" y="891.5" font-size="11.6" text-anchor="middle" fill="#111" textLength="42" lengthAdjust="spacingAndGlyphs">C6/7/8/9</text>
<text x="118" y="192" font-size="12.2" text-anchor="middle" font-weight="bold">Extrinsic pathway</text>
<text x="440.6" y="192" font-size="12.2" text-anchor="middle" font-weight="bold">Intrinsic pathway</text>
<text x="854.8" y="192" font-size="12.2" text-anchor="middle" font-weight="bold">Classical pathway</text>
<text x="1020.6" y="192" font-size="12.2" text-anchor="middle" font-weight="bold">Lectin pathway</text>
<text x="1238.1" y="192.2" font-size="12.2" text-anchor="middle" font-weight="bold">Alternative pathway</text>
<text x="115.3" y="209.4" font-size="12.2" text-anchor="middle">Tissue damage</text>
<text x="440.6" y="209.4" font-size="12.2" text-anchor="middle">Contact with</text>
<text x="440.6" y="221.2" font-size="12.2" text-anchor="middle">damaged vessel</text>
<text x="854.8" y="209.4" font-size="12.2" text-anchor="middle">Antigen-antibody</text>
<text x="854.8" y="221.2" font-size="12.2" text-anchor="middle">complex</text>
<text x="1020.6" y="209.4" font-size="12.2" text-anchor="middle">Carbohydrate</text>
<text x="1238.1" y="209.6" font-size="12.2" text-anchor="middle">Microbe</text>
<text x="366.7" y="152.8" font-size="12.2" text-anchor="middle">Coagulation cascade</text>
<text x="1093.4" y="152.8" font-size="12.2" text-anchor="middle">Complement cascade</text>
<text x="679" y="265.8" font-size="12.2" text-anchor="middle">Kallikrein-kinin system</text>
<text x="433" y="323.8" font-size="12.2" text-anchor="end">F12a</text>
<text x="377" y="365.3" font-size="12.2">F11a</text>
<text x="585" y="342.2" font-size="12.2">Kallikrein</text>
<text x="641.4" y="379.9" font-size="12.2" text-anchor="middle">Bradykinin</text>
<text x="737.9" y="438" font-size="12.2" text-anchor="middle">Inflammation,</text>
<text x="737.9" y="448.8" font-size="12.2" text-anchor="middle">vasodilation</text>
<text x="672" y="489.4" font-size="12.2" text-anchor="middle">Inflammatory mediator</text>
<text x="672" y="501.2" font-size="12.2" text-anchor="middle">regulation of TRP channels</text>
<text x="106" y="482.3" font-size="12.2" text-anchor="end">F7a</text>
<text x="286" y="482.3" font-size="12.2" text-anchor="end">F9a</text>
<text x="332.5" y="482.3" font-size="12.2">F8a</text>
<text x="175" y="621.8" font-size="12.2" text-anchor="middle">F10a</text>
<text x="211.4" y="621.8" font-size="12.2" text-anchor="middle">F5a</text>
<text x="317.3" y="692.6" font-size="12.2" text-anchor="middle">APC</text>
<text x="284.3" y="802.2" font-size="12.2" text-anchor="middle">F2a</text>
<text x="284.3" y="814" font-size="12.2" text-anchor="middle">(Thrombin)</text>
<text x="388.5" y="929.9" font-size="12.2" text-anchor="middle">F13a</text>
<text x="372.7" y="980" font-size="12.2" text-anchor="middle">Fibrin</text>
<text x="372.7" y="991.1" font-size="12.2" text-anchor="middle">monomer</text>
<text x="487.7" y="980" font-size="12.2" text-anchor="middle">Cross-linked</text>
<text x="487.7" y="991.1" font-size="12.2" text-anchor="middle">fibrin polymer</text>
<text x="601" y="965.9" font-size="12.2" text-anchor="middle">Fibrin clot</text>
<text x="808.8" y="960.2" font-size="12.2" text-anchor="middle">Fibrin degradation</text>
<text x="808.8" y="971.6" font-size="12.2" text-anchor="middle">products</text>
<text x="648.1" y="579.3" font-size="12.2" text-anchor="middle">Fibrinolytic system</text>
<text x="736.5" y="570.9" font-size="12.2" text-anchor="middle">Plasmin</text>
<text x="686.8" y="726.2" font-size="12.2" text-anchor="middle">Cell adhesion,</text>
<text x="686.8" y="738" font-size="12.2" text-anchor="middle">migration,</text>
<text x="686.8" y="749.1" font-size="12.2" text-anchor="middle">proliferation</text>
<text x="604" y="815.1" font-size="12.2" text-anchor="middle">Platelet activation</text>
<text x="610" y="838.8" font-size="12.2" text-anchor="middle">Anti-inflammatory responses,vasodilation,</text>
<text x="610" y="849.9" font-size="12.2" text-anchor="middle">increased endothelial permeability,</text>
<text x="610" y="861" font-size="12.2" text-anchor="middle">release of Weibel-Palade bodies</text>
<text x="912.6" y="453.1" font-size="12.2" text-anchor="middle">C4a</text>
<text x="961.7" y="453.1" font-size="12.2" text-anchor="middle">C2b</text>
<text x="937.2" y="596.1" font-size="12.2" text-anchor="middle">C4b2a</text>
<text x="937.2" y="608.6" font-size="12.2" text-anchor="middle">(C3 convertase)</text>
<text x="880.7" y="661.7" font-size="12.2" text-anchor="middle">C4b</text>
<text x="869" y="740.2" font-size="12.2" text-anchor="end">C4c</text>
<text x="895" y="740.2" font-size="12.2">C4d</text>
<text x="937.2" y="761.5" font-size="12.2" text-anchor="middle">C4b2a3b</text>
<text x="937.2" y="774.3" font-size="12.2" text-anchor="middle">(C5 convertase)</text>
<text x="1052.5" y="695.3" font-size="12.2" text-anchor="middle">C3b</text>
<text x="1052.5" y="872.8" font-size="12.2" text-anchor="middle">C5b</text>
<text x="1076.6" y="628.8" font-size="12.2" text-anchor="middle">C3a</text>
<text x="1076.6" y="838" font-size="12.2" text-anchor="middle">C5a</text>
<text x="1108" y="665.4" font-size="12.2" text-anchor="middle">Amplification loop</text>
<text x="1148.8" y="965.3" font-size="12.2" text-anchor="middle">Cell lysis</text>
<text x="1267.4" y="289.8" font-size="12.2" text-anchor="middle">Tick-over</text>
<text x="1230" y="319.3" font-size="12.2" text-anchor="end">C3(H2O)</text>
<text x="1237" y="427.9" font-size="12.2" text-anchor="middle">C3(H2O)Bb</text>
<text x="1237" y="440.2" font-size="12.2" text-anchor="middle">(C3 convertase)</text>
<text x="1190.6" y="476.4" font-size="12.2" text-anchor="middle">C3a</text>
<text x="1160" y="493.1" font-size="12.2" text-anchor="end">C3b</text>
<text x="1166.6" y="596.3" font-size="12.2" text-anchor="middle">C3bBb</text>
<text x="1166.6" y="608.5" font-size="12.2" text-anchor="middle">(C3 convertase)</text>
<text x="1166.6" y="761.3" font-size="12.2" text-anchor="middle">C3bBb3b</text>
<text x="1166.6" y="774.5" font-size="12.2" text-anchor="middle">(C5 convertase)</text>
<text x="1299" y="700.2" font-size="12.2" text-anchor="middle">C3b</text>
<text x="1298" y="797.9" font-size="12.2" text-anchor="middle">iC3b</text>
<text x="1269.1" y="778.7" font-size="12.2" text-anchor="middle">C3f</text>
<text x="1269.1" y="871.1" font-size="12.2" text-anchor="middle">C3c</text>
<text x="1296.3" y="895.5" font-size="12.2" text-anchor="middle">C3dg</text>
<text x="1264.2" y="925.2" font-size="12.2" text-anchor="middle">Plasmin</text>
<text x="1301" y="941.6" font-size="12.2">C3d</text>
<text x="1528.2" y="637.5" font-size="12.2" text-anchor="middle">Degranulation,</text>
<text x="1528.2" y="649" font-size="12.2" text-anchor="middle">chemotaxis</text>
<text x="1524.7" y="710.7" font-size="12.2" text-anchor="middle">Phagocytosis</text>
<text x="1524.7" y="858.9" font-size="12.2" text-anchor="middle">Phagocytosis</text>
<text x="1542.7" y="800.2" font-size="12.2" text-anchor="middle">B cell receptor</text>
<text x="1542.7" y="812" font-size="12.2" text-anchor="middle">signaling pathway</text>
<text x="1528.2" y="953.1" font-size="12.2" text-anchor="middle">Degranulation,</text>
<text x="1528.2" y="964.6" font-size="12.2" text-anchor="middle">chemotaxis</text>
<text x="38" y="1013.8" font-size="12.2">04610 9/28/22</text>
<text x="38" y="1025.8" font-size="12.2">(c) Kanehisa Laboratories</text>
</g>
<rect x="1522" y="48.9" width="78.8" height="10.4" fill="url(#ck)"/>
<path d="M1522 55V61M1529.9 55V61M1537.8 55V61M1545.6 55V61M1553.5 55V61M1561.4 55V61M1569.3 55V61M1577.2 55V61M1585 55V61M1592.9 55V61M1600.8 55V61" stroke="#333" stroke-width="1"/>
<text x="1522" y="78.6" font-size="13.6" text-anchor="middle" font-weight="bold" fill="#111">-1.0</text>
<text x="1560.3" y="78.6" font-size="13.6" text-anchor="middle" font-weight="bold" fill="#111">0.0</text>
<text x="1600.8" y="78.6" font-size="13.6" text-anchor="middle" font-weight="bold" fill="#111">1.0</text>
</g></g>
</svg></body></html>
